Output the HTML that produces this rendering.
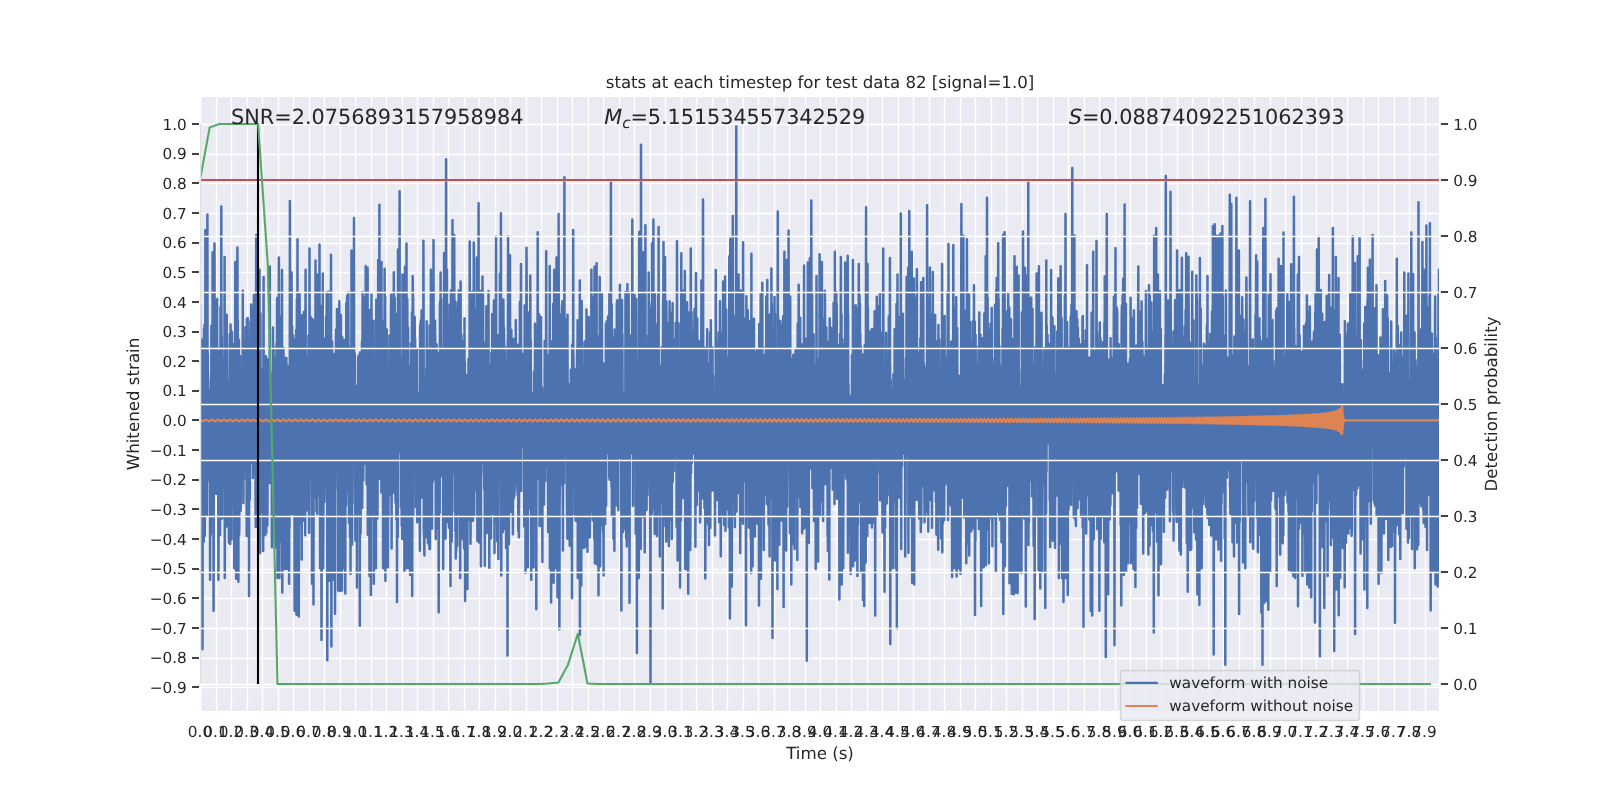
<!DOCTYPE html>
<html><head><meta charset="utf-8"><title>stats at each timestep</title>
<style>html,body{margin:0;padding:0;background:#fff;overflow:hidden}svg{display:block;will-change:transform;-webkit-font-smoothing:antialiased;text-rendering:geometricPrecision}</style></head>
<body>
<svg width="1600" height="800" viewBox="0 0 1600 800" font-family="'DejaVu Sans', 'Liberation Sans', sans-serif" fill="#262626">
<defs><clipPath id="ax"><rect x="200.0" y="96.0" width="1240.0" height="616.0"/></clipPath></defs>
<rect x="0" y="0" width="1600" height="800" fill="#fff"/>
<rect x="200.0" y="96.0" width="1240.0" height="616.0" fill="#EAEAF2"/>
<path d="M200.5 96.0V712.0M216.5 96.0V712.0M231.5 96.0V712.0M247.5 96.0V712.0M262.5 96.0V712.0M278.5 96.0V712.0M293.5 96.0V712.0M309.5 96.0V712.0M324.5 96.0V712.0M340.5 96.0V712.0M355.5 96.0V712.0M371.5 96.0V712.0M386.5 96.0V712.0M402.5 96.0V712.0M417.5 96.0V712.0M433.5 96.0V712.0M448.5 96.0V712.0M464.5 96.0V712.0M479.5 96.0V712.0M495.5 96.0V712.0M510.5 96.0V712.0M526.5 96.0V712.0M541.5 96.0V712.0M557.5 96.0V712.0M572.5 96.0V712.0M588.5 96.0V712.0M603.5 96.0V712.0M619.5 96.0V712.0M634.5 96.0V712.0M650.5 96.0V712.0M665.5 96.0V712.0M681.5 96.0V712.0M696.5 96.0V712.0M712.5 96.0V712.0M727.5 96.0V712.0M743.5 96.0V712.0M758.5 96.0V712.0M774.5 96.0V712.0M789.5 96.0V712.0M805.5 96.0V712.0M820.5 96.0V712.0M836.5 96.0V712.0M851.5 96.0V712.0M867.5 96.0V712.0M882.5 96.0V712.0M898.5 96.0V712.0M913.5 96.0V712.0M929.5 96.0V712.0M944.5 96.0V712.0M960.5 96.0V712.0M975.5 96.0V712.0M991.5 96.0V712.0M1006.5 96.0V712.0M1022.5 96.0V712.0M1037.5 96.0V712.0M1053.5 96.0V712.0M1068.5 96.0V712.0M1084.5 96.0V712.0M1099.5 96.0V712.0M1115.5 96.0V712.0M1130.5 96.0V712.0M1146.5 96.0V712.0M1161.5 96.0V712.0M1177.5 96.0V712.0M1192.5 96.0V712.0M1208.5 96.0V712.0M1223.5 96.0V712.0M1239.5 96.0V712.0M1254.5 96.0V712.0M1270.5 96.0V712.0M1285.5 96.0V712.0M1301.5 96.0V712.0M1316.5 96.0V712.0M1332.5 96.0V712.0M1347.5 96.0V712.0M1363.5 96.0V712.0M1378.5 96.0V712.0M1394.5 96.0V712.0M1409.5 96.0V712.0M1425.5 96.0V712.0M200.0 687.5H1440.0M200.0 658.5H1440.0M200.0 628.5H1440.0M200.0 598.5H1440.0M200.0 569.5H1440.0M200.0 539.5H1440.0M200.0 509.5H1440.0M200.0 480.5H1440.0M200.0 450.5H1440.0M200.0 420.5H1440.0M200.0 391.5H1440.0M200.0 361.5H1440.0M200.0 332.5H1440.0M200.0 302.5H1440.0M200.0 272.5H1440.0M200.0 243.5H1440.0M200.0 213.5H1440.0M200.0 183.5H1440.0M200.0 154.5H1440.0M200.0 124.5H1440.0" stroke="#fff" stroke-width="1.389" fill="none"/>
<g clip-path="url(#ax)" fill="none" stroke-linejoin="round" stroke-linecap="round">
<polyline points="200.0,304.8 200.2,457.5 200.4,417.8 200.6,388.1 200.8,483.1 201.0,420.3 201.2,420.5 201.4,445.4 201.6,339.6 201.7,372.7 201.9,470.1 202.1,434.1 202.3,380.3 202.5,649.2 202.7,439.7 202.9,535.9 203.1,376.4 203.3,410.6 203.5,398.6 203.7,541.7 203.9,329.2 204.1,408.2 204.3,451.2 204.5,325.3 204.7,424.1 204.8,535.7 205.0,452.6 205.2,512.5 205.4,230.0 205.6,453.5 205.8,479.4 206.0,335.2 206.2,437.6 206.4,377.9 206.6,402.0 206.8,473.1 207.0,516.1 207.2,304.3 207.4,214.5 207.6,446.6 207.8,353.7 207.9,434.7 208.1,375.3 208.3,480.3 208.5,429.8 208.7,396.8 208.9,390.0 209.1,434.7 209.3,399.0 209.5,462.1 209.7,445.8 209.9,401.6 210.1,579.8 210.3,400.4 210.5,431.0 210.7,445.0 210.8,534.5 211.0,380.6 211.2,428.0 211.4,325.7 211.6,449.8 211.8,396.8 212.0,428.4 212.2,458.6 212.4,450.9 212.6,252.3 212.8,515.3 213.0,503.9 213.2,444.3 213.4,514.2 213.6,610.8 213.8,442.9 213.9,411.8 214.1,306.2 214.3,301.0 214.5,243.6 214.7,394.1 214.9,362.1 215.1,435.8 215.3,468.5 215.5,368.4 215.7,349.4 215.9,387.4 216.1,493.8 216.3,436.0 216.5,467.4 216.7,444.3 216.9,317.4 217.1,298.9 217.2,367.3 217.4,376.9 217.6,366.7 217.8,421.4 218.0,426.5 218.2,474.0 218.4,579.8 218.6,532.9 218.8,351.4 219.0,447.6 219.2,457.9 219.4,489.1 219.6,390.7 219.8,389.3 220.0,535.1 220.2,381.8 220.3,465.7 220.5,307.1 220.7,408.0 220.9,421.0 221.1,456.8 221.3,206.4 221.5,396.6 221.7,336.6 221.9,375.5 222.1,518.5 222.3,405.9 222.5,418.7 222.7,454.5 222.9,471.9 223.1,406.1 223.2,451.5 223.4,487.7 223.6,369.8 223.8,410.1 224.0,426.5 224.2,358.4 224.4,381.6 224.6,257.1 224.8,577.9 225.0,397.9 225.2,469.5 225.4,449.2 225.6,461.8 225.8,403.8 226.0,506.1 226.2,430.5 226.3,413.4 226.5,526.6 226.7,314.7 226.9,390.8 227.1,476.9 227.3,381.0 227.5,462.6 227.7,509.6 227.9,519.2 228.1,461.4 228.3,442.2 228.5,485.9 228.7,442.8 228.9,542.5 229.1,419.3 229.3,421.6 229.4,435.9 229.6,365.1 229.8,333.7 230.0,455.2 230.2,544.1 230.4,360.2 230.6,324.6 230.8,342.5 231.0,494.3 231.2,387.7 231.4,353.9 231.6,539.4 231.8,382.6 232.0,332.1 232.2,475.8 232.4,374.1 232.6,505.5 232.7,485.0 232.9,485.4 233.1,405.2 233.3,427.7 233.5,344.6 233.7,495.2 233.9,430.9 234.1,344.1 234.3,568.2 234.5,525.7 234.7,367.6 234.9,458.5 235.1,389.8 235.3,262.0 235.5,323.6 235.7,411.2 235.8,366.8 236.0,529.3 236.2,578.8 236.4,441.0 236.6,330.0 236.8,398.7 237.0,480.0 237.2,334.5 237.4,247.4 237.6,334.9 237.8,319.6 238.0,462.1 238.2,369.9 238.4,581.7 238.6,408.8 238.8,497.7 238.9,339.8 239.1,535.0 239.3,527.2 239.5,449.2 239.7,357.8 239.9,396.6 240.1,356.0 240.3,455.7 240.5,434.1 240.7,510.8 240.9,445.6 241.1,373.3 241.3,444.3 241.5,382.7 241.7,466.0 241.8,467.5 242.0,417.3 242.2,435.9 242.4,373.4 242.6,406.3 242.8,290.7 243.0,437.9 243.2,438.5 243.4,503.1 243.6,418.6 243.8,366.2 244.0,479.3 244.2,424.4 244.4,363.4 244.6,430.5 244.8,461.7 244.9,343.1 245.1,412.7 245.3,388.9 245.5,327.4 245.7,329.5 245.9,448.0 246.1,462.2 246.3,397.9 246.5,431.0 246.7,536.1 246.9,319.1 247.1,418.9 247.3,361.9 247.5,513.6 247.7,318.1 247.9,467.2 248.1,429.0 248.2,531.8 248.4,433.7 248.6,438.7 248.8,435.2 249.0,595.9 249.2,415.7 249.4,342.9 249.6,457.6 249.8,499.6 250.0,422.0 250.2,370.5 250.4,321.6 250.6,355.8 250.8,462.8 251.0,390.5 251.2,304.4 251.3,415.5 251.5,461.4 251.7,395.9 251.9,460.4 252.1,369.7 252.3,421.5 252.5,309.8 252.7,380.8 252.9,478.0 253.1,372.4 253.3,346.1 253.5,465.6 253.7,454.3 253.9,295.0 254.1,348.7 254.2,467.1 254.4,473.3 254.6,361.8 254.8,438.2 255.0,360.0 255.2,427.5 255.4,383.0 255.6,508.0 255.8,527.0 256.0,350.1 256.2,234.9 256.4,422.9 256.6,318.6 256.8,496.0 257.0,453.8 257.2,338.9 257.4,484.2 257.5,419.8 257.7,376.3 257.9,468.3 258.1,394.3 258.3,434.3 258.5,546.6 258.7,400.0 258.9,346.3 259.1,432.2 259.3,426.0 259.5,269.7 259.7,519.7 259.9,539.4 260.1,553.1 260.3,515.5 260.4,313.5 260.6,395.8 260.8,489.1 261.0,469.3 261.2,426.8 261.4,468.9 261.6,481.0 261.8,396.3 262.0,369.7 262.2,402.8 262.4,492.6 262.6,512.5 262.8,373.1 263.0,424.8 263.2,550.9 263.4,327.4 263.6,276.9 263.7,439.6 263.9,441.1 264.1,402.1 264.3,475.0 264.5,527.6 264.7,394.8 264.9,534.8 265.1,389.4 265.3,535.0 265.5,428.3 265.7,431.2 265.9,356.2 266.1,505.0 266.3,532.9 266.5,471.8 266.6,509.7 266.8,467.3 267.0,387.0 267.2,359.1 267.4,525.6 267.6,479.0 267.8,362.2 268.0,365.8 268.2,436.6 268.4,456.5 268.6,427.1 268.8,414.7 269.0,366.1 269.2,414.6 269.4,436.4 269.6,482.9 269.8,266.4 269.9,340.6 270.1,459.1 270.3,402.2 270.5,472.5 270.7,482.9 270.9,414.1 271.1,378.9 271.3,465.2 271.5,436.9 271.7,373.9 271.9,547.3 272.1,410.8 272.3,388.7 272.5,421.8 272.7,515.0 272.9,536.5 273.0,327.5 273.2,421.8 273.4,377.6 273.6,346.9 273.8,424.3 274.0,445.0 274.2,495.7 274.4,460.2 274.6,541.1 274.8,426.0 275.0,434.4 275.2,388.4 275.4,430.5 275.6,407.8 275.8,357.9 275.9,490.8 276.1,443.3 276.3,548.1 276.5,343.2 276.7,417.4 276.9,381.5 277.1,297.9 277.3,334.7 277.5,577.9 277.7,357.9 277.9,534.2 278.1,386.0 278.3,409.4 278.5,549.0 278.7,314.2 278.9,257.5 279.1,366.2 279.2,453.8 279.4,577.9 279.6,316.2 279.8,486.4 280.0,542.0 280.2,430.9 280.4,353.0 280.6,450.0 280.8,469.2 281.0,381.7 281.2,456.1 281.4,473.3 281.6,530.4 281.8,397.0 282.0,269.9 282.1,509.0 282.3,592.4 282.5,537.1 282.7,421.5 282.9,474.7 283.1,450.4 283.3,477.4 283.5,348.0 283.7,429.1 283.9,378.8 284.1,382.3 284.3,484.5 284.5,375.2 284.7,392.7 284.9,569.1 285.1,452.1 285.2,454.4 285.4,358.0 285.6,517.5 285.8,486.4 286.0,378.0 286.2,449.5 286.4,358.1 286.6,385.6 286.8,569.1 287.0,385.2 287.2,468.2 287.4,499.0 287.6,429.0 287.8,478.0 288.0,471.4 288.2,366.3 288.4,436.6 288.5,475.4 288.7,445.1 288.9,395.7 289.1,583.7 289.3,447.9 289.5,528.0 289.7,495.3 289.9,200.9 290.1,335.0 290.3,412.8 290.5,486.9 290.7,412.8 290.9,439.5 291.1,377.1 291.3,411.1 291.4,469.9 291.6,272.6 291.8,514.2 292.0,355.3 292.2,326.5 292.4,514.1 292.6,387.0 292.8,499.2 293.0,335.3 293.2,348.6 293.4,438.7 293.6,341.4 293.8,454.7 294.0,471.5 294.2,465.6 294.4,431.6 294.6,610.8 294.7,408.2 294.9,469.3 295.1,359.7 295.3,339.3 295.5,459.8 295.7,533.8 295.9,362.9 296.1,330.0 296.3,433.4 296.5,614.7 296.7,399.3 296.9,299.3 297.1,353.8 297.3,382.5 297.5,239.3 297.6,488.4 297.8,380.9 298.0,523.6 298.2,396.9 298.4,316.1 298.6,406.4 298.8,616.6 299.0,418.3 299.2,522.3 299.4,431.1 299.6,293.4 299.8,440.3 300.0,503.5 300.2,523.6 300.4,505.2 300.6,447.1 300.8,522.4 300.9,477.2 301.1,479.8 301.3,482.6 301.5,396.0 301.7,559.5 301.9,315.3 302.1,459.2 302.3,400.2 302.5,408.6 302.7,378.4 302.9,400.1 303.1,495.4 303.3,520.6 303.5,406.5 303.7,514.5 303.9,312.1 304.0,417.3 304.2,502.0 304.4,446.0 304.6,460.8 304.8,430.9 305.0,345.3 305.2,535.2 305.4,346.3 305.6,269.7 305.8,434.5 306.0,407.5 306.2,385.1 306.4,434.8 306.6,356.9 306.8,491.4 306.9,415.3 307.1,486.5 307.3,510.2 307.5,371.6 307.7,375.2 307.9,407.6 308.1,509.6 308.3,397.3 308.5,335.4 308.7,473.4 308.9,435.1 309.1,532.7 309.3,485.3 309.5,248.4 309.7,349.4 309.9,368.2 310.1,346.3 310.2,372.1 310.4,447.1 310.6,361.3 310.8,414.2 311.0,317.4 311.2,478.9 311.4,463.5 311.6,367.9 311.8,318.8 312.0,583.7 312.2,477.1 312.4,429.9 312.6,460.0 312.8,439.4 313.0,349.0 313.1,320.0 313.3,396.5 313.5,604.6 313.7,327.2 313.9,373.8 314.1,374.2 314.3,422.4 314.5,334.6 314.7,449.9 314.9,359.7 315.1,477.0 315.3,497.5 315.5,260.6 315.7,393.6 315.9,411.4 316.1,442.7 316.2,418.6 316.4,511.0 316.6,327.6 316.8,338.6 317.0,383.7 317.2,513.9 317.4,330.9 317.6,274.6 317.8,443.1 318.0,439.2 318.2,402.4 318.4,331.1 318.6,438.4 318.8,344.2 319.0,495.4 319.2,371.0 319.4,456.9 319.5,244.5 319.7,370.3 319.9,406.7 320.1,568.2 320.3,362.6 320.5,356.6 320.7,530.5 320.9,376.0 321.1,367.1 321.3,480.2 321.5,639.9 321.7,525.7 321.9,306.1 322.1,439.3 322.3,426.7 322.4,325.3 322.6,431.8 322.8,273.6 323.0,503.7 323.2,568.2 323.4,531.1 323.6,437.0 323.8,338.5 324.0,402.7 324.2,350.2 324.4,502.0 324.6,490.6 324.8,457.4 325.0,375.0 325.2,392.1 325.4,421.7 325.6,371.0 325.7,432.5 325.9,422.2 326.1,316.8 326.3,467.0 326.5,405.9 326.7,292.4 326.9,412.4 327.1,364.3 327.3,660.2 327.5,471.3 327.7,423.1 327.9,510.6 328.1,504.2 328.3,291.8 328.5,392.4 328.6,441.3 328.8,522.3 329.0,391.5 329.2,580.8 329.4,475.5 329.6,538.9 329.8,508.1 330.0,403.5 330.2,395.7 330.4,414.6 330.6,432.5 330.8,438.7 331.0,254.8 331.2,502.5 331.4,646.6 331.6,383.5 331.8,474.1 331.9,501.7 332.1,341.5 332.3,392.5 332.5,471.0 332.7,438.6 332.9,424.4 333.1,370.5 333.3,579.8 333.5,474.3 333.7,471.5 333.9,455.6 334.1,353.9 334.3,513.8 334.5,429.4 334.7,494.0 334.9,399.1 335.0,613.7 335.2,390.6 335.4,459.9 335.6,438.2 335.8,378.7 336.0,329.6 336.2,414.0 336.4,340.7 336.6,376.1 336.8,443.9 337.0,308.9 337.2,405.5 337.4,317.7 337.6,467.5 337.8,489.3 337.9,323.2 338.1,590.5 338.3,370.1 338.5,349.6 338.7,458.1 338.9,525.7 339.1,438.4 339.3,301.3 339.5,348.4 339.7,459.8 339.9,516.6 340.1,591.0 340.3,351.0 340.5,519.2 340.7,453.0 340.9,315.1 341.1,427.5 341.2,518.9 341.4,525.0 341.6,415.1 341.8,359.0 342.0,590.5 342.2,337.0 342.4,351.6 342.6,472.9 342.8,462.4 343.0,358.6 343.2,408.6 343.4,399.2 343.6,369.7 343.8,349.1 344.0,568.2 344.1,340.1 344.3,469.5 344.5,386.9 344.7,420.3 344.9,450.1 345.1,526.1 345.3,593.4 345.5,407.7 345.7,441.2 345.9,505.9 346.1,500.2 346.3,303.0 346.5,442.0 346.7,463.2 346.9,461.0 347.1,295.9 347.2,467.3 347.4,370.5 347.6,399.3 347.8,401.4 348.0,490.1 348.2,368.1 348.4,292.6 348.6,424.6 348.8,493.5 349.0,523.0 349.2,405.3 349.4,442.1 349.6,428.7 349.8,419.5 350.0,537.7 350.2,358.4 350.4,401.8 350.5,574.0 350.7,402.0 350.9,346.9 351.1,416.2 351.3,488.0 351.5,250.4 351.7,454.9 351.9,478.1 352.1,544.5 352.3,419.8 352.5,503.7 352.7,461.7 352.9,384.8 353.1,417.8 353.3,339.7 353.4,396.2 353.6,452.5 353.8,446.6 354.0,218.0 354.2,369.1 354.4,418.7 354.6,453.1 354.8,353.3 355.0,412.8 355.2,457.4 355.4,540.6 355.6,385.7 355.8,401.5 356.0,416.4 356.2,454.9 356.4,486.7 356.6,438.5 356.7,402.1 356.9,587.5 357.1,431.9 357.3,457.6 357.5,393.5 357.7,401.9 357.9,480.2 358.1,360.0 358.3,357.6 358.5,355.8 358.7,430.8 358.9,435.9 359.1,512.5 359.3,360.5 359.5,414.5 359.6,451.5 359.8,625.7 360.0,352.4 360.2,420.5 360.4,497.1 360.6,533.8 360.8,478.4 361.0,412.0 361.2,416.1 361.4,436.2 361.6,474.8 361.8,437.1 362.0,341.2 362.2,507.9 362.4,417.8 362.6,291.9 362.8,376.4 362.9,456.7 363.1,367.9 363.3,480.2 363.5,419.9 363.7,297.0 363.9,379.9 364.1,432.7 364.3,364.8 364.5,362.3 364.7,463.8 364.9,399.9 365.1,300.7 365.3,459.6 365.5,384.5 365.7,265.9 365.9,312.4 366.0,393.0 366.2,435.1 366.4,346.7 366.6,484.3 366.8,366.1 367.0,449.6 367.2,384.7 367.4,404.4 367.6,267.8 367.8,534.8 368.0,513.1 368.2,445.0 368.4,372.2 368.6,422.0 368.8,471.3 369.0,478.1 369.1,465.9 369.3,494.2 369.5,575.9 369.7,459.7 369.9,310.0 370.1,394.8 370.3,485.5 370.5,466.8 370.7,325.2 370.9,594.9 371.1,397.0 371.3,363.2 371.5,294.4 371.7,517.2 371.9,479.7 372.1,352.1 372.2,381.1 372.4,450.5 372.6,473.8 372.8,481.0 373.0,365.5 373.2,431.7 373.4,462.6 373.6,320.7 373.8,583.7 374.0,520.9 374.2,396.9 374.4,449.7 374.6,463.6 374.8,478.2 375.0,431.3 375.1,358.3 375.3,360.6 375.5,377.2 375.7,442.6 375.9,568.2 376.1,398.0 376.3,299.8 376.5,335.5 376.7,433.8 376.9,356.7 377.1,451.1 377.3,424.8 377.5,518.5 377.7,445.5 377.9,409.3 378.1,433.9 378.2,260.0 378.4,384.9 378.6,315.4 378.8,444.7 379.0,478.5 379.2,472.3 379.4,204.8 379.6,417.7 379.8,387.0 380.0,405.9 380.2,405.1 380.4,407.9 380.6,430.9 380.8,479.4 381.0,453.3 381.2,337.2 381.4,492.6 381.5,262.0 381.7,467.0 381.9,417.8 382.1,320.4 382.3,339.8 382.5,335.6 382.7,334.0 382.9,332.5 383.1,568.2 383.3,471.8 383.5,429.9 383.7,408.8 383.9,430.7 384.1,373.8 384.3,463.3 384.4,470.2 384.6,268.8 384.8,414.0 385.0,458.6 385.2,296.7 385.4,580.8 385.6,360.3 385.8,465.3 386.0,381.0 386.2,390.5 386.4,358.7 386.6,329.2 386.8,331.0 387.0,406.9 387.2,365.7 387.4,511.4 387.5,369.3 387.7,366.1 387.9,567.2 388.1,481.9 388.3,425.1 388.5,516.9 388.7,393.4 388.9,397.0 389.1,495.8 389.3,416.7 389.5,335.6 389.7,336.0 389.9,340.2 390.1,432.4 390.3,447.3 390.5,451.5 390.6,373.4 390.8,415.9 391.0,308.8 391.2,294.5 391.4,313.2 391.6,548.6 391.8,436.4 392.0,454.8 392.2,321.2 392.4,449.6 392.6,473.2 392.8,417.4 393.0,376.2 393.2,459.3 393.4,470.4 393.6,474.3 393.8,272.2 393.9,492.7 394.1,330.3 394.3,413.5 394.5,360.7 394.7,297.7 394.9,473.6 395.1,485.3 395.3,386.5 395.5,502.4 395.7,478.4 395.9,429.5 396.1,408.0 396.3,519.2 396.5,450.8 396.7,374.2 396.9,313.8 397.0,602.1 397.2,316.9 397.4,350.5 397.6,506.5 397.8,537.0 398.0,249.4 398.2,453.7 398.4,409.7 398.6,352.3 398.8,449.9 399.0,407.6 399.2,382.8 399.4,350.1 399.6,191.3 399.8,435.8 400.0,401.4 400.1,439.1 400.3,416.2 400.5,369.8 400.7,386.6 400.9,507.5 401.1,358.9 401.3,481.9 401.5,456.6 401.7,526.0 401.9,461.4 402.1,415.5 402.3,539.0 402.5,274.6 402.7,426.6 402.9,520.3 403.1,519.4 403.2,486.2 403.4,531.7 403.6,371.9 403.8,499.0 404.0,359.6 404.2,347.3 404.4,571.1 404.6,417.2 404.8,458.3 405.0,266.8 405.2,446.9 405.4,439.5 405.6,364.2 405.8,339.3 406.0,507.5 406.1,452.6 406.3,568.2 406.5,243.6 406.7,434.7 406.9,319.2 407.1,433.7 407.3,299.0 407.5,454.0 407.7,486.3 407.9,416.9 408.1,327.8 408.3,568.2 408.5,476.9 408.7,366.2 408.9,548.0 409.1,498.0 409.2,512.6 409.4,377.0 409.6,519.8 409.8,498.8 410.0,469.0 410.2,575.0 410.4,447.0 410.6,538.1 410.8,434.9 411.0,343.2 411.2,345.1 411.4,409.8 411.6,371.2 411.8,349.6 412.0,312.3 412.2,595.9 412.4,445.9 412.5,442.0 412.7,275.9 412.9,296.4 413.1,298.0 413.3,515.9 413.5,437.9 413.7,338.9 413.9,362.5 414.1,416.0 414.3,416.3 414.5,431.4 414.7,316.9 414.9,443.7 415.1,338.4 415.3,376.5 415.4,392.1 415.6,383.7 415.8,411.7 416.0,507.3 416.2,363.5 416.4,363.8 416.6,431.9 416.8,362.4 417.0,349.0 417.2,522.3 417.4,431.7 417.6,455.7 417.8,492.4 418.0,394.8 418.2,487.4 418.4,455.0 418.5,401.0 418.7,392.7 418.9,394.9 419.1,445.6 419.3,460.5 419.5,400.6 419.7,516.3 419.9,550.7 420.1,328.8 420.3,324.0 420.5,471.0 420.7,442.7 420.9,320.2 421.1,427.9 421.3,344.3 421.5,497.7 421.6,310.5 421.8,338.8 422.0,383.6 422.2,483.9 422.4,433.1 422.6,408.4 422.8,399.5 423.0,428.8 423.2,437.8 423.4,240.7 423.6,309.6 423.8,532.0 424.0,529.4 424.2,543.2 424.4,555.6 424.6,425.1 424.8,376.5 424.9,412.8 425.1,440.6 425.3,474.6 425.5,408.0 425.7,406.3 425.9,394.2 426.1,478.4 426.3,368.9 426.5,537.1 426.7,321.2 426.9,474.8 427.1,467.6 427.3,516.0 427.5,357.7 427.7,538.4 427.9,404.9 428.0,543.2 428.2,512.7 428.4,384.9 428.6,418.0 428.8,385.8 429.0,452.5 429.2,349.5 429.4,548.8 429.6,325.6 429.8,402.0 430.0,548.9 430.2,360.0 430.4,516.7 430.6,406.1 430.8,401.9 430.9,269.7 431.1,369.0 431.3,501.6 431.5,405.3 431.7,463.9 431.9,435.0 432.1,528.5 432.3,411.5 432.5,390.5 432.7,429.8 432.9,481.6 433.1,418.3 433.3,407.6 433.5,240.1 433.7,413.8 433.9,463.7 434.1,384.8 434.2,336.4 434.4,469.7 434.6,425.1 434.8,415.6 435.0,320.8 435.2,334.7 435.4,478.5 435.6,414.7 435.8,539.1 436.0,497.2 436.2,419.3 436.4,370.4 436.6,344.6 436.8,445.1 437.0,527.9 437.1,388.9 437.3,434.2 437.5,386.8 437.7,407.7 437.9,363.6 438.1,368.4 438.3,353.4 438.5,456.9 438.7,612.2 438.9,460.4 439.1,413.7 439.3,413.5 439.5,392.1 439.7,513.1 439.9,302.0 440.1,341.0 440.2,329.8 440.4,404.8 440.6,272.6 440.8,439.0 441.0,476.1 441.2,298.9 441.4,449.7 441.6,458.6 441.8,455.7 442.0,465.5 442.2,350.7 442.4,449.7 442.6,424.1 442.8,379.9 443.0,350.7 443.2,569.1 443.4,348.6 443.5,437.8 443.7,475.0 443.9,451.5 444.1,252.9 444.3,301.8 444.5,408.7 444.7,376.2 444.9,485.1 445.1,381.4 445.3,355.1 445.5,538.7 445.7,461.2 445.9,357.6 446.1,159.3 446.3,450.2 446.5,372.7 446.6,408.2 446.8,452.0 447.0,269.7 447.2,349.7 447.4,522.0 447.6,332.3 447.8,396.2 448.0,325.4 448.2,328.0 448.4,393.4 448.6,381.9 448.8,521.3 449.0,527.7 449.2,500.3 449.4,448.1 449.6,346.3 449.7,304.4 449.9,445.9 450.1,525.4 450.3,544.2 450.5,586.0 450.7,412.6 450.9,290.5 451.1,326.4 451.3,493.7 451.5,418.0 451.7,541.4 451.9,452.6 452.1,511.4 452.3,365.5 452.5,220.3 452.6,473.8 452.8,447.9 453.0,407.6 453.2,414.6 453.4,360.4 453.6,448.5 453.8,447.7 454.0,372.7 454.2,234.9 454.4,333.5 454.6,440.3 454.8,428.3 455.0,512.3 455.2,301.3 455.4,531.2 455.6,404.4 455.8,558.5 455.9,393.6 456.1,361.3 456.3,550.7 456.5,437.2 456.7,402.9 456.9,308.9 457.1,455.7 457.3,545.7 457.5,476.2 457.7,316.3 457.9,302.3 458.1,319.5 458.3,482.8 458.5,432.5 458.7,290.6 458.8,478.6 459.0,447.0 459.2,496.2 459.4,512.9 459.6,324.6 459.8,370.3 460.0,384.7 460.2,577.9 460.4,339.3 460.6,281.4 460.8,421.0 461.0,447.5 461.2,501.8 461.4,334.5 461.6,461.4 461.8,539.2 461.9,441.8 462.1,418.5 462.3,354.3 462.5,340.7 462.7,478.5 462.9,484.0 463.1,446.5 463.3,516.7 463.5,429.2 463.7,383.8 463.9,417.0 464.1,548.6 464.3,515.2 464.5,318.3 464.7,501.0 464.9,361.8 465.1,601.1 465.2,446.0 465.4,499.7 465.6,403.7 465.8,490.9 466.0,434.4 466.2,412.0 466.4,375.2 466.6,438.5 466.8,445.0 467.0,518.6 467.2,435.6 467.4,589.1 467.6,459.7 467.8,447.3 468.0,442.9 468.1,468.5 468.3,494.7 468.5,358.8 468.7,366.1 468.9,368.8 469.1,394.6 469.3,520.3 469.5,410.7 469.7,241.6 469.9,335.4 470.1,461.8 470.3,367.4 470.5,543.8 470.7,514.2 470.9,463.1 471.1,364.6 471.2,376.9 471.4,397.6 471.6,482.5 471.8,330.6 472.0,494.0 472.2,292.1 472.4,365.1 472.6,354.8 472.8,341.9 473.0,520.7 473.2,383.1 473.4,403.1 473.6,341.0 473.8,242.6 474.0,425.6 474.2,514.7 474.4,439.5 474.5,419.2 474.7,400.1 474.9,309.6 475.1,382.2 475.3,401.1 475.5,417.4 475.7,448.4 475.9,466.5 476.1,326.0 476.3,446.7 476.5,490.2 476.7,257.5 476.9,433.2 477.1,440.9 477.3,497.0 477.4,541.1 477.6,505.5 477.8,431.7 478.0,398.0 478.2,330.1 478.4,394.4 478.6,203.3 478.8,487.5 479.0,459.6 479.2,542.4 479.4,386.4 479.6,357.5 479.8,523.8 480.0,411.6 480.2,290.9 480.4,407.1 480.6,444.4 480.7,371.5 480.9,566.2 481.1,413.7 481.3,462.6 481.5,453.8 481.7,412.9 481.9,463.7 482.1,314.1 482.3,349.1 482.5,276.5 482.7,428.0 482.9,294.6 483.1,307.4 483.3,390.6 483.5,435.4 483.7,448.7 483.8,473.6 484.0,469.3 484.2,489.2 484.4,403.0 484.6,386.9 484.8,565.8 485.0,438.0 485.2,477.2 485.4,394.8 485.6,342.7 485.8,417.6 486.0,430.7 486.2,375.4 486.4,306.3 486.6,425.4 486.8,533.0 486.9,465.0 487.1,433.3 487.3,450.8 487.5,359.0 487.7,481.2 487.9,379.8 488.1,404.8 488.3,445.0 488.5,290.9 488.7,464.9 488.9,473.7 489.1,397.0 489.3,567.8 489.5,420.5 489.7,498.4 489.9,365.4 490.0,372.4 490.2,397.4 490.4,437.9 490.6,403.4 490.8,465.4 491.0,538.6 491.2,414.4 491.4,352.8 491.6,500.9 491.8,474.0 492.0,513.8 492.2,313.9 492.4,470.7 492.6,374.3 492.8,489.1 492.9,414.4 493.1,470.1 493.3,367.7 493.5,414.3 493.7,378.5 493.9,300.5 494.1,434.3 494.3,454.8 494.5,553.1 494.7,440.4 494.9,423.5 495.1,400.5 495.3,326.2 495.5,520.7 495.7,425.6 495.9,307.2 496.1,236.4 496.2,461.7 496.4,492.8 496.6,406.3 496.8,431.0 497.0,370.3 497.2,541.2 497.4,334.9 497.6,452.5 497.8,369.4 498.0,477.8 498.2,523.6 498.4,558.9 498.6,496.3 498.8,450.2 499.0,369.0 499.1,334.7 499.3,404.3 499.5,463.4 499.7,456.3 499.9,273.6 500.1,330.2 500.3,446.1 500.5,430.4 500.7,480.2 500.9,213.3 501.1,344.4 501.3,575.5 501.5,400.2 501.7,464.2 501.9,470.7 502.1,395.5 502.2,427.6 502.4,391.1 502.6,529.0 502.8,532.0 503.0,411.7 503.2,447.7 503.4,299.4 503.6,368.6 503.8,354.3 504.0,328.0 504.2,371.0 504.4,529.0 504.6,448.0 504.8,397.8 505.0,347.1 505.2,477.0 505.4,395.2 505.5,359.8 505.7,423.8 505.9,381.2 506.1,548.0 506.3,515.2 506.5,511.8 506.7,391.0 506.9,533.1 507.1,399.6 507.3,432.2 507.5,655.4 507.7,342.3 507.9,363.7 508.1,236.4 508.3,339.6 508.4,422.4 508.6,355.4 508.8,417.3 509.0,544.0 509.2,373.0 509.4,426.6 509.6,389.5 509.8,393.6 510.0,255.2 510.2,392.2 510.4,399.4 510.6,384.9 510.8,452.7 511.0,422.2 511.2,512.0 511.4,330.1 511.5,371.8 511.7,389.3 511.9,478.3 512.1,402.4 512.3,440.1 512.5,345.3 512.7,493.2 512.9,534.2 513.1,465.0 513.3,365.1 513.5,340.0 513.7,339.0 513.9,498.2 514.1,437.9 514.3,496.0 514.5,435.3 514.6,491.7 514.8,487.6 515.0,385.1 515.2,404.9 515.4,434.0 515.6,392.9 515.8,320.0 516.0,411.1 516.2,450.5 516.4,351.6 516.6,398.2 516.8,360.6 517.0,482.0 517.2,485.3 517.4,411.7 517.6,494.7 517.8,479.7 517.9,344.8 518.1,390.4 518.3,531.0 518.5,347.7 518.7,486.1 518.9,537.3 519.1,483.3 519.3,478.2 519.5,373.4 519.7,478.6 519.9,301.8 520.1,402.9 520.3,477.5 520.5,486.7 520.7,402.3 520.8,323.8 521.0,263.9 521.2,490.7 521.4,370.4 521.6,406.2 521.8,418.7 522.0,437.4 522.2,373.5 522.4,446.3 522.6,417.1 522.8,354.1 523.0,421.1 523.2,427.6 523.4,388.8 523.6,394.8 523.8,402.0 524.0,392.8 524.1,467.3 524.3,526.5 524.5,393.3 524.7,305.5 524.9,340.1 525.1,437.5 525.3,371.8 525.5,573.0 525.7,389.9 525.9,468.7 526.1,409.3 526.3,330.4 526.5,247.8 526.7,301.4 526.9,481.9 527.0,475.0 527.2,423.6 527.4,376.2 527.6,437.0 527.8,567.2 528.0,464.2 528.2,312.4 528.4,343.5 528.6,509.1 528.8,374.1 529.0,438.2 529.2,339.5 529.4,463.2 529.6,395.7 529.8,377.1 530.0,368.5 530.1,494.8 530.3,275.5 530.5,430.5 530.7,339.8 530.9,402.5 531.1,521.4 531.3,579.8 531.5,480.1 531.7,438.7 531.9,460.9 532.1,392.8 532.3,533.4 532.5,509.5 532.7,488.9 532.9,486.1 533.1,499.8 533.2,489.1 533.4,512.2 533.6,567.2 533.8,455.3 534.0,371.6 534.2,406.5 534.4,394.4 534.6,467.4 534.8,426.3 535.0,323.7 535.2,422.3 535.4,396.2 535.6,358.4 535.8,379.4 536.0,400.0 536.2,466.6 536.3,609.2 536.5,418.7 536.7,430.7 536.9,414.4 537.1,471.2 537.3,404.7 537.5,365.7 537.7,232.3 537.9,445.0 538.1,438.6 538.3,452.6 538.5,418.7 538.7,478.9 538.9,397.7 539.1,314.3 539.3,437.8 539.5,431.7 539.6,526.0 539.8,445.2 540.0,499.2 540.2,426.0 540.4,489.5 540.6,525.8 540.8,398.2 541.0,316.9 541.2,395.4 541.4,414.3 541.6,506.7 541.8,429.8 542.0,387.8 542.2,475.0 542.4,562.0 542.5,426.7 542.7,395.4 542.9,463.0 543.1,462.5 543.3,406.2 543.5,393.1 543.7,396.2 543.9,504.7 544.1,482.2 544.3,425.7 544.5,465.4 544.7,341.1 544.9,399.0 545.1,421.0 545.3,480.9 545.5,359.1 545.6,446.0 545.8,392.7 546.0,393.2 546.2,251.3 546.4,366.6 546.6,466.4 546.8,465.9 547.0,443.7 547.2,434.9 547.4,404.6 547.6,364.1 547.8,388.6 548.0,482.3 548.2,532.1 548.4,488.9 548.6,396.2 548.8,355.9 548.9,354.7 549.1,531.9 549.3,418.7 549.5,443.2 549.7,265.9 549.9,568.2 550.1,444.8 550.3,446.3 550.5,476.5 550.7,393.7 550.9,341.3 551.1,602.5 551.3,466.9 551.5,508.9 551.7,446.0 551.9,491.5 552.0,343.4 552.2,490.2 552.4,419.3 552.6,531.9 552.8,452.9 553.0,410.0 553.2,303.7 553.4,480.2 553.6,582.7 553.8,359.1 554.0,521.1 554.2,269.7 554.4,464.9 554.6,391.0 554.8,375.1 555.0,291.8 555.1,383.3 555.3,514.0 555.5,568.2 555.7,400.5 555.9,413.3 556.1,439.5 556.3,428.1 556.5,257.5 556.7,480.4 556.9,366.2 557.1,404.1 557.3,366.0 557.5,597.2 557.7,371.5 557.9,485.7 558.0,448.3 558.2,481.9 558.4,460.9 558.6,214.1 558.8,327.6 559.0,488.7 559.2,441.4 559.4,629.2 559.6,504.5 559.8,487.9 560.0,438.6 560.2,343.8 560.4,339.8 560.6,474.2 560.8,382.8 561.0,355.6 561.2,314.1 561.3,438.3 561.5,484.7 561.7,366.2 561.9,305.4 562.1,467.4 562.3,301.2 562.5,395.7 562.7,446.6 562.9,550.4 563.1,473.2 563.3,453.7 563.5,383.5 563.7,390.2 563.9,376.0 564.1,459.8 564.2,483.3 564.4,177.3 564.6,439.3 564.8,392.2 565.0,318.9 565.2,369.4 565.4,442.0 565.6,415.4 565.8,385.4 566.0,359.0 566.2,450.7 566.4,404.2 566.6,409.9 566.8,445.4 567.0,517.9 567.2,398.9 567.4,538.8 567.5,314.8 567.7,497.5 567.9,387.0 568.1,484.2 568.3,396.1 568.5,443.0 568.7,383.9 568.9,489.1 569.1,447.8 569.3,448.6 569.5,454.2 569.7,545.8 569.9,481.2 570.1,438.1 570.3,417.2 570.5,456.1 570.6,425.2 570.8,369.7 571.0,413.8 571.2,396.7 571.4,376.5 571.6,437.4 571.8,473.3 572.0,598.2 572.2,344.6 572.4,466.6 572.6,439.3 572.8,453.4 573.0,471.3 573.2,230.0 573.4,469.0 573.5,357.9 573.7,469.7 573.9,459.0 574.1,368.7 574.3,485.2 574.5,439.5 574.7,514.3 574.9,497.0 575.1,369.3 575.3,380.2 575.5,517.5 575.7,520.7 575.9,392.8 576.1,477.8 576.3,495.9 576.5,386.1 576.7,488.4 576.8,455.8 577.0,355.8 577.2,347.5 577.4,442.4 577.6,320.2 577.8,577.9 578.0,445.9 578.2,427.3 578.4,451.2 578.6,385.0 578.8,404.4 579.0,488.4 579.2,412.5 579.4,469.8 579.6,472.7 579.8,280.4 579.9,635.0 580.1,404.9 580.3,326.1 580.5,302.7 580.7,429.5 580.9,474.9 581.1,489.4 581.3,585.6 581.5,358.0 581.7,301.1 581.9,530.6 582.1,353.4 582.3,341.7 582.5,446.7 582.7,411.7 582.9,429.1 583.0,547.2 583.2,488.3 583.4,514.1 583.6,506.6 583.8,497.8 584.0,548.1 584.2,433.6 584.4,395.6 584.6,365.7 584.8,433.7 585.0,342.2 585.2,341.3 585.4,546.5 585.6,447.6 585.8,525.1 586.0,503.6 586.1,411.2 586.3,435.8 586.5,309.5 586.7,468.9 586.9,392.3 587.1,440.9 587.3,437.2 587.5,551.7 587.7,380.0 587.9,483.8 588.1,379.0 588.3,444.7 588.5,341.3 588.7,317.0 588.9,359.4 589.0,437.6 589.2,532.4 589.4,483.5 589.6,448.3 589.8,537.6 590.0,495.3 590.2,452.9 590.4,503.1 590.6,370.1 590.8,396.2 591.0,442.7 591.2,399.8 591.4,269.7 591.6,410.1 591.8,480.2 592.0,511.8 592.1,402.2 592.3,297.3 592.5,474.4 592.7,520.3 592.9,423.5 593.1,401.3 593.3,400.9 593.5,415.5 593.7,495.0 593.9,363.0 594.1,408.6 594.3,539.2 594.5,266.8 594.7,451.0 594.9,563.3 595.1,539.3 595.2,518.2 595.4,469.2 595.6,478.6 595.8,343.1 596.0,479.6 596.2,410.4 596.4,504.0 596.6,263.3 596.8,564.3 597.0,467.2 597.2,477.2 597.4,426.9 597.6,336.2 597.8,528.7 598.0,433.1 598.2,416.1 598.3,412.1 598.5,595.3 598.7,488.9 598.9,393.8 599.1,468.1 599.3,495.9 599.5,443.2 599.7,276.9 599.9,385.6 600.1,566.2 600.3,341.9 600.5,372.6 600.7,364.8 600.9,375.6 601.1,443.2 601.3,448.1 601.5,395.9 601.6,355.6 601.8,359.8 602.0,294.0 602.2,524.8 602.4,400.6 602.6,389.9 602.8,380.2 603.0,530.7 603.2,428.4 603.4,490.8 603.6,575.5 603.8,363.6 604.0,404.0 604.2,517.5 604.4,394.2 604.5,445.1 604.7,407.5 604.9,456.9 605.1,523.9 605.3,463.2 605.5,364.1 605.7,396.6 605.9,323.6 606.1,505.7 606.3,337.1 606.5,415.4 606.7,404.8 606.9,320.9 607.1,430.2 607.3,399.4 607.5,368.7 607.6,367.9 607.8,354.5 608.0,316.4 608.2,376.8 608.4,453.6 608.6,420.1 608.8,420.8 609.0,388.2 609.2,477.4 609.4,293.3 609.6,479.7 609.8,412.7 610.0,375.6 610.2,415.5 610.4,354.6 610.6,338.9 610.8,339.1 610.9,182.5 611.1,410.9 611.3,434.5 611.5,486.9 611.7,304.1 611.9,516.0 612.1,423.0 612.3,399.3 612.5,500.1 612.7,358.2 612.9,445.1 613.1,399.4 613.3,443.5 613.5,539.1 613.7,401.6 613.8,408.8 614.0,337.9 614.2,379.4 614.4,550.8 614.6,329.6 614.8,353.9 615.0,356.2 615.2,378.5 615.4,473.1 615.6,374.7 615.8,446.0 616.0,359.8 616.2,435.9 616.4,505.2 616.6,444.1 616.8,302.6 617.0,462.3 617.1,429.4 617.3,300.3 617.5,391.0 617.7,456.4 617.9,360.2 618.1,490.3 618.3,510.2 618.5,341.3 618.7,458.0 618.9,374.8 619.1,416.0 619.3,350.8 619.5,408.4 619.7,427.9 619.9,284.7 620.0,454.7 620.2,346.9 620.4,408.1 620.6,303.9 620.8,442.0 621.0,440.5 621.2,442.5 621.4,610.4 621.6,444.3 621.8,454.3 622.0,300.0 622.2,429.2 622.4,333.4 622.6,405.3 622.8,532.1 623.0,491.9 623.1,442.1 623.3,392.8 623.5,481.6 623.7,529.6 623.9,497.9 624.1,458.7 624.3,487.6 624.5,463.6 624.7,484.1 624.9,395.1 625.1,482.3 625.3,418.2 625.5,292.0 625.7,366.0 625.9,425.5 626.1,525.2 626.2,538.8 626.4,444.6 626.6,426.0 626.8,546.6 627.0,523.9 627.2,420.9 627.4,284.3 627.6,499.5 627.8,421.8 628.0,373.1 628.2,392.3 628.4,338.3 628.6,292.3 628.8,346.3 629.0,438.7 629.2,462.4 629.4,449.9 629.5,602.7 629.7,481.9 629.9,385.3 630.1,412.1 630.3,443.6 630.5,453.8 630.7,450.5 630.9,335.5 631.1,415.5 631.3,431.2 631.5,416.9 631.7,408.7 631.9,440.7 632.1,374.3 632.3,219.4 632.5,321.0 632.6,453.0 632.8,386.7 633.0,505.7 633.2,371.8 633.4,308.4 633.6,364.4 633.8,392.8 634.0,341.2 634.2,311.2 634.4,399.5 634.6,295.1 634.8,354.3 635.0,377.6 635.2,460.0 635.4,397.8 635.5,367.5 635.7,533.8 635.9,356.3 636.1,410.1 636.3,299.1 636.5,361.9 636.7,429.7 636.9,653.0 637.1,364.7 637.3,404.0 637.5,372.1 637.7,472.3 637.9,514.9 638.1,461.1 638.3,529.3 638.5,477.4 638.7,387.5 638.8,577.9 639.0,513.4 639.2,231.9 639.4,457.8 639.6,416.5 639.8,513.9 640.0,498.7 640.2,439.8 640.4,391.4 640.6,380.4 640.8,548.7 641.0,144.8 641.2,342.4 641.4,360.7 641.6,512.9 641.8,420.9 641.9,304.0 642.1,489.9 642.3,389.1 642.5,475.3 642.7,516.7 642.9,450.0 643.1,333.8 643.3,252.3 643.5,485.7 643.7,453.2 643.9,486.3 644.1,375.0 644.3,367.4 644.5,291.8 644.7,552.3 644.9,452.6 645.0,310.0 645.2,328.7 645.4,225.2 645.6,415.7 645.8,444.6 646.0,396.2 646.2,464.2 646.4,488.7 646.6,509.9 646.8,345.7 647.0,410.3 647.2,374.9 647.4,495.3 647.6,480.6 647.8,463.2 648.0,389.2 648.1,335.7 648.3,427.5 648.5,402.8 648.7,272.6 648.9,333.4 649.1,307.7 649.3,435.4 649.5,473.3 649.7,346.9 649.9,340.7 650.1,485.2 650.3,548.7 650.5,682.5 650.7,319.0 650.9,457.4 651.0,433.7 651.2,453.3 651.4,362.4 651.6,303.2 651.8,514.1 652.0,243.6 652.2,429.8 652.4,463.4 652.6,509.0 652.8,348.7 653.0,401.5 653.2,356.6 653.4,219.4 653.6,442.8 653.8,370.7 654.0,445.7 654.2,420.7 654.3,387.2 654.5,426.6 654.7,533.7 654.9,293.7 655.1,401.6 655.3,504.6 655.5,463.6 655.7,415.4 655.9,361.5 656.1,333.2 656.3,324.6 656.5,443.7 656.7,362.1 656.9,536.1 657.1,401.4 657.2,340.6 657.4,462.0 657.6,426.2 657.8,405.0 658.0,402.4 658.2,294.9 658.4,499.3 658.6,227.1 658.8,512.7 659.0,466.5 659.2,475.1 659.4,420.3 659.6,452.8 659.8,556.5 660.0,412.4 660.2,462.3 660.4,382.6 660.5,433.4 660.7,383.6 660.9,365.8 661.1,428.5 661.3,501.9 661.5,477.4 661.7,399.2 661.9,347.0 662.1,375.0 662.3,420.2 662.5,368.4 662.7,608.5 662.9,392.7 663.1,300.3 663.3,324.5 663.5,242.0 663.6,442.8 663.8,397.1 664.0,493.6 664.2,340.4 664.4,447.2 664.6,518.3 664.8,453.1 665.0,257.1 665.2,343.9 665.4,526.2 665.6,335.1 665.8,406.0 666.0,417.2 666.2,541.5 666.4,301.6 666.5,332.0 666.7,357.8 666.9,502.1 667.1,367.7 667.3,322.8 667.5,439.7 667.7,433.5 667.9,451.3 668.1,366.1 668.3,432.5 668.5,439.0 668.7,529.3 668.9,545.9 669.1,339.3 669.3,407.5 669.5,345.2 669.6,301.2 669.8,456.8 670.0,417.9 670.2,384.3 670.4,427.1 670.6,312.6 670.8,519.5 671.0,459.6 671.2,441.9 671.4,470.3 671.6,347.1 671.8,538.9 672.0,323.8 672.2,342.3 672.4,388.9 672.6,303.1 672.8,481.4 672.9,399.5 673.1,355.9 673.3,382.6 673.5,372.2 673.7,453.8 673.9,470.7 674.1,365.1 674.3,454.8 674.5,339.3 674.7,349.9 674.9,448.5 675.1,384.1 675.3,406.7 675.5,423.8 675.7,322.8 675.8,409.5 676.0,394.1 676.2,394.4 676.4,365.1 676.6,526.8 676.8,443.2 677.0,241.2 677.2,405.3 677.4,443.4 677.6,560.4 677.8,380.7 678.0,444.0 678.2,385.4 678.4,519.1 678.6,323.4 678.8,479.6 679.0,527.1 679.1,473.4 679.3,467.4 679.5,354.0 679.7,354.2 679.9,395.6 680.1,587.5 680.3,475.0 680.5,356.2 680.7,444.2 680.9,520.7 681.1,474.2 681.3,253.3 681.5,439.6 681.7,477.8 681.9,373.8 682.0,450.0 682.2,463.0 682.4,435.8 682.6,384.8 682.8,431.2 683.0,498.0 683.2,389.5 683.4,423.7 683.6,431.9 683.8,290.6 684.0,349.7 684.2,357.7 684.4,446.8 684.6,478.0 684.8,271.1 685.0,433.3 685.1,456.1 685.3,569.1 685.5,506.1 685.7,468.0 685.9,347.8 686.1,416.7 686.3,357.2 686.5,477.8 686.7,569.1 686.9,466.3 687.1,302.3 687.3,347.0 687.5,372.9 687.7,380.3 687.9,381.8 688.1,459.6 688.2,593.8 688.4,381.8 688.6,312.5 688.8,397.0 689.0,316.8 689.2,477.6 689.4,509.2 689.6,520.3 689.8,348.4 690.0,448.4 690.2,550.1 690.4,521.1 690.6,390.1 690.8,248.4 691.0,473.1 691.2,345.8 691.3,382.9 691.5,312.2 691.7,333.2 691.9,462.8 692.1,392.2 692.3,421.1 692.5,371.3 692.7,391.8 692.9,405.8 693.1,351.3 693.3,402.8 693.5,453.4 693.7,404.8 693.9,420.1 694.1,334.4 694.3,331.9 694.5,309.1 694.6,357.5 694.8,424.2 695.0,392.3 695.2,394.9 695.4,546.8 695.6,496.5 695.8,320.2 696.0,273.0 696.2,425.4 696.4,416.8 696.6,394.7 696.8,504.9 697.0,400.5 697.2,318.3 697.4,343.2 697.5,422.5 697.7,369.4 697.9,340.8 698.1,369.9 698.3,460.7 698.5,392.7 698.7,397.3 698.9,384.7 699.1,490.4 699.3,387.2 699.5,407.9 699.7,389.5 699.9,392.3 700.1,522.4 700.3,340.7 700.5,349.3 700.6,515.0 700.8,416.3 701.0,476.3 701.2,444.9 701.4,280.4 701.6,367.3 701.8,378.7 702.0,402.3 702.2,498.4 702.4,400.9 702.6,409.4 702.8,377.5 703.0,199.6 703.2,375.5 703.4,399.0 703.6,478.7 703.8,421.0 703.9,473.8 704.1,452.4 704.3,386.0 704.5,508.0 704.7,480.6 704.9,497.6 705.1,347.7 705.3,578.4 705.5,512.5 705.7,383.9 705.9,401.6 706.1,432.9 706.3,420.1 706.5,465.0 706.7,382.4 706.9,454.4 707.0,415.0 707.2,329.0 707.4,521.7 707.6,462.4 707.8,471.0 708.0,480.8 708.2,524.5 708.4,439.9 708.6,406.4 708.8,427.6 709.0,545.0 709.2,365.3 709.4,363.4 709.6,413.5 709.8,498.2 710.0,487.0 710.1,332.3 710.3,527.9 710.5,382.1 710.7,491.8 710.9,320.2 711.1,405.9 711.3,465.7 711.5,465.3 711.7,383.0 711.9,436.6 712.1,360.7 712.3,470.2 712.5,347.6 712.7,450.6 712.9,490.4 713.0,375.3 713.2,401.7 713.4,486.1 713.6,423.5 713.8,412.2 714.0,405.6 714.2,398.3 714.4,471.1 714.6,421.6 714.8,412.2 715.0,535.5 715.2,465.6 715.4,430.7 715.6,436.0 715.8,270.1 716.0,362.6 716.1,340.6 716.3,433.4 716.5,381.6 716.7,477.2 716.9,391.9 717.1,382.4 717.3,460.2 717.5,500.0 717.7,472.1 717.9,493.5 718.1,428.3 718.3,471.1 718.5,412.1 718.7,332.3 718.9,394.1 719.1,436.9 719.2,522.2 719.4,444.1 719.6,515.3 719.8,392.7 720.0,301.2 720.2,337.2 720.4,467.7 720.6,498.7 720.8,556.2 721.0,385.7 721.2,375.7 721.4,358.2 721.6,394.0 721.8,516.8 722.0,404.1 722.2,332.6 722.4,487.6 722.5,382.3 722.7,386.6 722.9,509.0 723.1,281.4 723.3,400.5 723.5,368.8 723.7,465.4 723.9,374.3 724.1,524.9 724.3,461.4 724.5,518.0 724.7,466.0 724.9,472.8 725.1,276.5 725.3,474.1 725.5,530.8 725.6,438.1 725.8,367.8 726.0,416.5 726.2,309.6 726.4,503.3 726.6,360.6 726.8,484.3 727.0,357.2 727.2,408.9 727.4,402.5 727.6,468.7 727.8,465.9 728.0,509.8 728.2,366.0 728.4,443.0 728.6,363.7 728.7,527.2 728.9,371.3 729.1,342.2 729.3,256.2 729.5,396.6 729.7,332.4 729.9,618.5 730.1,342.8 730.3,238.7 730.5,354.1 730.7,452.5 730.9,483.3 731.1,455.7 731.3,450.6 731.5,468.4 731.6,491.5 731.8,586.6 732.0,467.7 732.2,517.4 732.4,496.0 732.6,382.9 732.8,215.9 733.0,382.0 733.2,364.8 733.4,320.2 733.6,456.5 733.8,486.6 734.0,407.6 734.2,410.2 734.4,317.1 734.6,416.9 734.8,455.0 734.9,527.0 735.1,437.8 735.3,415.2 735.5,327.4 735.7,412.7 735.9,313.9 736.1,322.5 736.3,125.2 736.5,511.4 736.7,471.3 736.9,439.5 737.1,485.0 737.3,365.3 737.5,367.2 737.7,324.8 737.9,398.6 738.0,455.4 738.2,388.3 738.4,492.9 738.6,274.6 738.8,481.0 739.0,328.8 739.2,489.1 739.4,353.3 739.6,350.4 739.8,423.8 740.0,393.7 740.2,553.1 740.4,317.7 740.6,448.2 740.8,419.6 741.0,290.6 741.1,471.5 741.3,387.4 741.5,385.7 741.7,520.6 741.9,394.4 742.1,473.4 742.3,357.3 742.5,491.0 742.7,352.3 742.9,523.7 743.1,242.2 743.3,395.7 743.5,393.4 743.7,481.0 743.9,357.9 744.0,464.1 744.2,438.0 744.4,342.6 744.6,433.3 744.8,436.8 745.0,363.8 745.2,420.5 745.4,451.2 745.6,318.2 745.8,470.5 746.0,625.3 746.2,409.8 746.4,296.3 746.6,417.8 746.8,405.0 747.0,393.0 747.1,333.3 747.3,454.0 747.5,471.0 747.7,310.2 747.9,454.4 748.1,398.4 748.3,424.7 748.5,390.2 748.7,527.6 748.9,463.7 749.1,425.0 749.3,412.1 749.5,333.6 749.7,380.2 749.9,375.0 750.1,425.1 750.2,320.8 750.4,468.9 750.6,428.3 750.8,538.8 751.0,504.0 751.2,573.0 751.4,253.8 751.6,505.4 751.8,424.2 752.0,439.6 752.2,510.9 752.4,394.4 752.6,566.2 752.8,420.2 753.0,346.1 753.2,469.9 753.4,335.5 753.5,442.3 753.7,441.4 753.9,318.7 754.1,390.9 754.3,453.2 754.5,430.5 754.7,404.0 754.9,536.4 755.1,368.2 755.3,421.4 755.5,523.7 755.7,496.0 755.9,352.5 756.1,521.5 756.3,382.3 756.4,505.9 756.6,404.9 756.8,349.6 757.0,427.1 757.2,462.9 757.4,383.3 757.6,406.4 757.8,448.4 758.0,524.1 758.2,360.9 758.4,480.3 758.6,394.6 758.8,385.2 759.0,605.4 759.2,324.0 759.4,467.0 759.5,411.5 759.7,514.7 759.9,360.9 760.1,414.0 760.3,423.5 760.5,349.3 760.7,293.6 760.9,578.8 761.1,447.1 761.3,392.3 761.5,403.0 761.7,515.0 761.9,337.1 762.1,456.7 762.3,282.7 762.5,429.9 762.6,482.9 762.8,412.3 763.0,401.5 763.2,447.9 763.4,394.5 763.6,471.7 763.8,550.0 764.0,425.7 764.2,355.3 764.4,461.4 764.6,436.9 764.8,465.4 765.0,494.9 765.2,403.9 765.4,494.9 765.6,415.3 765.8,346.7 765.9,484.7 766.1,430.9 766.3,296.7 766.5,354.7 766.7,484.2 766.9,503.9 767.1,479.0 767.3,280.0 767.5,457.6 767.7,460.8 767.9,479.7 768.1,375.3 768.3,486.1 768.5,524.5 768.7,469.7 768.9,424.5 769.0,410.0 769.2,361.4 769.4,481.3 769.6,556.2 769.8,314.5 770.0,399.3 770.2,381.7 770.4,460.0 770.6,477.4 770.8,497.8 771.0,439.5 771.2,467.5 771.4,268.4 771.6,402.4 771.8,303.5 772.0,392.1 772.1,331.7 772.3,445.4 772.5,637.9 772.7,418.8 772.9,451.5 773.1,514.1 773.3,342.0 773.5,410.5 773.7,476.0 773.9,408.3 774.1,435.6 774.3,374.7 774.5,297.0 774.7,472.8 774.9,560.4 775.0,314.1 775.2,520.5 775.4,471.9 775.6,495.9 775.8,518.7 776.0,424.1 776.2,414.9 776.4,444.1 776.6,356.8 776.8,488.2 777.0,470.5 777.2,522.8 777.4,589.1 777.6,337.8 777.8,211.6 778.0,489.9 778.1,316.8 778.3,399.8 778.5,365.8 778.7,376.7 778.9,448.1 779.1,436.0 779.3,544.7 779.5,466.0 779.7,440.5 779.9,514.1 780.1,414.6 780.3,321.0 780.5,461.5 780.7,498.9 780.9,489.9 781.1,407.3 781.2,324.6 781.4,409.1 781.6,417.8 781.8,520.6 782.0,395.8 782.2,372.5 782.4,454.2 782.6,424.2 782.8,474.4 783.0,363.8 783.2,316.2 783.4,392.1 783.6,606.9 783.8,417.9 784.0,472.9 784.2,483.2 784.4,251.7 784.5,412.8 784.7,422.5 784.9,341.8 785.1,363.3 785.3,304.2 785.5,360.5 785.7,441.2 785.9,414.2 786.1,550.4 786.3,322.6 786.5,467.9 786.7,260.0 786.9,407.1 787.1,506.7 787.3,470.6 787.5,426.7 787.6,467.6 787.8,414.5 788.0,402.1 788.2,371.3 788.4,430.0 788.6,230.4 788.8,447.8 789.0,373.2 789.2,328.3 789.4,396.1 789.6,439.1 789.8,407.1 790.0,533.3 790.2,296.4 790.4,396.6 790.5,472.3 790.7,359.3 790.9,422.0 791.1,422.3 791.3,584.6 791.5,413.1 791.7,492.9 791.9,461.9 792.1,359.1 792.3,441.3 792.5,381.2 792.7,422.0 792.9,448.0 793.1,497.6 793.3,354.7 793.5,486.8 793.6,391.7 793.8,544.2 794.0,399.8 794.2,390.9 794.4,471.7 794.6,549.1 794.8,433.7 795.0,413.2 795.2,462.6 795.4,474.8 795.6,349.5 795.8,430.1 796.0,454.2 796.2,354.6 796.4,422.9 796.6,476.5 796.8,352.6 796.9,449.8 797.1,348.4 797.3,560.0 797.5,395.9 797.7,323.8 797.9,385.3 798.1,381.8 798.3,385.9 798.5,353.6 798.7,284.7 798.9,385.9 799.1,439.2 799.3,423.2 799.5,490.1 799.7,356.2 799.9,498.3 800.0,378.8 800.2,317.7 800.4,507.1 800.6,469.2 800.8,496.7 801.0,485.6 801.2,395.8 801.4,507.5 801.6,344.2 801.8,382.6 802.0,464.8 802.2,533.2 802.4,478.0 802.6,388.6 802.8,505.5 803.0,478.1 803.1,372.8 803.3,499.5 803.5,398.3 803.7,528.7 803.9,343.0 804.1,265.5 804.3,511.7 804.5,382.5 804.7,350.6 804.9,346.5 805.1,466.9 805.3,339.8 805.5,527.2 805.7,496.1 805.9,431.8 806.1,338.7 806.2,439.6 806.4,503.2 806.6,399.1 806.8,660.8 807.0,383.3 807.2,436.6 807.4,471.5 807.6,421.0 807.8,262.4 808.0,401.7 808.2,326.3 808.4,379.4 808.6,497.3 808.8,542.9 809.0,319.5 809.1,462.6 809.3,439.2 809.5,405.2 809.7,469.1 809.9,258.1 810.1,305.1 810.3,461.7 810.5,428.3 810.7,392.6 810.9,397.6 811.1,348.4 811.3,200.6 811.5,339.8 811.7,378.8 811.9,468.2 812.1,294.7 812.2,434.3 812.4,487.9 812.6,352.1 812.8,371.4 813.0,424.8 813.2,416.5 813.4,376.6 813.6,334.3 813.8,428.2 814.0,521.1 814.2,466.9 814.4,382.3 814.6,438.1 814.8,474.4 815.0,365.2 815.2,364.5 815.4,438.3 815.5,400.1 815.7,569.1 815.9,470.2 816.1,449.2 816.3,529.2 816.5,276.1 816.7,428.9 816.9,462.6 817.1,414.8 817.3,412.7 817.5,481.7 817.7,469.9 817.9,485.9 818.1,561.4 818.3,388.6 818.5,430.6 818.6,359.0 818.8,509.6 819.0,500.2 819.2,502.0 819.4,417.6 819.6,254.2 819.8,446.3 820.0,515.1 820.2,479.0 820.4,416.2 820.6,456.2 820.8,501.0 821.0,391.4 821.2,501.0 821.4,462.7 821.5,418.4 821.7,489.1 821.9,262.0 822.1,482.7 822.3,501.0 822.5,464.8 822.7,378.9 822.9,500.2 823.1,521.0 823.3,443.1 823.5,460.6 823.7,460.3 823.9,436.3 824.1,364.5 824.3,318.5 824.5,416.8 824.7,429.6 824.8,290.7 825.0,301.1 825.2,484.2 825.4,473.3 825.6,443.5 825.8,381.7 826.0,447.3 826.2,455.3 826.4,327.6 826.6,451.0 826.8,449.0 827.0,390.2 827.2,423.7 827.4,424.6 827.6,535.8 827.8,382.5 827.9,550.7 828.1,341.9 828.3,443.9 828.5,418.5 828.7,416.3 828.9,392.4 829.1,494.4 829.3,579.4 829.5,419.7 829.7,318.5 829.9,456.2 830.1,432.8 830.3,448.5 830.5,467.8 830.7,457.4 830.9,453.0 831.0,391.2 831.2,327.9 831.4,439.4 831.6,407.2 831.8,457.2 832.0,390.3 832.2,435.3 832.4,352.2 832.6,411.4 832.8,489.6 833.0,358.3 833.2,401.7 833.4,431.2 833.6,302.7 833.8,450.2 833.9,461.8 834.1,434.7 834.3,428.0 834.5,504.1 834.7,392.1 834.9,251.7 835.1,477.9 835.3,366.2 835.5,341.1 835.7,332.0 835.9,364.1 836.1,356.6 836.3,292.1 836.5,406.4 836.7,303.4 836.9,442.6 837.1,498.8 837.2,428.5 837.4,453.9 837.6,390.1 837.8,397.1 838.0,395.1 838.2,345.3 838.4,366.6 838.6,486.5 838.8,419.8 839.0,479.8 839.2,372.3 839.4,599.6 839.6,426.9 839.8,452.7 840.0,333.7 840.1,542.4 840.3,446.2 840.5,436.3 840.7,322.9 840.9,257.1 841.1,421.8 841.3,402.0 841.5,314.3 841.7,584.6 841.9,404.1 842.1,447.7 842.3,339.1 842.5,350.8 842.7,456.0 842.9,381.9 843.1,542.4 843.2,568.2 843.4,495.0 843.6,457.8 843.8,344.9 844.0,473.3 844.2,408.0 844.4,435.4 844.6,450.7 844.8,364.7 845.0,438.2 845.2,262.4 845.4,302.1 845.6,374.2 845.8,454.4 846.0,363.3 846.2,478.4 846.4,472.7 846.5,333.1 846.7,381.9 846.9,318.6 847.1,452.0 847.3,418.0 847.5,481.8 847.7,255.8 847.9,552.7 848.1,313.7 848.3,488.6 848.5,385.0 848.7,406.5 848.9,403.9 849.1,536.0 849.3,432.7 849.5,403.8 849.6,456.5 849.8,528.9 850.0,463.7 850.2,501.1 850.4,397.6 850.6,574.0 850.8,399.3 851.0,396.0 851.2,439.7 851.4,410.2 851.6,481.9 851.8,419.8 852.0,355.1 852.2,467.7 852.4,370.6 852.5,545.6 852.7,422.2 852.9,260.0 853.1,566.2 853.3,414.5 853.5,387.1 853.7,408.7 853.9,541.7 854.1,480.0 854.3,418.7 854.5,477.8 854.7,480.2 854.9,427.4 855.1,534.7 855.3,560.4 855.5,305.5 855.7,491.2 855.8,305.6 856.0,341.5 856.2,449.5 856.4,361.3 856.6,344.9 856.8,522.1 857.0,440.3 857.2,309.3 857.4,575.9 857.6,357.1 857.8,372.0 858.0,524.5 858.2,374.6 858.4,381.2 858.6,323.8 858.8,263.9 858.9,389.8 859.1,395.9 859.3,444.9 859.5,295.3 859.7,348.9 859.9,303.3 860.1,397.7 860.3,333.1 860.5,502.2 860.7,475.8 860.9,346.2 861.1,572.0 861.3,457.8 861.5,413.5 861.7,408.0 861.8,412.8 862.0,387.1 862.2,451.8 862.4,515.9 862.6,497.5 862.8,392.3 863.0,600.1 863.2,473.3 863.4,354.6 863.6,375.1 863.8,444.2 864.0,492.9 864.2,606.0 864.4,367.3 864.6,435.5 864.8,344.8 865.0,380.9 865.1,518.0 865.3,493.6 865.5,403.5 865.7,562.4 865.9,339.6 866.1,207.3 866.3,380.5 866.5,451.2 866.7,448.2 866.9,346.1 867.1,422.9 867.3,535.9 867.5,263.9 867.7,387.9 867.9,307.2 868.0,376.6 868.2,503.8 868.4,427.8 868.6,345.0 868.8,479.7 869.0,409.4 869.2,331.5 869.4,523.0 869.6,453.9 869.8,410.1 870.0,347.5 870.2,431.5 870.4,481.0 870.6,379.0 870.8,472.4 871.0,390.2 871.1,395.0 871.3,439.2 871.5,355.0 871.7,329.3 871.9,527.5 872.1,381.8 872.3,436.4 872.5,447.1 872.7,416.3 872.9,329.1 873.1,434.5 873.3,448.5 873.5,522.6 873.7,435.8 873.9,422.5 874.1,498.4 874.2,446.5 874.4,384.0 874.6,311.3 874.8,444.4 875.0,455.9 875.2,615.6 875.4,352.0 875.6,373.6 875.8,412.6 876.0,470.2 876.2,425.3 876.4,415.0 876.6,406.7 876.8,296.8 877.0,515.5 877.2,376.0 877.4,339.0 877.5,473.0 877.7,328.1 877.9,426.0 878.1,398.2 878.3,306.2 878.5,452.2 878.7,396.2 878.9,313.5 879.1,328.7 879.3,399.8 879.5,351.0 879.7,386.2 879.9,293.2 880.1,500.3 880.3,333.5 880.4,405.6 880.6,342.6 880.8,332.5 881.0,461.0 881.2,372.6 881.4,467.7 881.6,361.5 881.8,474.9 882.0,501.0 882.2,340.8 882.4,515.2 882.6,532.6 882.8,352.6 883.0,407.5 883.2,248.4 883.4,321.6 883.6,513.1 883.7,451.6 883.9,424.5 884.1,426.4 884.3,417.3 884.5,591.8 884.7,426.4 884.9,374.7 885.1,527.2 885.3,415.2 885.5,463.9 885.7,495.9 885.9,391.7 886.1,332.8 886.3,377.5 886.5,440.4 886.6,357.0 886.8,503.4 887.0,390.1 887.2,374.0 887.4,422.2 887.6,435.4 887.8,405.7 888.0,460.3 888.2,432.8 888.4,356.9 888.6,471.9 888.8,316.3 889.0,379.1 889.2,398.4 889.4,495.3 889.6,448.2 889.8,462.8 889.9,257.9 890.1,365.7 890.3,644.1 890.5,411.1 890.7,380.1 890.9,492.7 891.1,445.6 891.3,390.4 891.5,535.7 891.7,432.8 891.9,412.0 892.1,464.5 892.3,432.3 892.5,484.7 892.7,568.2 892.8,428.8 893.0,398.8 893.2,474.0 893.4,374.2 893.6,450.5 893.8,423.4 894.0,389.2 894.2,390.9 894.4,464.8 894.6,329.3 894.8,410.1 895.0,449.0 895.2,502.0 895.4,417.5 895.6,568.2 895.8,480.7 896.0,460.0 896.1,431.0 896.3,349.1 896.5,303.7 896.7,387.8 896.9,628.6 897.1,379.9 897.3,344.2 897.5,274.6 897.7,380.5 897.9,409.1 898.1,458.2 898.3,454.2 898.5,470.4 898.7,404.9 898.9,316.9 899.0,494.6 899.2,468.3 899.4,497.7 899.6,424.7 899.8,339.7 900.0,446.7 900.2,396.4 900.4,432.3 900.6,432.1 900.8,213.5 901.0,468.9 901.2,548.9 901.4,384.4 901.6,429.2 901.8,437.1 902.0,466.1 902.2,432.8 902.3,450.5 902.5,412.6 902.7,379.9 902.9,313.8 903.1,370.5 903.3,438.5 903.5,448.9 903.7,379.8 903.9,392.2 904.1,453.5 904.3,433.6 904.5,393.5 904.7,453.9 904.9,446.4 905.1,453.9 905.2,556.5 905.4,522.4 905.6,494.5 905.8,391.5 906.0,358.6 906.2,424.5 906.4,371.8 906.6,276.9 906.8,388.3 907.0,362.3 907.2,325.6 907.4,436.5 907.6,448.0 907.8,454.0 908.0,387.1 908.2,267.8 908.4,552.7 908.5,345.6 908.7,355.0 908.9,497.8 909.1,469.5 909.3,211.0 909.5,348.6 909.7,517.3 909.9,419.9 910.1,351.0 910.3,392.8 910.5,502.0 910.7,434.0 910.9,367.5 911.1,381.0 911.3,494.8 911.4,452.6 911.6,401.8 911.8,251.7 912.0,444.9 912.2,582.7 912.4,472.7 912.6,422.2 912.8,417.0 913.0,403.5 913.2,389.8 913.4,359.1 913.6,402.0 913.8,465.2 914.0,278.4 914.2,584.6 914.4,297.4 914.6,337.6 914.7,491.2 914.9,453.7 915.1,449.4 915.3,448.0 915.5,382.7 915.7,431.5 915.9,479.5 916.1,302.9 916.3,311.1 916.5,414.4 916.7,499.9 916.9,269.3 917.1,476.0 917.3,486.7 917.5,493.0 917.6,398.5 917.8,393.8 918.0,383.5 918.2,489.6 918.4,393.8 918.6,353.6 918.8,398.6 919.0,447.4 919.2,518.6 919.4,392.4 919.6,465.5 919.8,348.0 920.0,472.1 920.2,444.9 920.4,338.2 920.6,464.0 920.8,532.0 920.9,361.6 921.1,282.3 921.3,523.8 921.5,443.6 921.7,331.9 921.9,396.8 922.1,351.3 922.3,425.4 922.5,465.2 922.7,459.4 922.9,439.8 923.1,401.9 923.3,277.9 923.5,485.8 923.7,414.8 923.9,363.2 924.0,466.5 924.2,414.6 924.4,498.8 924.6,522.3 924.8,402.6 925.0,420.3 925.2,367.6 925.4,516.1 925.6,409.4 925.8,419.8 926.0,434.8 926.2,424.5 926.4,443.7 926.6,374.8 926.8,384.7 927.0,397.9 927.1,205.2 927.3,419.4 927.5,511.2 927.7,367.4 927.9,462.9 928.1,298.7 928.3,531.6 928.5,450.0 928.7,297.9 928.9,416.6 929.1,360.9 929.3,366.0 929.5,454.9 929.7,352.2 929.9,267.4 930.0,442.4 930.2,470.0 930.4,431.6 930.6,389.0 930.8,500.3 931.0,314.1 931.2,488.7 931.4,475.0 931.6,464.3 931.8,490.9 932.0,527.8 932.2,440.7 932.4,391.4 932.6,426.1 932.8,272.1 933.0,488.3 933.2,443.4 933.3,418.9 933.5,490.5 933.7,421.8 933.9,437.1 934.1,337.7 934.3,370.2 934.5,380.5 934.7,341.4 934.9,468.1 935.1,314.9 935.3,405.1 935.5,457.2 935.7,388.2 935.9,502.0 936.1,489.9 936.2,399.7 936.4,534.5 936.6,506.1 936.8,458.5 937.0,462.4 937.2,384.6 937.4,351.4 937.6,340.9 937.8,377.6 938.0,491.4 938.2,549.8 938.4,324.9 938.6,394.6 938.8,463.4 939.0,446.9 939.2,479.6 939.3,339.6 939.5,384.3 939.7,415.1 939.9,513.8 940.1,452.8 940.3,491.8 940.5,484.1 940.7,489.6 940.9,504.4 941.1,538.5 941.3,453.8 941.5,394.9 941.7,461.7 941.9,439.0 942.1,263.9 942.3,552.3 942.5,328.6 942.6,482.8 942.8,405.5 943.0,523.2 943.2,330.4 943.4,364.9 943.6,344.8 943.8,412.6 944.0,430.6 944.2,519.9 944.4,396.9 944.6,316.0 944.8,389.0 945.0,429.4 945.2,484.4 945.4,384.0 945.5,484.0 945.7,432.8 945.9,357.7 946.1,435.1 946.3,383.6 946.5,417.7 946.7,370.5 946.9,468.4 947.1,459.5 947.3,451.5 947.5,381.8 947.7,291.8 947.9,418.0 948.1,520.1 948.3,468.0 948.5,244.0 948.6,383.0 948.8,418.5 949.0,503.7 949.2,448.4 949.4,347.9 949.6,384.9 949.8,464.7 950.0,362.2 950.2,390.1 950.4,463.0 950.6,406.2 950.8,377.6 951.0,505.8 951.2,341.5 951.4,431.3 951.6,371.5 951.8,389.5 951.9,398.7 952.1,576.9 952.3,420.2 952.5,368.0 952.7,384.9 952.9,533.6 953.1,385.1 953.3,245.1 953.5,351.0 953.7,404.1 953.9,467.3 954.1,374.6 954.3,568.2 954.5,307.0 954.7,494.4 954.9,438.6 955.0,461.5 955.2,441.4 955.4,443.8 955.6,457.1 955.8,454.1 956.0,449.9 956.2,297.3 956.4,469.7 956.6,576.5 956.8,334.1 957.0,464.8 957.2,328.0 957.4,386.3 957.6,470.0 957.8,476.2 957.9,410.6 958.1,436.6 958.3,413.9 958.5,568.2 958.7,375.7 958.9,473.7 959.1,458.0 959.3,435.7 959.5,519.3 959.7,446.3 959.9,437.7 960.1,534.0 960.3,431.2 960.5,574.0 960.7,442.7 960.9,432.9 961.1,471.2 961.2,299.4 961.4,203.9 961.6,369.5 961.8,384.1 962.0,497.7 962.2,388.2 962.4,432.3 962.6,323.0 962.8,384.9 963.0,451.2 963.2,310.8 963.4,235.8 963.6,462.9 963.8,336.6 964.0,391.9 964.1,386.0 964.3,517.5 964.5,497.0 964.7,310.4 964.9,409.0 965.1,462.2 965.3,341.5 965.5,325.2 965.7,363.1 965.9,496.7 966.1,421.2 966.3,563.3 966.5,463.7 966.7,544.4 966.9,239.3 967.1,344.2 967.2,402.3 967.4,383.4 967.6,404.9 967.8,412.0 968.0,325.7 968.2,421.6 968.4,383.3 968.6,317.2 968.8,454.3 969.0,294.4 969.2,555.6 969.4,405.5 969.6,455.7 969.8,479.4 970.0,462.3 970.2,496.0 970.3,521.0 970.5,322.1 970.7,384.5 970.9,341.7 971.1,379.6 971.3,531.3 971.5,416.8 971.7,489.4 971.9,482.6 972.1,428.3 972.3,406.3 972.5,412.1 972.7,409.4 972.9,442.1 973.1,416.9 973.3,320.8 973.5,528.5 973.6,331.0 973.8,436.9 974.0,285.2 974.2,343.6 974.4,340.0 974.6,322.8 974.8,321.4 975.0,615.1 975.2,441.5 975.4,541.0 975.6,334.9 975.8,370.9 976.0,487.3 976.2,418.5 976.4,451.2 976.5,454.5 976.7,518.1 976.9,448.2 977.1,368.6 977.3,430.6 977.5,476.7 977.7,409.6 977.9,364.0 978.1,432.2 978.3,379.6 978.5,346.6 978.7,373.7 978.9,528.9 979.1,429.6 979.3,312.5 979.5,440.3 979.7,363.6 979.8,438.2 980.0,447.0 980.2,398.5 980.4,334.4 980.6,412.7 980.8,422.0 981.0,496.4 981.2,606.0 981.4,410.4 981.6,435.0 981.8,399.3 982.0,338.3 982.2,355.7 982.4,490.3 982.6,400.5 982.8,398.6 982.9,440.3 983.1,342.5 983.3,484.5 983.5,428.5 983.7,567.2 983.9,446.0 984.1,531.8 984.3,313.4 984.5,424.4 984.7,457.7 984.9,379.4 985.1,366.8 985.3,428.0 985.5,468.2 985.7,256.2 985.9,565.3 986.0,433.0 986.2,382.7 986.4,459.4 986.6,461.4 986.8,452.6 987.0,197.7 987.2,419.9 987.4,457.9 987.6,297.8 987.8,398.4 988.0,464.4 988.2,479.7 988.4,530.3 988.6,404.7 988.8,485.0 988.9,563.3 989.1,352.3 989.3,348.2 989.5,373.9 989.7,378.8 989.9,468.0 990.1,329.7 990.3,517.2 990.5,323.7 990.7,425.4 990.9,348.1 991.1,456.4 991.3,516.0 991.5,504.0 991.7,307.9 991.9,449.2 992.1,520.8 992.2,358.8 992.4,546.2 992.6,436.6 992.8,396.8 993.0,400.4 993.2,390.1 993.4,430.9 993.6,513.6 993.8,404.3 994.0,427.4 994.2,439.6 994.4,385.0 994.6,362.9 994.8,407.0 995.0,304.8 995.1,518.3 995.3,401.2 995.5,451.6 995.7,526.8 995.9,571.7 996.1,466.4 996.3,290.0 996.5,346.3 996.7,277.9 996.9,369.9 997.1,493.2 997.3,511.6 997.5,363.3 997.7,504.8 997.9,404.5 998.1,434.2 998.2,243.2 998.4,399.1 998.6,298.5 998.8,355.2 999.0,485.1 999.2,516.8 999.4,346.2 999.6,421.5 999.8,363.7 1000.0,489.5 1000.2,520.0 1000.4,473.8 1000.6,368.3 1000.8,494.2 1001.0,468.5 1001.2,460.9 1001.4,403.3 1001.5,542.3 1001.7,416.2 1001.9,433.0 1002.1,507.0 1002.3,503.0 1002.5,328.9 1002.7,367.5 1002.9,391.1 1003.1,234.9 1003.3,614.1 1003.5,528.7 1003.7,464.7 1003.9,462.9 1004.1,473.2 1004.3,524.7 1004.5,522.7 1004.6,232.3 1004.8,462.7 1005.0,566.2 1005.2,416.2 1005.4,406.8 1005.6,409.1 1005.8,505.9 1006.0,372.3 1006.2,420.4 1006.4,345.4 1006.6,431.7 1006.8,486.2 1007.0,311.5 1007.2,430.7 1007.4,442.8 1007.5,438.3 1007.7,484.0 1007.9,398.3 1008.1,292.9 1008.3,307.5 1008.5,402.6 1008.7,375.0 1008.9,366.8 1009.1,476.8 1009.3,307.8 1009.5,583.3 1009.7,421.6 1009.9,377.3 1010.1,498.9 1010.3,402.4 1010.5,372.6 1010.7,451.1 1010.8,404.5 1011.0,319.2 1011.2,536.0 1011.4,492.1 1011.6,436.2 1011.8,593.8 1012.0,338.8 1012.2,347.6 1012.4,384.9 1012.6,434.8 1012.8,343.1 1013.0,532.2 1013.2,453.0 1013.4,412.5 1013.6,461.1 1013.8,594.3 1013.9,371.8 1014.1,483.9 1014.3,461.3 1014.5,256.2 1014.7,331.7 1014.9,501.4 1015.1,380.2 1015.3,366.9 1015.5,434.9 1015.7,592.4 1015.9,342.2 1016.1,500.0 1016.3,474.2 1016.5,431.8 1016.7,266.8 1016.8,379.3 1017.0,483.0 1017.2,538.0 1017.4,548.6 1017.6,593.0 1017.8,341.1 1018.0,475.1 1018.2,382.1 1018.4,524.7 1018.6,275.5 1018.8,438.3 1019.0,369.6 1019.2,536.7 1019.4,424.0 1019.6,572.0 1019.8,421.4 1020.0,395.3 1020.1,389.3 1020.3,496.6 1020.5,438.7 1020.7,497.0 1020.9,386.3 1021.1,425.0 1021.3,455.4 1021.5,573.0 1021.7,451.4 1021.9,312.2 1022.1,458.5 1022.3,394.1 1022.5,337.6 1022.7,458.6 1022.9,482.8 1023.0,231.4 1023.2,348.6 1023.4,394.9 1023.6,326.5 1023.8,449.9 1024.0,466.8 1024.2,518.5 1024.4,452.6 1024.6,475.8 1024.8,438.4 1025.0,267.8 1025.2,485.6 1025.4,453.6 1025.6,352.1 1025.8,606.5 1026.0,474.3 1026.2,347.4 1026.3,322.0 1026.5,452.5 1026.7,449.2 1026.9,275.5 1027.1,504.0 1027.3,432.5 1027.5,318.7 1027.7,352.1 1027.9,363.3 1028.1,467.1 1028.3,182.5 1028.5,545.0 1028.7,435.0 1028.9,522.3 1029.1,428.1 1029.2,314.6 1029.4,298.3 1029.6,411.4 1029.8,396.9 1030.0,478.5 1030.2,480.2 1030.4,307.7 1030.6,336.1 1030.8,362.1 1031.0,392.7 1031.2,297.6 1031.4,448.6 1031.6,443.4 1031.8,320.1 1032.0,496.3 1032.2,392.5 1032.3,458.0 1032.5,309.1 1032.7,449.1 1032.9,455.5 1033.1,452.8 1033.3,364.0 1033.5,507.9 1033.7,545.9 1033.9,437.7 1034.1,456.4 1034.3,385.3 1034.5,455.6 1034.7,618.9 1034.9,405.3 1035.1,394.0 1035.3,347.0 1035.4,422.9 1035.6,358.2 1035.8,431.7 1036.0,427.4 1036.2,435.9 1036.4,385.7 1036.6,273.6 1036.8,339.3 1037.0,451.1 1037.2,316.6 1037.4,516.2 1037.6,469.7 1037.8,504.5 1038.0,409.2 1038.2,448.4 1038.4,436.6 1038.6,570.1 1038.7,461.5 1038.9,266.2 1039.1,417.7 1039.3,313.9 1039.5,331.7 1039.7,405.4 1039.9,371.3 1040.1,378.5 1040.3,588.5 1040.5,337.5 1040.7,476.8 1040.9,363.3 1041.1,415.0 1041.3,354.0 1041.5,312.8 1041.7,379.2 1041.8,464.3 1042.0,450.9 1042.2,572.0 1042.4,459.0 1042.6,456.3 1042.8,435.3 1043.0,454.3 1043.2,384.0 1043.4,461.6 1043.6,418.3 1043.8,483.9 1044.0,454.7 1044.2,362.3 1044.4,347.9 1044.6,465.4 1044.8,361.6 1044.9,400.8 1045.1,517.9 1045.3,607.9 1045.5,454.8 1045.7,429.7 1045.9,368.0 1046.1,513.1 1046.3,260.4 1046.5,471.9 1046.7,325.4 1046.9,440.0 1047.1,370.2 1047.3,428.8 1047.5,334.5 1047.7,391.6 1047.8,342.3 1048.0,366.3 1048.2,408.2 1048.4,443.6 1048.6,390.7 1048.8,343.9 1049.0,350.6 1049.2,379.1 1049.4,432.9 1049.6,365.8 1049.8,500.7 1050.0,423.4 1050.2,546.9 1050.4,475.8 1050.6,433.8 1050.8,533.5 1051.0,512.3 1051.1,269.9 1051.3,380.7 1051.5,333.7 1051.7,327.2 1051.9,368.9 1052.1,356.4 1052.3,396.1 1052.5,317.5 1052.7,540.8 1052.9,433.0 1053.1,336.9 1053.3,352.1 1053.5,413.6 1053.7,445.1 1053.9,352.2 1054.0,432.3 1054.2,508.1 1054.4,326.3 1054.6,449.0 1054.8,404.2 1055.0,547.8 1055.2,450.2 1055.4,383.0 1055.6,431.3 1055.8,376.4 1056.0,459.8 1056.2,374.4 1056.4,403.8 1056.6,414.0 1056.8,421.4 1057.0,495.6 1057.2,331.6 1057.3,342.5 1057.5,389.9 1057.7,355.0 1057.9,354.5 1058.1,423.3 1058.3,278.4 1058.5,453.8 1058.7,314.8 1058.9,577.9 1059.1,333.6 1059.3,371.3 1059.5,465.1 1059.7,408.1 1059.9,290.1 1060.1,543.8 1060.2,403.3 1060.4,306.1 1060.6,266.2 1060.8,323.0 1061.0,406.5 1061.2,362.9 1061.4,446.8 1061.6,318.0 1061.8,382.3 1062.0,437.0 1062.2,577.9 1062.4,481.1 1062.6,390.5 1062.8,443.5 1063.0,378.2 1063.2,444.1 1063.3,385.7 1063.5,602.1 1063.7,470.9 1063.9,519.8 1064.1,348.9 1064.3,505.1 1064.5,383.8 1064.7,432.5 1064.9,296.1 1065.1,412.2 1065.3,403.6 1065.5,214.1 1065.7,577.9 1065.9,366.3 1066.1,429.1 1066.3,363.2 1066.4,502.9 1066.6,437.5 1066.8,387.5 1067.0,444.9 1067.2,322.1 1067.4,368.7 1067.6,469.2 1067.8,594.9 1068.0,420.7 1068.2,477.9 1068.4,451.7 1068.6,509.6 1068.8,358.2 1069.0,406.2 1069.2,396.0 1069.4,354.6 1069.6,347.5 1069.7,416.9 1069.9,439.4 1070.1,365.6 1070.3,379.6 1070.5,378.2 1070.7,316.4 1070.9,453.6 1071.1,504.8 1071.3,323.1 1071.5,304.8 1071.7,484.8 1071.9,330.5 1072.1,350.3 1072.3,168.0 1072.5,468.1 1072.7,393.1 1072.8,425.5 1073.0,423.0 1073.2,371.6 1073.4,348.2 1073.6,472.2 1073.8,517.6 1074.0,468.4 1074.2,307.6 1074.4,235.4 1074.6,484.5 1074.8,431.0 1075.0,394.0 1075.2,317.4 1075.4,520.3 1075.6,348.8 1075.8,317.6 1075.9,526.1 1076.1,489.6 1076.3,362.8 1076.5,311.2 1076.7,462.0 1076.9,503.4 1077.1,392.7 1077.3,319.3 1077.5,508.3 1077.7,483.1 1077.9,327.7 1078.1,404.3 1078.3,486.0 1078.5,420.1 1078.7,382.2 1078.8,338.7 1079.0,396.9 1079.2,421.5 1079.4,499.3 1079.6,377.5 1079.8,379.7 1080.0,404.2 1080.2,419.0 1080.4,410.8 1080.6,344.5 1080.8,450.2 1081.0,516.8 1081.2,348.8 1081.4,450.7 1081.6,443.1 1081.8,386.4 1082.0,440.9 1082.1,426.3 1082.3,509.8 1082.5,316.9 1082.7,527.5 1082.9,315.9 1083.1,521.7 1083.3,477.6 1083.5,627.3 1083.7,351.2 1083.9,405.1 1084.1,457.8 1084.3,520.4 1084.5,341.6 1084.7,418.4 1084.9,387.8 1085.0,436.1 1085.2,461.2 1085.4,368.3 1085.6,397.6 1085.8,330.3 1086.0,405.4 1086.2,533.5 1086.4,360.0 1086.6,416.9 1086.8,439.4 1087.0,265.3 1087.2,489.7 1087.4,407.7 1087.6,471.0 1087.8,400.7 1088.0,373.4 1088.2,422.2 1088.3,495.6 1088.5,386.6 1088.7,392.0 1088.9,440.6 1089.1,400.5 1089.3,519.5 1089.5,357.5 1089.7,441.8 1089.9,365.7 1090.1,435.9 1090.3,417.8 1090.5,370.6 1090.7,610.8 1090.9,391.5 1091.1,482.9 1091.2,374.6 1091.4,470.9 1091.6,312.8 1091.8,542.4 1092.0,350.8 1092.2,615.6 1092.4,525.9 1092.6,414.0 1092.8,487.4 1093.0,441.9 1093.2,251.7 1093.4,412.2 1093.6,354.8 1093.8,539.2 1094.0,379.5 1094.2,393.0 1094.3,360.4 1094.5,385.5 1094.7,351.7 1094.9,515.1 1095.1,443.2 1095.3,458.7 1095.5,504.4 1095.7,492.2 1095.9,481.5 1096.1,410.0 1096.3,365.8 1096.5,241.1 1096.7,361.4 1096.9,411.8 1097.1,332.6 1097.3,529.2 1097.5,412.3 1097.6,427.4 1097.8,413.2 1098.0,396.1 1098.2,359.9 1098.4,412.5 1098.6,382.8 1098.8,446.7 1099.0,435.7 1099.2,473.9 1099.4,610.8 1099.6,361.9 1099.8,322.5 1100.0,461.1 1100.2,438.2 1100.4,357.7 1100.5,338.8 1100.7,539.0 1100.9,365.8 1101.1,396.7 1101.3,451.1 1101.5,446.2 1101.7,491.5 1101.9,465.9 1102.1,485.3 1102.3,516.7 1102.5,454.6 1102.7,494.2 1102.9,367.6 1103.1,342.2 1103.3,436.5 1103.5,451.1 1103.7,373.8 1103.8,433.7 1104.0,414.1 1104.2,542.3 1104.4,323.0 1104.6,511.5 1104.8,276.5 1105.0,362.4 1105.2,461.6 1105.4,422.7 1105.6,447.0 1105.8,656.9 1106.0,475.4 1106.2,349.9 1106.4,378.2 1106.6,339.7 1106.8,214.1 1106.9,384.1 1107.1,425.2 1107.3,385.3 1107.5,385.3 1107.7,361.3 1107.9,502.7 1108.1,594.3 1108.3,475.2 1108.5,446.5 1108.7,359.7 1108.9,457.9 1109.1,398.7 1109.3,396.9 1109.5,414.4 1109.7,519.4 1109.8,383.7 1110.0,407.8 1110.2,390.6 1110.4,504.9 1110.6,338.2 1110.8,455.5 1111.0,445.9 1111.2,407.3 1111.4,432.3 1111.6,357.9 1111.8,411.3 1112.0,493.3 1112.2,438.8 1112.4,456.1 1112.6,439.1 1112.8,398.4 1112.9,384.1 1113.1,404.2 1113.3,418.0 1113.5,391.1 1113.7,349.8 1113.9,296.7 1114.1,486.3 1114.3,394.4 1114.5,645.3 1114.7,448.6 1114.9,444.8 1115.1,412.4 1115.3,327.8 1115.5,248.0 1115.7,397.5 1115.9,324.8 1116.1,428.9 1116.2,417.3 1116.4,471.2 1116.6,395.2 1116.8,307.4 1117.0,406.3 1117.2,310.8 1117.4,433.9 1117.6,364.8 1117.8,411.1 1118.0,439.4 1118.2,378.3 1118.4,373.9 1118.6,490.6 1118.8,344.2 1119.0,440.2 1119.2,411.6 1119.3,397.1 1119.5,421.5 1119.7,373.8 1119.9,350.8 1120.1,481.4 1120.3,454.5 1120.5,433.5 1120.7,525.2 1120.9,417.3 1121.1,516.9 1121.3,605.4 1121.5,351.3 1121.7,317.6 1121.9,305.6 1122.1,437.6 1122.2,495.7 1122.4,380.9 1122.6,295.5 1122.8,489.2 1123.0,311.7 1123.2,278.8 1123.4,452.3 1123.6,414.2 1123.8,575.0 1124.0,362.4 1124.2,334.8 1124.4,387.8 1124.6,204.4 1124.8,481.8 1125.0,504.3 1125.2,450.3 1125.3,500.0 1125.5,484.0 1125.7,357.8 1125.9,303.5 1126.1,572.0 1126.3,504.7 1126.5,427.8 1126.7,436.1 1126.9,440.2 1127.1,391.4 1127.3,363.8 1127.5,391.3 1127.7,367.3 1127.9,396.4 1128.1,563.3 1128.3,379.3 1128.5,396.5 1128.6,416.6 1128.8,385.6 1129.0,466.4 1129.2,406.0 1129.4,522.2 1129.6,361.8 1129.8,434.8 1130.0,358.4 1130.2,411.6 1130.4,497.9 1130.6,297.8 1130.8,478.6 1131.0,563.3 1131.2,423.7 1131.4,317.6 1131.5,451.1 1131.7,451.1 1131.9,402.8 1132.1,402.1 1132.3,472.3 1132.5,460.6 1132.7,431.6 1132.9,425.0 1133.1,335.3 1133.3,458.2 1133.5,569.1 1133.7,390.4 1133.9,310.6 1134.1,451.2 1134.3,450.3 1134.5,412.1 1134.7,465.7 1134.8,468.1 1135.0,473.9 1135.2,388.4 1135.4,587.0 1135.6,469.3 1135.8,483.3 1136.0,479.7 1136.2,528.0 1136.4,345.5 1136.6,396.6 1136.8,425.4 1137.0,507.8 1137.2,370.3 1137.4,440.7 1137.6,430.0 1137.8,414.3 1137.9,430.6 1138.1,343.1 1138.3,266.4 1138.5,474.1 1138.7,409.7 1138.9,437.7 1139.1,377.8 1139.3,348.3 1139.5,311.6 1139.7,345.1 1139.9,443.5 1140.1,434.3 1140.3,450.8 1140.5,329.3 1140.7,439.3 1140.8,488.9 1141.0,503.8 1141.2,361.4 1141.4,490.4 1141.6,301.4 1141.8,364.4 1142.0,394.2 1142.2,359.8 1142.4,342.1 1142.6,379.9 1142.8,389.4 1143.0,416.2 1143.2,553.6 1143.4,407.1 1143.6,373.1 1143.8,390.6 1143.9,356.5 1144.1,417.6 1144.3,480.9 1144.5,369.4 1144.7,422.2 1144.9,419.3 1145.1,448.8 1145.3,513.1 1145.5,500.0 1145.7,389.4 1145.9,290.9 1146.1,345.6 1146.3,434.3 1146.5,384.0 1146.7,426.7 1146.9,407.6 1147.1,386.7 1147.2,347.7 1147.4,510.2 1147.6,439.3 1147.8,429.5 1148.0,497.2 1148.2,389.6 1148.4,554.6 1148.6,422.3 1148.8,477.5 1149.0,285.2 1149.2,317.4 1149.4,392.5 1149.6,545.6 1149.8,295.7 1150.0,485.2 1150.2,350.9 1150.3,481.2 1150.5,326.7 1150.7,456.2 1150.9,399.1 1151.1,448.9 1151.3,302.5 1151.5,525.0 1151.7,442.5 1151.9,423.5 1152.1,409.5 1152.3,331.4 1152.5,431.2 1152.7,507.3 1152.9,531.0 1153.1,431.0 1153.2,382.5 1153.4,342.8 1153.6,370.2 1153.8,632.5 1154.0,374.2 1154.2,235.8 1154.4,316.0 1154.6,443.7 1154.8,441.8 1155.0,463.7 1155.2,341.4 1155.4,428.1 1155.6,422.4 1155.8,326.5 1156.0,512.2 1156.2,228.1 1156.3,336.1 1156.5,356.0 1156.7,370.4 1156.9,399.3 1157.1,541.4 1157.3,538.2 1157.5,354.6 1157.7,469.0 1157.9,274.6 1158.1,368.1 1158.3,443.9 1158.5,595.3 1158.7,376.4 1158.9,465.4 1159.1,446.7 1159.3,328.6 1159.5,440.3 1159.6,423.8 1159.8,396.1 1160.0,291.2 1160.2,408.2 1160.4,387.0 1160.6,462.8 1160.8,329.1 1161.0,564.3 1161.2,474.4 1161.4,517.5 1161.6,438.0 1161.8,479.0 1162.0,398.9 1162.2,473.0 1162.4,399.2 1162.5,385.2 1162.7,388.9 1162.9,390.1 1163.1,413.5 1163.3,485.6 1163.5,443.5 1163.7,392.2 1163.9,531.7 1164.1,393.2 1164.3,424.3 1164.5,424.2 1164.7,419.8 1164.9,374.8 1165.1,497.7 1165.3,395.2 1165.5,334.6 1165.7,357.7 1165.8,176.1 1166.0,442.4 1166.2,426.9 1166.4,449.0 1166.6,380.3 1166.8,399.8 1167.0,340.9 1167.2,489.6 1167.4,430.9 1167.6,385.3 1167.8,425.1 1168.0,300.4 1168.2,385.6 1168.4,350.2 1168.6,485.8 1168.8,421.2 1168.9,422.4 1169.1,379.0 1169.3,381.6 1169.5,420.1 1169.7,374.2 1169.9,521.3 1170.1,417.7 1170.3,471.8 1170.5,191.8 1170.7,302.2 1170.9,405.2 1171.1,343.4 1171.3,358.8 1171.5,382.2 1171.7,434.2 1171.8,466.8 1172.0,401.3 1172.2,447.5 1172.4,434.0 1172.6,441.2 1172.8,461.6 1173.0,512.1 1173.2,464.2 1173.4,331.9 1173.6,540.4 1173.8,411.7 1174.0,331.1 1174.2,398.8 1174.4,377.9 1174.6,391.8 1174.8,377.8 1175.0,384.9 1175.1,300.2 1175.3,390.4 1175.5,462.5 1175.7,442.1 1175.9,429.6 1176.1,364.9 1176.3,511.7 1176.5,517.8 1176.7,522.0 1176.9,347.4 1177.1,250.4 1177.3,408.5 1177.5,508.6 1177.7,423.4 1177.9,457.4 1178.0,476.1 1178.2,329.1 1178.4,410.0 1178.6,493.5 1178.8,463.3 1179.0,492.1 1179.2,510.4 1179.4,550.4 1179.6,290.3 1179.8,401.4 1180.0,391.1 1180.2,330.6 1180.4,407.5 1180.6,360.3 1180.8,554.6 1181.0,397.1 1181.2,353.2 1181.3,400.4 1181.5,405.3 1181.7,303.9 1181.9,257.7 1182.1,394.6 1182.3,455.1 1182.5,487.0 1182.7,470.8 1182.9,417.9 1183.1,386.7 1183.3,403.9 1183.5,429.0 1183.7,389.1 1183.9,388.2 1184.1,345.6 1184.2,389.4 1184.4,335.9 1184.6,464.1 1184.8,326.4 1185.0,450.2 1185.2,487.5 1185.4,421.3 1185.6,310.2 1185.8,394.7 1186.0,372.1 1186.2,253.3 1186.4,400.8 1186.6,377.4 1186.8,543.0 1187.0,467.7 1187.2,416.3 1187.3,393.8 1187.5,349.3 1187.7,591.8 1187.9,410.5 1188.1,471.2 1188.3,353.7 1188.5,256.8 1188.7,331.5 1188.9,516.8 1189.1,508.2 1189.3,476.7 1189.5,457.8 1189.7,477.2 1189.9,520.2 1190.1,467.1 1190.3,549.9 1190.4,342.8 1190.6,460.1 1190.8,522.1 1191.0,407.9 1191.2,549.4 1191.4,392.9 1191.6,449.8 1191.8,381.0 1192.0,379.3 1192.2,271.7 1192.4,351.4 1192.6,412.2 1192.8,369.6 1193.0,418.7 1193.2,458.2 1193.4,457.8 1193.6,320.4 1193.7,508.0 1193.9,394.8 1194.1,436.2 1194.3,532.3 1194.5,467.5 1194.7,379.5 1194.9,438.7 1195.1,436.6 1195.3,428.9 1195.5,415.9 1195.7,398.1 1195.9,429.3 1196.1,539.8 1196.3,275.5 1196.5,416.3 1196.7,293.3 1196.8,503.0 1197.0,299.5 1197.2,466.4 1197.4,594.3 1197.6,469.4 1197.8,446.2 1198.0,513.0 1198.2,539.1 1198.4,459.2 1198.6,386.3 1198.8,486.1 1199.0,405.3 1199.2,489.9 1199.4,605.0 1199.6,470.8 1199.8,541.5 1199.9,258.1 1200.1,496.7 1200.3,382.9 1200.5,461.5 1200.7,308.4 1200.9,398.9 1201.1,369.3 1201.3,439.1 1201.5,448.1 1201.7,568.2 1201.9,414.2 1202.1,391.6 1202.3,419.3 1202.5,400.8 1202.7,364.7 1202.8,430.6 1203.0,475.5 1203.2,504.1 1203.4,469.1 1203.6,451.1 1203.8,343.7 1204.0,351.6 1204.2,481.7 1204.4,376.7 1204.6,495.7 1204.8,357.9 1205.0,420.6 1205.2,346.0 1205.4,437.9 1205.6,404.3 1205.8,432.0 1206.0,506.8 1206.1,413.4 1206.3,422.5 1206.5,363.2 1206.7,373.7 1206.9,325.4 1207.1,378.9 1207.3,513.4 1207.5,275.9 1207.7,518.1 1207.9,479.6 1208.1,417.4 1208.3,488.8 1208.5,453.8 1208.7,342.6 1208.9,470.9 1209.0,493.7 1209.2,524.8 1209.4,498.3 1209.6,457.9 1209.8,419.5 1210.0,418.5 1210.2,333.8 1210.4,467.3 1210.6,493.4 1210.8,452.4 1211.0,484.0 1211.2,535.6 1211.4,351.6 1211.6,418.7 1211.8,455.6 1212.0,311.6 1212.2,463.1 1212.3,450.4 1212.5,325.8 1212.7,493.5 1212.9,226.1 1213.1,487.5 1213.3,512.2 1213.5,392.4 1213.7,654.4 1213.9,512.0 1214.1,402.4 1214.3,299.1 1214.5,357.0 1214.7,224.2 1214.9,465.9 1215.1,428.8 1215.2,384.1 1215.4,439.6 1215.6,385.7 1215.8,344.7 1216.0,539.2 1216.2,408.4 1216.4,235.8 1216.6,443.0 1216.8,472.9 1217.0,302.4 1217.2,428.6 1217.4,428.7 1217.6,464.6 1217.8,445.6 1218.0,445.7 1218.2,235.8 1218.3,540.3 1218.5,549.4 1218.7,471.3 1218.9,448.9 1219.1,467.7 1219.3,365.9 1219.5,424.9 1219.7,365.4 1219.9,404.3 1220.1,508.2 1220.3,384.7 1220.5,233.5 1220.7,410.6 1220.9,427.2 1221.1,560.8 1221.3,403.2 1221.4,504.2 1221.6,494.4 1221.8,404.4 1222.0,356.5 1222.2,444.9 1222.4,226.1 1222.6,475.5 1222.8,296.2 1223.0,392.3 1223.2,449.4 1223.4,446.0 1223.6,411.8 1223.8,335.8 1224.0,465.4 1224.2,492.5 1224.4,398.1 1224.5,432.5 1224.7,538.7 1224.9,432.9 1225.1,447.6 1225.3,664.7 1225.5,411.4 1225.7,404.3 1225.9,290.6 1226.1,373.7 1226.3,356.7 1226.5,458.6 1226.7,422.7 1226.9,475.9 1227.1,477.8 1227.3,357.4 1227.5,470.5 1227.7,368.0 1227.8,391.0 1228.0,380.9 1228.2,360.0 1228.4,429.1 1228.6,427.7 1228.8,373.7 1229.0,452.7 1229.2,416.6 1229.4,426.8 1229.6,361.3 1229.8,194.8 1230.0,485.1 1230.2,488.5 1230.4,514.0 1230.6,483.8 1230.8,440.2 1230.9,382.8 1231.1,427.2 1231.3,203.9 1231.5,455.4 1231.7,419.4 1231.9,376.6 1232.1,400.2 1232.3,355.8 1232.5,542.2 1232.7,406.7 1232.9,399.9 1233.1,496.9 1233.3,406.6 1233.5,463.3 1233.7,518.1 1233.8,524.3 1234.0,556.5 1234.2,376.7 1234.4,336.4 1234.6,363.1 1234.8,383.7 1235.0,506.0 1235.2,437.6 1235.4,443.3 1235.6,388.2 1235.8,490.0 1236.0,523.1 1236.2,500.6 1236.4,197.7 1236.6,471.4 1236.8,363.6 1237.0,461.5 1237.1,339.9 1237.3,542.5 1237.5,456.5 1237.7,374.2 1237.9,439.5 1238.1,491.9 1238.3,308.2 1238.5,531.9 1238.7,488.2 1238.9,250.4 1239.1,614.1 1239.3,421.7 1239.5,520.1 1239.7,522.0 1239.9,489.0 1240.0,428.4 1240.2,316.1 1240.4,349.7 1240.6,345.3 1240.8,460.2 1241.0,362.5 1241.2,358.2 1241.4,354.3 1241.6,422.1 1241.8,452.9 1242.0,333.3 1242.2,297.2 1242.4,438.1 1242.6,392.6 1242.8,334.4 1243.0,562.4 1243.2,385.3 1243.3,417.5 1243.5,319.8 1243.7,514.2 1243.9,364.3 1244.1,453.7 1244.3,392.4 1244.5,538.2 1244.7,431.6 1244.9,406.3 1245.1,421.8 1245.3,568.2 1245.5,332.1 1245.7,440.7 1245.9,456.5 1246.1,377.3 1246.2,336.4 1246.4,277.5 1246.6,313.1 1246.8,362.0 1247.0,450.0 1247.2,422.8 1247.4,482.0 1247.6,366.5 1247.8,412.2 1248.0,417.0 1248.2,444.6 1248.4,515.8 1248.6,460.4 1248.8,379.2 1249.0,448.8 1249.2,476.4 1249.3,387.2 1249.5,453.6 1249.7,401.4 1249.9,350.1 1250.1,201.3 1250.3,542.3 1250.5,478.2 1250.7,385.7 1250.9,434.1 1251.1,480.5 1251.3,372.8 1251.5,413.3 1251.7,384.5 1251.9,349.8 1252.1,449.3 1252.3,339.8 1252.5,405.7 1252.6,399.0 1252.8,339.5 1253.0,545.3 1253.2,548.7 1253.4,509.2 1253.6,352.7 1253.8,410.2 1254.0,463.0 1254.2,500.8 1254.4,436.4 1254.6,396.9 1254.8,421.7 1255.0,390.1 1255.2,348.9 1255.4,397.8 1255.5,314.6 1255.7,451.6 1255.9,302.9 1256.1,255.2 1256.3,461.7 1256.5,406.0 1256.7,425.3 1256.9,517.5 1257.1,467.0 1257.3,261.4 1257.5,406.9 1257.7,415.3 1257.9,552.3 1258.1,436.1 1258.3,368.8 1258.5,459.6 1258.7,506.7 1258.8,432.2 1259.0,439.6 1259.2,368.1 1259.4,318.2 1259.6,455.6 1259.8,336.2 1260.0,499.4 1260.2,391.3 1260.4,534.7 1260.6,460.4 1260.8,401.7 1261.0,450.1 1261.2,508.6 1261.4,612.7 1261.6,498.7 1261.8,346.8 1261.9,534.2 1262.1,341.4 1262.3,357.5 1262.5,664.7 1262.7,340.7 1262.9,437.4 1263.1,425.9 1263.3,228.1 1263.5,502.2 1263.7,442.7 1263.9,438.8 1264.1,603.0 1264.3,443.7 1264.5,432.8 1264.7,423.9 1264.8,401.4 1265.0,327.0 1265.2,361.9 1265.4,199.0 1265.6,444.3 1265.8,495.6 1266.0,451.2 1266.2,601.1 1266.4,339.1 1266.6,394.0 1266.8,377.3 1267.0,452.3 1267.2,435.5 1267.4,383.8 1267.6,484.9 1267.8,383.2 1268.0,355.9 1268.1,468.0 1268.3,609.8 1268.5,489.2 1268.7,294.9 1268.9,388.2 1269.1,338.2 1269.3,439.3 1269.5,490.0 1269.7,429.4 1269.9,315.0 1270.1,572.0 1270.3,361.2 1270.5,274.2 1270.7,390.0 1270.9,337.2 1271.0,500.2 1271.2,352.1 1271.4,483.8 1271.6,399.9 1271.8,363.7 1272.0,398.2 1272.2,412.2 1272.4,320.0 1272.6,450.5 1272.8,446.4 1273.0,491.0 1273.2,405.0 1273.4,361.2 1273.6,427.8 1273.8,421.9 1274.0,385.4 1274.1,370.7 1274.3,485.2 1274.5,437.1 1274.7,417.0 1274.9,478.8 1275.1,398.8 1275.3,412.9 1275.5,508.6 1275.7,509.2 1275.9,490.9 1276.1,311.0 1276.3,327.3 1276.5,444.4 1276.7,586.0 1276.9,308.5 1277.1,366.0 1277.2,324.0 1277.4,370.9 1277.6,385.9 1277.8,413.3 1278.0,478.7 1278.2,409.0 1278.4,496.5 1278.6,258.7 1278.8,437.1 1279.0,298.3 1279.2,446.5 1279.4,386.1 1279.6,480.5 1279.8,352.3 1280.0,483.7 1280.2,554.6 1280.3,377.7 1280.5,437.3 1280.7,526.9 1280.9,401.6 1281.1,265.9 1281.3,387.8 1281.5,488.4 1281.7,436.2 1281.9,420.2 1282.1,402.1 1282.3,321.2 1282.5,426.8 1282.7,543.3 1282.9,298.0 1283.1,387.0 1283.3,535.2 1283.5,232.5 1283.6,443.9 1283.8,409.9 1284.0,357.5 1284.2,438.4 1284.4,460.3 1284.6,495.1 1284.8,432.7 1285.0,414.1 1285.2,383.7 1285.4,362.7 1285.6,488.7 1285.8,382.9 1286.0,401.0 1286.2,349.5 1286.4,391.7 1286.5,410.8 1286.7,376.2 1286.9,416.7 1287.1,415.2 1287.3,294.1 1287.5,502.4 1287.7,326.3 1287.9,411.5 1288.1,465.9 1288.3,397.1 1288.5,511.3 1288.7,301.9 1288.9,570.1 1289.1,357.5 1289.3,374.8 1289.5,432.3 1289.7,354.8 1289.8,395.4 1290.0,434.4 1290.2,445.0 1290.4,476.7 1290.6,397.8 1290.8,434.6 1291.0,333.8 1291.2,264.3 1291.4,572.0 1291.6,454.7 1291.8,361.1 1292.0,481.8 1292.2,422.8 1292.4,389.1 1292.6,347.6 1292.8,472.1 1292.9,366.0 1293.1,391.7 1293.3,575.9 1293.5,410.6 1293.7,441.3 1293.9,196.7 1294.1,442.7 1294.3,328.9 1294.5,466.7 1294.7,408.5 1294.9,478.1 1295.1,577.9 1295.3,472.7 1295.5,483.8 1295.7,346.6 1295.9,394.0 1296.0,427.0 1296.2,497.4 1296.4,424.2 1296.6,389.5 1296.8,368.8 1297.0,475.6 1297.2,381.7 1297.4,434.5 1297.6,415.9 1297.8,274.6 1298.0,606.3 1298.2,454.1 1298.4,413.1 1298.6,408.9 1298.8,395.9 1299.0,257.1 1299.1,528.5 1299.3,342.3 1299.5,474.1 1299.7,335.0 1299.9,476.7 1300.1,374.3 1300.3,483.9 1300.5,388.0 1300.7,369.6 1300.9,351.9 1301.1,479.1 1301.3,522.6 1301.5,378.6 1301.7,404.3 1301.9,369.6 1302.0,515.6 1302.2,363.8 1302.4,575.9 1302.6,505.0 1302.8,456.9 1303.0,350.2 1303.2,408.5 1303.4,410.0 1303.6,414.8 1303.8,451.6 1304.0,326.0 1304.2,419.2 1304.4,533.6 1304.6,533.2 1304.8,464.1 1305.0,450.7 1305.2,364.1 1305.3,572.0 1305.5,361.5 1305.7,329.3 1305.9,458.0 1306.1,323.1 1306.3,473.9 1306.5,433.6 1306.7,459.5 1306.9,295.6 1307.1,330.5 1307.3,584.6 1307.5,509.6 1307.7,412.8 1307.9,509.6 1308.1,408.2 1308.2,376.4 1308.4,312.7 1308.6,431.5 1308.8,402.0 1309.0,431.2 1309.2,587.5 1309.4,356.2 1309.6,389.9 1309.8,306.4 1310.0,353.9 1310.2,520.0 1310.4,468.9 1310.6,365.9 1310.8,352.6 1311.0,365.8 1311.2,597.2 1311.3,352.0 1311.5,497.6 1311.7,439.5 1311.9,511.2 1312.1,341.7 1312.3,390.5 1312.5,364.4 1312.7,440.9 1312.9,450.4 1313.1,482.8 1313.3,408.2 1313.5,416.0 1313.7,347.7 1313.9,331.7 1314.1,464.7 1314.3,358.1 1314.5,471.2 1314.6,367.5 1314.8,496.1 1315.0,622.4 1315.2,313.1 1315.4,381.3 1315.6,294.0 1315.8,433.8 1316.0,364.6 1316.2,332.1 1316.4,502.7 1316.6,455.3 1316.8,419.0 1317.0,249.4 1317.2,452.9 1317.4,433.0 1317.5,391.2 1317.7,368.3 1317.9,473.6 1318.1,375.9 1318.3,391.0 1318.5,432.1 1318.7,236.8 1318.9,436.8 1319.1,292.0 1319.3,452.6 1319.5,313.6 1319.7,429.4 1319.9,656.3 1320.1,472.3 1320.3,397.7 1320.5,390.1 1320.7,505.8 1320.8,290.1 1321.0,421.5 1321.2,516.2 1321.4,410.3 1321.6,371.7 1321.8,391.5 1322.0,417.4 1322.2,313.7 1322.4,455.3 1322.6,547.3 1322.8,356.6 1323.0,343.1 1323.2,434.3 1323.4,404.0 1323.6,322.8 1323.8,373.5 1323.9,472.9 1324.1,444.6 1324.3,607.9 1324.5,416.6 1324.7,321.9 1324.9,499.7 1325.1,384.6 1325.3,429.0 1325.5,486.5 1325.7,357.2 1325.9,405.2 1326.1,521.2 1326.3,456.1 1326.5,340.2 1326.7,295.8 1326.8,409.3 1327.0,434.8 1327.2,357.8 1327.4,470.1 1327.6,575.9 1327.8,339.5 1328.0,509.6 1328.2,323.5 1328.4,392.5 1328.6,310.5 1328.8,447.3 1329.0,311.4 1329.2,275.0 1329.4,365.2 1329.6,483.0 1329.8,500.1 1330.0,323.1 1330.1,377.7 1330.3,371.8 1330.5,361.0 1330.7,366.9 1330.9,545.0 1331.1,441.5 1331.3,444.3 1331.5,363.6 1331.7,307.2 1331.9,488.2 1332.1,537.6 1332.3,357.7 1332.5,369.2 1332.7,303.7 1332.9,228.1 1333.0,447.7 1333.2,399.6 1333.4,310.5 1333.6,392.5 1333.8,449.4 1334.0,480.1 1334.2,650.9 1334.4,484.0 1334.6,326.7 1334.8,359.1 1335.0,472.1 1335.2,352.6 1335.4,426.0 1335.6,521.7 1335.8,257.1 1336.0,368.2 1336.2,412.6 1336.3,589.5 1336.5,360.7 1336.7,356.2 1336.9,317.1 1337.1,398.9 1337.3,294.4 1337.5,475.6 1337.7,453.1 1337.9,534.3 1338.1,423.6 1338.3,413.4 1338.5,278.1 1338.7,615.3 1338.9,335.7 1339.1,425.6 1339.2,496.1 1339.4,487.5 1339.6,334.4 1339.8,354.5 1340.0,435.7 1340.2,577.9 1340.4,521.7 1340.6,508.8 1340.8,500.1 1341.0,394.2 1341.2,452.2 1341.4,406.0 1341.6,508.0 1341.8,531.0 1342.0,385.8 1342.2,396.8 1342.3,384.3 1342.5,472.3 1342.7,398.2 1342.9,548.0 1343.1,510.1 1343.3,393.7 1343.5,498.0 1343.7,520.6 1343.9,497.5 1344.1,425.2 1344.3,455.2 1344.5,394.9 1344.7,587.2 1344.9,321.2 1345.1,427.9 1345.3,332.7 1345.5,341.3 1345.6,383.1 1345.8,417.2 1346.0,542.7 1346.2,371.5 1346.4,374.4 1346.6,372.8 1346.8,440.9 1347.0,357.4 1347.2,340.8 1347.4,455.0 1347.6,427.0 1347.8,376.6 1348.0,323.4 1348.2,500.4 1348.4,533.6 1348.5,425.4 1348.7,425.3 1348.9,377.9 1349.1,385.6 1349.3,462.3 1349.5,463.9 1349.7,369.6 1349.9,414.1 1350.1,527.7 1350.3,294.0 1350.5,467.4 1350.7,376.7 1350.9,374.4 1351.1,451.3 1351.3,476.5 1351.5,482.1 1351.6,535.8 1351.8,529.8 1352.0,486.7 1352.2,465.4 1352.4,376.1 1352.6,311.2 1352.8,236.2 1353.0,353.2 1353.2,447.4 1353.4,444.2 1353.6,391.0 1353.8,470.5 1354.0,399.2 1354.2,459.3 1354.4,490.6 1354.6,474.5 1354.8,262.9 1354.9,399.9 1355.1,634.0 1355.3,406.0 1355.5,482.6 1355.7,459.0 1355.9,450.0 1356.1,494.8 1356.3,434.6 1356.5,385.8 1356.7,399.1 1356.9,433.2 1357.1,335.2 1357.3,488.2 1357.5,331.3 1357.7,256.2 1357.8,404.7 1358.0,298.3 1358.2,485.3 1358.4,401.1 1358.6,432.9 1358.8,483.3 1359.0,447.1 1359.2,388.5 1359.4,388.6 1359.6,237.4 1359.8,474.8 1360.0,429.3 1360.2,430.4 1360.4,474.2 1360.6,553.6 1360.8,340.0 1361.0,515.0 1361.1,461.5 1361.3,451.8 1361.5,369.7 1361.7,466.3 1361.9,484.1 1362.1,539.4 1362.3,502.5 1362.5,497.9 1362.7,513.6 1362.9,481.7 1363.1,471.8 1363.3,445.7 1363.5,459.1 1363.7,385.7 1363.9,359.9 1364.0,507.0 1364.2,323.5 1364.4,589.5 1364.6,422.1 1364.8,354.5 1365.0,429.7 1365.2,307.0 1365.4,518.8 1365.6,325.2 1365.8,460.0 1366.0,363.5 1366.2,457.8 1366.4,406.7 1366.6,391.2 1366.8,362.0 1367.0,506.6 1367.2,539.9 1367.3,607.9 1367.5,300.7 1367.7,408.6 1367.9,267.8 1368.1,385.7 1368.3,462.4 1368.5,361.0 1368.7,486.7 1368.9,478.3 1369.1,398.5 1369.3,295.6 1369.5,501.3 1369.7,455.7 1369.9,259.7 1370.1,399.9 1370.2,335.3 1370.4,440.9 1370.6,437.3 1370.8,523.8 1371.0,431.9 1371.2,373.7 1371.4,357.6 1371.6,377.9 1371.8,431.9 1372.0,444.6 1372.2,412.2 1372.4,373.6 1372.6,234.9 1372.8,444.0 1373.0,396.3 1373.2,447.0 1373.4,406.4 1373.5,416.5 1373.7,500.1 1373.9,308.2 1374.1,374.0 1374.3,499.0 1374.5,502.9 1374.7,465.9 1374.9,474.8 1375.1,505.5 1375.3,410.7 1375.5,453.8 1375.7,503.2 1375.9,307.7 1376.1,455.9 1376.3,403.5 1376.5,285.2 1376.6,516.0 1376.8,508.8 1377.0,355.9 1377.2,372.6 1377.4,448.0 1377.6,453.1 1377.8,403.9 1378.0,497.6 1378.2,448.9 1378.4,355.3 1378.6,583.7 1378.8,379.1 1379.0,437.9 1379.2,415.5 1379.4,441.7 1379.5,363.2 1379.7,361.8 1379.9,387.1 1380.1,488.0 1380.3,420.4 1380.5,337.4 1380.7,509.5 1380.9,550.5 1381.1,447.5 1381.3,573.0 1381.5,530.1 1381.7,404.0 1381.9,452.7 1382.1,433.4 1382.3,398.3 1382.5,444.2 1382.7,474.8 1382.8,417.1 1383.0,309.3 1383.2,383.0 1383.4,375.6 1383.6,502.6 1383.8,470.3 1384.0,533.6 1384.2,357.0 1384.4,350.9 1384.6,395.5 1384.8,368.1 1385.0,462.0 1385.2,281.0 1385.4,334.1 1385.6,460.1 1385.8,348.5 1385.9,298.4 1386.1,518.7 1386.3,497.4 1386.5,295.1 1386.7,350.3 1386.9,305.7 1387.1,295.5 1387.3,450.7 1387.5,349.1 1387.7,318.2 1387.9,346.0 1388.1,400.7 1388.3,560.0 1388.5,486.1 1388.7,538.9 1388.8,492.2 1389.0,486.7 1389.2,411.2 1389.4,481.2 1389.6,470.2 1389.8,412.7 1390.0,384.9 1390.2,453.2 1390.4,372.7 1390.6,547.1 1390.8,521.7 1391.0,431.1 1391.2,321.6 1391.4,436.8 1391.6,462.0 1391.8,405.9 1392.0,482.8 1392.1,546.1 1392.3,372.9 1392.5,363.9 1392.7,380.0 1392.9,416.1 1393.1,391.2 1393.3,531.3 1393.5,512.8 1393.7,457.9 1393.9,350.3 1394.1,411.4 1394.3,424.1 1394.5,515.6 1394.7,416.6 1394.9,396.2 1395.0,622.8 1395.2,436.2 1395.4,534.1 1395.6,517.4 1395.8,354.3 1396.0,526.4 1396.2,525.9 1396.4,368.3 1396.6,456.3 1396.8,258.7 1397.0,421.0 1397.2,436.2 1397.4,471.8 1397.6,450.0 1397.8,325.9 1398.0,467.7 1398.2,423.1 1398.3,524.5 1398.5,439.8 1398.7,345.0 1398.9,440.8 1399.1,461.8 1399.3,534.5 1399.5,433.2 1399.7,354.6 1399.9,443.9 1400.1,501.5 1400.3,558.9 1400.5,355.5 1400.7,377.0 1400.9,440.5 1401.1,491.1 1401.2,332.5 1401.4,418.1 1401.6,453.1 1401.8,437.8 1402.0,392.8 1402.2,356.6 1402.4,425.3 1402.6,453.8 1402.8,513.2 1403.0,445.8 1403.2,440.6 1403.4,398.6 1403.6,425.6 1403.8,466.4 1404.0,433.1 1404.2,374.8 1404.3,272.6 1404.5,437.9 1404.7,443.7 1404.9,450.4 1405.1,397.1 1405.3,375.5 1405.5,447.0 1405.7,439.0 1405.9,393.3 1406.1,364.5 1406.3,315.7 1406.5,528.8 1406.7,357.0 1406.9,461.8 1407.1,374.8 1407.3,351.7 1407.5,354.2 1407.6,463.2 1407.8,343.4 1408.0,542.4 1408.2,419.2 1408.4,273.6 1408.6,479.8 1408.8,511.9 1409.0,537.9 1409.2,425.5 1409.4,510.2 1409.6,514.8 1409.8,486.7 1410.0,465.4 1410.2,384.1 1410.4,459.4 1410.5,497.5 1410.7,439.6 1410.9,379.3 1411.1,402.3 1411.3,232.5 1411.5,477.4 1411.7,330.3 1411.9,381.2 1412.1,548.9 1412.3,453.2 1412.5,358.9 1412.7,297.2 1412.9,442.7 1413.1,274.0 1413.3,463.5 1413.5,445.7 1413.7,361.1 1413.8,408.2 1414.0,506.6 1414.2,439.9 1414.4,479.9 1414.6,332.6 1414.8,568.2 1415.0,369.8 1415.2,377.9 1415.4,359.7 1415.6,360.1 1415.8,384.7 1416.0,475.8 1416.2,525.4 1416.4,423.6 1416.6,468.9 1416.8,383.3 1416.9,367.8 1417.1,549.3 1417.3,404.2 1417.5,445.9 1417.7,416.3 1417.9,521.5 1418.1,524.6 1418.3,545.1 1418.5,202.3 1418.7,428.0 1418.9,393.5 1419.1,328.6 1419.3,340.7 1419.5,466.1 1419.7,369.7 1419.8,353.3 1420.0,433.2 1420.2,502.9 1420.4,356.4 1420.6,354.0 1420.8,380.5 1421.0,481.2 1421.2,414.2 1421.4,506.2 1421.6,329.3 1421.8,330.3 1422.0,504.1 1422.2,404.2 1422.4,242.0 1422.6,319.2 1422.8,496.8 1423.0,438.3 1423.1,428.9 1423.3,510.7 1423.5,302.1 1423.7,522.9 1423.9,391.2 1424.1,342.4 1424.3,387.4 1424.5,269.7 1424.7,507.5 1424.9,418.7 1425.1,399.1 1425.3,400.1 1425.5,526.8 1425.7,441.3 1425.9,487.4 1426.0,312.1 1426.2,474.2 1426.4,225.6 1426.6,436.3 1426.8,438.6 1427.0,549.9 1427.2,306.8 1427.4,391.8 1427.6,448.2 1427.8,456.7 1428.0,381.7 1428.2,415.7 1428.4,396.7 1428.6,435.2 1428.8,494.8 1429.0,327.5 1429.1,360.2 1429.3,408.4 1429.5,296.2 1429.7,400.8 1429.9,223.2 1430.1,435.1 1430.3,408.4 1430.5,467.7 1430.7,610.4 1430.9,458.6 1431.1,388.3 1431.3,409.9 1431.5,479.3 1431.7,398.6 1431.9,333.6 1432.1,438.7 1432.2,352.9 1432.4,392.3 1432.6,454.1 1432.8,477.7 1433.0,353.7 1433.2,572.0 1433.4,378.1 1433.6,366.0 1433.8,358.6 1434.0,399.0 1434.2,402.9 1434.4,408.5 1434.6,537.3 1434.8,432.3 1435.0,321.4 1435.2,296.6 1435.3,402.0 1435.5,584.6 1435.7,338.0 1435.9,481.5 1436.1,499.2 1436.3,528.5 1436.5,357.5 1436.7,372.8 1436.9,415.2 1437.1,388.6 1437.3,483.4 1437.5,522.3 1437.7,586.6 1437.9,471.3 1438.1,479.7 1438.3,370.1 1438.5,293.4 1438.6,481.6 1438.8,425.4 1439.0,269.7 1439.2,348.5 1439.4,402.3 1439.6,411.9 1439.8,486.1" stroke="#4C72B0" stroke-width="2.5"/>
<polyline points="200.00,419.65 200.08,419.66 200.15,419.67 200.23,419.69 200.30,419.71 200.38,419.74 200.45,419.77 200.53,419.80 200.61,419.84 200.68,419.88 200.76,419.93 200.83,419.98 200.91,420.03 200.98,420.09 201.06,420.15 201.14,420.20 201.21,420.27 201.29,420.33 201.36,420.39 201.44,420.45 201.51,420.52 201.59,420.58 201.67,420.64 201.74,420.70 201.82,420.76 201.89,420.82 201.97,420.87 202.04,420.92 202.12,420.97 202.19,421.02 202.27,421.06 202.35,421.10 202.42,421.14 202.50,421.17 202.57,421.19 202.65,421.21 202.72,421.23 202.80,421.24 202.88,421.25 202.95,421.25 203.03,421.25 203.10,421.24 203.18,421.23 203.25,421.21 203.33,421.19 203.41,421.16 203.48,421.13 203.56,421.09 203.63,421.05 203.71,421.01 203.78,420.96 203.86,420.91 203.94,420.86 204.01,420.81 204.09,420.75 204.16,420.69 204.24,420.63 204.31,420.57 204.39,420.50 204.47,420.44 204.54,420.38 204.62,420.31 204.69,420.25 204.77,420.19 204.84,420.13 204.92,420.08 205.00,420.02 205.07,419.97 205.15,419.92 205.22,419.87 205.30,419.83 205.37,419.79 205.45,419.76 205.52,419.73 205.60,419.70 205.68,419.68 205.75,419.67 205.83,419.66 205.90,419.65 205.98,419.65 206.05,419.65 206.13,419.66 206.21,419.67 206.28,419.69 206.36,419.71 206.43,419.74 206.51,419.77 206.58,419.81 206.66,419.85 206.74,419.89 206.81,419.94 206.89,419.99 206.96,420.05 207.04,420.10 207.11,420.16 207.19,420.22 207.27,420.28 207.34,420.34 207.42,420.41 207.49,420.47 207.57,420.53 207.64,420.59 207.72,420.66 207.80,420.72 207.87,420.78 207.95,420.83 208.02,420.89 208.10,420.94 208.17,420.99 208.25,421.03 208.33,421.07 208.40,421.11 208.48,421.15 208.55,421.18 208.63,421.20 208.70,421.22 208.78,421.24 208.85,421.25 208.93,421.25 209.01,421.25 209.08,421.25 209.16,421.24 209.23,421.22 209.31,421.21 209.38,421.18 209.46,421.15 209.54,421.12 209.61,421.08 209.69,421.04 209.76,421.00 209.84,420.95 209.91,420.90 209.99,420.85 210.07,420.79 210.14,420.73 210.22,420.67 210.29,420.61 210.37,420.55 210.44,420.48 210.52,420.42 210.60,420.36 210.67,420.29 210.75,420.23 210.82,420.17 210.90,420.11 210.97,420.06 211.05,420.00 211.13,419.95 211.20,419.90 211.28,419.86 211.35,419.82 211.43,419.78 211.50,419.75 211.58,419.72 211.66,419.69 211.73,419.67 211.81,419.66 211.88,419.65 211.96,419.65 212.03,419.65 212.11,419.65 212.19,419.66 212.26,419.68 212.34,419.70 212.41,419.72 212.49,419.75 212.56,419.79 212.64,419.82 212.71,419.87 212.79,419.91 212.87,419.96 212.94,420.01 213.02,420.07 213.09,420.12 213.17,420.18 213.24,420.24 213.32,420.31 213.40,420.37 213.47,420.43 213.55,420.50 213.62,420.56 213.70,420.62 213.77,420.68 213.85,420.74 213.93,420.80 214.00,420.86 214.08,420.91 214.15,420.96 214.23,421.01 214.30,421.05 214.38,421.09 214.46,421.13 214.53,421.16 214.61,421.19 214.68,421.21 214.76,421.23 214.83,421.24 214.91,421.25 214.99,421.26 215.06,421.25 215.14,421.25 215.21,421.24 215.29,421.22 215.36,421.20 215.44,421.17 215.52,421.14 215.59,421.11 215.67,421.07 215.74,421.02 215.82,420.98 215.89,420.93 215.97,420.87 216.04,420.82 216.12,420.76 216.20,420.70 216.27,420.64 216.35,420.58 216.42,420.51 216.50,420.45 216.57,420.39 216.65,420.32 216.73,420.26 216.80,420.20 216.88,420.14 216.95,420.08 217.03,420.03 217.10,419.97 217.18,419.92 217.26,419.88 217.33,419.83 217.41,419.79 217.48,419.76 217.56,419.73 217.63,419.70 217.71,419.68 217.79,419.66 217.86,419.65 217.94,419.64 218.01,419.64 218.09,419.65 218.16,419.65 218.24,419.67 218.32,419.69 218.39,419.71 218.47,419.74 218.54,419.77 218.62,419.80 218.69,419.84 218.77,419.89 218.85,419.94 218.92,419.99 219.00,420.04 219.07,420.10 219.15,420.16 219.22,420.22 219.30,420.28 219.38,420.34 219.45,420.41 219.53,420.47 219.60,420.53 219.68,420.60 219.75,420.66 219.83,420.72 219.90,420.78 219.98,420.84 220.06,420.89 220.13,420.94 220.21,420.99 220.28,421.04 220.36,421.08 220.43,421.12 220.51,421.15 220.59,421.18 220.66,421.21 220.74,421.23 220.81,421.24 220.89,421.25 220.96,421.26 221.04,421.26 221.12,421.25 221.19,421.24 221.27,421.23 221.34,421.21 221.42,421.18 221.49,421.15 221.57,421.12 221.65,421.08 221.72,421.04 221.80,421.00 221.87,420.95 221.95,420.90 222.02,420.84 222.10,420.78 222.18,420.72 222.25,420.66 222.33,420.60 222.40,420.54 222.48,420.47 222.55,420.41 222.63,420.34 222.71,420.28 222.78,420.22 222.86,420.16 222.93,420.10 223.01,420.04 223.08,419.99 223.16,419.94 223.23,419.89 223.31,419.85 223.39,419.80 223.46,419.77 223.54,419.74 223.61,419.71 223.69,419.68 223.76,419.67 223.84,419.65 223.92,419.64 223.99,419.64 224.07,419.64 224.14,419.65 224.22,419.66 224.29,419.68 224.37,419.70 224.45,419.73 224.52,419.76 224.60,419.79 224.67,419.83 224.75,419.87 224.82,419.92 224.90,419.97 224.98,420.02 225.05,420.08 225.13,420.14 225.20,420.20 225.28,420.26 225.35,420.32 225.43,420.39 225.51,420.45 225.58,420.52 225.66,420.58 225.73,420.64 225.81,420.70 225.88,420.77 225.96,420.82 226.04,420.88 226.11,420.93 226.19,420.98 226.26,421.03 226.34,421.07 226.41,421.11 226.49,421.15 226.56,421.18 226.64,421.20 226.72,421.22 226.79,421.24 226.87,421.25 226.94,421.26 227.02,421.26 227.09,421.26 227.17,421.25 227.25,421.23 227.32,421.22 227.40,421.19 227.47,421.16 227.55,421.13 227.62,421.09 227.70,421.05 227.78,421.01 227.85,420.96 227.93,420.91 228.00,420.85 228.08,420.80 228.15,420.74 228.23,420.67 228.31,420.61 228.38,420.55 228.46,420.48 228.53,420.42 228.61,420.36 228.68,420.29 228.76,420.23 228.84,420.17 228.91,420.11 228.99,420.05 229.06,420.00 229.14,419.94 229.21,419.90 229.29,419.85 229.37,419.81 229.44,419.77 229.52,419.74 229.59,419.71 229.67,419.69 229.74,419.67 229.82,419.65 229.90,419.64 229.97,419.64 230.05,419.64 230.12,419.65 230.20,419.66 230.27,419.67 230.35,419.69 230.42,419.72 230.50,419.75 230.58,419.78 230.65,419.82 230.73,419.87 230.80,419.91 230.88,419.96 230.95,420.02 231.03,420.07 231.11,420.13 231.18,420.19 231.26,420.25 231.33,420.32 231.41,420.38 231.48,420.45 231.56,420.51 231.64,420.57 231.71,420.64 231.79,420.70 231.86,420.76 231.94,420.82 232.01,420.88 232.09,420.93 232.17,420.98 232.24,421.03 232.32,421.07 232.39,421.11 232.47,421.15 232.54,421.18 232.62,421.20 232.70,421.23 232.77,421.24 232.85,421.25 232.92,421.26 233.00,421.26 233.07,421.26 233.15,421.25 233.23,421.24 233.30,421.22 233.38,421.20 233.45,421.17 233.53,421.13 233.60,421.10 233.68,421.06 233.75,421.01 233.83,420.96 233.91,420.91 233.98,420.86 234.06,420.80 234.13,420.74 234.21,420.68 234.28,420.61 234.36,420.55 234.44,420.49 234.51,420.42 234.59,420.36 234.66,420.29 234.74,420.23 234.81,420.17 234.89,420.11 234.97,420.05 235.04,420.00 235.12,419.94 235.19,419.89 235.27,419.85 235.34,419.81 235.42,419.77 235.50,419.74 235.57,419.71 235.65,419.68 235.72,419.66 235.80,419.65 235.87,419.64 235.95,419.64 236.03,419.64 236.10,419.64 236.18,419.65 236.25,419.67 236.33,419.69 236.40,419.72 236.48,419.75 236.56,419.78 236.63,419.82 236.71,419.87 236.78,419.91 236.86,419.96 236.93,420.02 237.01,420.07 237.08,420.13 237.16,420.19 237.24,420.26 237.31,420.32 237.39,420.38 237.46,420.45 237.54,420.51 237.61,420.58 237.69,420.64 237.77,420.70 237.84,420.77 237.92,420.82 237.99,420.88 238.07,420.93 238.14,420.98 238.22,421.03 238.30,421.08 238.37,421.12 238.45,421.15 238.52,421.18 238.60,421.21 238.67,421.23 238.75,421.25 238.83,421.26 238.90,421.26 238.98,421.27 239.05,421.26 239.13,421.25 239.20,421.24 239.28,421.22 239.36,421.19 239.43,421.17 239.51,421.13 239.58,421.09 239.66,421.05 239.73,421.01 239.81,420.96 239.89,420.91 239.96,420.85 240.04,420.79 240.11,420.73 240.19,420.67 240.26,420.61 240.34,420.54 240.42,420.48 240.49,420.41 240.57,420.35 240.64,420.28 240.72,420.22 240.79,420.16 240.87,420.10 240.94,420.04 241.02,419.99 241.10,419.93 241.17,419.89 241.25,419.84 241.32,419.80 241.40,419.76 241.47,419.73 241.55,419.70 241.63,419.68 241.70,419.66 241.78,419.65 241.85,419.64 241.93,419.63 242.00,419.64 242.08,419.64 242.16,419.65 242.23,419.67 242.31,419.69 242.38,419.72 242.46,419.75 242.53,419.79 242.61,419.83 242.69,419.87 242.76,419.92 242.84,419.97 242.91,420.03 242.99,420.09 243.06,420.14 243.14,420.21 243.22,420.27 243.29,420.33 243.37,420.40 243.44,420.46 243.52,420.53 243.59,420.59 243.67,420.66 243.75,420.72 243.82,420.78 243.90,420.84 243.97,420.89 244.05,420.95 244.12,421.00 244.20,421.04 244.27,421.09 244.35,421.13 244.43,421.16 244.50,421.19 244.58,421.22 244.65,421.24 244.73,421.25 244.80,421.26 244.88,421.27 244.96,421.27 245.03,421.26 245.11,421.25 245.18,421.24 245.26,421.22 245.33,421.19 245.41,421.16 245.49,421.12 245.56,421.09 245.64,421.04 245.71,421.00 245.79,420.95 245.86,420.89 245.94,420.84 246.02,420.78 246.09,420.72 246.17,420.65 246.24,420.59 246.32,420.52 246.39,420.46 246.47,420.39 246.55,420.33 246.62,420.26 246.70,420.20 246.77,420.14 246.85,420.08 246.92,420.02 247.00,419.97 247.08,419.92 247.15,419.87 247.23,419.82 247.30,419.78 247.38,419.75 247.45,419.72 247.53,419.69 247.60,419.67 247.68,419.65 247.76,419.64 247.83,419.63 247.91,419.63 247.98,419.63 248.06,419.64 248.13,419.66 248.21,419.68 248.29,419.70 248.36,419.73 248.44,419.76 248.51,419.80 248.59,419.84 248.66,419.89 248.74,419.94 248.82,419.99 248.89,420.05 248.97,420.11 249.04,420.17 249.12,420.23 249.19,420.29 249.27,420.36 249.35,420.42 249.42,420.49 249.50,420.55 249.57,420.62 249.65,420.68 249.72,420.74 249.80,420.80 249.88,420.86 249.95,420.92 250.03,420.97 250.10,421.02 250.18,421.06 250.25,421.11 250.33,421.14 250.41,421.18 250.48,421.20 250.56,421.23 250.63,421.25 250.71,421.26 250.78,421.27 250.86,421.27 250.94,421.27 251.01,421.26 251.09,421.25 251.16,421.23 251.24,421.21 251.31,421.18 251.39,421.15 251.46,421.11 251.54,421.07 251.62,421.02 251.69,420.98 251.77,420.92 251.84,420.87 251.92,420.81 251.99,420.75 252.07,420.69 252.15,420.62 252.22,420.56 252.30,420.49 252.37,420.43 252.45,420.36 252.52,420.30 252.60,420.23 252.68,420.17 252.75,420.11 252.83,420.05 252.90,420.00 252.98,419.94 253.05,419.89 253.13,419.85 253.21,419.80 253.28,419.76 253.36,419.73 253.43,419.70 253.51,419.68 253.58,419.66 253.66,419.64 253.74,419.63 253.81,419.63 253.89,419.63 253.96,419.64 254.04,419.65 254.11,419.66 254.19,419.69 254.27,419.71 254.34,419.74 254.42,419.78 254.49,419.82 254.57,419.86 254.64,419.91 254.72,419.96 254.79,420.02 254.87,420.08 254.95,420.14 255.02,420.20 255.10,420.26 255.17,420.33 255.25,420.39 255.32,420.46 255.40,420.52 255.48,420.59 255.55,420.65 255.63,420.72 255.70,420.78 255.78,420.84 255.85,420.89 255.93,420.95 256.01,421.00 256.08,421.05 256.16,421.09 256.23,421.13 256.31,421.16 256.38,421.19 256.46,421.22 256.54,421.24 256.61,421.26 256.69,421.27 256.76,421.27 256.84,421.27 256.91,421.27 256.99,421.26 257.07,421.24 257.14,421.22 257.22,421.19 257.29,421.16 257.37,421.13 257.44,421.09 257.52,421.04 257.60,421.00 257.67,420.95 257.75,420.89 257.82,420.83 257.90,420.78 257.97,420.71 258.05,420.65 258.12,420.59 258.20,420.52 258.28,420.45 258.35,420.39 258.43,420.32 258.50,420.26 258.58,420.19 258.65,420.13 258.73,420.07 258.81,420.01 258.88,419.96 258.96,419.91 259.03,419.86 259.11,419.82 259.18,419.78 259.26,419.74 259.34,419.71 259.41,419.68 259.49,419.66 259.56,419.64 259.64,419.63 259.71,419.63 259.79,419.63 259.87,419.63 259.94,419.64 260.02,419.66 260.09,419.68 260.17,419.70 260.24,419.73 260.32,419.77 260.40,419.80 260.47,419.85 260.55,419.90 260.62,419.95 260.70,420.00 260.77,420.06 260.85,420.12 260.93,420.18 261.00,420.24 261.08,420.31 261.15,420.37 261.23,420.44 261.30,420.50 261.38,420.57 261.46,420.63 261.53,420.70 261.61,420.76 261.68,420.82 261.76,420.88 261.83,420.93 261.91,420.99 261.98,421.03 262.06,421.08 262.14,421.12 262.21,421.16 262.29,421.19 262.36,421.22 262.44,421.24 262.51,421.26 262.59,421.27 262.67,421.27 262.74,421.28 262.82,421.27 262.89,421.26 262.97,421.25 263.04,421.23 263.12,421.20 263.20,421.17 263.27,421.14 263.35,421.10 263.42,421.06 263.50,421.01 263.57,420.96 263.65,420.91 263.73,420.85 263.80,420.79 263.88,420.73 263.95,420.67 264.03,420.60 264.10,420.54 264.18,420.47 264.26,420.40 264.33,420.34 264.41,420.27 264.48,420.21 264.56,420.14 264.63,420.08 264.71,420.03 264.79,419.97 264.86,419.92 264.94,419.87 265.01,419.82 265.09,419.78 265.16,419.74 265.24,419.71 265.31,419.68 265.39,419.66 265.47,419.64 265.54,419.63 265.62,419.63 265.69,419.62 265.77,419.63 265.84,419.64 265.92,419.65 266.00,419.67 266.07,419.69 266.15,419.72 266.22,419.76 266.30,419.80 266.37,419.84 266.45,419.89 266.53,419.94 266.60,419.99 266.68,420.05 266.75,420.11 266.83,420.17 266.90,420.23 266.98,420.30 267.06,420.36 267.13,420.43 267.21,420.49 267.28,420.56 267.36,420.63 267.43,420.69 267.51,420.75 267.59,420.81 267.66,420.87 267.74,420.93 267.81,420.98 267.89,421.03 267.96,421.08 268.04,421.12 268.12,421.15 268.19,421.19 268.27,421.22 268.34,421.24 268.42,421.26 268.49,421.27 268.57,421.28 268.65,421.28 268.72,421.27 268.80,421.27 268.87,421.25 268.95,421.23 269.02,421.21 269.10,421.18 269.17,421.14 269.25,421.11 269.33,421.06 269.40,421.02 269.48,420.97 269.55,420.91 269.63,420.86 269.70,420.80 269.78,420.73 269.86,420.67 269.93,420.61 270.01,420.54 270.08,420.47 270.16,420.41 270.23,420.34 270.31,420.27 270.39,420.21 270.46,420.15 270.54,420.09 270.61,420.03 270.69,419.97 270.76,419.92 270.84,419.87 270.92,419.82 270.99,419.78 271.07,419.74 271.14,419.71 271.22,419.68 271.29,419.66 271.37,419.64 271.45,419.63 271.52,419.62 271.60,419.62 271.67,419.62 271.75,419.63 271.82,419.65 271.90,419.67 271.98,419.69 272.05,419.72 272.13,419.76 272.20,419.79 272.28,419.84 272.35,419.88 272.43,419.93 272.50,419.99 272.58,420.05 272.66,420.11 272.73,420.17 272.81,420.23 272.88,420.30 272.96,420.36 273.03,420.43 273.11,420.50 273.19,420.56 273.26,420.63 273.34,420.69 273.41,420.76 273.49,420.82 273.56,420.88 273.64,420.93 273.72,420.98 273.79,421.03 273.87,421.08 273.94,421.12 274.02,421.16 274.09,421.19 274.17,421.22 274.25,421.24 274.32,421.26 274.40,421.27 274.47,421.28 274.55,421.28 274.62,421.28 274.70,421.27 274.78,421.25 274.85,421.23 274.93,421.21 275.00,421.18 275.08,421.14 275.15,421.10 275.23,421.06 275.31,421.01 275.38,420.96 275.46,420.91 275.53,420.85 275.61,420.79 275.68,420.73 275.76,420.67 275.83,420.60 275.91,420.53 275.99,420.47 276.06,420.40 276.14,420.33 276.21,420.27 276.29,420.20 276.36,420.14 276.44,420.08 276.52,420.02 276.59,419.96 276.67,419.91 276.74,419.86 276.82,419.82 276.89,419.77 276.97,419.74 277.05,419.71 277.12,419.68 277.20,419.66 277.27,419.64 277.35,419.63 277.42,419.62 277.50,419.62 277.58,419.62 277.65,419.63 277.73,419.65 277.80,419.67 277.88,419.69 277.95,419.72 278.03,419.76 278.11,419.80 278.18,419.84 278.26,419.89 278.33,419.94 278.41,420.00 278.48,420.05 278.56,420.11 278.64,420.18 278.71,420.24 278.79,420.31 278.86,420.37 278.94,420.44 279.01,420.51 279.09,420.57 279.17,420.64 279.24,420.71 279.32,420.77 279.39,420.83 279.47,420.89 279.54,420.94 279.62,421.00 279.69,421.05 279.77,421.09 279.85,421.13 279.92,421.17 280.00,421.20 280.07,421.23 280.15,421.25 280.22,421.26 280.30,421.28 280.38,421.28 280.45,421.28 280.53,421.28 280.60,421.27 280.68,421.25 280.75,421.23 280.83,421.20 280.91,421.17 280.98,421.14 281.06,421.10 281.13,421.05 281.21,421.00 281.28,420.95 281.36,420.90 281.44,420.84 281.51,420.78 281.59,420.71 281.66,420.65 281.74,420.58 281.81,420.52 281.89,420.45 281.97,420.38 282.04,420.32 282.12,420.25 282.19,420.18 282.27,420.12 282.34,420.06 282.42,420.00 282.50,419.95 282.57,419.89 282.65,419.85 282.72,419.80 282.80,419.76 282.87,419.73 282.95,419.69 283.02,419.67 283.10,419.65 283.18,419.63 283.25,419.62 283.33,419.62 283.40,419.62 283.48,419.62 283.55,419.63 283.63,419.65 283.71,419.67 283.78,419.70 283.86,419.73 283.93,419.77 284.01,419.81 284.08,419.86 284.16,419.90 284.24,419.96 284.31,420.01 284.39,420.07 284.46,420.13 284.54,420.20 284.61,420.26 284.69,420.33 284.77,420.40 284.84,420.46 284.92,420.53 284.99,420.60 285.07,420.66 285.14,420.73 285.22,420.79 285.30,420.85 285.37,420.91 285.45,420.96 285.52,421.02 285.60,421.06 285.67,421.11 285.75,421.15 285.83,421.18 285.90,421.21 285.98,421.24 286.05,421.26 286.13,421.27 286.20,421.28 286.28,421.29 286.35,421.28 286.43,421.28 286.51,421.26 286.58,421.25 286.66,421.22 286.73,421.19 286.81,421.16 286.88,421.12 286.96,421.08 287.04,421.04 287.11,420.98 287.19,420.93 287.26,420.87 287.34,420.81 287.41,420.75 287.49,420.69 287.57,420.62 287.64,420.56 287.72,420.49 287.79,420.42 287.87,420.35 287.94,420.29 288.02,420.22 288.10,420.16 288.17,420.09 288.25,420.03 288.32,419.98 288.40,419.92 288.47,419.87 288.55,419.82 288.63,419.78 288.70,419.74 288.78,419.71 288.85,419.68 288.93,419.66 289.00,419.64 289.08,419.62 289.16,419.62 289.23,419.61 289.31,419.62 289.38,419.62 289.46,419.64 289.53,419.66 289.61,419.68 289.69,419.71 289.76,419.75 289.84,419.79 289.91,419.83 289.99,419.88 290.06,419.93 290.14,419.98 290.21,420.04 290.29,420.10 290.37,420.16 290.44,420.23 290.52,420.29 290.59,420.36 290.67,420.43 290.74,420.50 290.82,420.57 290.90,420.63 290.97,420.70 291.05,420.76 291.12,420.82 291.20,420.88 291.27,420.94 291.35,420.99 291.43,421.04 291.50,421.09 291.58,421.13 291.65,421.17 291.73,421.20 291.80,421.23 291.88,421.25 291.96,421.27 292.03,421.28 292.11,421.29 292.18,421.29 292.26,421.28 292.33,421.27 292.41,421.26 292.49,421.24 292.56,421.21 292.64,421.18 292.71,421.14 292.79,421.10 292.86,421.06 292.94,421.01 293.02,420.96 293.09,420.90 293.17,420.84 293.24,420.78 293.32,420.72 293.39,420.65 293.47,420.58 293.54,420.52 293.62,420.45 293.70,420.38 293.77,420.31 293.85,420.25 293.92,420.18 294.00,420.12 294.07,420.06 294.15,420.00 294.23,419.94 294.30,419.89 294.38,419.84 294.45,419.80 294.53,419.76 294.60,419.72 294.68,419.69 294.76,419.66 294.83,419.64 294.91,419.63 294.98,419.62 295.06,419.61 295.13,419.61 295.21,419.62 295.29,419.63 295.36,419.65 295.44,419.67 295.51,419.70 295.59,419.73 295.66,419.77 295.74,419.81 295.82,419.86 295.89,419.91 295.97,419.96 296.04,420.02 296.12,420.08 296.19,420.14 296.27,420.21 296.35,420.27 296.42,420.34 296.50,420.41 296.57,420.47 296.65,420.54 296.72,420.61 296.80,420.68 296.88,420.74 296.95,420.80 297.03,420.87 297.10,420.92 297.18,420.98 297.25,421.03 297.33,421.08 297.40,421.12 297.48,421.16 297.56,421.19 297.63,421.22 297.71,421.25 297.78,421.27 297.86,421.28 297.93,421.29 298.01,421.29 298.09,421.29 298.16,421.28 298.24,421.26 298.31,421.25 298.39,421.22 298.46,421.19 298.54,421.16 298.62,421.12 298.69,421.07 298.77,421.02 298.84,420.97 298.92,420.92 298.99,420.86 299.07,420.80 299.15,420.73 299.22,420.67 299.30,420.60 299.37,420.53 299.45,420.47 299.52,420.40 299.60,420.33 299.68,420.26 299.75,420.20 299.83,420.13 299.90,420.07 299.98,420.01 300.05,419.95 300.13,419.90 300.21,419.85 300.28,419.80 300.36,419.76 300.43,419.72 300.51,419.69 300.58,419.67 300.66,419.64 300.73,419.63 300.81,419.61 300.89,419.61 300.96,419.61 301.04,419.61 301.11,419.63 301.19,419.64 301.26,419.66 301.34,419.69 301.42,419.72 301.49,419.76 301.57,419.80 301.64,419.85 301.72,419.90 301.79,419.95 301.87,420.01 301.95,420.07 302.02,420.13 302.10,420.19 302.17,420.26 302.25,420.33 302.32,420.39 302.40,420.46 302.48,420.53 302.55,420.60 302.63,420.67 302.70,420.73 302.78,420.80 302.85,420.86 302.93,420.92 303.01,420.97 303.08,421.02 303.16,421.07 303.23,421.12 303.31,421.16 303.38,421.19 303.46,421.22 303.54,421.25 303.61,421.27 303.69,421.28 303.76,421.29 303.84,421.29 303.91,421.29 303.99,421.28 304.06,421.27 304.14,421.25 304.22,421.23 304.29,421.20 304.37,421.16 304.44,421.12 304.52,421.08 304.59,421.03 304.67,420.98 304.75,420.93 304.82,420.87 304.90,420.81 304.97,420.74 305.05,420.68 305.12,420.61 305.20,420.54 305.28,420.47 305.35,420.40 305.43,420.34 305.50,420.27 305.58,420.20 305.65,420.14 305.73,420.07 305.81,420.01 305.88,419.96 305.96,419.90 306.03,419.85 306.11,419.80 306.18,419.76 306.26,419.72 306.34,419.69 306.41,419.66 306.49,419.64 306.56,419.62 306.64,419.61 306.71,419.61 306.79,419.61 306.87,419.61 306.94,419.62 307.02,419.64 307.09,419.66 307.17,419.69 307.24,419.72 307.32,419.76 307.40,419.80 307.47,419.84 307.55,419.89 307.62,419.95 307.70,420.00 307.77,420.06 307.85,420.13 307.92,420.19 308.00,420.26 308.08,420.32 308.15,420.39 308.23,420.46 308.30,420.53 308.38,420.60 308.45,420.67 308.53,420.73 308.61,420.80 308.68,420.86 308.76,420.92 308.83,420.97 308.91,421.03 308.98,421.07 309.06,421.12 309.14,421.16 309.21,421.19 309.29,421.22 309.36,421.25 309.44,421.27 309.51,421.28 309.59,421.29 309.67,421.30 309.74,421.29 309.82,421.29 309.89,421.27 309.97,421.25 310.04,421.23 310.12,421.20 310.20,421.16 310.27,421.12 310.35,421.08 310.42,421.03 310.50,420.98 310.57,420.92 310.65,420.86 310.73,420.80 310.80,420.74 310.88,420.67 310.95,420.61 311.03,420.54 311.10,420.47 311.18,420.40 311.25,420.33 311.33,420.26 311.41,420.20 311.48,420.13 311.56,420.07 311.63,420.01 311.71,419.95 311.78,419.90 311.86,419.85 311.94,419.80 312.01,419.76 312.09,419.72 312.16,419.69 312.24,419.66 312.31,419.64 312.39,419.62 312.47,419.61 312.54,419.60 312.62,419.60 312.69,419.61 312.77,419.62 312.84,419.64 312.92,419.66 313.00,419.69 313.07,419.72 313.15,419.76 313.22,419.80 313.30,419.85 313.37,419.90 313.45,419.95 313.53,420.01 313.60,420.07 313.68,420.13 313.75,420.20 313.83,420.27 313.90,420.33 313.98,420.40 314.06,420.47 314.13,420.54 314.21,420.61 314.28,420.68 314.36,420.74 314.43,420.81 314.51,420.87 314.58,420.93 314.66,420.98 314.74,421.04 314.81,421.08 314.89,421.13 314.96,421.17 315.04,421.20 315.11,421.23 315.19,421.26 315.27,421.28 315.34,421.29 315.42,421.30 315.49,421.30 315.57,421.29 315.64,421.29 315.72,421.27 315.80,421.25 315.87,421.22 315.95,421.19 316.02,421.16 316.10,421.12 316.17,421.07 316.25,421.02 316.33,420.97 316.40,420.91 316.48,420.85 316.55,420.79 316.63,420.73 316.70,420.66 316.78,420.59 316.86,420.52 316.93,420.45 317.01,420.38 317.08,420.31 317.16,420.25 317.23,420.18 317.31,420.11 317.39,420.05 317.46,419.99 317.54,419.93 317.61,419.88 317.69,419.83 317.76,419.79 317.84,419.74 317.92,419.71 317.99,419.68 318.07,419.65 318.14,419.63 318.22,419.61 318.29,419.60 318.37,419.60 318.44,419.60 318.52,419.61 318.60,419.62 318.67,419.64 318.75,419.67 318.82,419.69 318.90,419.73 318.97,419.77 319.05,419.81 319.13,419.86 319.20,419.91 319.28,419.97 319.35,420.03 319.43,420.09 319.50,420.15 319.58,420.22 319.66,420.29 319.73,420.36 319.81,420.42 319.88,420.49 319.96,420.56 320.03,420.63 320.11,420.70 320.19,420.77 320.26,420.83 320.34,420.89 320.41,420.95 320.49,421.00 320.56,421.05 320.64,421.10 320.72,421.14 320.79,421.18 320.87,421.22 320.94,421.24 321.02,421.27 321.09,421.28 321.17,421.29 321.25,421.30 321.32,421.30 321.40,421.29 321.47,421.28 321.55,421.27 321.62,421.24 321.70,421.22 321.77,421.18 321.85,421.15 321.93,421.10 322.00,421.06 322.08,421.00 322.15,420.95 322.23,420.89 322.30,420.83 322.38,420.77 322.46,420.70 322.53,420.63 322.61,420.56 322.68,420.49 322.76,420.43 322.83,420.36 322.91,420.29 322.99,420.22 323.06,420.15 323.14,420.09 323.21,420.03 323.29,419.97 323.36,419.91 323.44,419.86 323.52,419.81 323.59,419.77 323.67,419.73 323.74,419.69 323.82,419.66 323.89,419.64 323.97,419.62 324.05,419.61 324.12,419.60 324.20,419.60 324.27,419.60 324.35,419.61 324.42,419.63 324.50,419.65 324.58,419.67 324.65,419.71 324.73,419.74 324.80,419.78 324.88,419.83 324.95,419.88 325.03,419.94 325.10,419.99 325.18,420.05 325.26,420.12 325.33,420.18 325.41,420.25 325.48,420.32 325.56,420.39 325.63,420.46 325.71,420.53 325.79,420.60 325.86,420.67 325.94,420.73 326.01,420.80 326.09,420.86 326.16,420.92 326.24,420.98 326.32,421.03 326.39,421.08 326.47,421.13 326.54,421.17 326.62,421.20 326.69,421.23 326.77,421.26 326.85,421.28 326.92,421.29 327.00,421.30 327.07,421.30 327.15,421.30 327.22,421.29 327.30,421.28 327.38,421.26 327.45,421.23 327.53,421.20 327.60,421.17 327.68,421.13 327.75,421.08 327.83,421.03 327.91,420.98 327.98,420.92 328.06,420.86 328.13,420.80 328.21,420.73 328.28,420.66 328.36,420.60 328.44,420.53 328.51,420.46 328.59,420.39 328.66,420.32 328.74,420.25 328.81,420.18 328.89,420.11 328.96,420.05 329.04,419.99 329.12,419.93 329.19,419.88 329.27,419.83 329.34,419.78 329.42,419.74 329.49,419.70 329.57,419.67 329.65,419.65 329.72,419.62 329.80,419.61 329.87,419.60 329.95,419.60 330.02,419.60 330.10,419.60 330.18,419.62 330.25,419.64 330.33,419.66 330.40,419.69 330.48,419.73 330.55,419.77 330.63,419.81 330.71,419.86 330.78,419.91 330.86,419.97 330.93,420.03 331.01,420.09 331.08,420.16 331.16,420.22 331.24,420.29 331.31,420.36 331.39,420.43 331.46,420.50 331.54,420.57 331.61,420.64 331.69,420.71 331.77,420.78 331.84,420.84 331.92,420.90 331.99,420.96 332.07,421.02 332.14,421.07 332.22,421.11 332.29,421.16 332.37,421.19 332.45,421.23 332.52,421.25 332.60,421.27 332.67,421.29 332.75,421.30 332.82,421.31 332.90,421.30 332.98,421.30 333.05,421.29 333.13,421.27 333.20,421.24 333.28,421.21 333.35,421.18 333.43,421.14 333.51,421.10 333.58,421.05 333.66,421.00 333.73,420.94 333.81,420.88 333.88,420.82 333.96,420.75 334.04,420.68 334.11,420.62 334.19,420.55 334.26,420.48 334.34,420.41 334.41,420.33 334.49,420.27 334.57,420.20 334.64,420.13 334.72,420.07 334.79,420.00 334.87,419.95 334.94,419.89 335.02,419.84 335.10,419.79 335.17,419.75 335.25,419.71 335.32,419.68 335.40,419.65 335.47,419.63 335.55,419.61 335.62,419.60 335.70,419.59 335.78,419.59 335.85,419.60 335.93,419.61 336.00,419.63 336.08,419.65 336.15,419.68 336.23,419.72 336.31,419.75 336.38,419.80 336.46,419.85 336.53,419.90 336.61,419.96 336.68,420.01 336.76,420.08 336.84,420.14 336.91,420.21 336.99,420.28 337.06,420.35 337.14,420.42 337.21,420.49 337.29,420.56 337.37,420.63 337.44,420.70 337.52,420.77 337.59,420.83 337.67,420.89 337.74,420.95 337.82,421.01 337.90,421.06 337.97,421.11 338.05,421.15 338.12,421.19 338.20,421.22 338.27,421.25 338.35,421.27 338.43,421.29 338.50,421.30 338.58,421.31 338.65,421.31 338.73,421.30 338.80,421.29 338.88,421.27 338.96,421.25 339.03,421.22 339.11,421.19 339.18,421.15 339.26,421.10 339.33,421.06 339.41,421.00 339.48,420.95 339.56,420.89 339.64,420.83 339.71,420.76 339.79,420.69 339.86,420.63 339.94,420.56 340.01,420.48 340.09,420.41 340.17,420.34 340.24,420.27 340.32,420.20 340.39,420.14 340.47,420.07 340.54,420.01 340.62,419.95 340.70,419.89 340.77,419.84 340.85,419.79 340.92,419.75 341.00,419.71 341.07,419.68 341.15,419.65 341.23,419.63 341.30,419.61 341.38,419.60 341.45,419.59 341.53,419.59 341.60,419.60 341.68,419.61 341.76,419.63 341.83,419.65 341.91,419.68 341.98,419.71 342.06,419.75 342.13,419.79 342.21,419.84 342.29,419.89 342.36,419.95 342.44,420.01 342.51,420.07 342.59,420.14 342.66,420.21 342.74,420.27 342.81,420.34 342.89,420.42 342.97,420.49 343.04,420.56 343.12,420.63 343.19,420.70 343.27,420.76 343.34,420.83 343.42,420.89 343.50,420.95 343.57,421.01 343.65,421.06 343.72,421.11 343.80,421.15 343.87,421.19 343.95,421.22 344.03,421.25 344.10,421.28 344.18,421.29 344.25,421.31 344.33,421.31 344.40,421.31 344.48,421.30 344.56,421.29 344.63,421.28 344.71,421.25 344.78,421.22 344.86,421.19 344.93,421.15 345.01,421.11 345.09,421.06 345.16,421.00 345.24,420.95 345.31,420.89 345.39,420.83 345.46,420.76 345.54,420.69 345.62,420.62 345.69,420.55 345.77,420.48 345.84,420.41 345.92,420.34 345.99,420.27 346.07,420.20 346.15,420.13 346.22,420.07 346.30,420.00 346.37,419.94 346.45,419.89 346.52,419.84 346.60,419.79 346.67,419.74 346.75,419.71 346.83,419.67 346.90,419.64 346.98,419.62 347.05,419.60 347.13,419.59 347.20,419.59 347.28,419.59 347.36,419.59 347.43,419.61 347.51,419.62 347.58,419.65 347.66,419.68 347.73,419.71 347.81,419.75 347.89,419.80 347.96,419.85 348.04,419.90 348.11,419.96 348.19,420.02 348.26,420.08 348.34,420.15 348.42,420.21 348.49,420.28 348.57,420.35 348.64,420.42 348.72,420.50 348.79,420.57 348.87,420.64 348.95,420.71 349.02,420.77 349.10,420.84 349.17,420.90 349.25,420.96 349.32,421.02 349.40,421.07 349.48,421.12 349.55,421.16 349.63,421.20 349.70,421.23 349.78,421.26 349.85,421.28 349.93,421.30 350.00,421.31 350.08,421.31 350.16,421.31 350.23,421.31 350.31,421.29 350.38,421.27 350.46,421.25 350.53,421.22 350.61,421.18 350.69,421.14 350.76,421.10 350.84,421.05 350.91,421.00 350.99,420.94 351.06,420.88 351.14,420.81 351.22,420.75 351.29,420.68 351.37,420.61 351.44,420.54 351.52,420.47 351.59,420.39 351.67,420.32 351.75,420.25 351.82,420.18 351.90,420.12 351.97,420.05 352.05,419.99 352.12,419.93 352.20,419.87 352.28,419.82 352.35,419.77 352.43,419.73 352.50,419.69 352.58,419.66 352.65,419.64 352.73,419.61 352.81,419.60 352.88,419.59 352.96,419.58 353.03,419.59 353.11,419.59 353.18,419.61 353.26,419.63 353.33,419.65 353.41,419.68 353.49,419.72 353.56,419.76 353.64,419.81 353.71,419.86 353.79,419.91 353.86,419.97 353.94,420.03 354.02,420.10 354.09,420.16 354.17,420.23 354.24,420.30 354.32,420.37 354.39,420.45 354.47,420.52 354.55,420.59 354.62,420.66 354.70,420.73 354.77,420.80 354.85,420.86 354.92,420.92 355.00,420.98 355.08,421.04 355.15,421.09 355.23,421.13 355.30,421.18 355.38,421.21 355.45,421.24 355.53,421.27 355.61,421.29 355.68,421.31 355.76,421.31 355.83,421.32 355.91,421.31 355.98,421.30 356.06,421.29 356.14,421.27 356.21,421.24 356.29,421.21 356.36,421.17 356.44,421.13 356.51,421.08 356.59,421.03 356.67,420.98 356.74,420.92 356.82,420.86 356.89,420.79 356.97,420.72 357.04,420.65 357.12,420.58 357.19,420.51 357.27,420.44 357.35,420.37 357.42,420.30 357.50,420.23 357.57,420.16 357.65,420.09 357.72,420.02 357.80,419.96 357.88,419.91 357.95,419.85 358.03,419.80 358.10,419.76 358.18,419.71 358.25,419.68 358.33,419.65 358.41,419.62 358.48,419.60 358.56,419.59 358.63,419.58 358.71,419.58 358.78,419.59 358.86,419.60 358.94,419.61 359.01,419.64 359.09,419.66 359.16,419.70 359.24,419.74 359.31,419.78 359.39,419.83 359.47,419.88 359.54,419.94 359.62,420.00 359.69,420.06 359.77,420.13 359.84,420.19 359.92,420.26 360.00,420.33 360.07,420.41 360.15,420.48 360.22,420.55 360.30,420.62 360.37,420.69 360.45,420.76 360.52,420.83 360.60,420.89 360.68,420.95 360.75,421.01 360.83,421.06 360.90,421.11 360.98,421.16 361.05,421.20 361.13,421.23 361.21,421.26 361.28,421.28 361.36,421.30 361.43,421.31 361.51,421.32 361.58,421.32 361.66,421.31 361.74,421.30 361.81,421.28 361.89,421.26 361.96,421.23 362.04,421.19 362.11,421.15 362.19,421.11 362.27,421.06 362.34,421.01 362.42,420.95 362.49,420.89 362.57,420.82 362.64,420.76 362.72,420.69 362.80,420.62 362.87,420.54 362.95,420.47 363.02,420.40 363.10,420.33 363.17,420.26 363.25,420.19 363.33,420.12 363.40,420.05 363.48,419.99 363.55,419.93 363.63,419.87 363.70,419.82 363.78,419.77 363.85,419.73 363.93,419.69 364.01,419.66 364.08,419.63 364.16,419.61 364.23,419.59 364.31,419.58 364.38,419.58 364.46,419.58 364.54,419.59 364.61,419.60 364.69,419.62 364.76,419.65 364.84,419.68 364.91,419.72 364.99,419.76 365.07,419.81 365.14,419.86 365.22,419.91 365.29,419.97 365.37,420.03 365.44,420.10 365.52,420.17 365.60,420.24 365.67,420.31 365.75,420.38 365.82,420.45 365.90,420.52 365.97,420.60 366.05,420.67 366.13,420.74 366.20,420.80 366.28,420.87 366.35,420.93 366.43,420.99 366.50,421.05 366.58,421.10 366.66,421.14 366.73,421.19 366.81,421.22 366.88,421.25 366.96,421.28 367.03,421.30 367.11,421.31 367.19,421.32 367.26,421.32 367.34,421.32 367.41,421.31 367.49,421.29 367.56,421.27 367.64,421.24 367.71,421.21 367.79,421.17 367.87,421.13 367.94,421.08 368.02,421.03 368.09,420.97 368.17,420.91 368.24,420.84 368.32,420.78 368.40,420.71 368.47,420.64 368.55,420.57 368.62,420.49 368.70,420.42 368.77,420.35 368.85,420.28 368.93,420.21 369.00,420.14 369.08,420.07 369.15,420.01 369.23,419.94 369.30,419.89 369.38,419.83 369.46,419.78 369.53,419.74 369.61,419.70 369.68,419.66 369.76,419.63 369.83,419.61 369.91,419.59 369.99,419.58 370.06,419.58 370.14,419.58 370.21,419.58 370.29,419.60 370.36,419.61 370.44,419.64 370.52,419.67 370.59,419.71 370.67,419.75 370.74,419.79 370.82,419.84 370.89,419.90 370.97,419.96 371.04,420.02 371.12,420.08 371.20,420.15 371.27,420.22 371.35,420.29 371.42,420.36 371.50,420.44 371.57,420.51 371.65,420.58 371.73,420.65 371.80,420.72 371.88,420.79 371.95,420.86 372.03,420.92 372.10,420.98 372.18,421.04 372.26,421.09 372.33,421.14 372.41,421.18 372.48,421.22 372.56,421.25 372.63,421.28 372.71,421.30 372.79,421.31 372.86,421.32 372.94,421.33 373.01,421.32 373.09,421.31 373.16,421.30 373.24,421.28 373.32,421.25 373.39,421.22 373.47,421.18 373.54,421.14 373.62,421.09 373.69,421.04 373.77,420.98 373.85,420.92 373.92,420.85 374.00,420.79 374.07,420.72 374.15,420.65 374.22,420.58 374.30,420.50 374.38,420.43 374.45,420.36 374.53,420.28 374.60,420.21 374.68,420.14 374.75,420.08 374.83,420.01 374.90,419.95 374.98,419.89 375.06,419.84 375.13,419.79 375.21,419.74 375.28,419.70 375.36,419.66 375.43,419.63 375.51,419.61 375.59,419.59 375.66,419.58 375.74,419.57 375.81,419.57 375.89,419.58 375.96,419.59 376.04,419.61 376.12,419.63 376.19,419.66 376.27,419.70 376.34,419.74 376.42,419.79 376.49,419.84 376.57,419.89 376.65,419.95 376.72,420.01 376.80,420.08 376.87,420.14 376.95,420.21 377.02,420.29 377.10,420.36 377.18,420.43 377.25,420.51 377.33,420.58 377.40,420.65 377.48,420.72 377.55,420.79 377.63,420.86 377.71,420.92 377.78,420.98 377.86,421.04 377.93,421.09 378.01,421.14 378.08,421.18 378.16,421.22 378.23,421.25 378.31,421.28 378.39,421.30 378.46,421.32 378.54,421.33 378.61,421.33 378.69,421.33 378.76,421.32 378.84,421.30 378.92,421.28 378.99,421.25 379.07,421.22 379.14,421.18 379.22,421.14 379.29,421.09 379.37,421.04 379.45,420.98 379.52,420.92 379.60,420.85 379.67,420.79 379.75,420.72 379.82,420.65 379.90,420.58 379.98,420.50 380.05,420.43 380.13,420.35 380.20,420.28 380.28,420.21 380.35,420.14 380.43,420.07 380.51,420.01 380.58,419.94 380.66,419.89 380.73,419.83 380.81,419.78 380.88,419.74 380.96,419.69 381.04,419.66 381.11,419.63 381.19,419.61 381.26,419.59 381.34,419.58 381.41,419.57 381.49,419.57 381.56,419.58 381.64,419.59 381.72,419.61 381.79,419.63 381.87,419.66 381.94,419.70 382.02,419.74 382.09,419.79 382.17,419.84 382.25,419.89 382.32,419.95 382.40,420.02 382.47,420.08 382.55,420.15 382.62,420.22 382.70,420.29 382.78,420.37 382.85,420.44 382.93,420.51 383.00,420.59 383.08,420.66 383.15,420.73 383.23,420.80 383.31,420.87 383.38,420.93 383.46,420.99 383.53,421.05 383.61,421.10 383.68,421.15 383.76,421.19 383.84,421.23 383.91,421.26 383.99,421.29 384.06,421.31 384.14,421.32 384.21,421.33 384.29,421.33 384.37,421.33 384.44,421.32 384.52,421.30 384.59,421.28 384.67,421.25 384.74,421.22 384.82,421.18 384.90,421.13 384.97,421.08 385.05,421.03 385.12,420.97 385.20,420.91 385.27,420.84 385.35,420.78 385.42,420.71 385.50,420.63 385.58,420.56 385.65,420.49 385.73,420.41 385.80,420.34 385.88,420.27 385.95,420.19 386.03,420.12 386.11,420.06 386.18,419.99 386.26,419.93 386.33,419.87 386.41,419.82 386.48,419.77 386.56,419.72 386.64,419.68 386.71,419.65 386.79,419.62 386.86,419.60 386.94,419.58 387.01,419.57 387.09,419.57 387.17,419.57 387.24,419.58 387.32,419.59 387.39,419.61 387.47,419.64 387.54,419.67 387.62,419.71 387.70,419.75 387.77,419.80 387.85,419.85 387.92,419.91 388.00,419.97 388.07,420.03 388.15,420.10 388.23,420.17 388.30,420.24 388.38,420.31 388.45,420.39 388.53,420.46 388.60,420.54 388.68,420.61 388.75,420.68 388.83,420.75 388.91,420.82 388.98,420.89 389.06,420.95 389.13,421.01 389.21,421.07 389.28,421.12 389.36,421.16 389.44,421.21 389.51,421.24 389.59,421.27 389.66,421.30 389.74,421.31 389.81,421.33 389.89,421.33 389.97,421.33 390.04,421.33 390.12,421.31 390.19,421.30 390.27,421.27 390.34,421.24 390.42,421.20 390.50,421.16 390.57,421.12 390.65,421.07 390.72,421.01 390.80,420.95 390.87,420.89 390.95,420.82 391.03,420.75 391.10,420.68 391.18,420.61 391.25,420.53 391.33,420.46 391.40,420.39 391.48,420.31 391.56,420.24 391.63,420.17 391.71,420.10 391.78,420.03 391.86,419.97 391.93,419.91 392.01,419.85 392.08,419.80 392.16,419.75 392.24,419.70 392.31,419.67 392.39,419.64 392.46,419.61 392.54,419.59 392.61,419.57 392.69,419.57 392.77,419.56 392.84,419.57 392.92,419.58 392.99,419.60 393.07,419.62 393.14,419.65 393.22,419.68 393.30,419.72 393.37,419.77 393.45,419.82 393.52,419.87 393.60,419.93 393.67,419.99 393.75,420.06 393.83,420.13 393.90,420.20 393.98,420.27 394.05,420.35 394.13,420.42 394.20,420.50 394.28,420.57 394.36,420.64 394.43,420.72 394.51,420.79 394.58,420.85 394.66,420.92 394.73,420.98 394.81,421.04 394.89,421.09 394.96,421.14 395.04,421.19 395.11,421.23 395.19,421.26 395.26,421.29 395.34,421.31 395.42,421.32 395.49,421.33 395.57,421.34 395.64,421.33 395.72,421.32 395.79,421.31 395.87,421.29 395.94,421.26 396.02,421.23 396.10,421.19 396.17,421.14 396.25,421.09 396.32,421.04 396.40,420.98 396.47,420.92 396.55,420.85 396.63,420.79 396.70,420.72 396.78,420.64 396.85,420.57 396.93,420.50 397.00,420.42 397.08,420.35 397.16,420.27 397.23,420.20 397.31,420.13 397.38,420.06 397.46,419.99 397.53,419.93 397.61,419.87 397.69,419.82 397.76,419.77 397.84,419.72 397.91,419.68 397.99,419.65 398.06,419.62 398.14,419.59 398.22,419.58 398.29,419.57 398.37,419.56 398.44,419.56 398.52,419.57 398.59,419.59 398.67,419.61 398.75,419.63 398.82,419.67 398.90,419.70 398.97,419.75 399.05,419.80 399.12,419.85 399.20,419.91 399.27,419.97 399.35,420.03 399.43,420.10 399.50,420.17 399.58,420.24 399.65,420.32 399.73,420.39 399.80,420.47 399.88,420.54 399.96,420.62 400.03,420.69 400.11,420.76 400.18,420.83 400.26,420.90 400.33,420.96 400.41,421.02 400.49,421.08 400.56,421.13 400.64,421.17 400.71,421.21 400.79,421.25 400.86,421.28 400.94,421.30 401.02,421.32 401.09,421.33 401.17,421.34 401.24,421.34 401.32,421.33 401.39,421.32 401.47,421.30 401.55,421.27 401.62,421.24 401.70,421.20 401.77,421.16 401.85,421.11 401.92,421.06 402.00,421.00 402.08,420.94 402.15,420.88 402.23,420.81 402.30,420.74 402.38,420.67 402.45,420.59 402.53,420.52 402.60,420.44 402.68,420.37 402.76,420.29 402.83,420.22 402.91,420.15 402.98,420.08 403.06,420.01 403.13,419.95 403.21,419.89 403.29,419.83 403.36,419.78 403.44,419.73 403.51,419.69 403.59,419.65 403.66,419.62 403.74,419.60 403.82,419.58 403.89,419.57 403.97,419.56 404.04,419.56 404.12,419.57 404.19,419.58 404.27,419.60 404.35,419.62 404.42,419.65 404.50,419.69 404.57,419.73 404.65,419.78 404.72,419.83 404.80,419.89 404.88,419.95 404.95,420.02 405.03,420.08 405.10,420.15 405.18,420.23 405.25,420.30 405.33,420.37 405.41,420.45 405.48,420.53 405.56,420.60 405.63,420.67 405.71,420.75 405.78,420.82 405.86,420.88 405.94,420.95 406.01,421.01 406.09,421.07 406.16,421.12 406.24,421.17 406.31,421.21 406.39,421.25 406.46,421.28 406.54,421.30 406.62,421.32 406.69,421.34 406.77,421.34 406.84,421.34 406.92,421.34 406.99,421.32 407.07,421.30 407.15,421.28 407.22,421.25 407.30,421.21 407.37,421.17 407.45,421.12 407.52,421.07 407.60,421.01 407.68,420.95 407.75,420.89 407.83,420.82 407.90,420.75 407.98,420.68 408.05,420.60 408.13,420.53 408.21,420.45 408.28,420.38 408.36,420.30 408.43,420.23 408.51,420.16 408.58,420.09 408.66,420.02 408.74,419.95 408.81,419.89 408.89,419.83 408.96,419.78 409.04,419.73 409.11,419.69 409.19,419.65 409.27,419.62 409.34,419.60 409.42,419.58 409.49,419.56 409.57,419.56 409.64,419.56 409.72,419.56 409.79,419.57 409.87,419.59 409.95,419.62 410.02,419.65 410.10,419.69 410.17,419.73 410.25,419.78 410.32,419.83 410.40,419.88 410.48,419.95 410.55,420.01 410.63,420.08 410.70,420.15 410.78,420.22 410.85,420.29 410.93,420.37 411.01,420.45 411.08,420.52 411.16,420.60 411.23,420.67 411.31,420.74 411.38,420.82 411.46,420.88 411.54,420.95 411.61,421.01 411.69,421.07 411.76,421.12 411.84,421.17 411.91,421.21 411.99,421.25 412.07,421.28 412.14,421.31 412.22,421.33 412.29,421.34 412.37,421.34 412.44,421.35 412.52,421.34 412.60,421.33 412.67,421.31 412.75,421.28 412.82,421.25 412.90,421.21 412.97,421.17 413.05,421.12 413.12,421.07 413.20,421.01 413.28,420.95 413.35,420.89 413.43,420.82 413.50,420.75 413.58,420.68 413.65,420.60 413.73,420.53 413.81,420.45 413.88,420.37 413.96,420.30 414.03,420.22 414.11,420.15 414.18,420.08 414.26,420.01 414.34,419.95 414.41,419.89 414.49,419.83 414.56,419.78 414.64,419.73 414.71,419.69 414.79,419.65 414.87,419.62 414.94,419.59 415.02,419.57 415.09,419.56 415.17,419.55 415.24,419.55 415.32,419.56 415.40,419.57 415.47,419.59 415.55,419.62 415.62,419.65 415.70,419.69 415.77,419.73 415.85,419.78 415.93,419.83 416.00,419.89 416.08,419.95 416.15,420.02 416.23,420.08 416.30,420.15 416.38,420.23 416.46,420.30 416.53,420.38 416.61,420.45 416.68,420.53 416.76,420.61 416.83,420.68 416.91,420.75 416.98,420.83 417.06,420.89 417.14,420.96 417.21,421.02 417.29,421.08 417.36,421.13 417.44,421.18 417.51,421.22 417.59,421.26 417.67,421.29 417.74,421.31 417.82,421.33 417.89,421.34 417.97,421.35 418.04,421.35 418.12,421.34 418.20,421.33 418.27,421.31 418.35,421.28 418.42,421.25 418.50,421.21 418.57,421.17 418.65,421.12 418.73,421.06 418.80,421.01 418.88,420.94 418.95,420.88 419.03,420.81 419.10,420.74 419.18,420.66 419.26,420.59 419.33,420.51 419.41,420.44 419.48,420.36 419.56,420.28 419.63,420.21 419.71,420.14 419.79,420.07 419.86,420.00 419.94,419.93 420.01,419.87 420.09,419.82 420.16,419.76 420.24,419.72 420.31,419.67 420.39,419.64 420.47,419.61 420.54,419.58 420.62,419.57 420.69,419.55 420.77,419.55 420.84,419.55 420.92,419.56 421.00,419.57 421.07,419.60 421.15,419.62 421.22,419.66 421.30,419.69 421.37,419.74 421.45,419.79 421.53,419.84 421.60,419.90 421.68,419.97 421.75,420.03 421.83,420.10 421.90,420.17 421.98,420.25 422.06,420.32 422.13,420.40 422.21,420.48 422.28,420.55 422.36,420.63 422.43,420.70 422.51,420.78 422.59,420.85 422.66,420.91 422.74,420.98 422.81,421.04 422.89,421.10 422.96,421.15 423.04,421.19 423.12,421.23 423.19,421.27 423.27,421.30 423.34,421.32 423.42,421.34 423.49,421.35 423.57,421.35 423.65,421.35 423.72,421.34 423.80,421.32 423.87,421.30 423.95,421.27 424.02,421.24 424.10,421.20 424.17,421.15 424.25,421.10 424.33,421.05 424.40,420.99 424.48,420.92 424.55,420.86 424.63,420.79 424.70,420.71 424.78,420.64 424.86,420.56 424.93,420.48 425.01,420.41 425.08,420.33 425.16,420.26 425.23,420.18 425.31,420.11 425.39,420.04 425.46,419.97 425.54,419.91 425.61,419.85 425.69,419.79 425.76,419.74 425.84,419.70 425.92,419.66 425.99,419.62 426.07,419.59 426.14,419.57 426.22,419.56 426.29,419.55 426.37,419.55 426.45,419.55 426.52,419.56 426.60,419.58 426.67,419.60 426.75,419.63 426.82,419.67 426.90,419.71 426.98,419.76 427.05,419.81 427.13,419.87 427.20,419.93 427.28,419.99 427.35,420.06 427.43,420.13 427.50,420.21 427.58,420.28 427.66,420.36 427.73,420.43 427.81,420.51 427.88,420.59 427.96,420.66 428.03,420.74 428.11,420.81 428.19,420.88 428.26,420.95 428.34,421.01 428.41,421.07 428.49,421.12 428.56,421.17 428.64,421.22 428.72,421.25 428.79,421.29 428.87,421.31 428.94,421.33 429.02,421.35 429.09,421.35 429.17,421.35 429.25,421.35 429.32,421.34 429.40,421.32 429.47,421.29 429.55,421.26 429.62,421.22 429.70,421.18 429.78,421.13 429.85,421.08 429.93,421.02 430.00,420.96 430.08,420.89 430.15,420.82 430.23,420.75 430.31,420.67 430.38,420.60 430.46,420.52 430.53,420.44 430.61,420.37 430.68,420.29 430.76,420.21 430.83,420.14 430.91,420.07 430.99,420.00 431.06,419.93 431.14,419.87 431.21,419.81 431.29,419.76 431.36,419.71 431.44,419.67 431.52,419.63 431.59,419.60 431.67,419.58 431.74,419.56 431.82,419.55 431.89,419.54 431.97,419.55 432.05,419.55 432.12,419.57 432.20,419.59 432.27,419.62 432.35,419.65 432.42,419.69 432.50,419.74 432.58,419.79 432.65,419.84 432.73,419.90 432.80,419.96 432.88,420.03 432.95,420.10 433.03,420.18 433.11,420.25 433.18,420.33 433.26,420.40 433.33,420.48 433.41,420.56 433.48,420.64 433.56,420.71 433.64,420.78 433.71,420.86 433.79,420.92 433.86,420.99 433.94,421.05 434.01,421.11 434.09,421.16 434.17,421.20 434.24,421.24 434.32,421.28 434.39,421.31 434.47,421.33 434.54,421.35 434.62,421.36 434.69,421.36 434.77,421.35 434.85,421.34 434.92,421.33 435.00,421.30 435.07,421.27 435.15,421.24 435.22,421.20 435.30,421.15 435.38,421.10 435.45,421.04 435.53,420.98 435.60,420.91 435.68,420.84 435.75,420.77 435.83,420.70 435.91,420.62 435.98,420.55 436.06,420.47 436.13,420.39 436.21,420.31 436.28,420.24 436.36,420.16 436.44,420.09 436.51,420.02 436.59,419.95 436.66,419.89 436.74,419.83 436.81,419.77 436.89,419.72 436.97,419.68 437.04,419.64 437.12,419.61 437.19,419.58 437.27,419.56 437.34,419.55 437.42,419.54 437.50,419.54 437.57,419.55 437.65,419.56 437.72,419.58 437.80,419.61 437.87,419.64 437.95,419.68 438.02,419.72 438.10,419.77 438.18,419.83 438.25,419.88 438.33,419.95 438.40,420.01 438.48,420.08 438.55,420.16 438.63,420.23 438.71,420.31 438.78,420.39 438.86,420.46 438.93,420.54 439.01,420.62 439.08,420.70 439.16,420.77 439.24,420.84 439.31,420.91 439.39,420.98 439.46,421.04 439.54,421.10 439.61,421.15 439.69,421.20 439.77,421.24 439.84,421.28 439.92,421.31 439.99,421.33 440.07,421.35 440.14,421.36 440.22,421.36 440.30,421.36 440.37,421.35 440.45,421.33 440.52,421.31 440.60,421.28 440.67,421.25 440.75,421.21 440.83,421.16 440.90,421.11 440.98,421.05 441.05,420.99 441.13,420.92 441.20,420.86 441.28,420.78 441.35,420.71 441.43,420.63 441.51,420.56 441.58,420.48 441.66,420.40 441.73,420.32 441.81,420.24 441.88,420.17 441.96,420.10 442.04,420.02 442.11,419.96 442.19,419.89 442.26,419.83 442.34,419.78 442.41,419.73 442.49,419.68 442.57,419.64 442.64,419.61 442.72,419.58 442.79,419.56 442.87,419.55 442.94,419.54 443.02,419.54 443.10,419.54 443.17,419.56 443.25,419.58 443.32,419.60 443.40,419.63 443.47,419.67 443.55,419.72 443.63,419.76 443.70,419.82 443.78,419.88 443.85,419.94 443.93,420.01 444.00,420.08 444.08,420.15 444.16,420.23 444.23,420.30 444.31,420.38 444.38,420.46 444.46,420.54 444.53,420.62 444.61,420.69 444.69,420.77 444.76,420.84 444.84,420.91 444.91,420.98 444.99,421.04 445.06,421.10 445.14,421.15 445.21,421.20 445.29,421.24 445.37,421.28 445.44,421.31 445.52,421.33 445.59,421.35 445.67,421.36 445.74,421.36 445.82,421.36 445.90,421.35 445.97,421.34 446.05,421.31 446.12,421.28 446.20,421.25 446.27,421.21 446.35,421.16 446.43,421.11 446.50,421.05 446.58,420.99 446.65,420.92 446.73,420.85 446.80,420.78 446.88,420.71 446.96,420.63 447.03,420.55 447.11,420.48 447.18,420.40 447.26,420.32 447.33,420.24 447.41,420.16 447.49,420.09 447.56,420.02 447.64,419.95 447.71,419.89 447.79,419.83 447.86,419.77 447.94,419.72 448.02,419.68 448.09,419.64 448.17,419.60 448.24,419.58 448.32,419.56 448.39,419.54 448.47,419.54 448.54,419.54 448.62,419.54 448.70,419.55 448.77,419.57 448.85,419.60 448.92,419.63 449.00,419.67 449.07,419.72 449.15,419.77 449.23,419.82 449.30,419.88 449.38,419.95 449.45,420.01 449.53,420.09 449.60,420.16 449.68,420.24 449.76,420.31 449.83,420.39 449.91,420.47 449.98,420.55 450.06,420.63 450.13,420.70 450.21,420.78 450.29,420.85 450.36,420.92 450.44,420.99 450.51,421.05 450.59,421.11 450.66,421.16 450.74,421.21 450.82,421.25 450.89,421.29 450.97,421.31 451.04,421.34 451.12,421.35 451.19,421.36 451.27,421.37 451.35,421.36 451.42,421.35 451.50,421.34 451.57,421.31 451.65,421.28 451.72,421.24 451.80,421.20 451.88,421.15 451.95,421.10 452.03,421.04 452.10,420.98 452.18,420.91 452.25,420.84 452.33,420.77 452.40,420.69 452.48,420.62 452.56,420.54 452.63,420.46 452.71,420.38 452.78,420.30 452.86,420.22 452.93,420.15 453.01,420.07 453.09,420.00 453.16,419.94 453.24,419.87 453.31,419.81 453.39,419.76 453.46,419.71 453.54,419.66 453.62,419.63 453.69,419.59 453.77,419.57 453.84,419.55 453.92,419.54 453.99,419.53 454.07,419.53 454.15,419.54 454.22,419.56 454.30,419.58 454.37,419.61 454.45,419.64 454.52,419.68 454.60,419.73 454.68,419.78 454.75,419.84 454.83,419.90 454.90,419.96 454.98,420.03 455.05,420.10 455.13,420.18 455.21,420.26 455.28,420.33 455.36,420.41 455.43,420.49 455.51,420.57 455.58,420.65 455.66,420.73 455.73,420.80 455.81,420.87 455.89,420.94 455.96,421.01 456.04,421.07 456.11,421.13 456.19,421.18 456.26,421.22 456.34,421.26 456.42,421.30 456.49,421.33 456.57,421.35 456.64,421.36 456.72,421.37 456.79,421.37 456.87,421.36 456.95,421.35 457.02,421.33 457.10,421.30 457.17,421.27 457.25,421.23 457.32,421.19 457.40,421.14 457.48,421.08 457.55,421.02 457.63,420.96 457.70,420.89 457.78,420.82 457.85,420.74 457.93,420.67 458.01,420.59 458.08,420.51 458.16,420.43 458.23,420.35 458.31,420.27 458.38,420.19 458.46,420.12 458.54,420.04 458.61,419.97 458.69,419.91 458.76,419.85 458.84,419.79 458.91,419.73 458.99,419.69 459.06,419.65 459.14,419.61 459.22,419.58 459.29,419.56 459.37,419.54 459.44,419.53 459.52,419.53 459.59,419.53 459.67,419.54 459.75,419.56 459.82,419.59 459.90,419.62 459.97,419.65 460.05,419.70 460.12,419.75 460.20,419.80 460.28,419.86 460.35,419.92 460.43,419.99 460.50,420.06 460.58,420.14 460.65,420.21 460.73,420.29 460.81,420.37 460.88,420.45 460.96,420.53 461.03,420.61 461.11,420.69 461.18,420.76 461.26,420.84 461.34,420.91 461.41,420.98 461.49,421.04 461.56,421.10 461.64,421.15 461.71,421.20 461.79,421.25 461.87,421.28 461.94,421.32 462.02,421.34 462.09,421.36 462.17,421.37 462.24,421.37 462.32,421.37 462.40,421.36 462.47,421.34 462.55,421.32 462.62,421.29 462.70,421.26 462.77,421.21 462.85,421.17 462.92,421.11 463.00,421.05 463.08,420.99 463.15,420.92 463.23,420.85 463.30,420.78 463.38,420.70 463.45,420.63 463.53,420.55 463.61,420.47 463.68,420.39 463.76,420.31 463.83,420.23 463.91,420.15 463.98,420.08 464.06,420.00 464.14,419.94 464.21,419.87 464.29,419.81 464.36,419.75 464.44,419.70 464.51,419.66 464.59,419.62 464.67,419.59 464.74,419.56 464.82,419.54 464.89,419.53 464.97,419.53 465.04,419.53 465.12,419.53 465.20,419.55 465.27,419.57 465.35,419.60 465.42,419.64 465.50,419.68 465.57,419.72 465.65,419.78 465.73,419.83 465.80,419.90 465.88,419.96 465.95,420.03 466.03,420.11 466.10,420.18 466.18,420.26 466.25,420.34 466.33,420.42 466.41,420.50 466.48,420.58 466.56,420.66 466.63,420.74 466.71,420.81 466.78,420.89 466.86,420.95 466.94,421.02 467.01,421.08 467.09,421.14 467.16,421.19 467.24,421.24 467.31,421.27 467.39,421.31 467.47,421.34 467.54,421.36 467.62,421.37 467.69,421.38 467.77,421.38 467.84,421.37 467.92,421.35 468.00,421.33 468.07,421.30 468.15,421.27 468.22,421.23 468.30,421.18 468.37,421.13 468.45,421.07 468.53,421.01 468.60,420.95 468.68,420.88 468.75,420.80 468.83,420.73 468.90,420.65 468.98,420.57 469.06,420.49 469.13,420.41 469.21,420.33 469.28,420.25 469.36,420.17 469.43,420.10 469.51,420.02 469.58,419.95 469.66,419.89 469.74,419.82 469.81,419.77 469.89,419.71 469.96,419.67 470.04,419.63 470.11,419.59 470.19,419.57 470.27,419.54 470.34,419.53 470.42,419.52 470.49,419.52 470.57,419.53 470.64,419.54 470.72,419.56 470.80,419.59 470.87,419.62 470.95,419.66 471.02,419.71 471.10,419.76 471.17,419.82 471.25,419.88 471.33,419.95 471.40,420.02 471.48,420.09 471.55,420.17 471.63,420.24 471.70,420.32 471.78,420.40 471.86,420.48 471.93,420.57 472.01,420.65 472.08,420.72 472.16,420.80 472.23,420.87 472.31,420.94 472.39,421.01 472.46,421.07 472.54,421.13 472.61,421.18 472.69,421.23 472.76,421.27 472.84,421.31 472.92,421.33 472.99,421.36 473.07,421.37 473.14,421.38 473.22,421.38 473.29,421.37 473.37,421.36 473.44,421.34 473.52,421.31 473.60,421.28 473.67,421.24 473.75,421.19 473.82,421.14 473.90,421.08 473.97,421.02 474.05,420.96 474.13,420.89 474.20,420.81 474.28,420.74 474.35,420.66 474.43,420.58 474.50,420.50 474.58,420.42 474.66,420.34 474.73,420.26 474.81,420.18 474.88,420.10 474.96,420.03 475.03,419.96 475.11,419.89 475.19,419.83 475.26,419.77 475.34,419.72 475.41,419.67 475.49,419.63 475.56,419.59 475.64,419.56 475.72,419.54 475.79,419.53 475.87,419.52 475.94,419.52 476.02,419.53 476.09,419.54 476.17,419.56 476.25,419.59 476.32,419.62 476.40,419.66 476.47,419.71 476.55,419.76 476.62,419.81 476.70,419.88 476.77,419.94 476.85,420.01 476.93,420.08 477.00,420.16 477.08,420.24 477.15,420.32 477.23,420.40 477.30,420.48 477.38,420.56 477.46,420.64 477.53,420.72 477.61,420.80 477.68,420.87 477.76,420.94 477.83,421.01 477.91,421.07 477.99,421.13 478.06,421.19 478.14,421.23 478.21,421.27 478.29,421.31 478.36,421.34 478.44,421.36 478.52,421.37 478.59,421.38 478.67,421.38 478.74,421.38 478.82,421.36 478.89,421.34 478.97,421.31 479.05,421.28 479.12,421.24 479.20,421.19 479.27,421.14 479.35,421.09 479.42,421.02 479.50,420.96 479.58,420.89 479.65,420.81 479.73,420.74 479.80,420.66 479.88,420.58 479.95,420.50 480.03,420.41 480.10,420.33 480.18,420.25 480.26,420.17 480.33,420.10 480.41,420.02 480.48,419.95 480.56,419.88 480.63,419.82 480.71,419.76 480.79,419.71 480.86,419.66 480.94,419.62 481.01,419.59 481.09,419.56 481.16,419.54 481.24,419.52 481.32,419.52 481.39,419.52 481.47,419.52 481.54,419.54 481.62,419.56 481.69,419.59 481.77,419.62 481.85,419.66 481.92,419.71 482.00,419.76 482.07,419.82 482.15,419.88 482.22,419.95 482.30,420.02 482.38,420.09 482.45,420.17 482.53,420.25 482.60,420.33 482.68,420.41 482.75,420.49 482.83,420.57 482.91,420.66 482.98,420.73 483.06,420.81 483.13,420.89 483.21,420.96 483.28,421.02 483.36,421.09 483.44,421.14 483.51,421.20 483.59,421.24 483.66,421.28 483.74,421.32 483.81,421.34 483.89,421.37 483.96,421.38 484.04,421.39 484.12,421.39 484.19,421.38 484.27,421.36 484.34,421.34 484.42,421.31 484.49,421.28 484.57,421.24 484.65,421.19 484.72,421.13 484.80,421.08 484.87,421.01 484.95,420.94 485.02,420.87 485.10,420.80 485.18,420.72 485.25,420.64 485.33,420.56 485.40,420.48 485.48,420.40 485.55,420.31 485.63,420.23 485.71,420.15 485.78,420.08 485.86,420.00 485.93,419.93 486.01,419.87 486.08,419.80 486.16,419.75 486.24,419.70 486.31,419.65 486.39,419.61 486.46,419.58 486.54,419.55 486.61,419.53 486.69,419.52 486.77,419.51 486.84,419.51 486.92,419.52 486.99,419.54 487.07,419.56 487.14,419.59 487.22,419.63 487.29,419.67 487.37,419.72 487.45,419.77 487.52,419.83 487.60,419.90 487.67,419.97 487.75,420.04 487.82,420.11 487.90,420.19 487.98,420.27 488.05,420.35 488.13,420.44 488.20,420.52 488.28,420.60 488.35,420.68 488.43,420.76 488.51,420.84 488.58,420.91 488.66,420.98 488.73,421.05 488.81,421.11 488.88,421.16 488.96,421.21 489.04,421.26 489.11,421.30 489.19,421.33 489.26,421.36 489.34,421.37 489.41,421.39 489.49,421.39 489.57,421.39 489.64,421.38 489.72,421.36 489.79,421.33 489.87,421.30 489.94,421.27 490.02,421.22 490.10,421.17 490.17,421.12 490.25,421.05 490.32,420.99 490.40,420.92 490.47,420.85 490.55,420.77 490.62,420.69 490.70,420.61 490.78,420.53 490.85,420.45 490.93,420.36 491.00,420.28 491.08,420.20 491.15,420.12 491.23,420.05 491.31,419.97 491.38,419.90 491.46,419.84 491.53,419.78 491.61,419.72 491.68,419.67 491.76,419.63 491.84,419.59 491.91,419.56 491.99,419.54 492.06,419.52 492.14,419.51 492.21,419.51 492.29,419.51 492.37,419.53 492.44,419.54 492.52,419.57 492.59,419.60 492.67,419.64 492.74,419.69 492.82,419.74 492.90,419.80 492.97,419.86 493.05,419.93 493.12,420.00 493.20,420.07 493.27,420.15 493.35,420.23 493.43,420.31 493.50,420.39 493.58,420.48 493.65,420.56 493.73,420.64 493.80,420.72 493.88,420.80 493.96,420.87 494.03,420.95 494.11,421.01 494.18,421.08 494.26,421.14 494.33,421.19 494.41,421.24 494.48,421.28 494.56,421.32 494.64,421.35 494.71,421.37 494.79,421.38 494.86,421.39 494.94,421.39 495.01,421.39 495.09,421.37 495.17,421.35 495.24,421.32 495.32,421.29 495.39,421.25 495.47,421.20 495.54,421.14 495.62,421.09 495.70,421.02 495.77,420.95 495.85,420.88 495.92,420.81 496.00,420.73 496.07,420.65 496.15,420.57 496.23,420.48 496.30,420.40 496.38,420.32 496.45,420.24 496.53,420.16 496.60,420.08 496.68,420.00 496.76,419.93 496.83,419.86 496.91,419.80 496.98,419.74 497.06,419.69 497.13,419.64 497.21,419.60 497.29,419.57 497.36,419.54 497.44,419.52 497.51,419.51 497.59,419.51 497.66,419.51 497.74,419.52 497.81,419.53 497.89,419.56 497.97,419.59 498.04,419.62 498.12,419.67 498.19,419.72 498.27,419.77 498.34,419.83 498.42,419.90 498.50,419.97 498.57,420.04 498.65,420.12 498.72,420.20 498.80,420.28 498.87,420.36 498.95,420.45 499.03,420.53 499.10,420.61 499.18,420.69 499.25,420.77 499.33,420.85 499.40,420.92 499.48,420.99 499.56,421.06 499.63,421.12 499.71,421.18 499.78,421.23 499.86,421.27 499.93,421.31 500.01,421.34 500.09,421.37 500.16,421.38 500.24,421.39 500.31,421.40 500.39,421.39 500.46,421.38 500.54,421.36 500.62,421.33 500.69,421.30 500.77,421.26 500.84,421.21 500.92,421.16 500.99,421.11 501.07,421.04 501.15,420.98 501.22,420.90 501.30,420.83 501.37,420.75 501.45,420.67 501.52,420.59 501.60,420.51 501.67,420.42 501.75,420.34 501.83,420.26 501.90,420.17 501.98,420.10 502.05,420.02 502.13,419.95 502.20,419.88 502.28,419.81 502.36,419.75 502.43,419.70 502.51,419.65 502.58,419.61 502.66,419.57 502.73,419.55 502.81,419.52 502.89,419.51 502.96,419.50 503.04,419.50 503.11,419.51 503.19,419.53 503.26,419.55 503.34,419.58 503.42,419.61 503.49,419.66 503.57,419.70 503.64,419.76 503.72,419.82 503.79,419.88 503.87,419.95 503.95,420.03 504.02,420.10 504.10,420.18 504.17,420.26 504.25,420.35 504.32,420.43 504.40,420.51 504.48,420.60 504.55,420.68 504.63,420.76 504.70,420.84 504.78,420.91 504.85,420.98 504.93,421.05 505.00,421.11 505.08,421.17 505.16,421.22 505.23,421.27 505.31,421.31 505.38,421.34 505.46,421.37 505.53,421.38 505.61,421.40 505.69,421.40 505.76,421.40 505.84,421.38 505.91,421.37 505.99,421.34 506.06,421.31 506.14,421.27 506.22,421.22 506.29,421.17 506.37,421.11 506.44,421.05 506.52,420.98 506.59,420.91 506.67,420.84 506.75,420.76 506.82,420.68 506.90,420.60 506.97,420.51 507.05,420.43 507.12,420.35 507.20,420.26 507.28,420.18 507.35,420.10 507.43,420.02 507.50,419.95 507.58,419.88 507.65,419.82 507.73,419.76 507.81,419.70 507.88,419.65 507.96,419.61 508.03,419.57 508.11,419.54 508.18,419.52 508.26,419.51 508.33,419.50 508.41,419.50 508.49,419.51 508.56,419.52 508.64,419.54 508.71,419.57 508.79,419.61 508.86,419.65 508.94,419.70 509.02,419.75 509.09,419.82 509.17,419.88 509.24,419.95 509.32,420.02 509.39,420.10 509.47,420.18 509.55,420.26 509.62,420.35 509.70,420.43 509.77,420.51 509.85,420.60 509.92,420.68 510.00,420.76 510.08,420.84 510.15,420.91 510.23,420.99 510.30,421.05 510.38,421.12 510.45,421.17 510.53,421.23 510.61,421.27 510.68,421.31 510.76,421.34 510.83,421.37 510.91,421.39 510.98,421.40 511.06,421.40 511.14,421.40 511.21,421.39 511.29,421.37 511.36,421.34 511.44,421.31 511.51,421.27 511.59,421.22 511.67,421.17 511.74,421.11 511.82,421.05 511.89,420.98 511.97,420.91 512.04,420.83 512.12,420.76 512.19,420.68 512.27,420.59 512.35,420.51 512.42,420.42 512.50,420.34 512.57,420.26 512.65,420.17 512.72,420.09 512.80,420.02 512.88,419.94 512.95,419.87 513.03,419.81 513.10,419.75 513.18,419.69 513.25,419.64 513.33,419.60 513.41,419.57 513.48,419.54 513.56,419.52 513.63,419.50 513.71,419.50 513.78,419.50 513.86,419.50 513.94,419.52 514.01,419.54 514.09,419.57 514.16,419.61 514.24,419.65 514.31,419.70 514.39,419.76 514.47,419.82 514.54,419.89 514.62,419.96 514.69,420.03 514.77,420.11 514.84,420.19 514.92,420.27 515.00,420.36 515.07,420.44 515.15,420.53 515.22,420.61 515.30,420.69 515.37,420.78 515.45,420.85 515.52,420.93 515.60,421.00 515.68,421.07 515.75,421.13 515.83,421.19 515.90,421.24 515.98,421.28 516.05,421.32 516.13,421.35 516.21,421.38 516.28,421.39 516.36,421.40 516.43,421.41 516.51,421.40 516.58,421.39 516.66,421.37 516.74,421.34 516.81,421.31 516.89,421.26 516.96,421.22 517.04,421.16 517.11,421.10 517.19,421.04 517.27,420.97 517.34,420.90 517.42,420.82 517.49,420.74 517.57,420.66 517.64,420.57 517.72,420.49 517.80,420.40 517.87,420.32 517.95,420.23 518.02,420.15 518.10,420.07 518.17,420.00 518.25,419.92 518.33,419.85 518.40,419.79 518.48,419.73 518.55,419.68 518.63,419.63 518.70,419.59 518.78,419.56 518.85,419.53 518.93,419.51 519.01,419.50 519.08,419.49 519.16,419.49 519.23,419.51 519.31,419.52 519.38,419.55 519.46,419.58 519.54,419.62 519.61,419.67 519.69,419.72 519.76,419.78 519.84,419.84 519.91,419.91 519.99,419.98 520.07,420.06 520.14,420.14 520.22,420.22 520.29,420.30 520.37,420.39 520.44,420.47 520.52,420.56 520.60,420.64 520.67,420.72 520.75,420.80 520.82,420.88 520.90,420.96 520.97,421.03 521.05,421.09 521.13,421.15 521.20,421.21 521.28,421.26 521.35,421.30 521.43,421.34 521.50,421.37 521.58,421.39 521.66,421.40 521.73,421.41 521.81,421.41 521.88,421.40 521.96,421.38 522.03,421.36 522.11,421.33 522.19,421.29 522.26,421.25 522.34,421.20 522.41,421.14 522.49,421.08 522.56,421.01 522.64,420.94 522.71,420.87 522.79,420.79 522.87,420.71 522.94,420.62 523.02,420.54 523.09,420.45 523.17,420.37 523.24,420.28 523.32,420.20 523.40,420.12 523.47,420.04 523.55,419.96 523.62,419.89 523.70,419.82 523.77,419.76 523.85,419.70 523.93,419.65 524.00,419.61 524.08,419.57 524.15,419.54 524.23,419.52 524.30,419.50 524.38,419.49 524.46,419.49 524.53,419.50 524.61,419.51 524.68,419.53 524.76,419.56 524.83,419.60 524.91,419.64 524.99,419.69 525.06,419.74 525.14,419.80 525.21,419.87 525.29,419.94 525.36,420.02 525.44,420.09 525.52,420.17 525.59,420.26 525.67,420.34 525.74,420.43 525.82,420.51 525.89,420.60 525.97,420.68 526.04,420.77 526.12,420.85 526.20,420.92 526.27,421.00 526.35,421.06 526.42,421.13 526.50,421.19 526.57,421.24 526.65,421.28 526.73,421.32 526.80,421.36 526.88,421.38 526.95,421.40 527.03,421.41 527.10,421.41 527.18,421.41 527.26,421.40 527.33,421.38 527.41,421.35 527.48,421.31 527.56,421.27 527.63,421.22 527.71,421.17 527.79,421.11 527.86,421.04 527.94,420.97 528.01,420.90 528.09,420.82 528.16,420.74 528.24,420.66 528.32,420.57 528.39,420.49 528.47,420.40 528.54,420.32 528.62,420.23 528.69,420.15 528.77,420.07 528.85,419.99 528.92,419.92 529.00,419.85 529.07,419.78 529.15,419.72 529.22,419.67 529.30,419.62 529.38,419.58 529.45,419.55 529.53,419.52 529.60,419.50 529.68,419.49 529.75,419.48 529.83,419.49 529.90,419.50 529.98,419.52 530.06,419.55 530.13,419.58 530.21,419.62 530.28,419.67 530.36,419.72 530.43,419.78 530.51,419.84 530.59,419.91 530.66,419.99 530.74,420.07 530.81,420.15 530.89,420.23 530.96,420.31 531.04,420.40 531.12,420.49 531.19,420.57 531.27,420.66 531.34,420.74 531.42,420.82 531.49,420.90 531.57,420.98 531.65,421.05 531.72,421.11 531.80,421.17 531.87,421.23 531.95,421.27 532.02,421.32 532.10,421.35 532.18,421.38 532.25,421.40 532.33,421.41 532.40,421.42 532.48,421.41 532.55,421.40 532.63,421.39 532.71,421.36 532.78,421.33 532.86,421.29 532.93,421.24 533.01,421.19 533.08,421.13 533.16,421.06 533.23,420.99 533.31,420.92 533.39,420.84 533.46,420.76 533.54,420.68 533.61,420.59 533.69,420.51 533.76,420.42 533.84,420.34 533.92,420.25 533.99,420.17 534.07,420.08 534.14,420.01 534.22,419.93 534.29,419.86 534.37,419.79 534.45,419.73 534.52,419.68 534.60,419.63 534.67,419.59 534.75,419.55 534.82,419.52 534.90,419.50 534.98,419.49 535.05,419.48 535.13,419.48 535.20,419.49 535.28,419.51 535.35,419.54 535.43,419.57 535.51,419.61 535.58,419.66 535.66,419.71 535.73,419.77 535.81,419.83 535.88,419.90 535.96,419.97 536.04,420.05 536.11,420.13 536.19,420.22 536.26,420.30 536.34,420.39 536.41,420.47 536.49,420.56 536.56,420.65 536.64,420.73 536.72,420.81 536.79,420.89 536.87,420.97 536.94,421.04 537.02,421.11 537.09,421.17 537.17,421.22 537.25,421.27 537.32,421.31 537.40,421.35 537.47,421.38 537.55,421.40 537.62,421.41 537.70,421.42 537.78,421.42 537.85,421.41 537.93,421.39 538.00,421.37 538.08,421.33 538.15,421.29 538.23,421.25 538.31,421.19 538.38,421.14 538.46,421.07 538.53,421.00 538.61,420.93 538.68,420.85 538.76,420.77 538.84,420.69 538.91,420.60 538.99,420.51 539.06,420.43 539.14,420.34 539.21,420.25 539.29,420.17 539.37,420.09 539.44,420.01 539.52,419.93 539.59,419.86 539.67,419.79 539.74,419.73 539.82,419.68 539.90,419.63 539.97,419.58 540.05,419.55 540.12,419.52 540.20,419.50 540.27,419.48 540.35,419.48 540.42,419.48 540.50,419.49 540.58,419.51 540.65,419.53 540.73,419.57 540.80,419.61 540.88,419.65 540.95,419.71 541.03,419.76 541.11,419.83 541.18,419.90 541.26,419.97 541.33,420.05 541.41,420.13 541.48,420.22 541.56,420.30 541.64,420.39 541.71,420.48 541.79,420.56 541.86,420.65 541.94,420.73 542.01,420.82 542.09,420.90 542.17,420.97 542.24,421.04 542.32,421.11 542.39,421.17 542.47,421.23 542.54,421.28 542.62,421.32 542.70,421.36 542.77,421.38 542.85,421.41 542.92,421.42 543.00,421.42 543.07,421.42 543.15,421.41 543.23,421.39 543.30,421.37 543.38,421.33 543.45,421.29 543.53,421.25 543.60,421.19 543.68,421.13 543.75,421.07 543.83,421.00 543.91,420.92 543.98,420.84 544.06,420.76 544.13,420.68 544.21,420.59 544.28,420.51 544.36,420.42 544.44,420.33 544.51,420.24 544.59,420.16 544.66,420.08 544.74,420.00 544.81,419.92 544.89,419.85 544.97,419.78 545.04,419.72 545.12,419.67 545.19,419.62 545.27,419.57 545.34,419.54 545.42,419.51 545.50,419.49 545.57,419.48 545.65,419.47 545.72,419.48 545.80,419.49 545.87,419.51 545.95,419.53 546.03,419.57 546.10,419.61 546.18,419.66 546.25,419.71 546.33,419.77 546.40,419.84 546.48,419.91 546.56,419.98 546.63,420.06 546.71,420.15 546.78,420.23 546.86,420.32 546.93,420.40 547.01,420.49 547.08,420.58 547.16,420.67 547.24,420.75 547.31,420.83 547.39,420.91 547.46,420.99 547.54,421.06 547.61,421.13 547.69,421.19 547.77,421.24 547.84,421.29 547.92,421.33 547.99,421.37 548.07,421.39 548.14,421.41 548.22,421.42 548.30,421.43 548.37,421.42 548.45,421.41 548.52,421.39 548.60,421.36 548.67,421.33 548.75,421.29 548.83,421.24 548.90,421.18 548.98,421.12 549.05,421.05 549.13,420.98 549.20,420.90 549.28,420.82 549.36,420.74 549.43,420.66 549.51,420.57 549.58,420.48 549.66,420.39 549.73,420.30 549.81,420.22 549.89,420.13 549.96,420.05 550.04,419.97 550.11,419.90 550.19,419.83 550.26,419.76 550.34,419.70 550.42,419.65 550.49,419.60 550.57,419.56 550.64,419.53 550.72,419.50 550.79,419.48 550.87,419.47 550.94,419.47 551.02,419.48 551.10,419.49 551.17,419.51 551.25,419.54 551.32,419.58 551.40,419.62 551.47,419.67 551.55,419.73 551.63,419.79 551.70,419.86 551.78,419.93 551.85,420.01 551.93,420.09 552.00,420.18 552.08,420.26 552.16,420.35 552.23,420.44 552.31,420.53 552.38,420.61 552.46,420.70 552.53,420.78 552.61,420.87 552.69,420.94 552.76,421.02 552.84,421.09 552.91,421.15 552.99,421.21 553.06,421.26 553.14,421.31 553.22,421.35 553.29,421.38 553.37,421.41 553.44,421.42 553.52,421.43 553.59,421.43 553.67,421.42 553.75,421.41 553.82,421.38 553.90,421.35 553.97,421.31 554.05,421.27 554.12,421.22 554.20,421.16 554.27,421.09 554.35,421.02 554.43,420.95 554.50,420.87 554.58,420.79 554.65,420.70 554.73,420.62 554.80,420.53 554.88,420.44 554.96,420.35 555.03,420.26 555.11,420.18 555.18,420.09 555.26,420.01 555.33,419.93 555.41,419.86 555.49,419.79 555.56,419.73 555.64,419.67 555.71,419.62 555.79,419.58 555.86,419.54 555.94,419.51 556.02,419.49 556.09,419.47 556.17,419.47 556.24,419.47 556.32,419.48 556.39,419.50 556.47,419.52 556.55,419.56 556.62,419.60 556.70,419.64 556.77,419.70 556.85,419.76 556.92,419.83 557.00,419.90 557.08,419.97 557.15,420.05 557.23,420.13 557.30,420.22 557.38,420.31 557.45,420.40 557.53,420.49 557.60,420.57 557.68,420.66 557.76,420.75 557.83,420.83 557.91,420.91 557.98,420.99 558.06,421.06 558.13,421.13 558.21,421.19 558.29,421.25 558.36,421.30 558.44,421.34 558.51,421.37 558.59,421.40 558.66,421.42 558.74,421.43 558.82,421.43 558.89,421.43 558.97,421.42 559.04,421.40 559.12,421.37 559.19,421.33 559.27,421.29 559.35,421.24 559.42,421.18 559.50,421.12 559.57,421.05 559.65,420.98 559.72,420.90 559.80,420.82 559.88,420.74 559.95,420.65 560.03,420.56 560.10,420.47 560.18,420.38 560.25,420.30 560.33,420.21 560.41,420.12 560.48,420.04 560.56,419.96 560.63,419.88 560.71,419.81 560.78,419.75 560.86,419.69 560.94,419.63 561.01,419.59 561.09,419.55 561.16,419.52 561.24,419.49 561.31,419.47 561.39,419.47 561.46,419.46 561.54,419.47 561.62,419.49 561.69,419.51 561.77,419.54 561.84,419.58 561.92,419.63 561.99,419.68 562.07,419.74 562.15,419.80 562.22,419.87 562.30,419.95 562.37,420.03 562.45,420.11 562.52,420.19 562.60,420.28 562.68,420.37 562.75,420.46 562.83,420.55 562.90,420.64 562.98,420.73 563.05,420.81 563.13,420.89 563.21,420.97 563.28,421.04 563.36,421.11 563.43,421.18 563.51,421.23 563.58,421.29 563.66,421.33 563.74,421.37 563.81,421.40 563.89,421.42 563.96,421.43 564.04,421.44 564.11,421.44 564.19,421.42 564.27,421.41 564.34,421.38 564.42,421.35 564.49,421.30 564.57,421.25 564.64,421.20 564.72,421.14 564.79,421.07 564.87,421.00 564.95,420.92 565.02,420.84 565.10,420.76 565.17,420.67 565.25,420.58 565.32,420.49 565.40,420.40 565.48,420.31 565.55,420.22 565.63,420.14 565.70,420.05 565.78,419.97 565.85,419.90 565.93,419.82 566.01,419.76 566.08,419.70 566.16,419.64 566.23,419.59 566.31,419.55 566.38,419.52 566.46,419.49 566.54,419.47 566.61,419.46 566.69,419.46 566.76,419.47 566.84,419.48 566.91,419.50 566.99,419.53 567.07,419.57 567.14,419.62 567.22,419.67 567.29,419.73 567.37,419.79 567.44,419.86 567.52,419.94 567.60,420.01 567.67,420.10 567.75,420.18 567.82,420.27 567.90,420.36 567.97,420.45 568.05,420.54 568.12,420.63 568.20,420.72 568.28,420.80 568.35,420.89 568.43,420.97 568.50,421.04 568.58,421.11 568.65,421.17 568.73,421.23 568.81,421.29 568.88,421.33 568.96,421.37 569.03,421.40 569.11,421.42 569.18,421.44 569.26,421.44 569.34,421.44 569.41,421.43 569.49,421.41 569.56,421.38 569.64,421.35 569.71,421.31 569.79,421.26 569.87,421.21 569.94,421.14 570.02,421.08 570.09,421.00 570.17,420.93 570.24,420.84 570.32,420.76 570.40,420.67 570.47,420.58 570.55,420.49 570.62,420.40 570.70,420.31 570.77,420.22 570.85,420.14 570.93,420.05 571.00,419.97 571.08,419.89 571.15,419.82 571.23,419.75 571.30,419.69 571.38,419.64 571.46,419.59 571.53,419.55 571.61,419.51 571.68,419.49 571.76,419.47 571.83,419.46 571.91,419.46 571.98,419.46 572.06,419.48 572.14,419.50 572.21,419.53 572.29,419.57 572.36,419.61 572.44,419.67 572.51,419.73 572.59,419.79 572.67,419.86 572.74,419.94 572.82,420.02 572.89,420.10 572.97,420.19 573.04,420.28 573.12,420.37 573.20,420.46 573.27,420.55 573.35,420.64 573.42,420.72 573.50,420.81 573.57,420.89 573.65,420.97 573.73,421.05 573.80,421.12 573.88,421.18 573.95,421.24 574.03,421.29 574.10,421.34 574.18,421.38 574.26,421.40 574.33,421.43 574.41,421.44 574.48,421.45 574.56,421.44 574.63,421.43 574.71,421.41 574.79,421.38 574.86,421.35 574.94,421.31 575.01,421.26 575.09,421.20 575.16,421.14 575.24,421.07 575.31,421.00 575.39,420.92 575.47,420.83 575.54,420.75 575.62,420.66 575.69,420.57 575.77,420.48 575.84,420.39 575.92,420.30 576.00,420.21 576.07,420.12 576.15,420.04 576.22,419.96 576.30,419.88 576.37,419.81 576.45,419.74 576.53,419.68 576.60,419.62 576.68,419.58 576.75,419.54 576.83,419.50 576.90,419.48 576.98,419.46 577.06,419.45 577.13,419.45 577.21,419.46 577.28,419.48 577.36,419.50 577.43,419.53 577.51,419.57 577.59,419.62 577.66,419.68 577.74,419.74 577.81,419.80 577.89,419.88 577.96,419.95 578.04,420.03 578.12,420.12 578.19,420.21 578.27,420.30 578.34,420.39 578.42,420.48 578.49,420.57 578.57,420.66 578.65,420.75 578.72,420.83 578.80,420.92 578.87,420.99 578.95,421.07 579.02,421.14 579.10,421.20 579.17,421.26 579.25,421.31 579.33,421.35 579.40,421.39 579.48,421.42 579.55,421.43 579.63,421.45 579.70,421.45 579.78,421.44 579.86,421.43 579.93,421.41 580.01,421.38 580.08,421.34 580.16,421.30 580.23,421.24 580.31,421.18 580.39,421.12 580.46,421.05 580.54,420.97 580.61,420.89 580.69,420.81 580.76,420.72 580.84,420.63 580.92,420.54 580.99,420.45 581.07,420.36 581.14,420.27 581.22,420.18 581.29,420.09 581.37,420.01 581.45,419.93 581.52,419.85 581.60,419.78 581.67,419.72 581.75,419.66 581.82,419.60 581.90,419.56 581.98,419.52 582.05,419.49 582.13,419.47 582.20,419.45 582.28,419.45 582.35,419.45 582.43,419.46 582.50,419.48 582.58,419.51 582.66,419.55 582.73,419.59 582.81,419.64 582.88,419.70 582.96,419.76 583.03,419.83 583.11,419.90 583.19,419.98 583.26,420.07 583.34,420.15 583.41,420.24 583.49,420.33 583.56,420.42 583.64,420.52 583.72,420.61 583.79,420.70 583.87,420.79 583.94,420.87 584.02,420.95 584.09,421.03 584.17,421.10 584.25,421.17 584.32,421.23 584.40,421.28 584.47,421.33 584.55,421.37 584.62,421.40 584.70,421.43 584.78,421.44 584.85,421.45 584.93,421.45 585.00,421.44 585.08,421.42 585.15,421.40 585.23,421.37 585.31,421.32 585.38,421.27 585.46,421.22 585.53,421.16 585.61,421.09 585.68,421.01 585.76,420.94 585.83,420.85 585.91,420.77 585.99,420.68 586.06,420.59 586.14,420.50 586.21,420.40 586.29,420.31 586.36,420.22 586.44,420.13 586.52,420.05 586.59,419.96 586.67,419.89 586.74,419.81 586.82,419.74 586.89,419.68 586.97,419.62 587.05,419.58 587.12,419.53 587.20,419.50 587.27,419.47 587.35,419.46 587.42,419.45 587.50,419.45 587.58,419.45 587.65,419.47 587.73,419.49 587.80,419.53 587.88,419.57 587.95,419.61 588.03,419.67 588.11,419.73 588.18,419.80 588.26,419.87 588.33,419.95 588.41,420.03 588.48,420.12 588.56,420.20 588.64,420.29 588.71,420.39 588.79,420.48 588.86,420.57 588.94,420.66 589.01,420.75 589.09,420.84 589.17,420.92 589.24,421.00 589.32,421.08 589.39,421.15 589.47,421.21 589.54,421.27 589.62,421.32 589.69,421.36 589.77,421.40 589.85,421.42 589.92,421.44 590.00,421.45 590.07,421.46 590.15,421.45 590.22,421.44 590.30,421.41 590.38,421.38 590.45,421.34 590.53,421.30 590.60,421.24 590.68,421.18 590.75,421.12 590.83,421.04 590.91,420.97 590.98,420.88 591.06,420.80 591.13,420.71 591.21,420.62 591.28,420.53 591.36,420.43 591.44,420.34 591.51,420.25 591.59,420.16 591.66,420.07 591.74,419.99 591.81,419.91 591.89,419.83 591.97,419.76 592.04,419.70 592.12,419.64 592.19,419.59 592.27,419.54 592.34,419.51 592.42,419.48 592.50,419.46 592.57,419.44 592.65,419.44 592.72,419.45 592.80,419.46 592.87,419.48 592.95,419.51 593.02,419.55 593.10,419.60 593.18,419.65 593.25,419.71 593.33,419.78 593.40,419.85 593.48,419.93 593.55,420.01 593.63,420.09 593.71,420.18 593.78,420.27 593.86,420.36 593.93,420.46 594.01,420.55 594.08,420.64 594.16,420.73 594.24,420.82 594.31,420.91 594.39,420.99 594.46,421.06 594.54,421.13 594.61,421.20 594.69,421.26 594.77,421.31 594.84,421.36 594.92,421.39 594.99,421.42 595.07,421.44 595.14,421.46 595.22,421.46 595.30,421.46 595.37,421.44 595.45,421.42 595.52,421.39 595.60,421.35 595.67,421.31 595.75,421.26 595.83,421.20 595.90,421.13 595.98,421.06 596.05,420.98 596.13,420.90 596.20,420.81 596.28,420.72 596.35,420.63 596.43,420.54 596.51,420.45 596.58,420.35 596.66,420.26 596.73,420.17 596.81,420.08 596.88,420.00 596.96,419.92 597.04,419.84 597.11,419.77 597.19,419.70 597.26,419.64 597.34,419.59 597.41,419.54 597.49,419.51 597.57,419.48 597.64,419.45 597.72,419.44 597.79,419.44 597.87,419.44 597.94,419.45 598.02,419.48 598.10,419.51 598.17,419.54 598.25,419.59 598.32,419.64 598.40,419.70 598.47,419.77 598.55,419.84 598.63,419.92 598.70,420.00 598.78,420.09 598.85,420.17 598.93,420.27 599.00,420.36 599.08,420.45 599.16,420.54 599.23,420.64 599.31,420.73 599.38,420.82 599.46,420.90 599.53,420.99 599.61,421.06 599.69,421.13 599.76,421.20 599.84,421.26 599.91,421.31 599.99,421.36 600.06,421.40 600.14,421.43 600.21,421.45 600.29,421.46 600.37,421.46 600.44,421.46 600.52,421.45 600.59,421.43 600.67,421.40 600.74,421.36 600.82,421.31 600.90,421.26 600.97,421.20 601.05,421.13 601.12,421.06 601.20,420.98 601.27,420.90 601.35,420.81 601.43,420.72 601.50,420.63 601.58,420.54 601.65,420.45 601.73,420.35 601.80,420.26 601.88,420.17 601.96,420.08 602.03,419.99 602.11,419.91 602.18,419.83 602.26,419.76 602.33,419.69 602.41,419.64 602.49,419.58 602.56,419.54 602.64,419.50 602.71,419.47 602.79,419.45 602.86,419.44 602.94,419.43 603.02,419.44 603.09,419.45 603.17,419.47 603.24,419.51 603.32,419.54 603.39,419.59 603.47,419.64 603.54,419.71 603.62,419.77 603.70,419.85 603.77,419.92 603.85,420.01 603.92,420.09 604.00,420.18 604.07,420.27 604.15,420.37 604.23,420.46 604.30,420.56 604.38,420.65 604.45,420.74 604.53,420.83 604.60,420.92 604.68,421.00 604.76,421.08 604.83,421.15 604.91,421.21 604.98,421.27 605.06,421.32 605.13,421.37 605.21,421.41 605.29,421.43 605.36,421.45 605.44,421.47 605.51,421.47 605.59,421.46 605.66,421.45 605.74,421.42 605.82,421.39 605.89,421.35 605.97,421.31 606.04,421.25 606.12,421.19 606.19,421.12 606.27,421.05 606.35,420.97 606.42,420.88 606.50,420.80 606.57,420.71 606.65,420.61 606.72,420.52 606.80,420.43 606.88,420.33 606.95,420.24 607.03,420.15 607.10,420.06 607.18,419.97 607.25,419.89 607.33,419.81 607.40,419.74 607.48,419.68 607.56,419.62 607.63,419.57 607.71,419.52 607.78,419.49 607.86,419.46 607.93,419.44 608.01,419.43 608.09,419.43 608.16,419.44 608.24,419.45 608.31,419.48 608.39,419.51 608.46,419.55 608.54,419.60 608.62,419.66 608.69,419.72 608.77,419.79 608.84,419.86 608.92,419.94 608.99,420.03 609.07,420.12 609.15,420.21 609.22,420.30 609.30,420.40 609.37,420.49 609.45,420.59 609.52,420.68 609.60,420.77 609.68,420.86 609.75,420.94 609.83,421.02 609.90,421.10 609.98,421.17 610.05,421.24 610.13,421.29 610.21,421.34 610.28,421.39 610.36,421.42 610.43,421.45 610.51,421.46 610.58,421.47 610.66,421.47 610.73,421.46 610.81,421.44 610.89,421.42 610.96,421.38 611.04,421.34 611.11,421.29 611.19,421.23 611.26,421.17 611.34,421.10 611.42,421.02 611.49,420.94 611.57,420.85 611.64,420.76 611.72,420.67 611.79,420.58 611.87,420.48 611.95,420.39 612.02,420.29 612.10,420.20 612.17,420.11 612.25,420.02 612.32,419.94 612.40,419.86 612.48,419.78 612.55,419.71 612.63,419.65 612.70,419.59 612.78,419.55 612.85,419.50 612.93,419.47 613.01,419.45 613.08,419.43 613.16,419.43 613.23,419.43 613.31,419.44 613.38,419.46 613.46,419.49 613.54,419.52 613.61,419.57 613.69,419.62 613.76,419.68 613.84,419.75 613.91,419.82 613.99,419.90 614.06,419.98 614.14,420.07 614.22,420.16 614.29,420.25 614.37,420.35 614.44,420.44 614.52,420.54 614.59,420.63 614.67,420.72 614.75,420.81 614.82,420.90 614.90,420.99 614.97,421.06 615.05,421.14 615.12,421.21 615.20,421.27 615.28,421.32 615.35,421.37 615.43,421.41 615.50,421.44 615.58,421.46 615.65,421.47 615.73,421.48 615.81,421.47 615.88,421.46 615.96,421.44 616.03,421.40 616.11,421.37 616.18,421.32 616.26,421.26 616.34,421.20 616.41,421.13 616.49,421.06 616.56,420.98 616.64,420.89 616.71,420.81 616.79,420.72 616.87,420.62 616.94,420.53 617.02,420.43 617.09,420.34 617.17,420.24 617.24,420.15 617.32,420.06 617.40,419.97 617.47,419.89 617.55,419.81 617.62,419.74 617.70,419.67 617.77,419.61 617.85,419.56 617.92,419.52 618.00,419.48 618.08,419.45 618.15,419.43 618.23,419.42 618.30,419.42 618.38,419.43 618.45,419.45 618.53,419.47 618.61,419.51 618.68,419.55 618.76,419.60 618.83,419.66 618.91,419.72 618.98,419.79 619.06,419.87 619.14,419.95 619.21,420.03 619.29,420.12 619.36,420.22 619.44,420.31 619.51,420.41 619.59,420.50 619.67,420.60 619.74,420.69 619.82,420.79 619.89,420.87 619.97,420.96 620.04,421.04 620.12,421.12 620.20,421.19 620.27,421.25 620.35,421.31 620.42,421.36 620.50,421.40 620.57,421.43 620.65,421.46 620.73,421.47 620.80,421.48 620.88,421.48 620.95,421.47 621.03,421.45 621.10,421.42 621.18,421.38 621.25,421.34 621.33,421.28 621.41,421.22 621.48,421.16 621.56,421.08 621.63,421.00 621.71,420.92 621.78,420.83 621.86,420.74 621.94,420.65 622.01,420.55 622.09,420.46 622.16,420.36 622.24,420.26 622.31,420.17 622.39,420.08 622.47,419.99 622.54,419.91 622.62,419.83 622.69,419.75 622.77,419.68 622.84,419.62 622.92,419.57 623.00,419.52 623.07,419.48 623.15,419.45 623.22,419.43 623.30,419.42 623.37,419.42 623.45,419.42 623.53,419.44 623.60,419.46 623.68,419.49 623.75,419.54 623.83,419.58 623.90,419.64 623.98,419.70 624.06,419.77 624.13,419.85 624.21,419.93 624.28,420.02 624.36,420.11 624.43,420.20 624.51,420.29 624.58,420.39 624.66,420.49 624.74,420.58 624.81,420.68 624.89,420.77 624.96,420.86 625.04,420.95 625.11,421.03 625.19,421.11 625.27,421.18 625.34,421.25 625.42,421.30 625.49,421.35 625.57,421.40 625.64,421.43 625.72,421.46 625.80,421.48 625.87,421.48 625.95,421.48 626.02,421.47 626.10,421.45 626.17,421.43 626.25,421.39 626.33,421.34 626.40,421.29 626.48,421.23 626.55,421.17 626.63,421.09 626.70,421.01 626.78,420.93 626.86,420.84 626.93,420.75 627.01,420.66 627.08,420.56 627.16,420.46 627.23,420.37 627.31,420.27 627.39,420.18 627.46,420.08 627.54,419.99 627.61,419.91 627.69,419.83 627.76,419.75 627.84,419.69 627.92,419.62 627.99,419.57 628.07,419.52 628.14,419.48 628.22,419.45 628.29,419.43 628.37,419.42 628.44,419.41 628.52,419.42 628.60,419.43 628.67,419.46 628.75,419.49 628.82,419.53 628.90,419.58 628.97,419.64 629.05,419.70 629.13,419.77 629.20,419.85 629.28,419.93 629.35,420.01 629.43,420.10 629.50,420.20 629.58,420.29 629.66,420.39 629.73,420.49 629.81,420.58 629.88,420.68 629.96,420.77 630.03,420.86 630.11,420.95 630.19,421.04 630.26,421.11 630.34,421.19 630.41,421.25 630.49,421.31 630.56,421.36 630.64,421.40 630.72,421.44 630.79,421.46 630.87,421.48 630.94,421.49 631.02,421.49 631.09,421.48 631.17,421.46 631.25,421.43 631.32,421.39 631.40,421.35 631.47,421.29 631.55,421.23 631.62,421.16 631.70,421.09 631.77,421.01 631.85,420.93 631.93,420.84 632.00,420.74 632.08,420.65 632.15,420.55 632.23,420.45 632.30,420.36 632.38,420.26 632.46,420.17 632.53,420.07 632.61,419.98 632.68,419.90 632.76,419.82 632.83,419.74 632.91,419.67 632.99,419.61 633.06,419.56 633.14,419.51 633.21,419.47 633.29,419.44 633.36,419.42 633.44,419.41 633.52,419.41 633.59,419.42 633.67,419.43 633.74,419.46 633.82,419.49 633.89,419.53 633.97,419.58 634.05,419.64 634.12,419.71 634.20,419.78 634.27,419.86 634.35,419.94 634.42,420.03 634.50,420.12 634.58,420.21 634.65,420.31 634.73,420.41 634.80,420.51 634.88,420.60 634.95,420.70 635.03,420.79 635.10,420.88 635.18,420.97 635.26,421.05 635.33,421.13 635.41,421.20 635.48,421.27 635.56,421.32 635.63,421.37 635.71,421.41 635.79,421.45 635.86,421.47 635.94,421.49 636.01,421.49 636.09,421.49 636.16,421.48 636.24,421.45 636.32,421.42 636.39,421.38 636.47,421.34 636.54,421.28 636.62,421.22 636.69,421.15 636.77,421.07 636.85,420.99 636.92,420.90 637.00,420.81 637.07,420.72 637.15,420.62 637.22,420.53 637.30,420.43 637.38,420.33 637.45,420.23 637.53,420.14 637.60,420.05 637.68,419.96 637.75,419.87 637.83,419.79 637.91,419.72 637.98,419.65 638.06,419.59 638.13,419.54 638.21,419.50 638.28,419.46 638.36,419.43 638.44,419.42 638.51,419.41 638.59,419.41 638.66,419.42 638.74,419.44 638.81,419.46 638.89,419.50 638.96,419.55 639.04,419.60 639.12,419.66 639.19,419.73 639.27,419.80 639.34,419.88 639.42,419.97 639.49,420.06 639.57,420.15 639.65,420.25 639.72,420.34 639.80,420.44 639.87,420.54 639.95,420.64 640.02,420.74 640.10,420.83 640.18,420.92 640.25,421.01 640.33,421.09 640.40,421.16 640.48,421.23 640.55,421.29 640.63,421.35 640.71,421.39 640.78,421.43 640.86,421.46 640.93,421.48 641.01,421.49 641.08,421.50 641.16,421.49 641.24,421.47 641.31,421.45 641.39,421.41 641.46,421.37 641.54,421.32 641.61,421.26 641.69,421.19 641.77,421.12 641.84,421.04 641.92,420.96 641.99,420.87 642.07,420.77 642.14,420.68 642.22,420.58 642.29,420.48 642.37,420.38 642.45,420.29 642.52,420.19 642.60,420.09 642.67,420.00 642.75,419.91 642.82,419.83 642.90,419.75 642.98,419.68 643.05,419.62 643.13,419.56 643.20,419.51 643.28,419.47 643.35,419.44 643.43,419.42 643.51,419.41 643.58,419.40 643.66,419.41 643.73,419.42 643.81,419.44 643.88,419.48 643.96,419.52 644.04,419.57 644.11,419.63 644.19,419.69 644.26,419.76 644.34,419.84 644.41,419.92 644.49,420.01 644.57,420.11 644.64,420.20 644.72,420.30 644.79,420.40 644.87,420.50 644.94,420.60 645.02,420.69 645.10,420.79 645.17,420.88 645.25,420.97 645.32,421.05 645.40,421.13 645.47,421.20 645.55,421.27 645.62,421.33 645.70,421.38 645.78,421.42 645.85,421.45 645.93,421.48 646.00,421.49 646.08,421.50 646.15,421.50 646.23,421.48 646.31,421.46 646.38,421.43 646.46,421.39 646.53,421.34 646.61,421.29 646.68,421.22 646.76,421.15 646.84,421.07 646.91,420.99 646.99,420.90 647.06,420.81 647.14,420.72 647.21,420.62 647.29,420.52 647.37,420.42 647.44,420.32 647.52,420.22 647.59,420.13 647.67,420.03 647.74,419.94 647.82,419.86 647.90,419.78 647.97,419.70 648.05,419.64 648.12,419.58 648.20,419.53 648.27,419.48 648.35,419.45 648.43,419.42 648.50,419.40 648.58,419.40 648.65,419.40 648.73,419.41 648.80,419.43 648.88,419.46 648.96,419.50 649.03,419.55 649.11,419.60 649.18,419.67 649.26,419.74 649.33,419.82 649.41,419.90 649.48,419.99 649.56,420.08 649.64,420.17 649.71,420.27 649.79,420.37 649.86,420.47 649.94,420.57 650.01,420.67 650.09,420.76 650.17,420.86 650.24,420.95 650.32,421.03 650.39,421.11 650.47,421.19 650.54,421.26 650.62,421.32 650.70,421.37 650.77,421.42 650.85,421.45 650.92,421.48 651.00,421.50 651.07,421.50 651.15,421.50 651.23,421.49 651.30,421.47 651.38,421.44 651.45,421.40 651.53,421.36 651.60,421.30 651.68,421.24 651.76,421.17 651.83,421.09 651.91,421.01 651.98,420.92 652.06,420.83 652.13,420.74 652.21,420.64 652.29,420.54 652.36,420.44 652.44,420.34 652.51,420.24 652.59,420.14 652.66,420.05 652.74,419.96 652.81,419.87 652.89,419.79 652.97,419.71 653.04,419.64 653.12,419.58 653.19,419.53 653.27,419.48 653.34,419.45 653.42,419.42 653.50,419.40 653.57,419.39 653.65,419.39 653.72,419.40 653.80,419.42 653.87,419.45 653.95,419.49 654.03,419.54 654.10,419.59 654.18,419.66 654.25,419.73 654.33,419.80 654.40,419.89 654.48,419.97 654.56,420.06 654.63,420.16 654.71,420.26 654.78,420.36 654.86,420.46 654.93,420.56 655.01,420.66 655.09,420.76 655.16,420.85 655.24,420.94 655.31,421.03 655.39,421.11 655.46,421.19 655.54,421.26 655.62,421.32 655.69,421.37 655.77,421.42 655.84,421.45 655.92,421.48 655.99,421.50 656.07,421.51 656.15,421.51 656.22,421.50 656.30,421.48 656.37,421.45 656.45,421.41 656.52,421.36 656.60,421.31 656.67,421.24 656.75,421.17 656.83,421.10 656.90,421.01 656.98,420.93 657.05,420.83 657.13,420.74 657.20,420.64 657.28,420.54 657.36,420.44 657.43,420.34 657.51,420.24 657.58,420.14 657.66,420.05 657.73,419.95 657.81,419.87 657.89,419.79 657.96,419.71 658.04,419.64 658.11,419.58 658.19,419.53 658.26,419.48 658.34,419.44 658.42,419.42 658.49,419.40 658.57,419.39 658.64,419.39 658.72,419.40 658.79,419.42 658.87,419.45 658.95,419.49 659.02,419.54 659.10,419.59 659.17,419.66 659.25,419.73 659.32,419.81 659.40,419.89 659.48,419.98 659.55,420.07 659.63,420.17 659.70,420.26 659.78,420.37 659.85,420.47 659.93,420.57 660.00,420.67 660.08,420.77 660.16,420.86 660.23,420.95 660.31,421.04 660.38,421.12 660.46,421.20 660.53,421.27 660.61,421.33 660.69,421.38 660.76,421.43 660.84,421.46 660.91,421.49 660.99,421.51 661.06,421.51 661.14,421.51 661.22,421.50 661.29,421.48 661.37,421.45 661.44,421.41 661.52,421.36 661.59,421.30 661.67,421.24 661.75,421.17 661.82,421.09 661.90,421.00 661.97,420.91 662.05,420.82 662.12,420.72 662.20,420.63 662.28,420.52 662.35,420.42 662.43,420.32 662.50,420.22 662.58,420.12 662.65,420.03 662.73,419.94 662.81,419.85 662.88,419.77 662.96,419.69 663.03,419.62 663.11,419.56 663.18,419.51 663.26,419.47 663.33,419.43 663.41,419.41 663.49,419.39 663.56,419.38 663.64,419.39 663.71,419.40 663.79,419.42 663.86,419.46 663.94,419.50 664.02,419.55 664.09,419.60 664.17,419.67 664.24,419.74 664.32,419.82 664.39,419.91 664.47,420.00 664.55,420.09 664.62,420.19 664.70,420.29 664.77,420.39 664.85,420.49 664.92,420.59 665.00,420.70 665.08,420.79 665.15,420.89 665.23,420.98 665.30,421.07 665.38,421.15 665.45,421.22 665.53,421.29 665.61,421.35 665.68,421.40 665.76,421.44 665.83,421.47 665.91,421.50 665.98,421.51 666.06,421.52 666.14,421.51 666.21,421.50 666.29,421.47 666.36,421.44 666.44,421.40 666.51,421.35 666.59,421.29 666.67,421.22 666.74,421.14 666.82,421.06 666.89,420.98 666.97,420.89 667.04,420.79 667.12,420.69 667.19,420.59 667.27,420.49 667.35,420.39 667.42,420.28 667.50,420.18 667.57,420.09 667.65,419.99 667.72,419.90 667.80,419.82 667.88,419.74 667.95,419.66 668.03,419.60 668.10,419.54 668.18,419.49 668.25,419.45 668.33,419.42 668.41,419.40 668.48,419.38 668.56,419.38 668.63,419.39 668.71,419.40 668.78,419.43 668.86,419.47 668.94,419.51 669.01,419.57 669.09,419.63 669.16,419.70 669.24,419.77 669.31,419.86 669.39,419.94 669.47,420.04 669.54,420.13 669.62,420.23 669.69,420.33 669.77,420.44 669.84,420.54 669.92,420.64 670.00,420.74 670.07,420.84 670.15,420.93 670.22,421.02 670.30,421.11 670.37,421.18 670.45,421.26 670.52,421.32 670.60,421.38 670.68,421.42 670.75,421.46 670.83,421.49 670.90,421.51 670.98,421.52 671.05,421.52 671.13,421.51 671.21,421.49 671.28,421.46 671.36,421.42 671.43,421.38 671.51,421.32 671.58,421.26 671.66,421.18 671.74,421.11 671.81,421.02 671.89,420.93 671.96,420.84 672.04,420.74 672.11,420.64 672.19,420.54 672.27,420.43 672.34,420.33 672.42,420.23 672.49,420.13 672.57,420.03 672.64,419.94 672.72,419.85 672.80,419.77 672.87,419.69 672.95,419.62 673.02,419.56 673.10,419.51 673.17,419.46 673.25,419.43 673.33,419.40 673.40,419.38 673.48,419.38 673.55,419.38 673.63,419.39 673.70,419.41 673.78,419.45 673.85,419.49 673.93,419.54 674.01,419.60 674.08,419.66 674.16,419.74 674.23,419.82 674.31,419.91 674.38,420.00 674.46,420.09 674.54,420.19 674.61,420.29 674.69,420.40 674.76,420.50 674.84,420.60 674.91,420.70 674.99,420.80 675.07,420.90 675.14,420.99 675.22,421.08 675.29,421.16 675.37,421.23 675.44,421.30 675.52,421.36 675.60,421.41 675.67,421.45 675.75,421.49 675.82,421.51 675.90,421.52 675.97,421.53 676.05,421.52 676.13,421.50 676.20,421.48 676.28,421.44 676.35,421.40 676.43,421.34 676.50,421.28 676.58,421.21 676.66,421.13 676.73,421.05 676.81,420.96 676.88,420.87 676.96,420.77 677.03,420.67 677.11,420.57 677.19,420.46 677.26,420.36 677.34,420.26 677.41,420.16 677.49,420.06 677.56,419.96 677.64,419.87 677.71,419.79 677.79,419.71 677.87,419.64 677.94,419.57 678.02,419.52 678.09,419.47 678.17,419.43 678.24,419.40 678.32,419.38 678.40,419.37 678.47,419.37 678.55,419.38 678.62,419.40 678.70,419.43 678.77,419.47 678.85,419.52 678.93,419.58 679.00,419.65 679.08,419.72 679.15,419.80 679.23,419.88 679.30,419.98 679.38,420.07 679.46,420.17 679.53,420.27 679.61,420.38 679.68,420.48 679.76,420.58 679.83,420.69 679.91,420.79 679.99,420.88 680.06,420.98 680.14,421.07 680.21,421.15 680.29,421.22 680.36,421.29 680.44,421.35 680.52,421.41 680.59,421.45 680.67,421.49 680.74,421.51 680.82,421.53 680.89,421.53 680.97,421.53 681.04,421.51 681.12,421.49 681.20,421.45 681.27,421.41 681.35,421.35 681.42,421.29 681.50,421.22 681.57,421.15 681.65,421.06 681.73,420.98 681.80,420.88 681.88,420.78 681.95,420.68 682.03,420.58 682.10,420.48 682.18,420.37 682.26,420.27 682.33,420.17 682.41,420.07 682.48,419.97 682.56,419.88 682.63,419.79 682.71,419.71 682.79,419.64 682.86,419.57 682.94,419.52 683.01,419.47 683.09,419.43 683.16,419.40 683.24,419.38 683.32,419.37 683.39,419.37 683.47,419.38 683.54,419.40 683.62,419.43 683.69,419.47 683.77,419.52 683.85,419.57 683.92,419.64 684.00,419.71 684.07,419.79 684.15,419.88 684.22,419.97 684.30,420.07 684.38,420.17 684.45,420.27 684.53,420.37 684.60,420.48 684.68,420.58 684.75,420.69 684.83,420.79 684.90,420.89 684.98,420.98 685.06,421.07 685.13,421.15 685.21,421.23 685.28,421.30 685.36,421.36 685.43,421.41 685.51,421.46 685.59,421.49 685.66,421.52 685.74,421.53 685.81,421.54 685.89,421.53 685.96,421.51 686.04,421.49 686.12,421.45 686.19,421.41 686.27,421.36 686.34,421.29 686.42,421.22 686.49,421.15 686.57,421.06 686.65,420.97 686.72,420.88 686.80,420.78 686.87,420.68 686.95,420.57 687.02,420.47 687.10,420.36 687.18,420.26 687.25,420.16 687.33,420.06 687.40,419.96 687.48,419.87 687.55,419.78 687.63,419.70 687.71,419.63 687.78,419.56 687.86,419.51 687.93,419.46 688.01,419.42 688.08,419.39 688.16,419.37 688.23,419.36 688.31,419.36 688.39,419.38 688.46,419.40 688.54,419.43 688.61,419.47 688.69,419.52 688.76,419.58 688.84,419.65 688.92,419.72 688.99,419.80 689.07,419.89 689.14,419.98 689.22,420.08 689.29,420.18 689.37,420.29 689.45,420.39 689.52,420.50 689.60,420.60 689.67,420.70 689.75,420.81 689.82,420.90 689.90,421.00 689.98,421.09 690.05,421.17 690.13,421.25 690.20,421.31 690.28,421.37 690.35,421.43 690.43,421.47 690.51,421.50 690.58,421.52 690.66,421.54 690.73,421.54 690.81,421.53 690.88,421.51 690.96,421.49 691.04,421.45 691.11,421.40 691.19,421.35 691.26,421.28 691.34,421.21 691.41,421.13 691.49,421.04 691.56,420.95 691.64,420.86 691.72,420.75 691.79,420.65 691.87,420.55 691.94,420.44 692.02,420.34 692.09,420.23 692.17,420.13 692.25,420.03 692.32,419.93 692.40,419.84 692.47,419.76 692.55,419.68 692.62,419.61 692.70,419.54 692.78,419.49 692.85,419.44 692.93,419.41 693.00,419.38 693.08,419.36 693.15,419.36 693.23,419.36 693.31,419.38 693.38,419.40 693.46,419.44 693.53,419.48 693.61,419.53 693.68,419.60 693.76,419.67 693.84,419.74 693.91,419.83 693.99,419.92 694.06,420.01 694.14,420.11 694.21,420.22 694.29,420.32 694.37,420.43 694.44,420.53 694.52,420.64 694.59,420.74 694.67,420.84 694.74,420.94 694.82,421.03 694.90,421.12 694.97,421.20 695.05,421.28 695.12,421.34 695.20,421.40 695.27,421.45 695.35,421.49 695.42,421.52 695.50,421.53 695.58,421.54 695.65,421.54 695.73,421.53 695.80,421.51 695.88,421.48 695.95,421.43 696.03,421.38 696.11,421.32 696.18,421.25 696.26,421.18 696.33,421.10 696.41,421.01 696.48,420.91 696.56,420.81 696.64,420.71 696.71,420.61 696.79,420.50 696.86,420.39 696.94,420.29 697.01,420.18 697.09,420.08 697.17,419.98 697.24,419.89 697.32,419.80 697.39,419.72 697.47,419.64 697.54,419.57 697.62,419.51 697.70,419.46 697.77,419.42 697.85,419.39 697.92,419.37 698.00,419.36 698.07,419.35 698.15,419.36 698.23,419.38 698.30,419.41 698.38,419.45 698.45,419.50 698.53,419.56 698.60,419.63 698.68,419.70 698.75,419.78 698.83,419.87 698.91,419.97 698.98,420.06 699.06,420.17 699.13,420.27 699.21,420.38 699.28,420.48 699.36,420.59 699.44,420.70 699.51,420.80 699.59,420.90 699.66,420.99 699.74,421.08 699.81,421.17 699.89,421.25 699.97,421.32 700.04,421.38 700.12,421.43 700.19,421.47 700.27,421.51 700.34,421.53 700.42,421.55 700.50,421.55 700.57,421.54 700.65,421.52 700.72,421.50 700.80,421.46 700.87,421.41 700.95,421.35 701.03,421.29 701.10,421.21 701.18,421.13 701.25,421.05 701.33,420.95 701.40,420.85 701.48,420.75 701.56,420.65 701.63,420.54 701.71,420.43 701.78,420.33 701.86,420.22 701.93,420.12 702.01,420.02 702.08,419.92 702.16,419.83 702.24,419.74 702.31,419.66 702.39,419.59 702.46,419.53 702.54,419.47 702.61,419.43 702.69,419.39 702.77,419.37 702.84,419.35 702.92,419.35 702.99,419.35 703.07,419.37 703.14,419.40 703.22,419.44 703.30,419.48 703.37,419.54 703.45,419.60 703.52,419.67 703.60,419.75 703.67,419.84 703.75,419.93 703.83,420.03 703.90,420.13 703.98,420.24 704.05,420.34 704.13,420.45 704.20,420.56 704.28,420.67 704.36,420.77 704.43,420.87 704.51,420.97 704.58,421.06 704.66,421.15 704.73,421.23 704.81,421.30 704.89,421.37 704.96,421.42 705.04,421.47 705.11,421.51 705.19,421.53 705.26,421.55 705.34,421.55 705.42,421.55 705.49,421.53 705.57,421.51 705.64,421.47 705.72,421.43 705.79,421.37 705.87,421.31 705.94,421.23 706.02,421.15 706.10,421.07 706.17,420.97 706.25,420.88 706.32,420.78 706.40,420.67 706.47,420.56 706.55,420.46 706.63,420.35 706.70,420.24 706.78,420.14 706.85,420.03 706.93,419.93 707.00,419.84 707.08,419.75 707.16,419.67 707.23,419.60 707.31,419.53 707.38,419.48 707.46,419.43 707.53,419.39 707.61,419.37 707.69,419.35 707.76,419.34 707.84,419.35 707.91,419.36 707.99,419.39 708.06,419.43 708.14,419.47 708.22,419.53 708.29,419.59 708.37,419.66 708.44,419.74 708.52,419.83 708.59,419.92 708.67,420.02 708.75,420.12 708.82,420.23 708.90,420.33 708.97,420.44 709.05,420.55 709.12,420.66 709.20,420.76 709.27,420.87 709.35,420.96 709.43,421.06 709.50,421.15 709.58,421.23 709.65,421.30 709.73,421.37 709.80,421.42 709.88,421.47 709.96,421.51 710.03,421.54 710.11,421.55 710.18,421.56 710.26,421.55 710.33,421.54 710.41,421.51 710.49,421.48 710.56,421.43 710.64,421.38 710.71,421.31 710.79,421.24 710.86,421.16 710.94,421.07 711.02,420.98 711.09,420.88 711.17,420.78 711.24,420.67 711.32,420.57 711.39,420.46 711.47,420.35 711.55,420.24 711.62,420.13 711.70,420.03 711.77,419.93 711.85,419.84 711.92,419.75 712.00,419.67 712.08,419.60 712.15,419.53 712.23,419.47 712.30,419.43 712.38,419.39 712.45,419.36 712.53,419.35 712.60,419.34 712.68,419.34 712.76,419.36 712.83,419.39 712.91,419.42 712.98,419.47 713.06,419.52 713.13,419.59 713.21,419.66 713.29,419.74 713.36,419.83 713.44,419.92 713.51,420.02 713.59,420.13 713.66,420.23 713.74,420.34 713.82,420.45 713.89,420.56 713.97,420.67 714.04,420.77 714.12,420.88 714.19,420.98 714.27,421.07 714.35,421.16 714.42,421.24 714.50,421.31 714.57,421.38 714.65,421.43 714.72,421.48 714.80,421.52 714.88,421.54 714.95,421.56 715.03,421.56 715.10,421.56 715.18,421.54 715.25,421.51 715.33,421.48 715.41,421.43 715.48,421.37 715.56,421.31 715.63,421.23 715.71,421.15 715.78,421.06 715.86,420.97 715.94,420.87 716.01,420.76 716.09,420.66 716.16,420.55 716.24,420.44 716.31,420.33 716.39,420.22 716.46,420.11 716.54,420.01 716.62,419.91 716.69,419.82 716.77,419.73 716.84,419.65 716.92,419.58 716.99,419.51 717.07,419.46 717.15,419.41 717.22,419.38 717.30,419.35 717.37,419.34 717.45,419.33 717.52,419.34 717.60,419.36 717.68,419.39 717.75,419.43 717.83,419.48 717.90,419.54 717.98,419.60 718.05,419.68 718.13,419.76 718.21,419.85 718.28,419.95 718.36,420.05 718.43,420.15 718.51,420.26 718.58,420.37 718.66,420.48 718.74,420.59 718.81,420.70 718.89,420.80 718.96,420.91 719.04,421.00 719.11,421.10 719.19,421.18 719.27,421.26 719.34,421.34 719.42,421.40 719.49,421.45 719.57,421.50 719.64,421.53 719.72,421.55 719.79,421.57 719.87,421.57 719.95,421.56 720.02,421.54 720.10,421.51 720.17,421.47 720.25,421.41 720.32,421.35 720.40,421.29 720.48,421.21 720.55,421.12 720.63,421.03 720.70,420.93 720.78,420.83 720.85,420.73 720.93,420.62 721.01,420.51 721.08,420.40 721.16,420.29 721.23,420.18 721.31,420.07 721.38,419.97 721.46,419.87 721.54,419.78 721.61,419.70 721.69,419.62 721.76,419.55 721.84,419.49 721.91,419.44 721.99,419.39 722.07,419.36 722.14,419.34 722.22,419.33 722.29,419.33 722.37,419.34 722.44,419.37 722.52,419.40 722.60,419.44 722.67,419.50 722.75,419.56 722.82,419.63 722.90,419.71 722.97,419.80 723.05,419.89 723.12,419.99 723.20,420.09 723.28,420.20 723.35,420.31 723.43,420.42 723.50,420.53 723.58,420.64 723.65,420.75 723.73,420.85 723.81,420.95 723.88,421.05 723.96,421.14 724.03,421.23 724.11,421.30 724.18,421.37 724.26,421.43 724.34,421.48 724.41,421.52 724.49,421.55 724.56,421.57 724.64,421.57 724.71,421.57 724.79,421.55 724.87,421.53 724.94,421.49 725.02,421.45 725.09,421.39 725.17,421.32 725.24,421.25 725.32,421.17 725.40,421.08 725.47,420.98 725.55,420.88 725.62,420.78 725.70,420.67 725.77,420.56 725.85,420.45 725.93,420.34 726.00,420.23 726.08,420.12 726.15,420.02 726.23,419.91 726.30,419.82 726.38,419.73 726.46,419.65 726.53,419.57 726.61,419.51 726.68,419.45 726.76,419.41 726.83,419.37 726.91,419.34 726.98,419.33 727.06,419.33 727.14,419.33 727.21,419.35 727.29,419.38 727.36,419.42 727.44,419.47 727.51,419.53 727.59,419.60 727.67,419.67 727.74,419.76 727.82,419.85 727.89,419.95 727.97,420.05 728.04,420.16 728.12,420.27 728.20,420.38 728.27,420.49 728.35,420.60 728.42,420.71 728.50,420.82 728.57,420.92 728.65,421.02 728.73,421.11 728.80,421.20 728.88,421.28 728.95,421.35 729.03,421.41 729.10,421.47 729.18,421.51 729.26,421.54 729.33,421.57 729.41,421.58 729.48,421.58 729.56,421.56 729.63,421.54 729.71,421.51 729.79,421.47 729.86,421.41 729.94,421.35 730.01,421.28 730.09,421.20 730.16,421.11 730.24,421.01 730.31,420.91 730.39,420.81 730.47,420.70 730.54,420.59 730.62,420.48 730.69,420.37 730.77,420.26 730.84,420.15 730.92,420.04 731.00,419.94 731.07,419.84 731.15,419.75 731.22,419.66 731.30,419.59 731.37,419.52 731.45,419.46 731.53,419.41 731.60,419.37 731.68,419.34 731.75,419.33 731.83,419.32 731.90,419.33 731.98,419.34 732.06,419.37 732.13,419.41 732.21,419.45 732.28,419.51 732.36,419.58 732.43,419.65 732.51,419.74 732.59,419.83 732.66,419.93 732.74,420.03 732.81,420.13 732.89,420.24 732.96,420.36 733.04,420.47 733.12,420.58 733.19,420.69 733.27,420.80 733.34,420.91 733.42,421.01 733.49,421.10 733.57,421.19 733.65,421.27 733.72,421.35 733.80,421.41 733.87,421.46 733.95,421.51 734.02,421.54 734.10,421.57 734.17,421.58 734.25,421.58 734.33,421.57 734.40,421.55 734.48,421.52 734.55,421.48 734.63,421.42 734.70,421.36 734.78,421.29 734.86,421.21 734.93,421.12 735.01,421.03 735.08,420.93 735.16,420.82 735.23,420.71 735.31,420.60 735.39,420.49 735.46,420.38 735.54,420.27 735.61,420.15 735.69,420.05 735.76,419.94 735.84,419.85 735.92,419.75 735.99,419.67 736.07,419.59 736.14,419.52 736.22,419.46 736.29,419.41 736.37,419.37 736.45,419.34 736.52,419.32 736.60,419.32 736.67,419.32 736.75,419.34 736.82,419.36 736.90,419.40 736.98,419.45 737.05,419.51 737.13,419.57 737.20,419.65 737.28,419.73 737.35,419.83 737.43,419.92 737.50,420.03 737.58,420.13 737.66,420.24 737.73,420.36 737.81,420.47 737.88,420.58 737.96,420.69 738.03,420.80 738.11,420.91 738.19,421.01 738.26,421.11 738.34,421.20 738.41,421.28 738.49,421.35 738.56,421.42 738.64,421.47 738.72,421.52 738.79,421.55 738.87,421.57 738.94,421.59 739.02,421.59 739.09,421.58 739.17,421.55 739.25,421.52 739.32,421.48 739.40,421.42 739.47,421.36 739.55,421.29 739.62,421.21 739.70,421.12 739.78,421.02 739.85,420.92 739.93,420.81 740.00,420.71 740.08,420.59 740.15,420.48 740.23,420.37 740.31,420.25 740.38,420.14 740.46,420.03 740.53,419.93 740.61,419.83 740.68,419.74 740.76,419.65 740.83,419.58 740.91,419.51 740.99,419.45 741.06,419.40 741.14,419.36 741.21,419.33 741.29,419.32 741.36,419.31 741.44,419.32 741.52,419.33 741.59,419.36 741.67,419.40 741.74,419.45 741.82,419.51 741.89,419.58 741.97,419.66 742.05,419.75 742.12,419.84 742.20,419.94 742.27,420.04 742.35,420.15 742.42,420.26 742.50,420.38 742.58,420.49 742.65,420.60 742.73,420.72 742.80,420.83 742.88,420.93 742.95,421.03 743.03,421.13 743.11,421.22 743.18,421.30 743.26,421.37 743.33,421.43 743.41,421.49 743.48,421.53 743.56,421.56 743.64,421.58 743.71,421.59 743.79,421.59 743.86,421.58 743.94,421.55 744.01,421.52 744.09,421.47 744.17,421.41 744.24,421.35 744.32,421.27 744.39,421.19 744.47,421.10 744.54,421.00 744.62,420.89 744.69,420.79 744.77,420.68 744.85,420.56 744.92,420.45 745.00,420.33 745.07,420.22 745.15,420.11 745.22,420.00 745.30,419.90 745.38,419.80 745.45,419.71 745.53,419.63 745.60,419.55 745.68,419.48 745.75,419.43 745.83,419.38 745.91,419.35 745.98,419.32 746.06,419.31 746.13,419.31 746.21,419.32 746.28,419.34 746.36,419.37 746.44,419.41 746.51,419.47 746.59,419.53 746.66,419.60 746.74,419.69 746.81,419.78 746.89,419.87 746.97,419.97 747.04,420.08 747.12,420.19 747.19,420.30 747.27,420.42 747.34,420.53 747.42,420.65 747.50,420.76 747.57,420.87 747.65,420.97 747.72,421.07 747.80,421.17 747.87,421.25 747.95,421.33 748.02,421.40 748.10,421.46 748.18,421.51 748.25,421.55 748.33,421.58 748.40,421.59 748.48,421.60 748.55,421.59 748.63,421.57 748.71,421.54 748.78,421.50 748.86,421.45 748.93,421.39 749.01,421.32 749.08,421.24 749.16,421.15 749.24,421.05 749.31,420.95 749.39,420.85 749.46,420.74 749.54,420.62 749.61,420.51 749.69,420.39 749.77,420.28 749.84,420.17 749.92,420.06 749.99,419.95 750.07,419.85 750.14,419.75 750.22,419.66 750.30,419.58 750.37,419.51 750.45,419.45 750.52,419.40 750.60,419.36 750.67,419.33 750.75,419.31 750.83,419.30 750.90,419.31 750.98,419.32 751.05,419.35 751.13,419.39 751.20,419.44 751.28,419.50 751.35,419.57 751.43,419.64 751.51,419.73 751.58,419.82 751.66,419.92 751.73,420.03 751.81,420.14 751.88,420.25 751.96,420.37 752.04,420.48 752.11,420.60 752.19,420.71 752.26,420.82 752.34,420.93 752.41,421.04 752.49,421.13 752.57,421.22 752.64,421.30 752.72,421.38 752.79,421.44 752.87,421.50 752.94,421.54 753.02,421.57 753.10,421.59 753.17,421.60 753.25,421.60 753.32,421.58 753.40,421.56 753.47,421.52 753.55,421.47 753.63,421.42 753.70,421.35 753.78,421.27 753.85,421.19 753.93,421.09 754.00,420.99 754.08,420.89 754.16,420.78 754.23,420.66 754.31,420.55 754.38,420.43 754.46,420.32 754.53,420.20 754.61,420.09 754.69,419.98 754.76,419.88 754.84,419.78 754.91,419.69 754.99,419.60 755.06,419.53 755.14,419.46 755.21,419.41 755.29,419.36 755.37,419.33 755.44,419.31 755.52,419.30 755.59,419.30 755.67,419.31 755.74,419.33 755.82,419.37 755.90,419.42 755.97,419.47 756.05,419.54 756.12,419.62 756.20,419.70 756.27,419.80 756.35,419.89 756.43,420.00 756.50,420.11 756.58,420.22 756.65,420.34 756.73,420.45 756.80,420.57 756.88,420.69 756.96,420.80 757.03,420.91 757.11,421.01 757.18,421.11 757.26,421.21 757.33,421.29 757.41,421.37 757.49,421.43 757.56,421.49 757.64,421.54 757.71,421.57 757.79,421.59 757.86,421.61 757.94,421.61 758.02,421.59 758.09,421.57 758.17,421.54 758.24,421.49 758.32,421.43 758.39,421.37 758.47,421.29 758.54,421.20 758.62,421.11 758.70,421.01 758.77,420.91 758.85,420.80 758.92,420.68 759.00,420.57 759.07,420.45 759.15,420.33 759.23,420.22 759.30,420.11 759.38,420.00 759.45,419.89 759.53,419.79 759.60,419.70 759.68,419.61 759.76,419.53 759.83,419.47 759.91,419.41 759.98,419.36 760.06,419.33 760.13,419.30 760.21,419.29 760.29,419.29 760.36,419.30 760.44,419.33 760.51,419.36 760.59,419.41 760.66,419.46 760.74,419.53 760.82,419.61 760.89,419.69 760.97,419.78 761.04,419.88 761.12,419.99 761.19,420.10 761.27,420.21 761.35,420.33 761.42,420.45 761.50,420.56 761.57,420.68 761.65,420.80 761.72,420.91 761.80,421.01 761.88,421.11 761.95,421.20 762.03,421.29 762.10,421.37 762.18,421.43 762.25,421.49 762.33,421.54 762.40,421.57 762.48,421.60 762.56,421.61 762.63,421.61 762.71,421.60 762.78,421.58 762.86,421.54 762.93,421.49 763.01,421.44 763.09,421.37 763.16,421.29 763.24,421.21 763.31,421.11 763.39,421.01 763.46,420.91 763.54,420.80 763.62,420.68 763.69,420.57 763.77,420.45 763.84,420.33 763.92,420.21 763.99,420.10 764.07,419.99 764.15,419.88 764.22,419.78 764.30,419.69 764.37,419.60 764.45,419.53 764.52,419.46 764.60,419.40 764.68,419.36 764.75,419.32 764.83,419.30 764.90,419.29 764.98,419.29 765.05,419.30 765.13,419.32 765.21,419.36 765.28,419.41 765.36,419.47 765.43,419.53 765.51,419.61 765.58,419.70 765.66,419.79 765.73,419.89 765.81,420.00 765.89,420.11 765.96,420.23 766.04,420.34 766.11,420.46 766.19,420.58 766.26,420.70 766.34,420.81 766.42,420.92 766.49,421.03 766.57,421.13 766.64,421.22 766.72,421.31 766.79,421.38 766.87,421.45 766.95,421.51 767.02,421.55 767.10,421.58 767.17,421.61 767.25,421.62 767.32,421.61 767.40,421.60 767.48,421.58 767.55,421.54 767.63,421.49 767.70,421.43 767.78,421.36 767.85,421.28 767.93,421.19 768.01,421.10 768.08,421.00 768.16,420.89 768.23,420.78 768.31,420.66 768.38,420.54 768.46,420.42 768.54,420.30 768.61,420.19 768.69,420.07 768.76,419.96 768.84,419.86 768.91,419.76 768.99,419.66 769.06,419.58 769.14,419.51 769.22,419.44 769.29,419.39 769.37,419.34 769.44,419.31 769.52,419.29 769.59,419.28 769.67,419.28 769.75,419.30 769.82,419.33 769.90,419.37 769.97,419.42 770.05,419.48 770.12,419.55 770.20,419.63 770.28,419.72 770.35,419.82 770.43,419.92 770.50,420.03 770.58,420.14 770.65,420.26 770.73,420.38 770.81,420.50 770.88,420.62 770.96,420.74 771.03,420.85 771.11,420.96 771.18,421.06 771.26,421.16 771.34,421.25 771.41,421.34 771.49,421.41 771.56,421.47 771.64,421.53 771.71,421.57 771.79,421.60 771.87,421.62 771.94,421.62 772.02,421.62 772.09,421.60 772.17,421.57 772.24,421.53 772.32,421.47 772.40,421.41 772.47,421.33 772.55,421.25 772.62,421.16 772.70,421.06 772.77,420.96 772.85,420.85 772.92,420.73 773.00,420.61 773.08,420.49 773.15,420.37 773.23,420.25 773.30,420.14 773.38,420.02 773.45,419.91 773.53,419.81 773.61,419.71 773.68,419.62 773.76,419.54 773.83,419.47 773.91,419.41 773.98,419.36 774.06,419.32 774.14,419.29 774.21,419.28 774.29,419.28 774.36,419.28 774.44,419.31 774.51,419.34 774.59,419.38 774.67,419.44 774.74,419.51 774.82,419.58 774.89,419.67 774.97,419.76 775.04,419.86 775.12,419.97 775.20,420.08 775.27,420.20 775.35,420.32 775.42,420.44 775.50,420.56 775.57,420.68 775.65,420.80 775.73,420.91 775.80,421.02 775.88,421.12 775.95,421.21 776.03,421.30 776.10,421.38 776.18,421.45 776.25,421.51 776.33,421.56 776.41,421.59 776.48,421.62 776.56,421.63 776.63,421.63 776.71,421.61 776.78,421.59 776.86,421.55 776.94,421.50 777.01,421.44 777.09,421.37 777.16,421.29 777.24,421.20 777.31,421.11 777.39,421.00 777.47,420.89 777.54,420.78 777.62,420.66 777.69,420.54 777.77,420.42 777.84,420.30 777.92,420.18 778.00,420.07 778.07,419.95 778.15,419.85 778.22,419.75 778.30,419.65 778.37,419.57 778.45,419.49 778.53,419.43 778.60,419.37 778.68,419.33 778.75,419.30 778.83,419.28 778.90,419.27 778.98,419.27 779.06,419.29 779.13,419.32 779.21,419.36 779.28,419.42 779.36,419.48 779.43,419.55 779.51,419.64 779.58,419.73 779.66,419.83 779.74,419.93 779.81,420.05 779.89,420.16 779.96,420.28 780.04,420.40 780.11,420.52 780.19,420.64 780.27,420.76 780.34,420.88 780.42,420.99 780.49,421.09 780.57,421.19 780.64,421.28 780.72,421.36 780.80,421.44 780.87,421.50 780.95,421.55 781.02,421.59 781.10,421.62 781.17,421.63 781.25,421.63 781.33,421.62 781.40,421.60 781.48,421.57 781.55,421.52 781.63,421.46 781.70,421.39 781.78,421.32 781.86,421.23 781.93,421.13 782.01,421.03 782.08,420.92 782.16,420.81 782.23,420.69 782.31,420.57 782.39,420.45 782.46,420.33 782.54,420.21 782.61,420.09 782.69,419.97 782.76,419.87 782.84,419.76 782.92,419.67 782.99,419.58 783.07,419.50 783.14,419.43 783.22,419.38 783.29,419.33 783.37,419.30 783.44,419.27 783.52,419.26 783.60,419.27 783.67,419.28 783.75,419.31 783.82,419.35 783.90,419.40 783.97,419.46 784.05,419.54 784.13,419.62 784.20,419.71 784.28,419.81 784.35,419.92 784.43,420.03 784.50,420.15 784.58,420.26 784.66,420.39 784.73,420.51 784.81,420.63 784.88,420.75 784.96,420.87 785.03,420.98 785.11,421.08 785.19,421.18 785.26,421.28 785.34,421.36 785.41,421.43 785.49,421.50 785.56,421.55 785.64,421.59 785.72,421.62 785.79,421.63 785.87,421.64 785.94,421.63 786.02,421.61 786.09,421.57 786.17,421.53 786.25,421.47 786.32,421.40 786.40,421.32 786.47,421.24 786.55,421.14 786.62,421.04 786.70,420.93 786.77,420.81 786.85,420.70 786.93,420.57 787.00,420.45 787.08,420.33 787.15,420.21 787.23,420.09 787.30,419.97 787.38,419.86 787.46,419.76 787.53,419.66 787.61,419.58 787.68,419.50 787.76,419.43 787.83,419.37 787.91,419.32 787.99,419.29 788.06,419.27 788.14,419.26 788.21,419.26 788.29,419.28 788.36,419.31 788.44,419.35 788.52,419.40 788.59,419.46 788.67,419.54 788.74,419.62 788.82,419.71 788.89,419.81 788.97,419.92 789.05,420.03 789.12,420.15 789.20,420.27 789.27,420.39 789.35,420.52 789.42,420.64 789.50,420.76 789.58,420.88 789.65,420.99 789.73,421.10 789.80,421.20 789.88,421.29 789.95,421.37 790.03,421.45 790.10,421.51 790.18,421.56 790.26,421.60 790.33,421.63 790.41,421.64 790.48,421.64 790.56,421.63 790.63,421.61 790.71,421.57 790.79,421.53 790.86,421.47 790.94,421.40 791.01,421.32 791.09,421.23 791.16,421.13 791.24,421.02 791.32,420.91 791.39,420.80 791.47,420.68 791.54,420.56 791.62,420.43 791.69,420.31 791.77,420.19 791.85,420.07 791.92,419.95 792.00,419.84 792.07,419.74 792.15,419.64 792.22,419.56 792.30,419.48 792.38,419.41 792.45,419.36 792.53,419.31 792.60,419.28 792.68,419.26 792.75,419.25 792.83,419.26 792.91,419.28 792.98,419.31 793.06,419.35 793.13,419.41 793.21,419.47 793.28,419.55 793.36,419.64 793.44,419.73 793.51,419.84 793.59,419.95 793.66,420.06 793.74,420.18 793.81,420.30 793.89,420.43 793.96,420.55 794.04,420.67 794.12,420.79 794.19,420.91 794.27,421.02 794.34,421.13 794.42,421.23 794.49,421.32 794.57,421.40 794.65,421.47 794.72,421.53 794.80,421.58 794.87,421.61 794.95,421.64 795.02,421.65 795.10,421.65 795.18,421.63 795.25,421.61 795.33,421.57 795.40,421.51 795.48,421.45 795.55,421.38 795.63,421.29 795.71,421.20 795.78,421.10 795.86,420.99 795.93,420.88 796.01,420.76 796.08,420.64 796.16,420.51 796.24,420.39 796.31,420.26 796.39,420.14 796.46,420.02 796.54,419.91 796.61,419.80 796.69,419.70 796.77,419.61 796.84,419.52 796.92,419.45 796.99,419.38 797.07,419.33 797.14,419.29 797.22,419.26 797.29,419.25 797.37,419.25 797.45,419.26 797.52,419.28 797.60,419.32 797.67,419.37 797.75,419.43 797.82,419.50 797.90,419.58 797.98,419.67 798.05,419.77 798.13,419.88 798.20,419.99 798.28,420.11 798.35,420.23 798.43,420.36 798.51,420.48 798.58,420.61 798.66,420.73 798.73,420.85 798.81,420.96 798.88,421.07 798.96,421.18 799.04,421.27 799.11,421.36 799.19,421.44 799.26,421.50 799.34,421.56 799.41,421.60 799.49,421.63 799.57,421.65 799.64,421.66 799.72,421.65 799.79,421.63 799.87,421.59 799.94,421.55 800.02,421.49 800.10,421.42 800.17,421.34 800.25,421.25 800.32,421.15 800.40,421.04 800.47,420.93 800.55,420.82 800.62,420.69 800.70,420.57 800.78,420.44 800.85,420.32 800.93,420.20 801.00,420.07 801.08,419.96 801.15,419.84 801.23,419.74 801.31,419.64 801.38,419.55 801.46,419.47 801.53,419.41 801.61,419.35 801.68,419.30 801.76,419.27 801.84,419.25 801.91,419.24 801.99,419.25 802.06,419.27 802.14,419.30 802.21,419.34 802.29,419.40 802.37,419.47 802.44,419.55 802.52,419.63 802.59,419.73 802.67,419.84 802.74,419.95 802.82,420.06 802.90,420.19 802.97,420.31 803.05,420.44 803.12,420.56 803.20,420.69 803.27,420.81 803.35,420.93 803.43,421.04 803.50,421.15 803.58,421.25 803.65,421.34 803.73,421.42 803.80,421.49 803.88,421.55 803.96,421.59 804.03,421.63 804.11,421.65 804.18,421.66 804.26,421.66 804.33,421.64 804.41,421.61 804.48,421.57 804.56,421.51 804.64,421.44 804.71,421.37 804.79,421.28 804.86,421.18 804.94,421.08 805.01,420.97 805.09,420.85 805.17,420.73 805.24,420.60 805.32,420.48 805.39,420.35 805.47,420.23 805.54,420.10 805.62,419.98 805.70,419.87 805.77,419.76 805.85,419.66 805.92,419.57 806.00,419.49 806.07,419.42 806.15,419.35 806.23,419.31 806.30,419.27 806.38,419.25 806.45,419.24 806.53,419.24 806.60,419.26 806.68,419.29 806.76,419.33 806.83,419.38 806.91,419.45 806.98,419.52 807.06,419.61 807.13,419.71 807.21,419.81 807.29,419.92 807.36,420.04 807.44,420.16 807.51,420.29 807.59,420.41 807.66,420.54 807.74,420.67 807.81,420.79 807.89,420.91 807.97,421.03 808.04,421.13 808.12,421.24 808.19,421.33 808.27,421.41 808.34,421.48 808.42,421.55 808.50,421.59 808.57,421.63 808.65,421.66 808.72,421.67 808.80,421.66 808.87,421.65 808.95,421.62 809.03,421.58 809.10,421.52 809.18,421.46 809.25,421.38 809.33,421.29 809.40,421.20 809.48,421.09 809.56,420.98 809.63,420.86 809.71,420.74 809.78,420.61 809.86,420.49 809.93,420.36 810.01,420.23 810.09,420.11 810.16,419.99 810.24,419.87 810.31,419.76 810.39,419.66 810.46,419.57 810.54,419.49 810.62,419.41 810.69,419.35 810.77,419.30 810.84,419.27 810.92,419.24 810.99,419.23 811.07,419.23 811.15,419.25 811.22,419.28 811.30,419.32 811.37,419.38 811.45,419.44 811.52,419.52 811.60,419.61 811.67,419.70 811.75,419.81 811.83,419.92 811.90,420.04 811.98,420.16 812.05,420.29 812.13,420.42 812.20,420.54 812.28,420.67 812.36,420.80 812.43,420.92 812.51,421.03 812.58,421.14 812.66,421.24 812.73,421.34 812.81,421.42 812.89,421.49 812.96,421.55 813.04,421.60 813.11,421.64 813.19,421.66 813.26,421.67 813.34,421.67 813.42,421.65 813.49,421.62 813.57,421.58 813.64,421.52 813.72,421.45 813.79,421.38 813.87,421.29 813.95,421.19 814.02,421.08 814.10,420.97 814.17,420.85 814.25,420.73 814.32,420.60 814.40,420.47 814.48,420.34 814.55,420.22 814.63,420.09 814.70,419.97 814.78,419.86 814.85,419.75 814.93,419.65 815.00,419.55 815.08,419.47 815.16,419.40 815.23,419.34 815.31,419.29 815.38,419.26 815.46,419.23 815.53,419.22 815.61,419.23 815.69,419.25 815.76,419.28 815.84,419.33 815.91,419.38 815.99,419.45 816.06,419.53 816.14,419.62 816.22,419.72 816.29,419.83 816.37,419.94 816.44,420.06 816.52,420.19 816.59,420.31 816.67,420.44 816.75,420.57 816.82,420.70 816.90,420.82 816.97,420.95 817.05,421.06 817.12,421.17 817.20,421.27 817.28,421.36 817.35,421.44 817.43,421.51 817.50,421.57 817.58,421.62 817.65,421.65 817.73,421.67 817.81,421.68 817.88,421.67 817.96,421.65 818.03,421.62 818.11,421.57 818.18,421.51 818.26,421.44 818.33,421.36 818.41,421.26 818.49,421.16 818.56,421.05 818.64,420.94 818.71,420.82 818.79,420.69 818.86,420.56 818.94,420.43 819.02,420.30 819.09,420.18 819.17,420.05 819.24,419.93 819.32,419.82 819.39,419.71 819.47,419.61 819.55,419.52 819.62,419.44 819.70,419.37 819.77,419.32 819.85,419.27 819.92,419.24 820.00,419.22 820.08,419.22 820.15,419.23 820.23,419.25 820.30,419.29 820.38,419.34 820.45,419.40 820.53,419.48 820.61,419.56 820.68,419.66 820.76,419.76 820.83,419.87 820.91,419.99 820.98,420.11 821.06,420.24 821.14,420.37 821.21,420.50 821.29,420.63 821.36,420.75 821.44,420.88 821.51,421.00 821.59,421.11 821.67,421.22 821.74,421.31 821.82,421.40 821.89,421.48 821.97,421.55 822.04,421.60 822.12,421.64 822.19,421.67 822.27,421.68 822.35,421.68 822.42,421.67 822.50,421.64 822.57,421.60 822.65,421.55 822.72,421.48 822.80,421.41 822.88,421.32 822.95,421.22 823.03,421.11 823.10,421.00 823.18,420.88 823.25,420.76 823.33,420.63 823.41,420.50 823.48,420.37 823.56,420.24 823.63,420.11 823.71,419.99 823.78,419.87 823.86,419.76 823.94,419.65 824.01,419.56 824.09,419.47 824.16,419.40 824.24,419.33 824.31,419.28 824.39,419.25 824.47,419.22 824.54,419.21 824.62,419.22 824.69,419.24 824.77,419.27 824.84,419.31 824.92,419.37 825.00,419.44 825.07,419.52 825.15,419.61 825.22,419.71 825.30,419.82 825.37,419.94 825.45,420.06 825.52,420.18 825.60,420.31 825.68,420.44 825.75,420.57 825.83,420.70 825.90,420.83 825.98,420.95 826.05,421.07 826.13,421.18 826.21,421.28 826.28,421.38 826.36,421.46 826.43,421.53 826.51,421.59 826.58,421.63 826.66,421.67 826.74,421.68 826.81,421.69 826.89,421.68 826.96,421.66 827.04,421.62 827.11,421.57 827.19,421.51 827.27,421.44 827.34,421.35 827.42,421.26 827.49,421.15 827.57,421.04 827.64,420.92 827.72,420.80 827.80,420.67 827.87,420.54 827.95,420.41 828.02,420.28 828.10,420.15 828.17,420.02 828.25,419.90 828.33,419.78 828.40,419.68 828.48,419.58 828.55,419.49 828.63,419.41 828.70,419.35 828.78,419.29 828.85,419.25 828.93,419.22 829.01,419.21 829.08,419.21 829.16,419.22 829.23,419.25 829.31,419.29 829.38,419.35 829.46,419.41 829.54,419.49 829.61,419.58 829.69,419.68 829.76,419.79 829.84,419.91 829.91,420.03 829.99,420.15 830.07,420.28 830.14,420.42 830.22,420.55 830.29,420.68 830.37,420.81 830.44,420.93 830.52,421.05 830.60,421.16 830.67,421.27 830.75,421.36 830.82,421.45 830.90,421.52 830.97,421.58 831.05,421.63 831.13,421.67 831.20,421.69 831.28,421.70 831.35,421.69 831.43,421.67 831.50,421.63 831.58,421.59 831.66,421.53 831.73,421.45 831.81,421.37 831.88,421.27 831.96,421.17 832.03,421.06 832.11,420.94 832.19,420.81 832.26,420.69 832.34,420.55 832.41,420.42 832.49,420.29 832.56,420.16 832.64,420.03 832.71,419.91 832.79,419.79 832.87,419.68 832.94,419.58 833.02,419.49 833.09,419.41 833.17,419.34 833.24,419.29 833.32,419.25 833.40,419.22 833.47,419.20 833.55,419.20 833.62,419.22 833.70,419.24 833.77,419.29 833.85,419.34 833.93,419.41 834.00,419.49 834.08,419.58 834.15,419.68 834.23,419.78 834.30,419.90 834.38,420.02 834.46,420.15 834.53,420.28 834.61,420.41 834.68,420.55 834.76,420.68 834.83,420.81 834.91,420.93 834.99,421.05 835.06,421.17 835.14,421.27 835.21,421.37 835.29,421.45 835.36,421.53 835.44,421.59 835.52,421.64 835.59,421.67 835.67,421.69 835.74,421.70 835.82,421.69 835.89,421.67 835.97,421.64 836.04,421.59 836.12,421.53 836.20,421.45 836.27,421.37 836.35,421.27 836.42,421.17 836.50,421.05 836.57,420.93 836.65,420.81 836.73,420.68 836.80,420.54 836.88,420.41 836.95,420.28 837.03,420.15 837.10,420.02 837.18,419.89 837.26,419.78 837.33,419.67 837.41,419.57 837.48,419.48 837.56,419.40 837.63,419.33 837.71,419.28 837.79,419.24 837.86,419.21 837.94,419.20 838.01,419.20 838.09,419.21 838.16,419.24 838.24,419.29 838.32,419.34 838.39,419.41 838.47,419.49 838.54,419.59 838.62,419.69 838.69,419.80 838.77,419.92 838.85,420.04 838.92,420.17 839.00,420.30 839.07,420.44 839.15,420.57 839.22,420.70 839.30,420.83 839.38,420.96 839.45,421.08 839.53,421.19 839.60,421.30 839.68,421.39 839.75,421.48 839.83,421.55 839.90,421.61 839.98,421.65 840.06,421.69 840.13,421.70 840.21,421.71 840.28,421.70 840.36,421.67 840.43,421.63 840.51,421.58 840.59,421.52 840.66,421.44 840.74,421.35 840.81,421.25 840.89,421.14 840.96,421.03 841.04,420.90 841.12,420.77 841.19,420.64 841.27,420.51 841.34,420.37 841.42,420.24 841.49,420.11 841.57,419.98 841.65,419.86 841.72,419.74 841.80,419.63 841.87,419.54 841.95,419.45 842.02,419.37 842.10,419.31 842.18,419.26 842.25,419.22 842.33,419.20 842.40,419.19 842.48,419.20 842.55,419.22 842.63,419.25 842.71,419.30 842.78,419.36 842.86,419.43 842.93,419.52 843.01,419.62 843.08,419.72 843.16,419.84 843.23,419.96 843.31,420.09 843.39,420.22 843.46,420.35 843.54,420.49 843.61,420.62 843.69,420.76 843.76,420.89 843.84,421.01 843.92,421.13 843.99,421.24 844.07,421.34 844.14,421.43 844.22,421.51 844.29,421.58 844.37,421.63 844.45,421.67 844.52,421.70 844.60,421.71 844.67,421.71 844.75,421.69 844.82,421.66 844.90,421.62 844.98,421.56 845.05,421.49 845.13,421.40 845.20,421.31 845.28,421.21 845.35,421.09 845.43,420.97 845.51,420.85 845.58,420.71 845.66,420.58 845.73,420.44 845.81,420.31 845.88,420.17 845.96,420.04 846.04,419.92 846.11,419.80 846.19,419.68 846.26,419.58 846.34,419.49 846.41,419.40 846.49,419.33 846.56,419.28 846.64,419.23 846.72,419.20 846.79,419.19 846.87,419.18 846.94,419.20 847.02,419.23 847.09,419.27 847.17,419.32 847.25,419.39 847.32,419.47 847.40,419.57 847.47,419.67 847.55,419.78 847.62,419.90 847.70,420.03 847.78,420.16 847.85,420.29 847.93,420.43 848.00,420.57 848.08,420.70 848.15,420.83 848.23,420.96 848.31,421.08 848.38,421.20 848.46,421.30 848.53,421.40 848.61,421.49 848.68,421.56 848.76,421.62 848.84,421.67 848.91,421.70 848.99,421.72 849.06,421.72 849.14,421.71 849.21,421.68 849.29,421.64 849.37,421.59 849.44,421.52 849.52,421.44 849.59,421.35 849.67,421.25 849.74,421.14 849.82,421.02 849.90,420.89 849.97,420.76 850.05,420.63 850.12,420.49 850.20,420.35 850.27,420.22 850.35,420.08 850.42,419.95 850.50,419.83 850.58,419.71 850.65,419.61 850.73,419.51 850.80,419.42 850.88,419.35 850.95,419.29 851.03,419.24 851.11,419.20 851.18,419.18 851.26,419.18 851.33,419.19 851.41,419.21 851.48,419.25 851.56,419.30 851.64,419.37 851.71,419.45 851.79,419.54 851.86,419.64 851.94,419.75 852.01,419.87 852.09,419.99 852.17,420.12 852.24,420.26 852.32,420.40 852.39,420.53 852.47,420.67 852.54,420.81 852.62,420.94 852.70,421.06 852.77,421.18 852.85,421.29 852.92,421.39 853.00,421.47 853.07,421.55 853.15,421.61 853.23,421.66 853.30,421.70 853.38,421.72 853.45,421.73 853.53,421.72 853.60,421.69 853.68,421.66 853.75,421.60 853.83,421.54 853.91,421.46 853.98,421.37 854.06,421.27 854.13,421.16 854.21,421.04 854.28,420.91 854.36,420.78 854.44,420.65 854.51,420.51 854.59,420.37 854.66,420.23 854.74,420.10 854.81,419.97 854.89,419.84 854.97,419.72 855.04,419.62 855.12,419.52 855.19,419.43 855.27,419.35 855.34,419.29 855.42,419.23 855.50,419.20 855.57,419.18 855.65,419.17 855.72,419.18 855.80,419.20 855.87,419.24 855.95,419.29 856.03,419.36 856.10,419.44 856.18,419.53 856.25,419.63 856.33,419.74 856.40,419.86 856.48,419.98 856.56,420.12 856.63,420.25 856.71,420.39 856.78,420.53 856.86,420.67 856.93,420.80 857.01,420.93 857.08,421.06 857.16,421.18 857.24,421.29 857.31,421.39 857.39,421.48 857.46,421.55 857.54,421.62 857.61,421.67 857.69,421.71 857.77,421.73 857.84,421.73 857.92,421.72 857.99,421.70 858.07,421.66 858.14,421.61 858.22,421.54 858.30,421.46 858.37,421.37 858.45,421.27 858.52,421.16 858.60,421.04 858.67,420.91 858.75,420.78 858.83,420.64 858.90,420.50 858.98,420.36 859.05,420.22 859.13,420.09 859.20,419.96 859.28,419.83 859.36,419.71 859.43,419.60 859.51,419.50 859.58,419.41 859.66,419.34 859.73,419.27 859.81,419.22 859.89,419.19 859.96,419.17 860.04,419.16 860.11,419.17 860.19,419.20 860.26,419.24 860.34,419.29 860.42,419.36 860.49,419.44 860.57,419.53 860.64,419.64 860.72,419.75 860.79,419.87 860.87,420.00 860.94,420.14 861.02,420.27 861.10,420.41 861.17,420.55 861.25,420.69 861.32,420.83 861.40,420.96 861.47,421.08 861.55,421.20 861.63,421.31 861.70,421.41 861.78,421.50 861.85,421.57 861.93,421.64 862.00,421.68 862.08,421.72 862.16,421.74 862.23,421.74 862.31,421.73 862.38,421.70 862.46,421.66 862.53,421.60 862.61,421.53 862.69,421.45 862.76,421.35 862.84,421.25 862.91,421.13 862.99,421.01 863.06,420.88 863.14,420.75 863.22,420.61 863.29,420.47 863.37,420.33 863.44,420.19 863.52,420.05 863.59,419.92 863.67,419.79 863.75,419.68 863.82,419.57 863.90,419.47 863.97,419.39 864.05,419.31 864.12,419.25 864.20,419.21 864.27,419.18 864.35,419.16 864.43,419.16 864.50,419.17 864.58,419.20 864.65,419.25 864.73,419.31 864.80,419.38 864.88,419.47 864.96,419.56 865.03,419.67 865.11,419.79 865.18,419.91 865.26,420.04 865.33,420.18 865.41,420.32 865.49,420.46 865.56,420.60 865.64,420.74 865.71,420.88 865.79,421.01 865.86,421.13 865.94,421.25 866.02,421.35 866.09,421.45 866.17,421.53 866.24,421.61 866.32,421.66 866.39,421.70 866.47,421.73 866.55,421.75 866.62,421.74 866.70,421.72 866.77,421.69 866.85,421.64 866.92,421.58 867.00,421.50 867.08,421.41 867.15,421.31 867.23,421.20 867.30,421.08 867.38,420.96 867.45,420.82 867.53,420.69 867.60,420.54 867.68,420.40 867.76,420.26 867.83,420.12 867.91,419.99 867.98,419.86 868.06,419.74 868.13,419.62 868.21,419.52 868.29,419.42 868.36,419.34 868.44,419.28 868.51,419.22 868.59,419.18 868.66,419.16 868.74,419.15 868.82,419.16 868.89,419.18 868.97,419.22 869.04,419.27 869.12,419.34 869.19,419.42 869.27,419.51 869.35,419.61 869.42,419.73 869.50,419.85 869.57,419.98 869.65,420.12 869.72,420.26 869.80,420.40 869.88,420.54 869.95,420.68 870.03,420.82 870.10,420.95 870.18,421.08 870.25,421.20 870.33,421.31 870.41,421.42 870.48,421.51 870.56,421.58 870.63,421.65 870.71,421.70 870.78,421.73 870.86,421.75 870.94,421.75 871.01,421.74 871.09,421.71 871.16,421.67 871.24,421.61 871.31,421.54 871.39,421.45 871.46,421.36 871.54,421.25 871.62,421.13 871.69,421.01 871.77,420.87 871.84,420.74 871.92,420.60 871.99,420.45 872.07,420.31 872.15,420.17 872.22,420.03 872.30,419.90 872.37,419.77 872.45,419.65 872.52,419.55 872.60,419.45 872.68,419.36 872.75,419.29 872.83,419.23 872.90,419.19 872.98,419.16 873.05,419.15 873.13,419.15 873.21,419.17 873.28,419.20 873.36,419.25 873.43,419.31 873.51,419.39 873.58,419.48 873.66,419.58 873.74,419.69 873.81,419.81 873.89,419.94 873.96,420.08 874.04,420.22 874.11,420.36 874.19,420.50 874.27,420.65 874.34,420.79 874.42,420.92 874.49,421.06 874.57,421.18 874.64,421.29 874.72,421.40 874.79,421.49 874.87,421.57 874.95,421.64 875.02,421.69 875.10,421.73 875.17,421.75 875.25,421.76 875.32,421.75 875.40,421.72 875.48,421.68 875.55,421.63 875.63,421.56 875.70,421.48 875.78,421.38 875.85,421.27 875.93,421.16 876.01,421.03 876.08,420.90 876.16,420.76 876.23,420.62 876.31,420.48 876.38,420.33 876.46,420.19 876.54,420.05 876.61,419.91 876.69,419.79 876.76,419.67 876.84,419.55 876.91,419.45 876.99,419.37 877.07,419.29 877.14,419.23 877.22,419.18 877.29,419.15 877.37,419.14 877.44,419.14 877.52,419.16 877.60,419.19 877.67,419.24 877.75,419.30 877.82,419.38 877.90,419.47 877.97,419.57 878.05,419.68 878.12,419.80 878.20,419.93 878.28,420.07 878.35,420.21 878.43,420.35 878.50,420.50 878.58,420.64 878.65,420.78 878.73,420.92 878.81,421.05 878.88,421.18 878.96,421.29 879.03,421.40 879.11,421.49 879.18,421.58 879.26,421.64 879.34,421.70 879.41,421.74 879.49,421.76 879.56,421.77 879.64,421.76 879.71,421.73 879.79,421.69 879.87,421.63 879.94,421.56 880.02,421.48 880.09,421.38 880.17,421.28 880.24,421.16 880.32,421.03 880.40,420.90 880.47,420.76 880.55,420.61 880.62,420.47 880.70,420.32 880.77,420.18 880.85,420.04 880.93,419.90 881.00,419.77 881.08,419.65 881.15,419.54 881.23,419.44 881.30,419.35 881.38,419.28 881.46,419.22 881.53,419.18 881.61,419.15 881.68,419.13 881.76,419.13 881.83,419.15 881.91,419.19 881.98,419.24 882.06,419.30 882.14,419.38 882.21,419.47 882.29,419.58 882.36,419.69 882.44,419.81 882.51,419.95 882.59,420.08 882.67,420.23 882.74,420.37 882.82,420.52 882.89,420.66 882.97,420.81 883.04,420.94 883.12,421.08 883.20,421.20 883.27,421.32 883.35,421.42 883.42,421.52 883.50,421.60 883.57,421.66 883.65,421.71 883.73,421.75 883.80,421.77 883.88,421.77 883.95,421.76 884.03,421.73 884.10,421.69 884.18,421.63 884.26,421.55 884.33,421.47 884.41,421.37 884.48,421.25 884.56,421.13 884.63,421.00 884.71,420.87 884.79,420.73 884.86,420.58 884.94,420.43 885.01,420.29 885.09,420.14 885.16,420.00 885.24,419.87 885.31,419.74 885.39,419.62 885.47,419.51 885.54,419.41 885.62,419.33 885.69,419.26 885.77,419.20 885.84,419.16 885.92,419.13 886.00,419.12 886.07,419.13 886.15,419.15 886.22,419.19 886.30,419.25 886.37,419.32 886.45,419.40 886.53,419.50 886.60,419.61 886.68,419.73 886.75,419.85 886.83,419.99 886.90,420.13 886.98,420.27 887.06,420.42 887.13,420.57 887.21,420.71 887.28,420.86 887.36,421.00 887.43,421.13 887.51,421.25 887.59,421.36 887.66,421.46 887.74,421.55 887.81,421.63 887.89,421.69 887.96,421.73 888.04,421.76 888.12,421.78 888.19,421.78 888.27,421.76 888.34,421.72 888.42,421.67 888.49,421.60 888.57,421.52 888.65,421.43 888.72,421.32 888.80,421.21 888.87,421.08 888.95,420.95 889.02,420.81 889.10,420.66 889.17,420.52 889.25,420.37 889.33,420.22 889.40,420.08 889.48,419.94 889.55,419.80 889.63,419.68 889.70,419.56 889.78,419.46 889.86,419.36 889.93,419.29 890.01,419.22 890.08,419.17 890.16,419.14 890.23,419.12 890.31,419.12 890.39,419.13 890.46,419.17 890.54,419.21 890.61,419.28 890.69,419.35 890.76,419.45 890.84,419.55 890.92,419.66 890.99,419.79 891.07,419.92 891.14,420.06 891.22,420.21 891.29,420.35 891.37,420.50 891.45,420.65 891.52,420.80 891.60,420.94 891.67,421.07 891.75,421.20 891.82,421.32 891.90,421.43 891.98,421.52 892.05,421.60 892.13,421.67 892.20,421.72 892.28,421.76 892.35,421.78 892.43,421.79 892.50,421.77 892.58,421.74 892.66,421.70 892.73,421.64 892.81,421.56 892.88,421.47 892.96,421.37 893.03,421.26 893.11,421.13 893.19,421.00 893.26,420.86 893.34,420.72 893.41,420.57 893.49,420.42 893.56,420.27 893.64,420.13 893.72,419.98 893.79,419.85 893.87,419.72 893.94,419.60 894.02,419.49 894.09,419.39 894.17,419.30 894.25,419.23 894.32,419.18 894.40,419.14 894.47,419.12 894.55,419.11 894.62,419.12 894.70,419.15 894.78,419.19 894.85,419.25 894.93,419.32 895.00,419.41 895.08,419.51 895.15,419.63 895.23,419.75 895.31,419.88 895.38,420.02 895.46,420.17 895.53,420.31 895.61,420.46 895.68,420.61 895.76,420.76 895.83,420.90 895.91,421.04 895.99,421.17 896.06,421.30 896.14,421.41 896.21,421.51 896.29,421.59 896.36,421.66 896.44,421.72 896.52,421.76 896.59,421.79 896.67,421.79 896.74,421.78 896.82,421.76 896.89,421.72 896.97,421.66 897.05,421.58 897.12,421.50 897.20,421.40 897.27,421.28 897.35,421.16 897.42,421.03 897.50,420.89 897.58,420.74 897.65,420.59 897.73,420.44 897.80,420.29 897.88,420.15 897.95,420.00 898.03,419.86 898.11,419.73 898.18,419.61 898.26,419.49 898.33,419.39 898.41,419.31 898.48,419.24 898.56,419.18 898.64,419.14 898.71,419.11 898.79,419.10 898.86,419.11 898.94,419.14 899.01,419.18 899.09,419.24 899.17,419.31 899.24,419.40 899.32,419.50 899.39,419.61 899.47,419.74 899.54,419.87 899.62,420.01 899.69,420.15 899.77,420.30 899.85,420.45 899.92,420.61 900.00,420.76 900.07,420.90 900.15,421.04 900.22,421.17 900.30,421.30 900.38,421.41 900.45,421.51 900.53,421.60 900.60,421.67 900.68,421.73 900.75,421.77 900.83,421.79 900.91,421.80 900.98,421.79 901.06,421.77 901.13,421.72 901.21,421.66 901.28,421.59 901.36,421.50 901.44,421.40 901.51,421.29 901.59,421.16 901.66,421.03 901.74,420.89 901.81,420.74 901.89,420.59 901.97,420.44 902.04,420.29 902.12,420.14 902.19,419.99 902.27,419.85 902.34,419.72 902.42,419.59 902.50,419.48 902.57,419.38 902.65,419.29 902.72,419.22 902.80,419.17 902.87,419.13 902.95,419.10 903.02,419.09 903.10,419.11 903.18,419.13 903.25,419.18 903.33,419.24 903.40,419.31 903.48,419.40 903.55,419.51 903.63,419.62 903.71,419.75 903.78,419.88 903.86,420.03 903.93,420.17 904.01,420.32 904.08,420.48 904.16,420.63 904.24,420.78 904.31,420.93 904.39,421.07 904.46,421.20 904.54,421.32 904.61,421.43 904.69,421.53 904.77,421.62 904.84,421.69 904.92,421.74 904.99,421.78 905.07,421.80 905.14,421.81 905.22,421.80 905.30,421.77 905.37,421.72 905.45,421.66 905.52,421.58 905.60,421.49 905.67,421.38 905.75,421.26 905.83,421.14 905.90,421.00 905.98,420.86 906.05,420.71 906.13,420.55 906.20,420.40 906.28,420.25 906.35,420.10 906.43,419.95 906.51,419.81 906.58,419.68 906.66,419.56 906.73,419.45 906.81,419.35 906.88,419.27 906.96,419.20 907.04,419.14 907.11,419.11 907.19,419.09 907.26,419.09 907.34,419.10 907.41,419.14 907.49,419.19 907.57,419.25 907.64,419.33 907.72,419.43 907.79,419.54 907.87,419.66 907.94,419.79 908.02,419.93 908.10,420.07 908.17,420.22 908.25,420.38 908.32,420.53 908.40,420.68 908.47,420.83 908.55,420.98 908.63,421.12 908.70,421.25 908.78,421.37 908.85,421.48 908.93,421.57 909.00,421.66 909.08,421.72 909.16,421.77 909.23,421.80 909.31,421.82 909.38,421.82 909.46,421.80 909.53,421.76 909.61,421.71 909.69,421.64 909.76,421.55 909.84,421.45 909.91,421.34 909.99,421.22 910.06,421.08 910.14,420.94 910.21,420.79 910.29,420.64 910.37,420.49 910.44,420.33 910.52,420.18 910.59,420.03 910.67,419.88 910.74,419.74 910.82,419.62 910.90,419.50 910.97,419.39 911.05,419.30 911.12,419.22 911.20,419.16 911.27,419.11 911.35,419.09 911.43,419.08 911.50,419.08 911.58,419.11 911.65,419.15 911.73,419.21 911.80,419.28 911.88,419.37 911.96,419.48 912.03,419.59 912.11,419.72 912.18,419.86 912.26,420.00 912.33,420.15 912.41,420.30 912.49,420.46 912.56,420.62 912.64,420.77 912.71,420.92 912.79,421.06 912.86,421.20 912.94,421.33 913.02,421.44 913.09,421.54 913.17,421.63 913.24,421.70 913.32,421.76 913.39,421.80 913.47,421.82 913.54,421.83 913.62,421.82 913.70,421.79 913.77,421.74 913.85,421.67 913.92,421.59 914.00,421.50 914.07,421.39 914.15,421.27 914.23,421.14 914.30,421.00 914.38,420.85 914.45,420.70 914.53,420.54 914.60,420.38 914.68,420.23 914.76,420.08 914.83,419.93 914.91,419.78 914.98,419.65 915.06,419.53 915.13,419.42 915.21,419.32 915.29,419.24 915.36,419.17 915.44,419.12 915.51,419.08 915.59,419.07 915.66,419.07 915.74,419.09 915.82,419.13 915.89,419.18 915.97,419.25 916.04,419.34 916.12,419.44 916.19,419.55 916.27,419.68 916.35,419.81 916.42,419.96 916.50,420.11 916.57,420.26 916.65,420.42 916.72,420.58 916.80,420.73 916.88,420.89 916.95,421.03 917.03,421.17 917.10,421.30 917.18,421.42 917.25,421.53 917.33,421.62 917.40,421.70 917.48,421.76 917.56,421.80 917.63,421.83 917.71,421.84 917.78,421.83 917.86,421.80 917.93,421.76 918.01,421.70 918.09,421.62 918.16,421.52 918.24,421.42 918.31,421.30 918.39,421.17 918.46,421.03 918.54,420.88 918.62,420.72 918.69,420.57 918.77,420.41 918.84,420.25 918.92,420.09 918.99,419.94 919.07,419.80 919.15,419.66 919.22,419.54 919.30,419.42 919.37,419.32 919.45,419.24 919.52,419.17 919.60,419.11 919.68,419.08 919.75,419.06 919.83,419.06 919.90,419.08 919.98,419.11 920.05,419.17 920.13,419.24 920.21,419.32 920.28,419.42 920.36,419.54 920.43,419.66 920.51,419.80 920.58,419.95 920.66,420.10 920.73,420.25 920.81,420.41 920.89,420.57 920.96,420.73 921.04,420.88 921.11,421.03 921.19,421.17 921.26,421.31 921.34,421.43 921.42,421.53 921.49,421.63 921.57,421.71 921.64,421.77 921.72,421.81 921.79,421.84 921.87,421.85 921.95,421.84 922.02,421.81 922.10,421.77 922.17,421.70 922.25,421.62 922.32,421.53 922.40,421.42 922.48,421.30 922.55,421.17 922.63,421.02 922.70,420.87 922.78,420.72 922.85,420.56 922.93,420.40 923.01,420.24 923.08,420.08 923.16,419.93 923.23,419.78 923.31,419.65 923.38,419.52 923.46,419.41 923.54,419.31 923.61,419.22 923.69,419.15 923.76,419.10 923.84,419.06 923.91,419.05 923.99,419.05 924.06,419.07 924.14,419.11 924.22,419.16 924.29,419.24 924.37,419.33 924.44,419.43 924.52,419.55 924.59,419.68 924.67,419.82 924.75,419.96 924.82,420.12 924.90,420.28 924.97,420.44 925.05,420.60 925.12,420.76 925.20,420.91 925.28,421.06 925.35,421.20 925.43,421.33 925.50,421.45 925.58,421.56 925.65,421.65 925.73,421.73 925.81,421.79 925.88,421.83 925.96,421.85 926.03,421.86 926.11,421.84 926.18,421.81 926.26,421.76 926.34,421.70 926.41,421.61 926.49,421.51 926.56,421.40 926.64,421.27 926.71,421.14 926.79,420.99 926.87,420.84 926.94,420.68 927.02,420.52 927.09,420.36 927.17,420.20 927.24,420.04 927.32,419.89 927.40,419.74 927.47,419.61 927.55,419.48 927.62,419.37 927.70,419.27 927.77,419.19 927.85,419.12 927.92,419.08 928.00,419.05 928.08,419.04 928.15,419.04 928.23,419.07 928.30,419.11 928.38,419.18 928.45,419.26 928.53,419.35 928.61,419.46 928.68,419.58 928.76,419.72 928.83,419.86 928.91,420.01 928.98,420.17 929.06,420.33 929.14,420.50 929.21,420.66 929.29,420.82 929.36,420.97 929.44,421.12 929.51,421.26 929.59,421.39 929.67,421.50 929.74,421.61 929.82,421.69 929.89,421.76 929.97,421.82 930.04,421.85 930.12,421.87 930.20,421.87 930.27,421.84 930.35,421.80 930.42,421.75 930.50,421.67 930.57,421.58 930.65,421.47 930.73,421.35 930.80,421.22 930.88,421.08 930.95,420.93 931.03,420.77 931.10,420.61 931.18,420.44 931.25,420.28 931.33,420.12 931.41,419.96 931.48,419.81 931.56,419.67 931.63,419.54 931.71,419.42 931.78,419.31 931.86,419.22 931.94,419.15 932.01,419.09 932.09,419.05 932.16,419.03 932.24,419.03 932.31,419.04 932.39,419.08 932.47,419.14 932.54,419.21 932.62,419.30 932.69,419.40 932.77,419.52 932.84,419.65 932.92,419.79 933.00,419.94 933.07,420.10 933.15,420.26 933.22,420.42 933.30,420.59 933.37,420.75 933.45,420.91 933.53,421.06 933.60,421.21 933.68,421.34 933.75,421.47 933.83,421.57 933.90,421.67 933.98,421.75 934.06,421.81 934.13,421.85 934.21,421.87 934.28,421.88 934.36,421.86 934.43,421.83 934.51,421.78 934.58,421.71 934.66,421.62 934.74,421.52 934.81,421.40 934.89,421.27 934.96,421.13 935.04,420.98 935.11,420.83 935.19,420.67 935.27,420.50 935.34,420.33 935.42,420.17 935.49,420.01 935.57,419.85 935.64,419.71 935.72,419.57 935.80,419.45 935.87,419.33 935.95,419.24 936.02,419.16 936.10,419.09 936.17,419.05 936.25,419.02 936.33,419.02 936.40,419.03 936.48,419.06 936.55,419.11 936.63,419.18 936.70,419.26 936.78,419.36 936.86,419.48 936.93,419.61 937.01,419.75 937.08,419.90 937.16,420.06 937.23,420.22 937.31,420.38 937.39,420.55 937.46,420.72 937.54,420.88 937.61,421.03 937.69,421.18 937.76,421.32 937.84,421.45 937.92,421.56 937.99,421.66 938.07,421.74 938.14,421.81 938.22,421.85 938.29,421.88 938.37,421.89 938.44,421.88 938.52,421.85 938.60,421.80 938.67,421.73 938.75,421.65 938.82,421.55 938.90,421.43 938.97,421.30 939.05,421.16 939.13,421.01 939.20,420.85 939.28,420.69 939.35,420.52 939.43,420.35 939.50,420.19 939.58,420.03 939.66,419.87 939.73,419.72 939.81,419.58 939.88,419.45 939.96,419.34 940.03,419.24 940.11,419.15 940.19,419.09 940.26,419.04 940.34,419.01 940.41,419.00 940.49,419.02 940.56,419.05 940.64,419.10 940.72,419.16 940.79,419.25 940.87,419.35 940.94,419.47 941.02,419.60 941.09,419.74 941.17,419.89 941.25,420.05 941.32,420.21 941.40,420.38 941.47,420.55 941.55,420.71 941.62,420.88 941.70,421.04 941.77,421.19 941.85,421.33 941.93,421.46 942.00,421.57 942.08,421.67 942.15,421.75 942.23,421.82 942.30,421.86 942.38,421.89 942.46,421.90 942.53,421.89 942.61,421.86 942.68,421.81 942.76,421.74 942.83,421.65 942.91,421.55 942.99,421.43 943.06,421.30 943.14,421.16 943.21,421.00 943.29,420.84 943.36,420.68 943.44,420.51 943.52,420.34 943.59,420.17 943.67,420.01 943.74,419.85 943.82,419.70 943.89,419.56 943.97,419.43 944.05,419.32 944.12,419.22 944.20,419.14 944.27,419.07 944.35,419.03 944.42,419.00 944.50,418.99 944.58,419.01 944.65,419.04 944.73,419.09 944.80,419.16 944.88,419.25 944.95,419.36 945.03,419.48 945.10,419.61 945.18,419.76 945.26,419.91 945.33,420.07 945.41,420.24 945.48,420.41 945.56,420.58 945.63,420.75 945.71,420.91 945.79,421.07 945.86,421.22 945.94,421.36 946.01,421.49 946.09,421.60 946.16,421.70 946.24,421.78 946.32,421.84 946.39,421.88 946.47,421.91 946.54,421.91 946.62,421.89 946.69,421.86 946.77,421.80 946.85,421.73 946.92,421.64 947.00,421.53 947.07,421.41 947.15,421.27 947.22,421.12 947.30,420.97 947.38,420.80 947.45,420.63 947.53,420.46 947.60,420.29 947.68,420.12 947.75,419.96 947.83,419.80 947.91,419.65 947.98,419.51 948.06,419.39 948.13,419.28 948.21,419.18 948.28,419.10 948.36,419.05 948.44,419.01 948.51,418.99 948.59,418.99 948.66,419.01 948.74,419.05 948.81,419.11 948.89,419.18 948.96,419.28 949.04,419.39 949.12,419.52 949.19,419.66 949.27,419.81 949.34,419.97 949.42,420.13 949.49,420.30 949.57,420.47 949.65,420.65 949.72,420.82 949.80,420.98 949.87,421.14 949.95,421.28 950.02,421.42 950.10,421.54 950.18,421.65 950.25,421.74 950.33,421.82 950.40,421.87 950.48,421.91 950.55,421.92 950.63,421.92 950.71,421.89 950.78,421.85 950.86,421.78 950.93,421.70 951.01,421.60 951.08,421.48 951.16,421.35 951.24,421.21 951.31,421.05 951.39,420.89 951.46,420.72 951.54,420.55 951.61,420.38 951.69,420.21 951.77,420.04 951.84,419.87 951.92,419.72 951.99,419.57 952.07,419.44 952.14,419.32 952.22,419.22 952.29,419.13 952.37,419.06 952.45,419.01 952.52,418.98 952.60,418.97 952.67,418.98 952.75,419.02 952.82,419.07 952.90,419.14 952.98,419.23 953.05,419.33 953.13,419.45 953.20,419.59 953.28,419.74 953.35,419.89 953.43,420.06 953.51,420.23 953.58,420.40 953.66,420.58 953.73,420.75 953.81,420.92 953.88,421.08 953.96,421.23 954.04,421.38 954.11,421.51 954.19,421.62 954.26,421.72 954.34,421.80 954.41,421.86 954.49,421.91 954.57,421.93 954.64,421.93 954.72,421.91 954.79,421.87 954.87,421.82 954.94,421.74 955.02,421.64 955.10,421.53 955.17,421.40 955.25,421.26 955.32,421.11 955.40,420.95 955.47,420.78 955.55,420.61 955.62,420.43 955.70,420.26 955.78,420.08 955.85,419.92 955.93,419.76 956.00,419.61 956.08,419.47 956.15,419.34 956.23,419.23 956.31,419.14 956.38,419.07 956.46,419.01 956.53,418.98 956.61,418.96 956.68,418.97 956.76,418.99 956.84,419.04 956.91,419.11 956.99,419.19 957.06,419.30 957.14,419.42 957.21,419.55 957.29,419.70 957.37,419.86 957.44,420.02 957.52,420.19 957.59,420.37 957.67,420.54 957.74,420.72 957.82,420.89 957.90,421.06 957.97,421.21 958.05,421.36 958.12,421.49 958.20,421.61 958.27,421.71 958.35,421.80 958.43,421.87 958.50,421.91 958.58,421.94 958.65,421.94 958.73,421.93 958.80,421.89 958.88,421.83 958.96,421.76 959.03,421.66 959.11,421.55 959.18,421.43 959.26,421.28 959.33,421.13 959.41,420.97 959.48,420.80 959.56,420.63 959.64,420.45 959.71,420.27 959.79,420.10 959.86,419.93 959.94,419.76 960.01,419.61 960.09,419.47 960.17,419.34 960.24,419.23 960.32,419.14 960.39,419.06 960.47,419.00 960.54,418.97 960.62,418.95 960.70,418.96 960.77,418.98 960.85,419.03 960.92,419.10 961.00,419.18 961.07,419.29 961.15,419.41 961.23,419.54 961.30,419.69 961.38,419.85 961.45,420.02 961.53,420.19 961.60,420.37 961.68,420.55 961.76,420.72 961.83,420.90 961.91,421.06 961.98,421.22 962.06,421.37 962.13,421.50 962.21,421.62 962.29,421.73 962.36,421.81 962.44,421.88 962.51,421.93 962.59,421.95 962.66,421.95 962.74,421.94 962.81,421.90 962.89,421.84 962.97,421.76 963.04,421.66 963.12,421.55 963.19,421.42 963.27,421.28 963.34,421.12 963.42,420.96 963.50,420.78 963.57,420.61 963.65,420.43 963.72,420.25 963.80,420.07 963.87,419.90 963.95,419.74 964.03,419.59 964.10,419.44 964.18,419.32 964.25,419.21 964.33,419.11 964.40,419.04 964.48,418.98 964.56,418.95 964.63,418.94 964.71,418.95 964.78,418.98 964.86,419.03 964.93,419.10 965.01,419.19 965.09,419.30 965.16,419.42 965.24,419.56 965.31,419.72 965.39,419.88 965.46,420.05 965.54,420.23 965.62,420.41 965.69,420.59 965.77,420.76 965.84,420.94 965.92,421.11 965.99,421.26 966.07,421.41 966.15,421.54 966.22,421.66 966.30,421.76 966.37,421.84 966.45,421.90 966.52,421.95 966.60,421.97 966.67,421.96 966.75,421.94 966.83,421.90 966.90,421.83 966.98,421.75 967.05,421.64 967.13,421.52 967.20,421.39 967.28,421.24 967.36,421.08 967.43,420.91 967.51,420.73 967.58,420.55 967.66,420.37 967.73,420.19 967.81,420.01 967.89,419.84 967.96,419.68 968.04,419.53 968.11,419.39 968.19,419.27 968.26,419.16 968.34,419.07 968.42,419.01 968.49,418.96 968.57,418.93 968.64,418.93 968.72,418.94 968.79,418.98 968.87,419.04 968.95,419.12 969.02,419.22 969.10,419.34 969.17,419.47 969.25,419.62 969.32,419.78 969.40,419.94 969.48,420.12 969.55,420.30 969.63,420.48 969.70,420.66 969.78,420.84 969.85,421.02 969.93,421.18 970.00,421.34 970.08,421.48 970.16,421.61 970.23,421.72 970.31,421.81 970.38,421.89 970.46,421.94 970.53,421.97 970.61,421.98 970.69,421.97 970.76,421.93 970.84,421.88 970.91,421.80 970.99,421.71 971.06,421.59 971.14,421.46 971.22,421.32 971.29,421.16 971.37,420.99 971.44,420.82 971.52,420.64 971.59,420.46 971.67,420.27 971.75,420.09 971.82,419.92 971.90,419.75 971.97,419.59 972.05,419.44 972.12,419.31 972.20,419.20 972.28,419.10 972.35,419.02 972.43,418.96 972.50,418.93 972.58,418.92 972.65,418.92 972.73,418.95 972.81,419.01 972.88,419.08 972.96,419.17 973.03,419.28 973.11,419.41 973.18,419.55 973.26,419.71 973.33,419.88 973.41,420.05 973.49,420.23 973.56,420.42 973.64,420.60 973.71,420.78 973.79,420.96 973.86,421.13 973.94,421.29 974.02,421.44 974.09,421.57 974.17,421.69 974.24,421.79 974.32,421.87 974.39,421.93 974.47,421.97 974.55,421.99 974.62,421.98 974.70,421.96 974.77,421.91 974.85,421.84 974.92,421.75 975.00,421.64 975.08,421.51 975.15,421.37 975.23,421.21 975.30,421.05 975.38,420.87 975.45,420.69 975.53,420.50 975.61,420.32 975.68,420.13 975.76,419.95 975.83,419.78 975.91,419.62 975.98,419.47 976.06,419.33 976.14,419.21 976.21,419.11 976.29,419.03 976.36,418.96 976.44,418.92 976.51,418.90 976.59,418.91 976.67,418.93 976.74,418.98 976.82,419.05 976.89,419.14 976.97,419.25 977.04,419.38 977.12,419.52 977.19,419.67 977.27,419.84 977.35,420.02 977.42,420.20 977.50,420.39 977.57,420.57 977.65,420.76 977.72,420.94 977.80,421.11 977.88,421.28 977.95,421.43 978.03,421.57 978.10,421.69 978.18,421.79 978.25,421.88 978.33,421.94 978.41,421.98 978.48,422.00 978.56,422.00 978.63,421.97 978.71,421.92 978.78,421.86 978.86,421.76 978.94,421.66 979.01,421.53 979.09,421.39 979.16,421.23 979.24,421.06 979.31,420.88 979.39,420.70 979.47,420.51 979.54,420.33 979.62,420.14 979.69,419.96 979.77,419.78 979.84,419.62 979.92,419.47 980.00,419.33 980.07,419.20 980.15,419.10 980.22,419.02 980.30,418.95 980.37,418.91 980.45,418.89 980.52,418.90 980.60,418.92 980.68,418.97 980.75,419.04 980.83,419.13 980.90,419.24 980.98,419.37 981.05,419.52 981.13,419.67 981.21,419.84 981.28,420.02 981.36,420.21 981.43,420.40 981.51,420.58 981.58,420.77 981.66,420.95 981.74,421.13 981.81,421.30 981.89,421.45 981.96,421.59 982.04,421.71 982.11,421.81 982.19,421.90 982.27,421.96 982.34,422.00 982.42,422.01 982.49,422.01 982.57,421.98 982.64,421.93 982.72,421.86 982.80,421.76 982.87,421.65 982.95,421.52 983.02,421.37 983.10,421.21 983.17,421.04 983.25,420.86 983.33,420.67 983.40,420.48 983.48,420.29 983.55,420.11 983.63,419.92 983.70,419.75 983.78,419.58 983.85,419.43 983.93,419.29 984.01,419.17 984.08,419.07 984.16,418.99 984.23,418.93 984.31,418.89 984.38,418.88 984.46,418.89 984.54,418.92 984.61,418.97 984.69,419.05 984.76,419.15 984.84,419.26 984.91,419.40 984.99,419.55 985.07,419.71 985.14,419.88 985.22,420.07 985.29,420.25 985.37,420.45 985.44,420.64 985.52,420.83 985.60,421.01 985.67,421.18 985.75,421.35 985.82,421.50 985.90,421.63 985.97,421.75 986.05,421.85 986.13,421.93 986.20,421.98 986.28,422.02 986.35,422.03 986.43,422.01 986.50,421.98 986.58,421.92 986.66,421.84 986.73,421.74 986.81,421.62 986.88,421.48 986.96,421.32 987.03,421.16 987.11,420.98 987.19,420.80 987.26,420.61 987.34,420.41 987.41,420.22 987.49,420.03 987.56,419.85 987.64,419.68 987.71,419.51 987.79,419.37 987.87,419.23 987.94,419.12 988.02,419.02 988.09,418.95 988.17,418.90 988.24,418.87 988.32,418.87 988.40,418.89 988.47,418.93 988.55,418.99 988.62,419.08 988.70,419.19 988.77,419.31 988.85,419.46 988.93,419.61 989.00,419.78 989.08,419.96 989.15,420.15 989.23,420.34 989.30,420.54 989.38,420.73 989.46,420.92 989.53,421.10 989.61,421.27 989.68,421.43 989.76,421.58 989.83,421.71 989.91,421.82 989.99,421.90 990.06,421.97 990.14,422.02 990.21,422.04 990.29,422.04 990.36,422.01 990.44,421.96 990.52,421.89 990.59,421.79 990.67,421.68 990.74,421.55 990.82,421.40 990.89,421.24 990.97,421.06 991.04,420.88 991.12,420.69 991.20,420.49 991.27,420.30 991.35,420.11 991.42,419.92 991.50,419.74 991.57,419.57 991.65,419.41 991.73,419.27 991.80,419.15 991.88,419.05 991.95,418.96 992.03,418.90 992.10,418.87 992.18,418.85 992.26,418.86 992.33,418.90 992.41,418.96 992.48,419.04 992.56,419.14 992.63,419.26 992.71,419.40 992.79,419.55 992.86,419.72 992.94,419.90 993.01,420.09 993.09,420.28 993.16,420.48 993.24,420.67 993.32,420.87 993.39,421.05 993.47,421.23 993.54,421.40 993.62,421.55 993.69,421.68 993.77,421.80 993.85,421.89 993.92,421.97 994.00,422.02 994.07,422.05 994.15,422.05 994.22,422.03 994.30,421.99 994.38,421.92 994.45,421.83 994.53,421.72 994.60,421.59 994.68,421.44 994.75,421.28 994.83,421.11 994.90,420.92 994.98,420.73 995.06,420.53 995.13,420.34 995.21,420.14 995.28,419.95 995.36,419.77 995.43,419.59 995.51,419.43 995.59,419.29 995.66,419.16 995.74,419.05 995.81,418.96 995.89,418.90 995.96,418.86 996.04,418.84 996.12,418.85 996.19,418.88 996.27,418.93 996.34,419.01 996.42,419.11 996.49,419.23 996.57,419.37 996.65,419.53 996.72,419.70 996.80,419.88 996.87,420.07 996.95,420.26 997.02,420.46 997.10,420.66 997.18,420.85 997.25,421.04 997.33,421.22 997.40,421.39 997.48,421.55 997.55,421.68 997.63,421.80 997.71,421.90 997.78,421.98 997.86,422.03 997.93,422.06 998.01,422.06 998.08,422.05 998.16,422.00 998.23,421.93 998.31,421.84 998.39,421.73 998.46,421.60 998.54,421.45 998.61,421.29 998.69,421.11 998.76,420.93 998.84,420.73 998.92,420.53 998.99,420.33 999.07,420.14 999.14,419.94 999.22,419.76 999.29,419.58 999.37,419.42 999.45,419.27 999.52,419.14 999.60,419.04 999.67,418.95 999.75,418.88 999.82,418.84 999.90,418.83 999.98,418.84 1000.05,418.87 1000.13,418.93 1000.20,419.01 1000.28,419.11 1000.35,419.24 1000.43,419.38 1000.51,419.54 1000.58,419.71 1000.66,419.89 1000.73,420.09 1000.81,420.28 1000.88,420.48 1000.96,420.68 1001.04,420.88 1001.11,421.07 1001.19,421.25 1001.26,421.42 1001.34,421.58 1001.41,421.71 1001.49,421.83 1001.56,421.93 1001.64,422.00 1001.72,422.05 1001.79,422.08 1001.87,422.08 1001.94,422.05 1002.02,422.00 1002.09,421.93 1002.17,421.84 1002.25,421.72 1002.32,421.58 1002.40,421.43 1002.47,421.26 1002.55,421.08 1002.62,420.89 1002.70,420.69 1002.78,420.49 1002.85,420.29 1002.93,420.09 1003.00,419.89 1003.08,419.71 1003.15,419.53 1003.23,419.37 1003.31,419.23 1003.38,419.10 1003.46,419.00 1003.53,418.92 1003.61,418.86 1003.68,418.82 1003.76,418.81 1003.84,418.83 1003.91,418.87 1003.99,418.94 1004.06,419.03 1004.14,419.14 1004.21,419.27 1004.29,419.42 1004.37,419.58 1004.44,419.76 1004.52,419.95 1004.59,420.15 1004.67,420.35 1004.74,420.55 1004.82,420.75 1004.90,420.95 1004.97,421.14 1005.05,421.32 1005.12,421.49 1005.20,421.64 1005.27,421.77 1005.35,421.88 1005.42,421.97 1005.50,422.03 1005.58,422.08 1005.65,422.09 1005.73,422.08 1005.80,422.05 1005.88,421.99 1005.95,421.91 1006.03,421.80 1006.11,421.67 1006.18,421.53 1006.26,421.37 1006.33,421.19 1006.41,421.00 1006.48,420.81 1006.56,420.60 1006.64,420.40 1006.71,420.20 1006.79,419.99 1006.86,419.80 1006.94,419.62 1007.01,419.45 1007.09,419.29 1007.17,419.16 1007.24,419.04 1007.32,418.94 1007.39,418.87 1007.47,418.82 1007.54,418.80 1007.62,418.81 1007.70,418.83 1007.77,418.89 1007.85,418.97 1007.92,419.07 1008.00,419.19 1008.07,419.33 1008.15,419.49 1008.23,419.67 1008.30,419.86 1008.38,420.05 1008.45,420.25 1008.53,420.46 1008.60,420.67 1008.68,420.87 1008.75,421.06 1008.83,421.25 1008.91,421.42 1008.98,421.58 1009.06,421.73 1009.13,421.85 1009.21,421.95 1009.28,422.02 1009.36,422.08 1009.44,422.10 1009.51,422.10 1009.59,422.08 1009.66,422.03 1009.74,421.95 1009.81,421.86 1009.89,421.74 1009.97,421.60 1010.04,421.44 1010.12,421.26 1010.19,421.08 1010.27,420.88 1010.34,420.68 1010.42,420.47 1010.50,420.26 1010.57,420.06 1010.65,419.86 1010.72,419.67 1010.80,419.49 1010.87,419.33 1010.95,419.19 1011.03,419.06 1011.10,418.96 1011.18,418.88 1011.25,418.82 1011.33,418.79 1011.40,418.79 1011.48,418.81 1011.56,418.86 1011.63,418.93 1011.71,419.03 1011.78,419.15 1011.86,419.28 1011.93,419.44 1012.01,419.62 1012.08,419.80 1012.16,420.00 1012.24,420.20 1012.31,420.41 1012.39,420.62 1012.46,420.83 1012.54,421.03 1012.61,421.22 1012.69,421.40 1012.77,421.56 1012.84,421.71 1012.92,421.84 1012.99,421.94 1013.07,422.02 1013.14,422.08 1013.22,422.11 1013.30,422.12 1013.37,422.10 1013.45,422.05 1013.52,421.98 1013.60,421.89 1013.67,421.77 1013.75,421.63 1013.83,421.47 1013.90,421.30 1013.98,421.11 1014.05,420.91 1014.13,420.71 1014.20,420.50 1014.28,420.29 1014.36,420.08 1014.43,419.88 1014.51,419.69 1014.58,419.50 1014.66,419.34 1014.73,419.19 1014.81,419.06 1014.89,418.95 1014.96,418.87 1015.04,418.81 1015.11,418.78 1015.19,418.77 1015.26,418.79 1015.34,418.84 1015.42,418.91 1015.49,419.01 1015.57,419.13 1015.64,419.27 1015.72,419.43 1015.79,419.60 1015.87,419.79 1015.94,419.99 1016.02,420.19 1016.10,420.41 1016.17,420.62 1016.25,420.83 1016.32,421.03 1016.40,421.22 1016.47,421.40 1016.55,421.57 1016.63,421.72 1016.70,421.85 1016.78,421.95 1016.85,422.04 1016.93,422.10 1017.00,422.13 1017.08,422.13 1017.16,422.11 1017.23,422.06 1017.31,421.99 1017.38,421.89 1017.46,421.77 1017.53,421.63 1017.61,421.47 1017.69,421.29 1017.76,421.10 1017.84,420.90 1017.91,420.69 1017.99,420.48 1018.06,420.27 1018.14,420.06 1018.22,419.85 1018.29,419.66 1018.37,419.48 1018.44,419.31 1018.52,419.16 1018.59,419.04 1018.67,418.93 1018.75,418.85 1018.82,418.79 1018.90,418.76 1018.97,418.76 1019.05,418.79 1019.12,418.84 1019.20,418.91 1019.27,419.01 1019.35,419.14 1019.43,419.28 1019.50,419.45 1019.58,419.63 1019.65,419.82 1019.73,420.02 1019.80,420.23 1019.88,420.45 1019.96,420.66 1020.03,420.87 1020.11,421.07 1020.18,421.27 1020.26,421.45 1020.33,421.61 1020.41,421.76 1020.49,421.89 1020.56,421.99 1020.64,422.07 1020.71,422.12 1020.79,422.15 1020.86,422.14 1020.94,422.12 1021.02,422.06 1021.09,421.98 1021.17,421.87 1021.24,421.74 1021.32,421.60 1021.39,421.43 1021.47,421.24 1021.55,421.05 1021.62,420.84 1021.70,420.63 1021.77,420.41 1021.85,420.20 1021.92,419.99 1022.00,419.79 1022.08,419.59 1022.15,419.41 1022.23,419.25 1022.30,419.11 1022.38,418.98 1022.45,418.89 1022.53,418.81 1022.60,418.77 1022.68,418.75 1022.76,418.75 1022.83,418.79 1022.91,418.85 1022.98,418.94 1023.06,419.05 1023.13,419.18 1023.21,419.34 1023.29,419.51 1023.36,419.70 1023.44,419.90 1023.51,420.10 1023.59,420.32 1023.66,420.54 1023.74,420.75 1023.82,420.96 1023.89,421.16 1023.97,421.36 1024.04,421.53 1024.12,421.69 1024.19,421.83 1024.27,421.95 1024.35,422.04 1024.42,422.11 1024.50,422.15 1024.57,422.16 1024.65,422.15 1024.72,422.11 1024.80,422.04 1024.88,421.94 1024.95,421.82 1025.03,421.68 1025.10,421.52 1025.18,421.35 1025.25,421.15 1025.33,420.95 1025.41,420.74 1025.48,420.52 1025.56,420.30 1025.63,420.08 1025.71,419.87 1025.78,419.67 1025.86,419.49 1025.94,419.31 1026.01,419.16 1026.09,419.02 1026.16,418.91 1026.24,418.83 1026.31,418.77 1026.39,418.74 1026.46,418.73 1026.54,418.75 1026.62,418.81 1026.69,418.88 1026.77,418.99 1026.84,419.11 1026.92,419.26 1026.99,419.43 1027.07,419.61 1027.15,419.81 1027.22,420.02 1027.30,420.24 1027.37,420.46 1027.45,420.68 1027.52,420.89 1027.60,421.10 1027.68,421.30 1027.75,421.48 1027.83,421.65 1027.90,421.80 1027.98,421.92 1028.05,422.03 1028.13,422.10 1028.21,422.15 1028.28,422.18 1028.36,422.17 1028.43,422.14 1028.51,422.08 1028.58,421.99 1028.66,421.87 1028.74,421.74 1028.81,421.58 1028.89,421.40 1028.96,421.21 1029.04,421.01 1029.11,420.80 1029.19,420.58 1029.27,420.36 1029.34,420.14 1029.42,419.92 1029.49,419.72 1029.57,419.52 1029.64,419.34 1029.72,419.18 1029.79,419.04 1029.87,418.92 1029.95,418.83 1030.02,418.76 1030.10,418.73 1030.17,418.72 1030.25,418.73 1030.32,418.78 1030.40,418.85 1030.48,418.95 1030.55,419.08 1030.63,419.22 1030.70,419.39 1030.78,419.57 1030.85,419.77 1030.93,419.98 1031.01,420.20 1031.08,420.42 1031.16,420.64 1031.23,420.86 1031.31,421.08 1031.38,421.28 1031.46,421.47 1031.54,421.64 1031.61,421.79 1031.69,421.92 1031.76,422.03 1031.84,422.11 1031.91,422.16 1031.99,422.19 1032.07,422.19 1032.14,422.16 1032.22,422.10 1032.29,422.01 1032.37,421.90 1032.44,421.76 1032.52,421.60 1032.60,421.42 1032.67,421.23 1032.75,421.03 1032.82,420.81 1032.90,420.59 1032.97,420.36 1033.05,420.14 1033.12,419.92 1033.20,419.71 1033.28,419.52 1033.35,419.34 1033.43,419.17 1033.50,419.03 1033.58,418.91 1033.65,418.82 1033.73,418.75 1033.81,418.71 1033.88,418.70 1033.96,418.72 1034.03,418.77 1034.11,418.84 1034.18,418.94 1034.26,419.07 1034.34,419.22 1034.41,419.39 1034.49,419.58 1034.56,419.78 1034.64,419.99 1034.71,420.21 1034.79,420.44 1034.87,420.66 1034.94,420.88 1035.02,421.10 1035.09,421.30 1035.17,421.49 1035.24,421.67 1035.32,421.82 1035.40,421.95 1035.47,422.05 1035.55,422.13 1035.62,422.18 1035.70,422.21 1035.77,422.20 1035.85,422.16 1035.93,422.10 1036.00,422.01 1036.08,421.89 1036.15,421.75 1036.23,421.59 1036.30,421.40 1036.38,421.21 1036.46,420.99 1036.53,420.77 1036.61,420.55 1036.68,420.32 1036.76,420.10 1036.83,419.88 1036.91,419.67 1036.98,419.47 1037.06,419.29 1037.14,419.13 1037.21,418.99 1037.29,418.87 1037.36,418.79 1037.44,418.72 1037.51,418.69 1037.59,418.69 1037.67,418.71 1037.74,418.77 1037.82,418.85 1037.89,418.96 1037.97,419.09 1038.04,419.25 1038.12,419.43 1038.20,419.62 1038.27,419.83 1038.35,420.05 1038.42,420.27 1038.50,420.50 1038.57,420.73 1038.65,420.95 1038.73,421.17 1038.80,421.37 1038.88,421.56 1038.95,421.73 1039.03,421.88 1039.10,422.00 1039.18,422.10 1039.26,422.17 1039.33,422.21 1039.41,422.22 1039.48,422.21 1039.56,422.16 1039.63,422.08 1039.71,421.98 1039.79,421.85 1039.86,421.70 1039.94,421.53 1040.01,421.34 1040.09,421.13 1040.16,420.91 1040.24,420.69 1040.31,420.46 1040.39,420.23 1040.47,420.00 1040.54,419.78 1040.62,419.58 1040.69,419.38 1040.77,419.21 1040.84,419.05 1040.92,418.92 1041.00,418.82 1041.07,418.74 1041.15,418.69 1041.22,418.67 1041.30,418.68 1041.37,418.72 1041.45,418.79 1041.53,418.89 1041.60,419.01 1041.68,419.16 1041.75,419.33 1041.83,419.51 1041.90,419.72 1041.98,419.93 1042.06,420.16 1042.13,420.39 1042.21,420.62 1042.28,420.85 1042.36,421.07 1042.43,421.28 1042.51,421.48 1042.59,421.66 1042.66,421.82 1042.74,421.96 1042.81,422.07 1042.89,422.16 1042.96,422.21 1043.04,422.24 1043.12,422.23 1043.19,422.20 1043.27,422.13 1043.34,422.04 1043.42,421.92 1043.49,421.78 1043.57,421.61 1043.65,421.42 1043.72,421.22 1043.80,421.01 1043.87,420.78 1043.95,420.55 1044.02,420.32 1044.10,420.08 1044.17,419.86 1044.25,419.64 1044.33,419.44 1044.40,419.26 1044.48,419.09 1044.55,418.95 1044.63,418.84 1044.70,418.75 1044.78,418.69 1044.86,418.66 1044.93,418.66 1045.01,418.69 1045.08,418.75 1045.16,418.84 1045.23,418.95 1045.31,419.10 1045.39,419.26 1045.46,419.45 1045.54,419.65 1045.61,419.87 1045.69,420.09 1045.76,420.33 1045.84,420.56 1045.92,420.79 1045.99,421.02 1046.07,421.24 1046.14,421.44 1046.22,421.63 1046.29,421.80 1046.37,421.94 1046.45,422.06 1046.52,422.15 1046.60,422.22 1046.67,422.25 1046.75,422.25 1046.82,422.22 1046.90,422.16 1046.98,422.08 1047.05,421.96 1047.13,421.82 1047.20,421.65 1047.28,421.47 1047.35,421.27 1047.43,421.05 1047.50,420.82 1047.58,420.59 1047.66,420.35 1047.73,420.12 1047.81,419.89 1047.88,419.67 1047.96,419.46 1048.03,419.27 1048.11,419.10 1048.19,418.96 1048.26,418.83 1048.34,418.74 1048.41,418.68 1048.49,418.64 1048.56,418.64 1048.64,418.67 1048.72,418.73 1048.79,418.81 1048.87,418.93 1048.94,419.07 1049.02,419.24 1049.09,419.43 1049.17,419.63 1049.25,419.85 1049.32,420.08 1049.40,420.31 1049.47,420.55 1049.55,420.79 1049.62,421.02 1049.70,421.24 1049.78,421.45 1049.85,421.64 1049.93,421.81 1050.00,421.95 1050.08,422.08 1050.15,422.17 1050.23,422.23 1050.31,422.27 1050.38,422.27 1050.46,422.24 1050.53,422.18 1050.61,422.09 1050.68,421.97 1050.76,421.83 1050.83,421.66 1050.91,421.47 1050.99,421.26 1051.06,421.04 1051.14,420.81 1051.21,420.57 1051.29,420.33 1051.36,420.10 1051.44,419.86 1051.52,419.64 1051.59,419.44 1051.67,419.24 1051.74,419.08 1051.82,418.93 1051.89,418.81 1051.97,418.72 1052.05,418.66 1052.12,418.62 1052.20,418.63 1052.27,418.66 1052.35,418.72 1052.42,418.81 1052.50,418.94 1052.58,419.08 1052.65,419.25 1052.73,419.45 1052.80,419.66 1052.88,419.88 1052.95,420.11 1053.03,420.35 1053.11,420.59 1053.18,420.83 1053.26,421.07 1053.33,421.29 1053.41,421.49 1053.48,421.68 1053.56,421.85 1053.64,422.00 1053.71,422.11 1053.79,422.20 1053.86,422.26 1053.94,422.29 1054.01,422.28 1054.09,422.24 1054.17,422.17 1054.24,422.08 1054.32,421.95 1054.39,421.80 1054.47,421.62 1054.54,421.42 1054.62,421.21 1054.69,420.98 1054.77,420.75 1054.85,420.51 1054.92,420.26 1055.00,420.02 1055.07,419.79 1055.15,419.57 1055.22,419.36 1055.30,419.18 1055.38,419.01 1055.45,418.87 1055.53,418.76 1055.60,418.68 1055.68,418.63 1055.75,418.60 1055.83,418.62 1055.91,418.66 1055.98,418.74 1056.06,418.84 1056.13,418.97 1056.21,419.13 1056.28,419.31 1056.36,419.52 1056.44,419.73 1056.51,419.97 1056.59,420.21 1056.66,420.45 1056.74,420.69 1056.81,420.93 1056.89,421.16 1056.97,421.38 1057.04,421.59 1057.12,421.77 1057.19,421.93 1057.27,422.06 1057.34,422.17 1057.42,422.25 1057.50,422.29 1057.57,422.30 1057.65,422.28 1057.72,422.23 1057.80,422.15 1057.87,422.03 1057.95,421.89 1058.02,421.73 1058.10,421.54 1058.18,421.33 1058.25,421.11 1058.33,420.87 1058.40,420.63 1058.48,420.38 1058.55,420.14 1058.63,419.90 1058.71,419.67 1058.78,419.45 1058.86,419.25 1058.93,419.07 1059.01,418.92 1059.08,418.79 1059.16,418.69 1059.24,418.63 1059.31,418.59 1059.39,418.59 1059.46,418.62 1059.54,418.68 1059.61,418.78 1059.69,418.90 1059.77,419.05 1059.84,419.23 1059.92,419.42 1059.99,419.64 1060.07,419.87 1060.14,420.11 1060.22,420.36 1060.30,420.60 1060.37,420.85 1060.45,421.09 1060.52,421.31 1060.60,421.53 1060.67,421.72 1060.75,421.89 1060.83,422.04 1060.90,422.15 1060.98,422.24 1061.05,422.30 1061.13,422.32 1061.20,422.31 1061.28,422.27 1061.35,422.19 1061.43,422.09 1061.51,421.95 1061.58,421.79 1061.66,421.60 1061.73,421.40 1061.81,421.18 1061.88,420.94 1061.96,420.70 1062.04,420.45 1062.11,420.20 1062.19,419.95 1062.26,419.72 1062.34,419.49 1062.41,419.29 1062.49,419.10 1062.57,418.94 1062.64,418.80 1062.72,418.70 1062.79,418.62 1062.87,418.58 1062.94,418.57 1063.02,418.60 1063.10,418.65 1063.17,418.74 1063.25,418.86 1063.32,419.01 1063.40,419.18 1063.47,419.38 1063.55,419.59 1063.63,419.82 1063.70,420.07 1063.78,420.32 1063.85,420.57 1063.93,420.82 1064.00,421.06 1064.08,421.29 1064.16,421.51 1064.23,421.71 1064.31,421.88 1064.38,422.03 1064.46,422.16 1064.53,422.25 1064.61,422.31 1064.69,422.34 1064.76,422.33 1064.84,422.29 1064.91,422.22 1064.99,422.11 1065.06,421.98 1065.14,421.81 1065.21,421.63 1065.29,421.42 1065.37,421.20 1065.44,420.96 1065.52,420.71 1065.59,420.46 1065.67,420.20 1065.74,419.96 1065.82,419.72 1065.90,419.49 1065.97,419.28 1066.05,419.09 1066.12,418.93 1066.20,418.79 1066.27,418.68 1066.35,418.61 1066.43,418.56 1066.50,418.55 1066.58,418.58 1066.65,418.64 1066.73,418.73 1066.80,418.85 1066.88,419.00 1066.96,419.18 1067.03,419.38 1067.11,419.60 1067.18,419.83 1067.26,420.08 1067.33,420.33 1067.41,420.59 1067.49,420.84 1067.56,421.09 1067.64,421.32 1067.71,421.54 1067.79,421.74 1067.86,421.91 1067.94,422.06 1068.02,422.19 1068.09,422.28 1068.17,422.33 1068.24,422.36 1068.32,422.34 1068.39,422.30 1068.47,422.22 1068.54,422.11 1068.62,421.97 1068.70,421.80 1068.77,421.61 1068.85,421.39 1068.92,421.16 1069.00,420.92 1069.07,420.67 1069.15,420.41 1069.23,420.15 1069.30,419.90 1069.38,419.66 1069.45,419.44 1069.53,419.23 1069.60,419.04 1069.68,418.88 1069.76,418.75 1069.83,418.64 1069.91,418.58 1069.98,418.54 1070.06,418.54 1070.13,418.57 1070.21,418.64 1070.29,418.74 1070.36,418.87 1070.44,419.03 1070.51,419.22 1070.59,419.43 1070.66,419.66 1070.74,419.90 1070.82,420.15 1070.89,420.41 1070.97,420.67 1071.04,420.92 1071.12,421.17 1071.19,421.40 1071.27,421.62 1071.35,421.81 1071.42,421.98 1071.50,422.12 1071.57,422.24 1071.65,422.32 1071.72,422.36 1071.80,422.37 1071.88,422.35 1071.95,422.29 1072.03,422.20 1072.10,422.07 1072.18,421.92 1072.25,421.74 1072.33,421.54 1072.40,421.31 1072.48,421.07 1072.56,420.82 1072.63,420.56 1072.71,420.30 1072.78,420.04 1072.86,419.79 1072.93,419.55 1073.01,419.33 1073.09,419.13 1073.16,418.95 1073.24,418.80 1073.31,418.68 1073.39,418.59 1073.46,418.54 1073.54,418.52 1073.62,418.53 1073.69,418.58 1073.77,418.67 1073.84,418.79 1073.92,418.94 1073.99,419.11 1074.07,419.31 1074.15,419.53 1074.22,419.77 1074.30,420.02 1074.37,420.28 1074.45,420.55 1074.52,420.81 1074.60,421.06 1074.68,421.30 1074.75,421.53 1074.83,421.74 1074.90,421.92 1074.98,422.08 1075.05,422.21 1075.13,422.30 1075.21,422.36 1075.28,422.39 1075.36,422.38 1075.43,422.34 1075.51,422.26 1075.58,422.14 1075.66,422.00 1075.73,421.83 1075.81,421.63 1075.89,421.41 1075.96,421.17 1076.04,420.92 1076.11,420.66 1076.19,420.39 1076.26,420.13 1076.34,419.87 1076.42,419.63 1076.49,419.40 1076.57,419.18 1076.64,418.99 1076.72,418.83 1076.79,418.70 1076.87,418.60 1076.95,418.53 1077.02,418.50 1077.10,418.51 1077.17,418.55 1077.25,418.62 1077.32,418.73 1077.40,418.88 1077.48,419.05 1077.55,419.24 1077.63,419.46 1077.70,419.70 1077.78,419.95 1077.85,420.21 1077.93,420.48 1078.01,420.75 1078.08,421.01 1078.16,421.26 1078.23,421.49 1078.31,421.71 1078.38,421.90 1078.46,422.07 1078.54,422.20 1078.61,422.30 1078.69,422.37 1078.76,422.41 1078.84,422.40 1078.91,422.37 1078.99,422.29 1079.06,422.18 1079.14,422.04 1079.22,421.87 1079.29,421.67 1079.37,421.45 1079.44,421.21 1079.52,420.96 1079.59,420.70 1079.67,420.43 1079.75,420.16 1079.82,419.90 1079.90,419.65 1079.97,419.41 1080.05,419.19 1080.12,419.00 1080.20,418.83 1080.28,418.69 1080.35,418.59 1080.43,418.52 1080.50,418.48 1080.58,418.49 1080.65,418.53 1080.73,418.60 1080.81,418.71 1080.88,418.85 1080.96,419.02 1081.03,419.22 1081.11,419.45 1081.18,419.69 1081.26,419.94 1081.34,420.21 1081.41,420.48 1081.49,420.75 1081.56,421.01 1081.64,421.26 1081.71,421.50 1081.79,421.72 1081.87,421.92 1081.94,422.08 1082.02,422.22 1082.09,422.32 1082.17,422.39 1082.24,422.43 1082.32,422.42 1082.40,422.38 1082.47,422.30 1082.55,422.19 1082.62,422.05 1082.70,421.87 1082.77,421.67 1082.85,421.44 1082.92,421.20 1083.00,420.94 1083.08,420.67 1083.15,420.40 1083.23,420.13 1083.30,419.87 1083.38,419.61 1083.45,419.37 1083.53,419.16 1083.61,418.96 1083.68,418.79 1083.76,418.66 1083.83,418.56 1083.91,418.49 1083.98,418.46 1084.06,418.47 1084.14,418.52 1084.21,418.60 1084.29,418.72 1084.36,418.87 1084.44,419.05 1084.51,419.25 1084.59,419.48 1084.67,419.73 1084.74,419.99 1084.82,420.26 1084.89,420.53 1084.97,420.81 1085.04,421.07 1085.12,421.33 1085.20,421.56 1085.27,421.78 1085.35,421.97 1085.42,422.14 1085.50,422.27 1085.57,422.36 1085.65,422.43 1085.73,422.45 1085.80,422.43 1085.88,422.38 1085.95,422.29 1086.03,422.17 1086.10,422.01 1086.18,421.83 1086.25,421.61 1086.33,421.38 1086.41,421.13 1086.48,420.86 1086.56,420.59 1086.63,420.31 1086.71,420.04 1086.78,419.77 1086.86,419.52 1086.94,419.28 1087.01,419.07 1087.09,418.88 1087.16,418.72 1087.24,418.60 1087.31,418.51 1087.39,418.46 1087.47,418.44 1087.54,418.46 1087.62,418.53 1087.69,418.62 1087.77,418.76 1087.84,418.92 1087.92,419.12 1088.00,419.33 1088.07,419.58 1088.15,419.83 1088.22,420.10 1088.30,420.38 1088.37,420.66 1088.45,420.93 1088.53,421.20 1088.60,421.45 1088.68,421.68 1088.75,421.89 1088.83,422.07 1088.90,422.22 1088.98,422.34 1089.06,422.42 1089.13,422.46 1089.21,422.47 1089.28,422.43 1089.36,422.36 1089.43,422.25 1089.51,422.11 1089.58,421.93 1089.66,421.73 1089.74,421.50 1089.81,421.25 1089.89,420.99 1089.96,420.71 1090.04,420.43 1090.11,420.16 1090.19,419.88 1090.27,419.62 1090.34,419.37 1090.42,419.14 1090.49,418.94 1090.57,418.77 1090.64,418.63 1090.72,418.52 1090.80,418.45 1090.87,418.42 1090.95,418.43 1091.02,418.48 1091.10,418.56 1091.17,418.69 1091.25,418.84 1091.33,419.03 1091.40,419.24 1091.48,419.48 1091.55,419.74 1091.63,420.01 1091.70,420.29 1091.78,420.57 1091.86,420.85 1091.93,421.12 1092.01,421.38 1092.08,421.62 1092.16,421.84 1092.23,422.04 1092.31,422.20 1092.39,422.33 1092.46,422.42 1092.54,422.47 1092.61,422.49 1092.69,422.46 1092.76,422.40 1092.84,422.30 1092.92,422.16 1092.99,421.99 1093.07,421.79 1093.14,421.57 1093.22,421.32 1093.29,421.05 1093.37,420.78 1093.44,420.49 1093.52,420.21 1093.60,419.93 1093.67,419.66 1093.75,419.41 1093.82,419.17 1093.90,418.96 1093.97,418.78 1094.05,418.63 1094.13,418.52 1094.20,418.44 1094.28,418.41 1094.35,418.41 1094.43,418.45 1094.50,418.53 1094.58,418.65 1094.66,418.80 1094.73,418.99 1094.81,419.20 1094.88,419.44 1094.96,419.70 1095.03,419.97 1095.11,420.26 1095.19,420.54 1095.26,420.83 1095.34,421.11 1095.41,421.37 1095.49,421.62 1095.56,421.84 1095.64,422.04 1095.72,422.21 1095.79,422.34 1095.87,422.43 1095.94,422.49 1096.02,422.51 1096.09,422.49 1096.17,422.42 1096.25,422.32 1096.32,422.18 1096.40,422.01 1096.47,421.81 1096.55,421.58 1096.62,421.33 1096.70,421.06 1096.77,420.78 1096.85,420.49 1096.93,420.20 1097.00,419.92 1097.08,419.64 1097.15,419.39 1097.23,419.15 1097.30,418.94 1097.38,418.76 1097.46,418.61 1097.53,418.49 1097.61,418.42 1097.68,418.38 1097.76,418.39 1097.83,418.44 1097.91,418.52 1097.99,418.65 1098.06,418.80 1098.14,419.00 1098.21,419.22 1098.29,419.46 1098.36,419.73 1098.44,420.00 1098.52,420.29 1098.59,420.58 1098.67,420.87 1098.74,421.15 1098.82,421.42 1098.89,421.67 1098.97,421.89 1099.05,422.09 1099.12,422.25 1099.20,422.38 1099.27,422.47 1099.35,422.52 1099.42,422.53 1099.50,422.50 1099.58,422.42 1099.65,422.31 1099.73,422.17 1099.80,421.98 1099.88,421.77 1099.95,421.53 1100.03,421.27 1100.10,421.00 1100.18,420.71 1100.26,420.42 1100.33,420.12 1100.41,419.84 1100.48,419.56 1100.56,419.31 1100.63,419.07 1100.71,418.87 1100.79,418.69 1100.86,418.55 1100.94,418.45 1101.01,418.38 1101.09,418.36 1101.16,418.38 1101.24,418.44 1101.32,418.54 1101.39,418.68 1101.47,418.85 1101.54,419.05 1101.62,419.29 1101.69,419.54 1101.77,419.82 1101.85,420.10 1101.92,420.40 1102.00,420.69 1102.07,420.98 1102.15,421.26 1102.22,421.53 1102.30,421.77 1102.38,421.99 1102.45,422.17 1102.53,422.33 1102.60,422.44 1102.68,422.51 1102.75,422.55 1102.83,422.54 1102.91,422.49 1102.98,422.40 1103.06,422.27 1103.13,422.10 1103.21,421.91 1103.28,421.68 1103.36,421.42 1103.44,421.15 1103.51,420.86 1103.59,420.57 1103.66,420.27 1103.74,419.98 1103.81,419.69 1103.89,419.42 1103.96,419.17 1104.04,418.95 1104.12,418.75 1104.19,418.59 1104.27,418.47 1104.34,418.39 1104.42,418.34 1104.49,418.34 1104.57,418.39 1104.65,418.47 1104.72,418.59 1104.80,418.75 1104.87,418.95 1104.95,419.17 1105.02,419.42 1105.10,419.70 1105.18,419.98 1105.25,420.28 1105.33,420.58 1105.40,420.88 1105.48,421.17 1105.55,421.44 1105.63,421.70 1105.71,421.93 1105.78,422.13 1105.86,422.29 1105.93,422.42 1106.01,422.51 1106.08,422.56 1106.16,422.57 1106.24,422.53 1106.31,422.45 1106.39,422.34 1106.46,422.18 1106.54,421.99 1106.61,421.76 1106.69,421.51 1106.77,421.24 1106.84,420.95 1106.92,420.66 1106.99,420.35 1107.07,420.05 1107.14,419.76 1107.22,419.48 1107.29,419.22 1107.37,418.99 1107.45,418.78 1107.52,418.61 1107.60,418.48 1107.67,418.38 1107.75,418.33 1107.82,418.32 1107.90,418.35 1107.98,418.43 1108.05,418.54 1108.13,418.70 1108.20,418.89 1108.28,419.11 1108.35,419.37 1108.43,419.64 1108.51,419.93 1108.58,420.23 1108.66,420.53 1108.73,420.83 1108.81,421.13 1108.88,421.41 1108.96,421.67 1109.04,421.91 1109.11,422.12 1109.19,422.29 1109.26,422.43 1109.34,422.53 1109.41,422.58 1109.49,422.59 1109.57,422.56 1109.64,422.48 1109.72,422.37 1109.79,422.21 1109.87,422.02 1109.94,421.79 1110.02,421.54 1110.10,421.27 1110.17,420.98 1110.25,420.67 1110.32,420.37 1110.40,420.06 1110.47,419.76 1110.55,419.48 1110.62,419.22 1110.70,418.98 1110.78,418.77 1110.85,418.59 1110.93,418.46 1111.00,418.36 1111.08,418.31 1111.15,418.30 1111.23,418.33 1111.31,418.41 1111.38,418.53 1111.46,418.69 1111.53,418.88 1111.61,419.11 1111.68,419.37 1111.76,419.65 1111.84,419.94 1111.91,420.25 1111.99,420.55 1112.06,420.86 1112.14,421.16 1112.21,421.45 1112.29,421.71 1112.37,421.95 1112.44,422.16 1112.52,422.33 1112.59,422.46 1112.67,422.56 1112.74,422.61 1112.82,422.61 1112.90,422.57 1112.97,422.49 1113.05,422.37 1113.12,422.20 1113.20,422.00 1113.27,421.77 1113.35,421.51 1113.43,421.22 1113.50,420.93 1113.58,420.62 1113.65,420.31 1113.73,420.00 1113.80,419.70 1113.88,419.41 1113.96,419.15 1114.03,418.91 1114.11,418.71 1114.18,418.54 1114.26,418.41 1114.33,418.32 1114.41,418.28 1114.48,418.28 1114.56,418.33 1114.64,418.42 1114.71,418.55 1114.79,418.72 1114.86,418.93 1114.94,419.17 1115.01,419.44 1115.09,419.72 1115.17,420.03 1115.24,420.34 1115.32,420.65 1115.39,420.96 1115.47,421.26 1115.54,421.55 1115.62,421.81 1115.70,422.04 1115.77,422.24 1115.85,422.40 1115.92,422.52 1116.00,422.60 1116.07,422.64 1116.15,422.63 1116.23,422.57 1116.30,422.47 1116.38,422.33 1116.45,422.14 1116.53,421.93 1116.60,421.68 1116.68,421.40 1116.76,421.11 1116.83,420.80 1116.91,420.48 1116.98,420.17 1117.06,419.86 1117.13,419.56 1117.21,419.28 1117.29,419.02 1117.36,418.80 1117.44,418.60 1117.51,418.45 1117.59,418.34 1117.66,418.27 1117.74,418.25 1117.81,418.27 1117.89,418.34 1117.97,418.46 1118.04,418.61 1118.12,418.81 1118.19,419.04 1118.27,419.29 1118.34,419.58 1118.42,419.88 1118.50,420.19 1118.57,420.51 1118.65,420.83 1118.72,421.14 1118.80,421.44 1118.87,421.71 1118.95,421.96 1119.03,422.18 1119.10,422.36 1119.18,422.50 1119.25,422.60 1119.33,422.65 1119.40,422.66 1119.48,422.62 1119.56,422.53 1119.63,422.40 1119.71,422.23 1119.78,422.02 1119.86,421.78 1119.93,421.51 1120.01,421.22 1120.09,420.91 1120.16,420.59 1120.24,420.27 1120.31,419.95 1120.39,419.64 1120.46,419.35 1120.54,419.09 1120.62,418.85 1120.69,418.64 1120.77,418.47 1120.84,418.35 1120.92,418.27 1120.99,418.23 1121.07,418.24 1121.15,418.30 1121.22,418.40 1121.30,418.55 1121.37,418.74 1121.45,418.96 1121.52,419.22 1121.60,419.50 1121.67,419.80 1121.75,420.12 1121.83,420.44 1121.90,420.77 1121.98,421.08 1122.05,421.39 1122.13,421.67 1122.20,421.93 1122.28,422.16 1122.36,422.35 1122.43,422.50 1122.51,422.61 1122.58,422.67 1122.66,422.68 1122.73,422.65 1122.81,422.57 1122.89,422.44 1122.96,422.27 1123.04,422.07 1123.11,421.83 1123.19,421.56 1123.26,421.26 1123.34,420.95 1123.42,420.63 1123.49,420.30 1123.57,419.98 1123.64,419.66 1123.72,419.36 1123.79,419.09 1123.87,418.85 1123.95,418.63 1124.02,418.46 1124.10,418.33 1124.17,418.25 1124.25,418.21 1124.32,418.22 1124.40,418.28 1124.48,418.38 1124.55,418.53 1124.63,418.72 1124.70,418.95 1124.78,419.21 1124.85,419.49 1124.93,419.80 1125.00,420.12 1125.08,420.45 1125.16,420.78 1125.23,421.10 1125.31,421.41 1125.38,421.70 1125.46,421.96 1125.53,422.19 1125.61,422.38 1125.69,422.53 1125.76,422.63 1125.84,422.69 1125.91,422.70 1125.99,422.66 1126.06,422.58 1126.14,422.45 1126.22,422.27 1126.29,422.06 1126.37,421.81 1126.44,421.53 1126.52,421.23 1126.59,420.91 1126.67,420.58 1126.75,420.25 1126.82,419.92 1126.90,419.61 1126.97,419.31 1127.05,419.03 1127.12,418.79 1127.20,418.58 1127.28,418.41 1127.35,418.29 1127.43,418.21 1127.50,418.19 1127.58,418.21 1127.65,418.28 1127.73,418.39 1127.81,418.55 1127.88,418.75 1127.96,418.99 1128.03,419.26 1128.11,419.56 1128.18,419.88 1128.26,420.20 1128.33,420.54 1128.41,420.87 1128.49,421.19 1128.56,421.50 1128.64,421.79 1128.71,422.04 1128.79,422.26 1128.86,422.45 1128.94,422.59 1129.02,422.68 1129.09,422.72 1129.17,422.72 1129.24,422.66 1129.32,422.56 1129.39,422.41 1129.47,422.22 1129.55,421.99 1129.62,421.72 1129.70,421.43 1129.77,421.12 1129.85,420.79 1129.92,420.45 1130.00,420.12 1130.08,419.79 1130.15,419.47 1130.23,419.18 1130.30,418.91 1130.38,418.68 1130.45,418.49 1130.53,418.34 1130.61,418.23 1130.68,418.17 1130.76,418.17 1130.83,418.21 1130.91,418.30 1130.98,418.44 1131.06,418.62 1131.14,418.85 1131.21,419.11 1131.29,419.39 1131.36,419.71 1131.44,420.03 1131.51,420.37 1131.59,420.71 1131.67,421.04 1131.74,421.37 1131.82,421.67 1131.89,421.94 1131.97,422.18 1132.04,422.39 1132.12,422.55 1132.19,422.66 1132.27,422.73 1132.35,422.75 1132.42,422.71 1132.50,422.63 1132.57,422.50 1132.65,422.32 1132.72,422.10 1132.80,421.85 1132.88,421.56 1132.95,421.25 1133.03,420.92 1133.10,420.58 1133.18,420.24 1133.25,419.90 1133.33,419.58 1133.41,419.27 1133.48,418.99 1133.56,418.74 1133.63,418.53 1133.71,418.36 1133.78,418.24 1133.86,418.16 1133.94,418.14 1134.01,418.17 1134.09,418.25 1134.16,418.37 1134.24,418.55 1134.31,418.76 1134.39,419.02 1134.47,419.30 1134.54,419.61 1134.62,419.94 1134.69,420.28 1134.77,420.63 1134.84,420.97 1134.92,421.30 1135.00,421.61 1135.07,421.90 1135.15,422.15 1135.22,422.36 1135.30,422.54 1135.37,422.67 1135.45,422.74 1135.52,422.77 1135.60,422.75 1135.68,422.67 1135.75,422.54 1135.83,422.37 1135.90,422.16 1135.98,421.90 1136.05,421.62 1136.13,421.31 1136.21,420.97 1136.28,420.63 1136.36,420.28 1136.43,419.94 1136.51,419.61 1136.58,419.29 1136.66,419.00 1136.74,418.75 1136.81,418.53 1136.89,418.35 1136.96,418.22 1137.04,418.15 1137.11,418.12 1137.19,418.14 1137.27,418.22 1137.34,418.35 1137.42,418.52 1137.49,418.74 1137.57,418.99 1137.64,419.28 1137.72,419.60 1137.80,419.93 1137.87,420.28 1137.95,420.63 1138.02,420.97 1138.10,421.31 1138.17,421.62 1138.25,421.91 1138.33,422.17 1138.40,422.39 1138.48,422.56 1138.55,422.69 1138.63,422.77 1138.70,422.79 1138.78,422.77 1138.85,422.69 1138.93,422.56 1139.01,422.38 1139.08,422.16 1139.16,421.90 1139.23,421.60 1139.31,421.28 1139.38,420.95 1139.46,420.60 1139.54,420.24 1139.61,419.89 1139.69,419.56 1139.76,419.24 1139.84,418.95 1139.91,418.70 1139.99,418.48 1140.07,418.31 1140.14,418.19 1140.22,418.11 1140.29,418.09 1140.37,418.13 1140.44,418.22 1140.52,418.35 1140.60,418.54 1140.67,418.77 1140.75,419.03 1140.82,419.33 1140.90,419.66 1140.97,420.00 1141.05,420.36 1141.13,420.71 1141.20,421.06 1141.28,421.40 1141.35,421.71 1141.43,422.00 1141.50,422.25 1141.58,422.46 1141.66,422.63 1141.73,422.74 1141.81,422.81 1141.88,422.81 1141.96,422.77 1142.03,422.67 1142.11,422.53 1142.19,422.33 1142.26,422.09 1142.34,421.82 1142.41,421.51 1142.49,421.18 1142.56,420.83 1142.64,420.47 1142.71,420.11 1142.79,419.76 1142.87,419.43 1142.94,419.11 1143.02,418.83 1143.09,418.59 1143.17,418.39 1143.24,418.23 1143.32,418.13 1143.40,418.08 1143.47,418.08 1143.55,418.14 1143.62,418.25 1143.70,418.41 1143.77,418.62 1143.85,418.87 1143.93,419.15 1144.00,419.47 1144.08,419.81 1144.15,420.17 1144.23,420.53 1144.30,420.89 1144.38,421.24 1144.46,421.57 1144.53,421.87 1144.61,422.15 1144.68,422.38 1144.76,422.57 1144.83,422.72 1144.91,422.81 1144.99,422.84 1145.06,422.82 1145.14,422.75 1145.21,422.62 1145.29,422.44 1145.36,422.22 1145.44,421.95 1145.52,421.65 1145.59,421.33 1145.67,420.98 1145.74,420.62 1145.82,420.25 1145.89,419.89 1145.97,419.54 1146.04,419.22 1146.12,418.92 1146.20,418.66 1146.27,418.43 1146.35,418.26 1146.42,418.13 1146.50,418.06 1146.57,418.05 1146.65,418.09 1146.73,418.18 1146.80,418.33 1146.88,418.53 1146.95,418.77 1147.03,419.05 1147.10,419.36 1147.18,419.70 1147.26,420.06 1147.33,420.43 1147.41,420.79 1147.48,421.15 1147.56,421.49 1147.63,421.81 1147.71,422.10 1147.79,422.35 1147.86,422.56 1147.94,422.71 1148.01,422.81 1148.09,422.86 1148.16,422.85 1148.24,422.79 1148.32,422.67 1148.39,422.50 1148.47,422.28 1148.54,422.02 1148.62,421.72 1148.69,421.39 1148.77,421.04 1148.85,420.68 1148.92,420.31 1149.00,419.94 1149.07,419.58 1149.15,419.25 1149.22,418.94 1149.30,418.67 1149.38,418.44 1149.45,418.25 1149.53,418.12 1149.60,418.04 1149.68,418.02 1149.75,418.06 1149.83,418.15 1149.90,418.30 1149.98,418.49 1150.06,418.73 1150.13,419.02 1150.21,419.34 1150.28,419.68 1150.36,420.04 1150.43,420.41 1150.51,420.79 1150.59,421.15 1150.66,421.50 1150.74,421.83 1150.81,422.12 1150.89,422.37 1150.96,422.58 1151.04,422.74 1151.12,422.84 1151.19,422.89 1151.27,422.88 1151.34,422.81 1151.42,422.69 1151.49,422.51 1151.57,422.29 1151.65,422.02 1151.72,421.71 1151.80,421.38 1151.87,421.02 1151.95,420.65 1152.02,420.27 1152.10,419.90 1152.18,419.54 1152.25,419.20 1152.33,418.89 1152.40,418.62 1152.48,418.39 1152.55,418.21 1152.63,418.08 1152.71,418.01 1152.78,418.00 1152.86,418.04 1152.93,418.15 1153.01,418.30 1153.08,418.51 1153.16,418.77 1153.23,419.06 1153.31,419.39 1153.39,419.75 1153.46,420.12 1153.54,420.50 1153.61,420.87 1153.69,421.24 1153.76,421.59 1153.84,421.91 1153.92,422.20 1153.99,422.45 1154.07,422.65 1154.14,422.79 1154.22,422.88 1154.29,422.92 1154.37,422.89 1154.45,422.81 1154.52,422.66 1154.60,422.47 1154.67,422.23 1154.75,421.94 1154.82,421.62 1154.90,421.27 1154.98,420.90 1155.05,420.52 1155.13,420.14 1155.20,419.76 1155.28,419.40 1155.35,419.07 1155.43,418.77 1155.51,418.51 1155.58,418.29 1155.66,418.13 1155.73,418.02 1155.81,417.97 1155.88,417.98 1155.96,418.05 1156.04,418.18 1156.11,418.36 1156.19,418.60 1156.26,418.88 1156.34,419.19 1156.41,419.54 1156.49,419.91 1156.56,420.29 1156.64,420.68 1156.72,421.06 1156.79,421.42 1156.87,421.77 1156.94,422.08 1157.02,422.35 1157.09,422.58 1157.17,422.75 1157.25,422.87 1157.32,422.94 1157.40,422.94 1157.47,422.88 1157.55,422.76 1157.62,422.59 1157.70,422.36 1157.78,422.09 1157.85,421.78 1157.93,421.43 1158.00,421.06 1158.08,420.68 1158.15,420.29 1158.23,419.90 1158.31,419.53 1158.38,419.18 1158.46,418.86 1158.53,418.58 1158.61,418.34 1158.68,418.16 1158.76,418.03 1158.84,417.96 1158.91,417.95 1158.99,418.00 1159.06,418.11 1159.14,418.28 1159.21,418.50 1159.29,418.77 1159.37,419.08 1159.44,419.42 1159.52,419.79 1159.59,420.17 1159.67,420.57 1159.74,420.96 1159.82,421.33 1159.90,421.69 1159.97,422.02 1160.05,422.31 1160.12,422.55 1160.20,422.74 1160.27,422.88 1160.35,422.95 1160.42,422.97 1160.50,422.92 1160.58,422.81 1160.65,422.65 1160.73,422.43 1160.80,422.16 1160.88,421.85 1160.95,421.51 1161.03,421.14 1161.11,420.75 1161.18,420.35 1161.26,419.96 1161.33,419.58 1161.41,419.22 1161.48,418.89 1161.56,418.59 1161.64,418.35 1161.71,418.15 1161.79,418.01 1161.86,417.93 1161.94,417.92 1162.01,417.96 1162.09,418.07 1162.17,418.24 1162.24,418.46 1162.32,418.73 1162.39,419.04 1162.47,419.39 1162.54,419.76 1162.62,420.16 1162.70,420.55 1162.77,420.95 1162.85,421.34 1162.92,421.70 1163.00,422.03 1163.07,422.33 1163.15,422.57 1163.23,422.77 1163.30,422.90 1163.38,422.98 1163.45,423.00 1163.53,422.95 1163.60,422.83 1163.68,422.66 1163.75,422.44 1163.83,422.16 1163.91,421.84 1163.98,421.49 1164.06,421.11 1164.13,420.72 1164.21,420.31 1164.28,419.91 1164.36,419.53 1164.44,419.16 1164.51,418.83 1164.59,418.54 1164.66,418.29 1164.74,418.10 1164.81,417.97 1164.89,417.90 1164.97,417.89 1165.04,417.95 1165.12,418.07 1165.19,418.25 1165.27,418.48 1165.34,418.77 1165.42,419.09 1165.50,419.45 1165.57,419.84 1165.65,420.24 1165.72,420.64 1165.80,421.05 1165.87,421.43 1165.95,421.80 1166.03,422.13 1166.10,422.41 1166.18,422.65 1166.25,422.84 1166.33,422.96 1166.40,423.02 1166.48,423.02 1166.56,422.95 1166.63,422.82 1166.71,422.62 1166.78,422.38 1166.86,422.08 1166.93,421.75 1167.01,421.38 1167.08,420.99 1167.16,420.58 1167.24,420.17 1167.31,419.77 1167.39,419.38 1167.46,419.02 1167.54,418.70 1167.61,418.42 1167.69,418.19 1167.77,418.02 1167.84,417.91 1167.92,417.86 1167.99,417.88 1168.07,417.97 1168.14,418.11 1168.22,418.32 1168.30,418.58 1168.37,418.89 1168.45,419.24 1168.52,419.62 1168.60,420.02 1168.67,420.43 1168.75,420.84 1168.83,421.24 1168.90,421.63 1168.98,421.98 1169.05,422.30 1169.13,422.56 1169.20,422.78 1169.28,422.93 1169.36,423.03 1169.43,423.05 1169.51,423.01 1169.58,422.91 1169.66,422.74 1169.73,422.52 1169.81,422.24 1169.89,421.91 1169.96,421.55 1170.04,421.16 1170.11,420.75 1170.19,420.33 1170.26,419.92 1170.34,419.52 1170.42,419.14 1170.49,418.80 1170.57,418.49 1170.64,418.24 1170.72,418.05 1170.79,417.91 1170.87,417.84 1170.94,417.84 1171.02,417.90 1171.10,418.03 1171.17,418.22 1171.25,418.47 1171.32,418.77 1171.40,419.11 1171.47,419.49 1171.55,419.89 1171.63,420.31 1171.70,420.73 1171.78,421.15 1171.85,421.54 1171.93,421.91 1172.00,422.24 1172.08,422.53 1172.16,422.76 1172.23,422.93 1172.31,423.04 1172.38,423.08 1172.46,423.06 1172.53,422.96 1172.61,422.81 1172.69,422.59 1172.76,422.31 1172.84,421.99 1172.91,421.63 1172.99,421.23 1173.06,420.82 1173.14,420.40 1173.22,419.97 1173.29,419.56 1173.37,419.17 1173.44,418.82 1173.52,418.51 1173.59,418.24 1173.67,418.04 1173.75,417.89 1173.82,417.82 1173.90,417.81 1173.97,417.87 1174.05,417.99 1174.12,418.18 1174.20,418.43 1174.27,418.74 1174.35,419.08 1174.43,419.47 1174.50,419.87 1174.58,420.30 1174.65,420.73 1174.73,421.15 1174.80,421.55 1174.88,421.93 1174.96,422.26 1175.03,422.55 1175.11,422.79 1175.18,422.96 1175.26,423.07 1175.33,423.11 1175.41,423.08 1175.49,422.99 1175.56,422.82 1175.64,422.59 1175.71,422.31 1175.79,421.98 1175.86,421.61 1175.94,421.20 1176.02,420.78 1176.09,420.35 1176.17,419.92 1176.24,419.50 1176.32,419.11 1176.39,418.76 1176.47,418.44 1176.55,418.18 1176.62,417.98 1176.70,417.85 1176.77,417.78 1176.85,417.78 1176.92,417.85 1177.00,418.00 1177.08,418.20 1177.15,418.47 1177.23,418.78 1177.30,419.15 1177.38,419.54 1177.45,419.96 1177.53,420.40 1177.60,420.83 1177.68,421.26 1177.76,421.66 1177.83,422.04 1177.91,422.37 1177.98,422.65 1178.06,422.87 1178.13,423.03 1178.21,423.12 1178.29,423.14 1178.36,423.09 1178.44,422.97 1178.51,422.78 1178.59,422.53 1178.66,422.23 1178.74,421.87 1178.82,421.48 1178.89,421.06 1178.97,420.63 1179.04,420.19 1179.12,419.76 1179.19,419.34 1179.27,418.95 1179.35,418.61 1179.42,418.31 1179.50,418.07 1179.57,417.89 1179.65,417.78 1179.72,417.74 1179.80,417.77 1179.88,417.88 1179.95,418.05 1180.03,418.29 1180.10,418.59 1180.18,418.93 1180.25,419.32 1180.33,419.73 1180.41,420.17 1180.48,420.61 1180.56,421.05 1180.63,421.48 1180.71,421.88 1180.78,422.24 1180.86,422.55 1180.94,422.80 1181.01,423.00 1181.09,423.12 1181.16,423.17 1181.24,423.15 1181.31,423.06 1181.39,422.90 1181.46,422.67 1181.54,422.38 1181.62,422.04 1181.69,421.66 1181.77,421.24 1181.84,420.80 1181.92,420.35 1181.99,419.91 1182.07,419.48 1182.15,419.07 1182.22,418.70 1182.30,418.38 1182.37,418.12 1182.45,417.91 1182.52,417.78 1182.60,417.71 1182.68,417.72 1182.75,417.81 1182.83,417.97 1182.90,418.19 1182.98,418.47 1183.05,418.81 1183.13,419.19 1183.21,419.61 1183.28,420.05 1183.36,420.50 1183.43,420.95 1183.51,421.39 1183.58,421.80 1183.66,422.18 1183.74,422.51 1183.81,422.78 1183.89,422.99 1183.96,423.13 1184.04,423.20 1184.11,423.19 1184.19,423.11 1184.27,422.96 1184.34,422.74 1184.42,422.45 1184.49,422.11 1184.57,421.73 1184.64,421.31 1184.72,420.86 1184.79,420.41 1184.87,419.95 1184.95,419.51 1185.02,419.10 1185.10,418.72 1185.17,418.38 1185.25,418.11 1185.32,417.90 1185.40,417.75 1185.48,417.68 1185.55,417.69 1185.63,417.77 1185.70,417.93 1185.78,418.15 1185.85,418.44 1185.93,418.79 1186.01,419.18 1186.08,419.60 1186.16,420.05 1186.23,420.51 1186.31,420.97 1186.38,421.41 1186.46,421.83 1186.54,422.21 1186.61,422.55 1186.69,422.82 1186.76,423.03 1186.84,423.17 1186.91,423.23 1186.99,423.22 1187.07,423.13 1187.14,422.97 1187.22,422.74 1187.29,422.44 1187.37,422.09 1187.44,421.69 1187.52,421.26 1187.60,420.81 1187.67,420.34 1187.75,419.88 1187.82,419.43 1187.90,419.02 1187.97,418.64 1188.05,418.31 1188.12,418.04 1188.20,417.83 1188.28,417.70 1188.35,417.65 1188.43,417.67 1188.50,417.77 1188.58,417.94 1188.65,418.19 1188.73,418.50 1188.81,418.86 1188.88,419.26 1188.96,419.70 1189.03,420.17 1189.11,420.64 1189.18,421.10 1189.26,421.55 1189.34,421.96 1189.41,422.34 1189.49,422.66 1189.56,422.92 1189.64,423.11 1189.71,423.23 1189.79,423.27 1189.87,423.23 1189.94,423.12 1190.02,422.93 1190.09,422.66 1190.17,422.34 1190.24,421.96 1190.32,421.55 1190.40,421.10 1190.47,420.63 1190.55,420.15 1190.62,419.69 1190.70,419.24 1190.77,418.83 1190.85,418.46 1190.93,418.15 1191.00,417.91 1191.08,417.73 1191.15,417.63 1191.23,417.61 1191.30,417.67 1191.38,417.81 1191.46,418.03 1191.53,418.31 1191.61,418.65 1191.68,419.04 1191.76,419.48 1191.83,419.94 1191.91,420.41 1191.98,420.89 1192.06,421.36 1192.14,421.80 1192.21,422.20 1192.29,422.55 1192.36,422.85 1192.44,423.07 1192.51,423.23 1192.59,423.30 1192.67,423.29 1192.74,423.21 1192.82,423.04 1192.89,422.80 1192.97,422.49 1193.04,422.13 1193.12,421.71 1193.20,421.27 1193.27,420.79 1193.35,420.31 1193.42,419.83 1193.50,419.37 1193.57,418.94 1193.65,418.55 1193.73,418.21 1193.80,417.94 1193.88,417.74 1193.95,417.62 1194.03,417.58 1194.10,417.62 1194.18,417.74 1194.26,417.93 1194.33,418.21 1194.41,418.54 1194.48,418.93 1194.56,419.36 1194.63,419.83 1194.71,420.31 1194.79,420.80 1194.86,421.28 1194.94,421.73 1195.01,422.15 1195.09,422.52 1195.16,422.83 1195.24,423.08 1195.31,423.24 1195.39,423.33 1195.47,423.33 1195.54,423.26 1195.62,423.10 1195.69,422.86 1195.77,422.55 1195.84,422.19 1195.92,421.77 1196.00,421.32 1196.07,420.84 1196.15,420.34 1196.22,419.85 1196.30,419.38 1196.37,418.94 1196.45,418.54 1196.53,418.20 1196.60,417.92 1196.68,417.71 1196.75,417.58 1196.83,417.54 1196.90,417.58 1196.98,417.70 1197.06,417.91 1197.13,418.18 1197.21,418.53 1197.28,418.93 1197.36,419.37 1197.43,419.85 1197.51,420.34 1197.59,420.84 1197.66,421.32 1197.74,421.78 1197.81,422.21 1197.89,422.58 1197.96,422.89 1198.04,423.13 1198.12,423.29 1198.19,423.37 1198.27,423.36 1198.34,423.27 1198.42,423.10 1198.49,422.85 1198.57,422.53 1198.65,422.14 1198.72,421.71 1198.80,421.24 1198.87,420.75 1198.95,420.25 1199.02,419.75 1199.10,419.27 1199.17,418.83 1199.25,418.43 1199.33,418.10 1199.40,417.83 1199.48,417.64 1199.55,417.53 1199.63,417.51 1199.70,417.57 1199.78,417.72 1199.86,417.95 1199.93,418.25 1200.01,418.62 1200.08,419.04 1200.16,419.50 1200.23,419.99 1200.31,420.50 1200.39,421.01 1200.46,421.50 1200.54,421.95 1200.61,422.37 1200.69,422.73 1200.76,423.02 1200.84,423.23 1200.92,423.37 1200.99,423.41 1201.07,423.37 1201.14,423.25 1201.22,423.04 1201.29,422.75 1201.37,422.39 1201.45,421.98 1201.52,421.52 1201.60,421.03 1201.67,420.52 1201.75,420.01 1201.82,419.51 1201.90,419.04 1201.98,418.61 1202.05,418.23 1202.13,417.92 1202.20,417.69 1202.28,417.54 1202.35,417.47 1202.43,417.49 1202.50,417.60 1202.58,417.80 1202.66,418.07 1202.73,418.42 1202.81,418.83 1202.88,419.29 1202.96,419.78 1203.03,420.29 1203.11,420.81 1203.19,421.31 1203.26,421.80 1203.34,422.24 1203.41,422.63 1203.49,422.95 1203.56,423.20 1203.64,423.37 1203.72,423.45 1203.79,423.44 1203.87,423.34 1203.94,423.15 1204.02,422.88 1204.09,422.54 1204.17,422.13 1204.25,421.68 1204.32,421.18 1204.40,420.67 1204.47,420.14 1204.55,419.63 1204.62,419.14 1204.70,418.69 1204.78,418.29 1204.85,417.96 1204.93,417.70 1205.00,417.52 1205.08,417.44 1205.15,417.44 1205.23,417.54 1205.31,417.72 1205.38,417.99 1205.46,418.33 1205.53,418.74 1205.61,419.19 1205.68,419.69 1205.76,420.21 1205.83,420.74 1205.91,421.26 1205.99,421.76 1206.06,422.21 1206.14,422.62 1206.21,422.95 1206.29,423.22 1206.36,423.39 1206.44,423.48 1206.52,423.48 1206.59,423.38 1206.67,423.20 1206.74,422.93 1206.82,422.58 1206.89,422.17 1206.97,421.70 1207.05,421.20 1207.12,420.68 1207.20,420.14 1207.27,419.62 1207.35,419.12 1207.42,418.66 1207.50,418.25 1207.58,417.92 1207.65,417.65 1207.73,417.48 1207.80,417.40 1207.88,417.41 1207.95,417.51 1208.03,417.70 1208.11,417.98 1208.18,418.34 1208.26,418.76 1208.33,419.23 1208.41,419.74 1208.48,420.27 1208.56,420.81 1208.64,421.34 1208.71,421.84 1208.79,422.30 1208.86,422.70 1208.94,423.04 1209.01,423.29 1209.09,423.46 1209.17,423.53 1209.24,423.51 1209.32,423.39 1209.39,423.18 1209.47,422.89 1209.54,422.52 1209.62,422.08 1209.69,421.60 1209.77,421.08 1209.85,420.54 1209.92,419.99 1210.00,419.46 1210.07,418.96 1210.15,418.51 1210.22,418.11 1210.30,417.79 1210.38,417.55 1210.45,417.40 1210.53,417.35 1210.60,417.39 1210.68,417.53 1210.75,417.76 1210.83,418.07 1210.91,418.46 1210.98,418.91 1211.06,419.41 1211.13,419.94 1211.21,420.49 1211.28,421.04 1211.36,421.57 1211.44,422.06 1211.51,422.51 1211.59,422.89 1211.66,423.20 1211.74,423.41 1211.81,423.54 1211.89,423.57 1211.97,423.50 1212.04,423.34 1212.12,423.08 1212.19,422.74 1212.27,422.33 1212.34,421.86 1212.42,421.34 1212.50,420.80 1212.57,420.24 1212.65,419.69 1212.72,419.16 1212.80,418.68 1212.87,418.25 1212.95,417.89 1213.02,417.60 1213.10,417.41 1213.18,417.32 1213.25,417.32 1213.33,417.43 1213.40,417.62 1213.48,417.91 1213.55,418.28 1213.63,418.72 1213.71,419.22 1213.78,419.75 1213.86,420.31 1213.93,420.87 1214.01,421.42 1214.08,421.94 1214.16,422.41 1214.24,422.82 1214.31,423.15 1214.39,423.40 1214.46,423.56 1214.54,423.61 1214.61,423.57 1214.69,423.42 1214.77,423.18 1214.84,422.86 1214.92,422.45 1214.99,421.98 1215.07,421.47 1215.14,420.91 1215.22,420.35 1215.30,419.78 1215.37,419.24 1215.45,418.73 1215.52,418.28 1215.60,417.90 1215.67,417.60 1215.75,417.39 1215.83,417.28 1215.90,417.27 1215.98,417.37 1216.05,417.56 1216.13,417.85 1216.20,418.22 1216.28,418.66 1216.35,419.16 1216.43,419.70 1216.51,420.27 1216.58,420.84 1216.66,421.41 1216.73,421.94 1216.81,422.42 1216.88,422.84 1216.96,423.19 1217.04,423.44 1217.11,423.60 1217.19,423.66 1217.26,423.61 1217.34,423.46 1217.41,423.21 1217.49,422.87 1217.57,422.46 1217.64,421.97 1217.72,421.44 1217.79,420.88 1217.87,420.30 1217.94,419.72 1218.02,419.17 1218.10,418.66 1218.17,418.21 1218.25,417.82 1218.32,417.53 1218.40,417.33 1218.47,417.23 1218.55,417.24 1218.63,417.35 1218.70,417.56 1218.78,417.87 1218.85,418.26 1218.93,418.73 1219.00,419.25 1219.08,419.81 1219.16,420.40 1219.23,420.98 1219.31,421.55 1219.38,422.08 1219.46,422.56 1219.53,422.97 1219.61,423.30 1219.69,423.54 1219.76,423.67 1219.84,423.70 1219.91,423.62 1219.99,423.43 1220.06,423.15 1220.14,422.78 1220.21,422.33 1220.29,421.82 1220.37,421.26 1220.44,420.68 1220.52,420.08 1220.59,419.50 1220.67,418.95 1220.74,418.45 1220.82,418.01 1220.90,417.66 1220.97,417.39 1221.05,417.23 1221.12,417.18 1221.20,417.23 1221.27,417.39 1221.35,417.65 1221.43,418.01 1221.50,418.45 1221.58,418.95 1221.65,419.51 1221.73,420.09 1221.80,420.69 1221.88,421.28 1221.96,421.85 1222.03,422.37 1222.11,422.82 1222.18,423.20 1222.26,423.48 1222.33,423.67 1222.41,423.74 1222.49,423.71 1222.56,423.57 1222.64,423.32 1222.71,422.97 1222.79,422.54 1222.86,422.04 1222.94,421.49 1223.02,420.90 1223.09,420.30 1223.17,419.69 1223.24,419.12 1223.32,418.59 1223.39,418.12 1223.47,417.72 1223.54,417.42 1223.62,417.23 1223.70,417.14 1223.77,417.16 1223.85,417.29 1223.92,417.53 1224.00,417.87 1224.07,418.30 1224.15,418.80 1224.23,419.35 1224.30,419.95 1224.38,420.56 1224.45,421.17 1224.53,421.75 1224.60,422.29 1224.68,422.77 1224.76,423.17 1224.83,423.48 1224.91,423.69 1224.98,423.79 1225.06,423.77 1225.13,423.64 1225.21,423.40 1225.29,423.06 1225.36,422.63 1225.44,422.13 1225.51,421.56 1225.59,420.96 1225.66,420.35 1225.74,419.73 1225.82,419.14 1225.89,418.59 1225.97,418.11 1226.04,417.70 1226.12,417.39 1226.19,417.18 1226.27,417.09 1226.35,417.11 1226.42,417.25 1226.50,417.49 1226.57,417.84 1226.65,418.28 1226.72,418.79 1226.80,419.36 1226.88,419.97 1226.95,420.59 1227.03,421.22 1227.10,421.81 1227.18,422.36 1227.25,422.85 1227.33,423.25 1227.40,423.55 1227.48,423.75 1227.56,423.84 1227.63,423.81 1227.71,423.66 1227.78,423.40 1227.86,423.04 1227.93,422.58 1228.01,422.06 1228.09,421.47 1228.16,420.85 1228.24,420.22 1228.31,419.59 1228.39,419.00 1228.46,418.45 1228.54,417.97 1228.62,417.58 1228.69,417.29 1228.77,417.10 1228.84,417.04 1228.92,417.09 1228.99,417.26 1229.07,417.54 1229.15,417.92 1229.22,418.40 1229.30,418.94 1229.37,419.54 1229.45,420.17 1229.52,420.81 1229.60,421.44 1229.68,422.04 1229.75,422.58 1229.83,423.04 1229.90,423.42 1229.98,423.69 1230.05,423.85 1230.13,423.89 1230.21,423.81 1230.28,423.61 1230.36,423.29 1230.43,422.88 1230.51,422.38 1230.58,421.82 1230.66,421.20 1230.73,420.56 1230.81,419.91 1230.89,419.28 1230.96,418.69 1231.04,418.16 1231.11,417.72 1231.19,417.37 1231.26,417.13 1231.34,417.00 1231.42,417.00 1231.49,417.12 1231.57,417.36 1231.64,417.71 1231.72,418.16 1231.79,418.69 1231.87,419.28 1231.95,419.91 1232.02,420.57 1232.10,421.22 1232.17,421.84 1232.25,422.42 1232.32,422.93 1232.40,423.34 1232.48,423.66 1232.55,423.86 1232.63,423.94 1232.70,423.89 1232.78,423.72 1232.85,423.44 1232.93,423.04 1233.01,422.56 1233.08,421.99 1233.16,421.37 1233.23,420.72 1233.31,420.06 1233.38,419.40 1233.46,418.79 1233.54,418.24 1233.61,417.76 1233.69,417.38 1233.76,417.11 1233.84,416.96 1233.91,416.94 1233.99,417.04 1234.06,417.27 1234.14,417.61 1234.22,418.06 1234.29,418.59 1234.37,419.19 1234.44,419.83 1234.52,420.50 1234.59,421.17 1234.67,421.82 1234.75,422.41 1234.82,422.93 1234.90,423.37 1234.97,423.69 1235.05,423.91 1235.12,423.99 1235.20,423.95 1235.28,423.78 1235.35,423.48 1235.43,423.08 1235.50,422.58 1235.58,422.00 1235.65,421.37 1235.73,420.70 1235.81,420.02 1235.88,419.35 1235.96,418.73 1236.03,418.16 1236.11,417.68 1236.18,417.31 1236.26,417.04 1236.34,416.90 1236.41,416.89 1236.49,417.01 1236.56,417.26 1236.64,417.63 1236.71,418.10 1236.79,418.66 1236.87,419.28 1236.94,419.95 1237.02,420.63 1237.09,421.32 1237.17,421.97 1237.24,422.56 1237.32,423.08 1237.40,423.50 1237.47,423.81 1237.55,423.99 1237.62,424.05 1237.70,423.97 1237.77,423.76 1237.85,423.42 1237.92,422.98 1238.00,422.44 1238.08,421.83 1238.15,421.16 1238.23,420.47 1238.30,419.78 1238.38,419.11 1238.45,418.49 1238.53,417.94 1238.61,417.49 1238.68,417.14 1238.76,416.92 1238.83,416.83 1238.91,416.87 1238.98,417.05 1239.06,417.36 1239.14,417.78 1239.21,418.30 1239.29,418.91 1239.36,419.57 1239.44,420.27 1239.51,420.97 1239.59,421.66 1239.67,422.30 1239.74,422.87 1239.82,423.35 1239.89,423.72 1239.97,423.97 1240.04,424.09 1240.12,424.07 1240.20,423.92 1240.27,423.63 1240.35,423.22 1240.42,422.71 1240.50,422.11 1240.57,421.45 1240.65,420.74 1240.73,420.03 1240.80,419.33 1240.88,418.68 1240.95,418.09 1241.03,417.58 1241.10,417.19 1241.18,416.92 1241.25,416.79 1241.33,416.79 1241.41,416.93 1241.48,417.21 1241.56,417.61 1241.63,418.12 1241.71,418.72 1241.78,419.38 1241.86,420.09 1241.94,420.81 1242.01,421.52 1242.09,422.19 1242.16,422.80 1242.24,423.31 1242.31,423.71 1242.39,423.99 1242.47,424.14 1242.54,424.14 1242.62,424.00 1242.69,423.73 1242.77,423.33 1242.84,422.81 1242.92,422.21 1243.00,421.53 1243.07,420.82 1243.15,420.09 1243.22,419.37 1243.30,418.69 1243.37,418.08 1243.45,417.56 1243.53,417.15 1243.60,416.87 1243.68,416.73 1243.75,416.73 1243.83,416.88 1243.90,417.16 1243.98,417.57 1244.06,418.10 1244.13,418.71 1244.21,419.40 1244.28,420.12 1244.36,420.86 1244.43,421.59 1244.51,422.27 1244.58,422.88 1244.66,423.40 1244.74,423.80 1244.81,424.07 1244.89,424.21 1244.96,424.19 1245.04,424.03 1245.11,423.73 1245.19,423.30 1245.27,422.75 1245.34,422.12 1245.42,421.42 1245.49,420.68 1245.57,419.93 1245.64,419.20 1245.72,418.52 1245.80,417.91 1245.87,417.40 1245.95,417.02 1246.02,416.76 1246.10,416.66 1246.17,416.70 1246.25,416.89 1246.33,417.22 1246.40,417.68 1246.48,418.25 1246.55,418.91 1246.63,419.63 1246.70,420.38 1246.78,421.14 1246.86,421.87 1246.93,422.54 1247.01,423.14 1247.08,423.62 1247.16,423.98 1247.23,424.21 1247.31,424.28 1247.39,424.20 1247.46,423.97 1247.54,423.60 1247.61,423.10 1247.69,422.50 1247.76,421.81 1247.84,421.07 1247.92,420.30 1247.99,419.54 1248.07,418.81 1248.14,418.15 1248.22,417.58 1248.29,417.13 1248.37,416.80 1248.44,416.62 1248.52,416.60 1248.60,416.73 1248.67,417.01 1248.75,417.43 1248.82,417.97 1248.90,418.62 1248.97,419.33 1249.05,420.10 1249.13,420.88 1249.20,421.64 1249.28,422.35 1249.35,422.99 1249.43,423.53 1249.50,423.94 1249.58,424.22 1249.66,424.34 1249.73,424.30 1249.81,424.10 1249.88,423.76 1249.96,423.28 1250.03,422.69 1250.11,422.00 1250.19,421.25 1250.26,420.47 1250.34,419.68 1250.41,418.93 1250.49,418.23 1250.56,417.63 1250.64,417.14 1250.72,416.79 1250.79,416.59 1250.87,416.54 1250.94,416.65 1251.02,416.92 1251.09,417.34 1251.17,417.88 1251.25,418.53 1251.32,419.26 1251.40,420.04 1251.47,420.84 1251.55,421.62 1251.62,422.35 1251.70,423.01 1251.77,423.56 1251.85,423.98 1251.93,424.26 1252.00,424.38 1252.08,424.34 1252.15,424.13 1252.23,423.78 1252.30,423.28 1252.38,422.67 1252.46,421.97 1252.53,421.20 1252.61,420.40 1252.68,419.60 1252.76,418.83 1252.83,418.14 1252.91,417.53 1252.99,417.05 1253.06,416.71 1253.14,416.53 1253.21,416.51 1253.29,416.65 1253.36,416.96 1253.44,417.41 1253.52,417.98 1253.59,418.66 1253.67,419.42 1253.74,420.22 1253.82,421.04 1253.89,421.82 1253.97,422.55 1254.05,423.20 1254.12,423.72 1254.20,424.12 1254.27,424.35 1254.35,424.42 1254.42,424.33 1254.50,424.07 1254.58,423.66 1254.65,423.11 1254.73,422.45 1254.80,421.70 1254.88,420.90 1254.95,420.08 1255.03,419.27 1255.10,418.52 1255.18,417.84 1255.26,417.28 1255.33,416.85 1255.41,416.57 1255.48,416.46 1255.56,416.51 1255.63,416.74 1255.71,417.12 1255.79,417.65 1255.86,418.30 1255.94,419.04 1256.01,419.84 1256.09,420.66 1256.16,421.48 1256.24,422.26 1256.32,422.96 1256.39,423.55 1256.47,424.01 1256.54,424.32 1256.62,424.46 1256.69,424.43 1256.77,424.22 1256.85,423.86 1256.92,423.35 1257.00,422.71 1257.07,421.97 1257.15,421.17 1257.22,420.33 1257.30,419.50 1257.38,418.71 1257.45,418.00 1257.53,417.39 1257.60,416.91 1257.68,416.58 1257.75,416.43 1257.83,416.44 1257.91,416.64 1257.98,416.99 1258.06,417.50 1258.13,418.14 1258.21,418.88 1258.28,419.69 1258.36,420.53 1258.44,421.37 1258.51,422.17 1258.59,422.90 1258.66,423.52 1258.74,424.00 1258.81,424.33 1258.89,424.49 1258.96,424.48 1259.04,424.28 1259.12,423.92 1259.19,423.40 1259.27,422.76 1259.34,422.01 1259.42,421.19 1259.49,420.34 1259.57,419.49 1259.65,418.68 1259.72,417.95 1259.80,417.34 1259.87,416.85 1259.95,416.53 1260.02,416.38 1260.10,416.41 1260.18,416.62 1260.25,417.00 1260.33,417.53 1260.40,418.20 1260.48,418.96 1260.55,419.79 1260.63,420.66 1260.71,421.51 1260.78,422.32 1260.86,423.04 1260.93,423.65 1261.01,424.12 1261.08,424.42 1261.16,424.55 1261.24,424.49 1261.31,424.25 1261.39,423.84 1261.46,423.28 1261.54,422.59 1261.61,421.80 1261.69,420.95 1261.77,420.08 1261.84,419.22 1261.92,418.42 1261.99,417.71 1262.07,417.12 1262.14,416.68 1262.22,416.41 1262.29,416.32 1262.37,416.43 1262.45,416.71 1262.52,417.16 1262.60,417.76 1262.67,418.49 1262.75,419.31 1262.82,420.17 1262.90,421.06 1262.98,421.91 1263.05,422.70 1263.13,423.39 1263.20,423.94 1263.28,424.34 1263.35,424.56 1263.43,424.59 1263.51,424.43 1263.58,424.09 1263.66,423.58 1263.73,422.93 1263.81,422.16 1263.88,421.31 1263.96,420.42 1264.04,419.54 1264.11,418.69 1264.19,417.93 1264.26,417.28 1264.34,416.77 1264.41,416.44 1264.49,416.29 1264.57,416.33 1264.64,416.56 1264.72,416.97 1264.79,417.55 1264.87,418.26 1264.94,419.07 1265.02,419.95 1265.10,420.85 1265.17,421.74 1265.25,422.56 1265.32,423.29 1265.40,423.89 1265.47,424.32 1265.55,424.58 1265.62,424.64 1265.70,424.51 1265.78,424.19 1265.85,423.69 1265.93,423.04 1266.00,422.27 1266.08,421.41 1266.15,420.50 1266.23,419.60 1266.31,418.73 1266.38,417.94 1266.46,417.27 1266.53,416.74 1266.61,416.40 1266.68,416.24 1266.76,416.28 1266.84,416.52 1266.91,416.95 1266.99,417.54 1267.06,418.27 1267.14,419.10 1267.21,420.00 1267.29,420.92 1267.37,421.83 1267.44,422.66 1267.52,423.39 1267.59,423.99 1267.67,424.41 1267.74,424.65 1267.82,424.68 1267.90,424.52 1267.97,424.16 1268.05,423.62 1268.12,422.93 1268.20,422.12 1268.27,421.22 1268.35,420.30 1268.43,419.37 1268.50,418.50 1268.58,417.72 1268.65,417.07 1268.73,416.58 1268.80,416.28 1268.88,416.18 1268.96,416.29 1269.03,416.59 1269.11,417.09 1269.18,417.75 1269.26,418.53 1269.33,419.42 1269.41,420.35 1269.48,421.29 1269.56,422.19 1269.64,423.01 1269.71,423.70 1269.79,424.24 1269.86,424.59 1269.94,424.74 1270.01,424.68 1270.09,424.41 1270.17,423.95 1270.24,423.32 1270.32,422.55 1270.39,421.67 1270.47,420.73 1270.54,419.78 1270.62,418.86 1270.70,418.01 1270.77,417.29 1270.85,416.72 1270.92,416.33 1271.00,416.15 1271.07,416.17 1271.15,416.41 1271.23,416.85 1271.30,417.47 1271.38,418.24 1271.45,419.11 1271.53,420.06 1271.60,421.02 1271.68,421.96 1271.76,422.82 1271.83,423.57 1271.91,424.16 1271.98,424.57 1272.06,424.77 1272.13,424.76 1272.21,424.53 1272.29,424.10 1272.36,423.48 1272.44,422.72 1272.51,421.83 1272.59,420.88 1272.66,419.90 1272.74,418.95 1272.81,418.08 1272.89,417.32 1272.97,416.72 1273.04,416.31 1273.12,416.10 1273.19,416.11 1273.27,416.35 1273.34,416.79 1273.42,417.42 1273.50,418.20 1273.57,419.09 1273.65,420.06 1273.72,421.05 1273.80,422.01 1273.87,422.89 1273.95,423.64 1274.03,424.24 1274.10,424.64 1274.18,424.83 1274.25,424.80 1274.33,424.54 1274.40,424.08 1274.48,423.42 1274.56,422.62 1274.63,421.70 1274.71,420.72 1274.78,419.72 1274.86,418.76 1274.93,417.88 1275.01,417.14 1275.09,416.56 1275.16,416.19 1275.24,416.03 1275.31,416.10 1275.39,416.40 1275.46,416.91 1275.54,417.60 1275.62,418.44 1275.69,419.39 1275.77,420.39 1275.84,421.40 1275.92,422.36 1275.99,423.22 1276.07,423.93 1276.15,424.47 1276.22,424.80 1276.30,424.90 1276.37,424.77 1276.45,424.41 1276.52,423.85 1276.60,423.10 1276.67,422.22 1276.75,421.24 1276.83,420.22 1276.90,419.21 1276.98,418.26 1277.05,417.43 1277.13,416.75 1277.20,416.27 1277.28,416.01 1277.36,415.99 1277.43,416.20 1277.51,416.64 1277.58,417.28 1277.66,418.08 1277.73,419.02 1277.81,420.03 1277.89,421.07 1277.96,422.07 1278.04,422.99 1278.11,423.78 1278.19,424.39 1278.26,424.78 1278.34,424.95 1278.42,424.88 1278.49,424.57 1278.57,424.04 1278.64,423.31 1278.72,422.43 1278.79,421.44 1278.87,420.40 1278.95,419.36 1279.02,418.38 1279.10,417.50 1279.17,416.79 1279.25,416.27 1279.32,415.98 1279.40,415.92 1279.48,416.12 1279.55,416.55 1279.63,417.19 1279.70,418.01 1279.78,418.96 1279.85,420.00 1279.93,421.06 1280.00,422.09 1280.08,423.04 1280.16,423.84 1280.23,424.46 1280.31,424.85 1280.38,425.01 1280.46,424.92 1280.53,424.58 1280.61,424.02 1280.69,423.26 1280.76,422.34 1280.84,421.32 1280.91,420.24 1280.99,419.18 1281.06,418.19 1281.14,417.32 1281.22,416.62 1281.29,416.13 1281.37,415.88 1281.44,415.89 1281.52,416.15 1281.59,416.65 1281.67,417.36 1281.75,418.24 1281.82,419.25 1281.90,420.33 1281.97,421.41 1282.05,422.44 1282.12,423.37 1282.20,424.13 1282.28,424.68 1282.35,425.00 1282.43,425.07 1282.50,424.87 1282.58,424.43 1282.65,423.76 1282.73,422.90 1282.81,421.90 1282.88,420.82 1282.96,419.72 1283.03,418.65 1283.11,417.69 1283.18,416.88 1283.26,416.28 1283.33,415.91 1283.41,415.79 1283.49,415.95 1283.56,416.36 1283.64,417.00 1283.71,417.84 1283.79,418.83 1283.86,419.92 1283.94,421.04 1284.02,422.12 1284.09,423.12 1284.17,423.95 1284.24,424.59 1284.32,425.00 1284.39,425.14 1284.47,425.01 1284.55,424.62 1284.62,423.98 1284.70,423.14 1284.77,422.15 1284.85,421.05 1284.92,419.92 1285.00,418.81 1285.08,417.80 1285.15,416.95 1285.23,416.29 1285.30,415.88 1285.38,415.73 1285.45,415.86 1285.53,416.26 1285.61,416.90 1285.68,417.75 1285.76,418.76 1285.83,419.87 1285.91,421.02 1285.98,422.14 1286.06,423.16 1286.14,424.02 1286.21,424.67 1286.29,425.07 1286.36,425.20 1286.44,425.05 1286.51,424.63 1286.59,423.96 1286.67,423.08 1286.74,422.04 1286.82,420.90 1286.89,419.74 1286.97,418.62 1287.04,417.60 1287.12,416.76 1287.19,416.13 1287.27,415.76 1287.35,415.67 1287.42,415.87 1287.50,416.34 1287.57,417.06 1287.65,417.99 1287.72,419.06 1287.80,420.22 1287.88,421.40 1287.95,422.52 1288.03,423.52 1288.10,424.33 1288.18,424.91 1288.25,425.22 1288.33,425.24 1288.41,424.97 1288.48,424.43 1288.56,423.64 1288.63,422.65 1288.71,421.53 1288.78,420.34 1288.86,419.16 1288.94,418.05 1289.01,417.09 1289.09,416.34 1289.16,415.83 1289.24,415.61 1289.31,415.68 1289.39,416.05 1289.47,416.69 1289.54,417.57 1289.62,418.62 1289.69,419.79 1289.77,421.00 1289.84,422.18 1289.92,423.25 1290.00,424.16 1290.07,424.83 1290.15,425.23 1290.22,425.33 1290.30,425.13 1290.37,424.64 1290.45,423.88 1290.52,422.91 1290.60,421.78 1290.68,420.57 1290.75,419.34 1290.83,418.19 1290.90,417.17 1290.98,416.36 1291.05,415.81 1291.13,415.55 1291.21,415.59 1291.28,415.95 1291.36,416.59 1291.43,417.48 1291.51,418.56 1291.58,419.76 1291.66,421.00 1291.74,422.22 1291.81,423.32 1291.89,424.24 1291.96,424.92 1292.04,425.32 1292.11,425.40 1292.19,425.17 1292.27,424.63 1292.34,423.82 1292.42,422.80 1292.49,421.62 1292.57,420.36 1292.64,419.11 1292.72,417.94 1292.80,416.94 1292.87,416.15 1292.95,415.65 1293.02,415.46 1293.10,415.59 1293.17,416.03 1293.25,416.77 1293.33,417.75 1293.40,418.91 1293.48,420.16 1293.55,421.44 1293.63,422.66 1293.70,423.74 1293.78,424.60 1293.85,425.19 1293.93,425.46 1294.01,425.41 1294.08,425.03 1294.16,424.35 1294.23,423.41 1294.31,422.27 1294.38,421.00 1294.46,419.70 1294.54,418.45 1294.61,417.32 1294.69,416.41 1294.76,415.76 1294.84,415.42 1294.91,415.42 1294.99,415.76 1295.07,416.41 1295.14,417.33 1295.22,418.47 1295.29,419.74 1295.37,421.06 1295.44,422.34 1295.52,423.50 1295.60,424.45 1295.67,425.14 1295.75,425.50 1295.82,425.53 1295.90,425.21 1295.97,424.57 1296.05,423.64 1296.13,422.50 1296.20,421.21 1296.28,419.87 1296.35,418.56 1296.43,417.39 1296.50,416.42 1296.58,415.73 1296.66,415.36 1296.73,415.34 1296.81,415.67 1296.88,416.33 1296.96,417.28 1297.03,418.45 1297.11,419.76 1297.19,421.12 1297.26,422.44 1297.34,423.62 1297.41,424.59 1297.49,425.26 1297.56,425.60 1297.64,425.59 1297.71,425.21 1297.79,424.50 1297.87,423.50 1297.94,422.29 1298.02,420.94 1298.09,419.56 1298.17,418.24 1298.24,417.07 1298.32,416.14 1298.40,415.51 1298.47,415.23 1298.55,415.32 1298.62,415.78 1298.70,416.57 1298.77,417.63 1298.85,418.90 1298.93,420.29 1299.00,421.69 1299.08,423.00 1299.15,424.13 1299.23,425.00 1299.30,425.55 1299.38,425.72 1299.46,425.52 1299.53,424.96 1299.61,424.06 1299.68,422.90 1299.76,421.57 1299.83,420.14 1299.91,418.74 1299.99,417.46 1300.06,416.39 1300.14,415.62 1300.21,415.20 1300.29,415.16 1300.36,415.51 1300.44,416.23 1300.52,417.25 1300.59,418.51 1300.67,419.92 1300.74,421.37 1300.82,422.75 1300.89,423.97 1300.97,424.93 1301.04,425.56 1301.12,425.81 1301.20,425.66 1301.27,425.13 1301.35,424.24 1301.42,423.07 1301.50,421.70 1301.57,420.24 1301.65,418.79 1301.73,417.45 1301.80,416.35 1301.88,415.54 1301.95,415.11 1302.03,415.08 1302.10,415.45 1302.18,416.21 1302.26,417.28 1302.33,418.60 1302.41,420.07 1302.48,421.56 1302.56,422.98 1302.63,424.20 1302.71,425.14 1302.79,425.72 1302.86,425.90 1302.94,425.66 1303.01,425.02 1303.09,424.03 1303.16,422.76 1303.24,421.31 1303.32,419.78 1303.39,418.31 1303.47,417.00 1303.54,415.95 1303.62,415.25 1303.69,414.96 1303.77,415.09 1303.85,415.64 1303.92,416.57 1304.00,417.81 1304.07,419.25 1304.15,420.80 1304.22,422.31 1304.30,423.69 1304.38,424.81 1304.45,425.59 1304.53,425.97 1304.60,425.91 1304.68,425.41 1304.75,424.52 1304.83,423.30 1304.90,421.86 1304.98,420.29 1305.06,418.74 1305.13,417.32 1305.21,416.14 1305.28,415.31 1305.36,414.90 1305.43,414.92 1305.51,415.40 1305.59,416.28 1305.66,417.51 1305.74,418.97 1305.81,420.56 1305.89,422.15 1305.96,423.60 1306.04,424.79 1306.12,425.64 1306.19,426.06 1306.27,426.02 1306.34,425.52 1306.42,424.61 1306.49,423.35 1306.57,421.85 1306.65,420.23 1306.72,418.62 1306.80,417.16 1306.87,415.97 1306.95,415.15 1307.02,414.77 1307.10,414.86 1307.18,415.42 1307.25,416.40 1307.33,417.73 1307.40,419.28 1307.48,420.94 1307.55,422.56 1307.63,424.00 1307.71,425.15 1307.78,425.91 1307.86,426.20 1307.93,426.01 1308.01,425.34 1308.08,424.25 1308.16,422.84 1308.23,421.22 1308.31,419.53 1308.39,417.91 1308.46,416.51 1308.54,415.44 1308.61,414.80 1308.69,414.65 1308.76,415.00 1308.84,415.82 1308.92,417.05 1308.99,418.58 1309.07,420.27 1309.14,421.98 1309.22,423.56 1309.29,424.88 1309.37,425.81 1309.45,426.27 1309.52,426.22 1309.60,425.66 1309.67,424.64 1309.75,423.25 1309.82,421.61 1309.90,419.85 1309.98,418.15 1310.05,416.65 1310.13,415.48 1310.20,414.76 1310.28,414.54 1310.35,414.85 1310.43,415.67 1310.51,416.91 1310.58,418.48 1310.66,420.23 1310.73,422.01 1310.81,423.65 1310.88,425.00 1310.96,425.94 1311.04,426.38 1311.11,426.28 1311.19,425.65 1311.26,424.54 1311.34,423.05 1311.41,421.33 1311.49,419.51 1311.56,417.78 1311.64,416.29 1311.72,415.18 1311.79,414.56 1311.87,414.49 1311.94,414.97 1312.02,415.96 1312.09,417.37 1312.17,419.08 1312.25,420.92 1312.32,422.72 1312.40,424.31 1312.47,425.54 1312.55,426.29 1312.62,426.49 1312.70,426.12 1312.78,425.21 1312.85,423.84 1312.93,422.15 1313.00,420.29 1313.08,418.44 1313.15,416.78 1313.23,415.47 1313.31,414.63 1313.38,414.36 1313.46,414.67 1313.53,415.55 1313.61,416.90 1313.68,418.60 1313.76,420.49 1313.84,422.37 1313.91,424.08 1313.99,425.43 1314.06,426.30 1314.14,426.59 1314.21,426.28 1314.29,425.39 1314.37,424.01 1314.44,422.27 1314.52,420.35 1314.59,418.43 1314.67,416.71 1314.74,415.36 1314.82,414.52 1314.90,414.27 1314.97,414.64 1315.05,415.60 1315.12,417.05 1315.20,418.85 1315.27,420.82 1315.35,422.75 1315.42,424.46 1315.50,425.76 1315.58,426.52 1315.65,426.66 1315.73,426.16 1315.80,425.08 1315.88,423.51 1315.95,421.62 1316.03,419.61 1316.11,417.67 1316.18,416.03 1316.26,414.83 1316.33,414.23 1316.41,414.27 1316.48,414.96 1316.56,416.23 1316.64,417.95 1316.71,419.94 1316.79,421.99 1316.86,423.88 1316.94,425.41 1317.01,426.42 1317.09,426.79 1317.17,426.48 1317.24,425.53 1317.32,424.02 1317.39,422.13 1317.47,420.05 1317.54,418.01 1317.62,416.22 1317.70,414.90 1317.77,414.17 1317.85,414.13 1317.92,414.78 1318.00,416.05 1318.07,417.81 1318.15,419.87 1318.23,422.00 1318.30,423.97 1318.38,425.54 1318.45,426.56 1318.53,426.90 1318.60,426.51 1318.68,425.45 1318.75,423.82 1318.83,421.81 1318.91,419.63 1318.98,417.54 1319.06,415.78 1319.13,414.54 1319.21,413.97 1319.28,414.14 1319.36,415.04 1319.44,416.56 1319.51,418.53 1319.59,420.73 1319.66,422.90 1319.74,424.80 1319.81,426.19 1319.89,426.93 1319.97,426.90 1320.04,426.12 1320.12,424.68 1320.19,422.73 1320.27,420.50 1320.34,418.26 1320.42,416.28 1320.50,414.78 1320.57,413.96 1320.65,413.90 1320.72,414.64 1320.80,416.07 1320.87,418.04 1320.95,420.31 1321.03,422.60 1321.10,424.63 1321.18,426.17 1321.25,427.01 1321.33,427.05 1321.40,426.28 1321.48,424.79 1321.56,422.76 1321.63,420.44 1321.71,418.11 1321.78,416.06 1321.86,414.56 1321.93,413.78 1322.01,413.84 1322.08,414.74 1322.16,416.35 1322.24,418.49 1322.31,420.89 1322.39,423.24 1322.46,425.24 1322.54,426.64 1322.61,427.24 1322.69,426.98 1322.77,425.87 1322.84,424.06 1322.92,421.77 1322.99,419.30 1323.07,416.97 1323.14,415.09 1323.22,413.91 1323.30,413.58 1323.37,414.16 1323.45,415.58 1323.52,417.64 1323.60,420.09 1323.67,422.60 1323.75,424.83 1323.83,426.48 1323.90,427.32 1323.98,427.23 1324.05,426.23 1324.13,424.43 1324.20,422.08 1324.28,419.50 1324.36,417.04 1324.43,415.04 1324.51,413.78 1324.58,413.44 1324.66,414.07 1324.73,415.60 1324.81,417.81 1324.89,420.40 1324.96,423.01 1325.04,425.26 1325.11,426.85 1325.19,427.53 1325.26,427.20 1325.34,425.90 1325.42,423.82 1325.49,421.24 1325.57,418.54 1325.64,416.10 1325.72,414.28 1325.79,413.36 1325.87,413.48 1325.94,414.62 1326.02,416.62 1326.10,419.21 1326.17,421.98 1326.25,424.55 1326.32,426.51 1326.40,427.56 1326.47,427.56 1326.55,426.47 1326.63,424.47 1326.70,421.85 1326.78,419.00 1326.85,416.36 1326.93,414.34 1327.00,413.25 1327.08,413.28 1327.16,414.42 1327.23,416.51 1327.31,419.23 1327.38,422.15 1327.46,424.82 1327.53,426.81 1327.61,427.79 1327.69,427.61 1327.76,426.28 1327.84,424.00 1327.91,421.13 1327.99,418.15 1328.06,415.52 1328.14,413.69 1328.22,412.95 1328.29,413.45 1328.37,415.11 1328.44,417.67 1328.52,420.70 1328.59,423.71 1328.67,426.18 1328.75,427.70 1328.82,428.00 1328.90,427.01 1328.97,424.89 1329.05,422.01 1329.12,418.83 1329.20,415.92 1329.27,413.79 1329.35,412.80 1329.43,413.15 1329.50,414.79 1329.58,417.44 1329.65,420.64 1329.73,423.82 1329.80,426.42 1329.88,427.95 1329.96,428.14 1330.03,426.93 1330.11,424.53 1330.18,421.37 1330.26,418.02 1330.33,415.11 1330.41,413.17 1330.49,412.58 1330.56,413.46 1330.64,415.67 1330.71,418.80 1330.79,422.25 1330.86,425.38 1330.94,427.59 1331.02,428.42 1331.09,427.71 1331.17,425.59 1331.24,422.44 1331.32,418.88 1331.39,415.61 1331.47,413.29 1331.55,412.38 1331.62,413.09 1331.70,415.30 1331.77,418.56 1331.85,422.23 1331.92,425.56 1332.00,427.85 1332.08,428.62 1332.15,427.69 1332.23,425.24 1332.30,421.76 1332.38,417.98 1332.45,414.70 1332.53,412.63 1332.60,412.24 1332.68,413.63 1332.76,416.51 1332.83,420.28 1332.91,424.11 1332.98,427.16 1333.06,428.72 1333.13,428.44 1333.21,426.35 1333.29,422.90 1333.36,418.86 1333.44,415.16 1333.51,412.66 1333.59,411.96 1333.66,413.25 1333.74,416.25 1333.82,420.27 1333.89,424.36 1333.97,427.54 1334.04,429.03 1334.12,428.43 1334.19,425.87 1334.27,421.95 1334.35,417.62 1334.42,413.96 1334.50,411.92 1334.57,412.03 1334.65,414.30 1334.72,418.18 1334.80,422.68 1334.88,426.63 1334.95,428.99 1335.03,429.10 1335.10,426.89 1335.18,422.92 1335.25,418.25 1335.33,414.13 1335.41,411.73 1335.48,411.73 1335.56,414.18 1335.63,418.43 1335.71,423.30 1335.78,427.39 1335.86,429.51 1335.94,429.00 1336.01,425.96 1336.09,421.24 1336.16,416.24 1336.24,412.47 1336.31,411.10 1336.39,412.60 1336.46,416.56 1336.54,421.79 1336.62,426.66 1336.69,429.58 1336.77,429.58 1336.84,426.60 1336.92,421.55 1336.99,416.07 1337.07,412.01 1337.15,410.77 1337.22,412.85 1337.30,417.60 1337.37,423.41 1337.45,428.25 1337.52,430.34 1337.60,428.86 1337.68,424.27 1337.75,418.19 1337.83,412.88 1337.90,410.39 1337.98,411.74 1338.05,416.52 1338.13,422.93 1338.21,428.42 1338.28,430.74 1338.36,428.86 1338.43,423.45 1338.51,416.69 1338.58,411.46 1338.66,410.07 1338.74,413.24 1338.81,419.69 1338.89,426.58 1338.96,430.74 1339.04,430.12 1339.11,424.87 1339.19,417.39 1339.27,411.30 1339.34,409.71 1339.42,413.59 1339.49,421.12 1339.57,428.42 1339.64,431.54 1339.72,428.59 1339.79,420.99 1339.87,412.93 1339.95,409.14 1340.02,412.07 1340.10,420.23 1340.17,428.70 1340.25,432.04 1340.32,427.78 1340.40,418.43 1340.48,410.26 1340.55,409.20 1340.63,416.44 1340.70,426.93 1340.78,432.63 1340.85,428.58 1340.93,417.56 1341.01,408.70 1341.08,410.20 1341.16,421.44 1341.23,432.13 1341.31,431.19 1341.38,418.58 1341.46,407.55 1341.54,411.53 1341.61,427.12 1341.69,434.24 1341.76,421.65 1341.84,406.96 1341.91,414.80 1341.99,433.23 1342.07,425.32 1342.14,406.27 1342.22,423.01 1342.29,433.44 1342.37,410.89 1342.44,409.22 1342.52,419.10 1342.60,427.80 1342.67,429.39 1342.75,424.27 1342.82,417.54 1342.90,414.34 1342.97,416.18 1343.05,420.66 1343.12,424.02 1343.20,424.11 1343.28,421.58 1343.35,418.79 1343.43,417.79 1343.50,418.90 1343.58,420.87 1343.65,422.12 1343.73,421.91 1343.81,420.71 1343.88,419.58 1343.96,419.32 1344.03,419.92 1344.11,420.76 1344.18,421.20 1344.26,421.01 1344.34,420.46 1344.41,420.02 1344.49,419.98 1344.56,420.28 1344.64,420.64 1344.71,420.78 1344.79,420.66 1344.87,420.41 1344.94,420.25 1345.02,420.26 1345.09,420.41 1345.17,420.55 1345.24,420.59 1345.32,420.52 1345.40,420.42 1345.47,420.36 1345.55,420.38 1345.62,420.44 1345.70,420.50 1345.77,420.51 1345.85,420.47 1345.93,420.43 1346.00,420.41 1346.08,420.42 1346.15,420.45 1346.23,420.47 1346.30,420.47 1346.38,420.46 1346.46,420.44 1346.53,420.43 1346.61,420.44 1346.68,420.45 1346.76,420.46 1346.83,420.46 1346.91,420.45 1346.98,420.44 1347.06,420.44 1347.14,420.45 1347.21,420.45 1347.29,420.46 1347.36,420.45 1347.44,420.45 1347.51,420.45 1347.59,420.45 1347.67,420.45 1347.74,420.45 1347.82,420.45 1347.89,420.45 1347.97,420.45 1348.04,420.45 1348.12,420.45 1348.20,420.45 1348.27,420.45 1348.35,420.45 1348.42,420.45 1348.50,420.45 1348.57,420.45 1348.65,420.45 1348.73,420.45 1348.80,420.45 1348.88,420.45 1348.95,420.45 1349.03,420.45 1349.10,420.45 1349.18,420.45 1349.26,420.45 1349.33,420.45 1349.41,420.45 1349.48,420.45 1349.56,420.45 1349.63,420.45 1349.71,420.45 1349.79,420.45 1349.86,420.45 1349.94,420.45 1350.01,420.45 1350.09,420.45 1439.92,420.45" stroke="#DD8452" stroke-width="2.2"/>
</g>
<path d="M200.0 684.5H1440.0M200.0 628.5H1440.0M200.0 572.5H1440.0M200.0 516.5H1440.0M200.0 460.5H1440.0M200.0 404.5H1440.0M200.0 348.5H1440.0M200.0 292.5H1440.0M200.0 236.5H1440.0M200.0 180.5H1440.0M200.0 124.5H1440.0" stroke="#fff" stroke-width="1.389" fill="none"/>
<g clip-path="url(#ax)" fill="none">
<path d="M200.0 180H1440.0" stroke="#C44E52" stroke-width="2.083"/>
<path d="M200 124V684M258 124V684" stroke="#000" stroke-width="2.083"/>
<polyline points="200.00,180.00 209.69,127.36 219.38,124.00 229.06,124.00 238.75,124.00 248.44,124.00 258.12,124.00 267.81,265.12 277.50,684.00 287.19,684.00 296.88,684.00 306.56,684.00 316.25,684.00 325.94,684.00 335.62,684.00 345.31,684.00 355.00,684.00 364.69,684.00 374.38,684.00 384.06,684.00 393.75,684.00 403.44,684.00 413.12,684.00 422.81,684.00 432.50,684.00 442.19,684.00 451.88,684.00 461.56,684.00 471.25,684.00 480.94,684.00 490.62,684.00 500.31,684.00 510.00,684.00 519.69,684.00 529.38,684.00 539.06,684.00 548.75,683.44 558.44,682.49 568.12,664.40 577.81,633.77 587.50,683.44 597.19,684.00 606.88,684.00 616.56,684.00 626.25,684.00 635.94,684.00 645.62,684.00 655.31,684.00 665.00,684.00 674.69,684.00 684.38,684.00 694.06,684.00 703.75,684.00 713.44,684.00 723.12,684.00 732.81,684.00 742.50,684.00 752.19,684.00 761.88,684.00 771.56,684.00 781.25,684.00 790.94,684.00 800.62,684.00 810.31,684.00 820.00,684.00 829.69,684.00 839.38,684.00 849.06,684.00 858.75,684.00 868.44,684.00 878.12,684.00 887.81,684.00 897.50,684.00 907.19,684.00 916.88,684.00 926.56,684.00 936.25,684.00 945.94,684.00 955.62,684.00 965.31,684.00 975.00,684.00 984.69,684.00 994.38,684.00 1004.06,684.00 1013.75,684.00 1023.44,684.00 1033.12,684.00 1042.81,684.00 1052.50,684.00 1062.19,684.00 1071.88,684.00 1081.56,684.00 1091.25,684.00 1100.94,684.00 1110.62,684.00 1120.31,684.00 1130.00,684.00 1139.69,684.00 1149.38,684.00 1159.06,684.00 1168.75,684.00 1178.44,684.00 1188.12,684.00 1197.81,684.00 1207.50,684.00 1217.19,684.00 1226.88,684.00 1236.56,684.00 1246.25,684.00 1255.94,684.00 1265.62,684.00 1275.31,684.00 1285.00,684.00 1294.69,684.00 1304.38,684.00 1314.06,684.00 1323.75,684.00 1333.44,684.00 1343.12,684.00 1352.81,684.00 1362.50,684.00 1372.19,684.00 1381.88,684.00 1391.56,684.00 1401.25,684.00 1410.94,684.00 1420.62,684.00 1430.31,684.00" stroke="#55A868" stroke-width="2.083" stroke-linejoin="round" stroke-linecap="round"/>
</g>
<path d="M200.33 95V713M1439.87 95V713M199 96.13H1441M199 711.87H1441" stroke="#fff" stroke-width="1.736" fill="none"/>
<rect x="200" y="124" width="1" height="560" fill="#E0E0E0"/>
<path d="M192 687h7M192 658h7M192 628h7M192 598h7M192 569h7M192 539h7M192 509h7M192 480h7M192 450h7M192 420h7M192 391h7M192 361h7M192 332h7M192 302h7M192 272h7M192 243h7M192 213h7M192 183h7M192 154h7M192 124h7M1440.9 684H1448M1440.9 628H1448M1440.9 572H1448M1440.9 516H1448M1440.9 460H1448M1440.9 404H1448M1440.9 348H1448M1440.9 292H1448M1440.9 236H1448M1440.9 180H1448M1440.9 124H1448" stroke="#262626" stroke-opacity="0.87" stroke-width="2" fill="none"/>
<g font-size="15.28"><text x="186.8" y="692.9" text-anchor="end">−0.9</text><text x="186.8" y="663.2" text-anchor="end">−0.8</text><text x="186.8" y="633.6" text-anchor="end">−0.7</text><text x="186.8" y="603.9" text-anchor="end">−0.6</text><text x="186.8" y="574.3" text-anchor="end">−0.5</text><text x="186.8" y="544.6" text-anchor="end">−0.4</text><text x="186.8" y="515.0" text-anchor="end">−0.3</text><text x="186.8" y="485.3" text-anchor="end">−0.2</text><text x="186.8" y="455.7" text-anchor="end">−0.1</text><text x="186.8" y="426.1" text-anchor="end">0.0</text><text x="186.8" y="396.4" text-anchor="end">0.1</text><text x="186.8" y="366.8" text-anchor="end">0.2</text><text x="186.8" y="337.1" text-anchor="end">0.3</text><text x="186.8" y="307.5" text-anchor="end">0.4</text><text x="186.8" y="277.8" text-anchor="end">0.5</text><text x="186.8" y="248.2" text-anchor="end">0.6</text><text x="186.8" y="218.5" text-anchor="end">0.7</text><text x="186.8" y="188.9" text-anchor="end">0.8</text><text x="186.8" y="159.2" text-anchor="end">0.9</text><text x="186.8" y="129.6" text-anchor="end">1.0</text><text x="1453.2" y="689.6">0.0</text><text x="1453.2" y="633.6">0.1</text><text x="1453.2" y="577.6">0.2</text><text x="1453.2" y="521.6">0.3</text><text x="1453.2" y="465.6">0.4</text><text x="1453.2" y="409.6">0.5</text><text x="1453.2" y="353.6">0.6</text><text x="1453.2" y="297.6">0.7</text><text x="1453.2" y="241.6">0.8</text><text x="1453.2" y="185.6">0.9</text><text x="1453.2" y="129.6">1.0</text><text x="200.0" y="736.6" text-anchor="middle">0.0</text><text x="215.5" y="736.6" text-anchor="middle">0.1</text><text x="231.0" y="736.6" text-anchor="middle">0.2</text><text x="246.5" y="736.6" text-anchor="middle">0.3</text><text x="262.0" y="736.6" text-anchor="middle">0.4</text><text x="277.5" y="736.6" text-anchor="middle">0.5</text><text x="293.0" y="736.6" text-anchor="middle">0.6</text><text x="308.5" y="736.6" text-anchor="middle">0.7</text><text x="324.0" y="736.6" text-anchor="middle">0.8</text><text x="339.5" y="736.6" text-anchor="middle">0.9</text><text x="355.0" y="736.6" text-anchor="middle">1.0</text><text x="370.5" y="736.6" text-anchor="middle">1.1</text><text x="386.0" y="736.6" text-anchor="middle">1.2</text><text x="401.5" y="736.6" text-anchor="middle">1.3</text><text x="417.0" y="736.6" text-anchor="middle">1.4</text><text x="432.5" y="736.6" text-anchor="middle">1.5</text><text x="448.0" y="736.6" text-anchor="middle">1.6</text><text x="463.5" y="736.6" text-anchor="middle">1.7</text><text x="479.0" y="736.6" text-anchor="middle">1.8</text><text x="494.5" y="736.6" text-anchor="middle">1.9</text><text x="510.0" y="736.6" text-anchor="middle">2.0</text><text x="525.5" y="736.6" text-anchor="middle">2.1</text><text x="541.0" y="736.6" text-anchor="middle">2.2</text><text x="556.5" y="736.6" text-anchor="middle">2.3</text><text x="572.0" y="736.6" text-anchor="middle">2.4</text><text x="587.5" y="736.6" text-anchor="middle">2.5</text><text x="603.0" y="736.6" text-anchor="middle">2.6</text><text x="618.5" y="736.6" text-anchor="middle">2.7</text><text x="634.0" y="736.6" text-anchor="middle">2.8</text><text x="649.5" y="736.6" text-anchor="middle">2.9</text><text x="665.0" y="736.6" text-anchor="middle">3.0</text><text x="680.5" y="736.6" text-anchor="middle">3.1</text><text x="696.0" y="736.6" text-anchor="middle">3.2</text><text x="711.5" y="736.6" text-anchor="middle">3.3</text><text x="727.0" y="736.6" text-anchor="middle">3.4</text><text x="742.5" y="736.6" text-anchor="middle">3.5</text><text x="758.0" y="736.6" text-anchor="middle">3.6</text><text x="773.5" y="736.6" text-anchor="middle">3.7</text><text x="789.0" y="736.6" text-anchor="middle">3.8</text><text x="804.5" y="736.6" text-anchor="middle">3.9</text><text x="820.0" y="736.6" text-anchor="middle">4.0</text><text x="835.5" y="736.6" text-anchor="middle">4.1</text><text x="851.0" y="736.6" text-anchor="middle">4.2</text><text x="866.5" y="736.6" text-anchor="middle">4.3</text><text x="882.0" y="736.6" text-anchor="middle">4.4</text><text x="897.5" y="736.6" text-anchor="middle">4.5</text><text x="913.0" y="736.6" text-anchor="middle">4.6</text><text x="928.5" y="736.6" text-anchor="middle">4.7</text><text x="944.0" y="736.6" text-anchor="middle">4.8</text><text x="959.5" y="736.6" text-anchor="middle">4.9</text><text x="975.0" y="736.6" text-anchor="middle">5.0</text><text x="990.5" y="736.6" text-anchor="middle">5.1</text><text x="1006.0" y="736.6" text-anchor="middle">5.2</text><text x="1021.5" y="736.6" text-anchor="middle">5.3</text><text x="1037.0" y="736.6" text-anchor="middle">5.4</text><text x="1052.5" y="736.6" text-anchor="middle">5.5</text><text x="1068.0" y="736.6" text-anchor="middle">5.6</text><text x="1083.5" y="736.6" text-anchor="middle">5.7</text><text x="1099.0" y="736.6" text-anchor="middle">5.8</text><text x="1114.5" y="736.6" text-anchor="middle">5.9</text><text x="1130.0" y="736.6" text-anchor="middle">6.0</text><text x="1145.5" y="736.6" text-anchor="middle">6.1</text><text x="1161.0" y="736.6" text-anchor="middle">6.2</text><text x="1176.5" y="736.6" text-anchor="middle">6.3</text><text x="1192.0" y="736.6" text-anchor="middle">6.4</text><text x="1207.5" y="736.6" text-anchor="middle">6.5</text><text x="1223.0" y="736.6" text-anchor="middle">6.6</text><text x="1238.5" y="736.6" text-anchor="middle">6.7</text><text x="1254.0" y="736.6" text-anchor="middle">6.8</text><text x="1269.5" y="736.6" text-anchor="middle">6.9</text><text x="1285.0" y="736.6" text-anchor="middle">7.0</text><text x="1300.5" y="736.6" text-anchor="middle">7.1</text><text x="1316.0" y="736.6" text-anchor="middle">7.2</text><text x="1331.5" y="736.6" text-anchor="middle">7.3</text><text x="1347.0" y="736.6" text-anchor="middle">7.4</text><text x="1362.5" y="736.6" text-anchor="middle">7.5</text><text x="1378.0" y="736.6" text-anchor="middle">7.6</text><text x="1393.5" y="736.6" text-anchor="middle">7.7</text><text x="1409.0" y="736.6" text-anchor="middle">7.8</text><text x="1424.5" y="736.6" text-anchor="middle">7.9</text></g>
<g font-size="16.67"><text x="820" y="87.67" text-anchor="middle" textLength="428.5">stats at each timestep for test data 82 [signal=1.0]</text><text x="820" y="758.8" text-anchor="middle">Time (s)</text><text transform="translate(139.4,404) rotate(-90)" text-anchor="middle">Whitened strain</text><text transform="translate(1496.6,404) rotate(-90)" text-anchor="middle">Detection probability</text></g>
<g font-size="20.83"><text x="231" y="124">SNR=2.0756893157958984</text><text x="604.3" y="124" textLength="261"><tspan font-style="italic">M</tspan><tspan font-style="italic" font-size="15.2" dy="3.6">c</tspan><tspan dy="-3.6">=5.151534557342529</tspan></text><text x="1068.7" y="124"><tspan font-style="italic">S</tspan>=0.08874092251062393</text></g>
<rect x="1120.5" y="670.5" width="239" height="50" rx="3" ry="3" fill="#EAEAF2" fill-opacity="0.8" stroke="#CCCCCC" stroke-opacity="0.8" stroke-width="1.389"/>
<path d="M1126.2 682.9H1157.0" stroke="#4C72B0" stroke-width="2.083" stroke-linecap="round"/><path d="M1126.2 706.0H1157.0" stroke="#DD8452" stroke-width="2.083" stroke-linecap="round"/>
<g font-size="15.28"><text x="1169.25" y="687.7" textLength="159">waveform with noise</text><text x="1169.25" y="710.5" textLength="184">waveform without noise</text></g>
</svg>
</body></html>
